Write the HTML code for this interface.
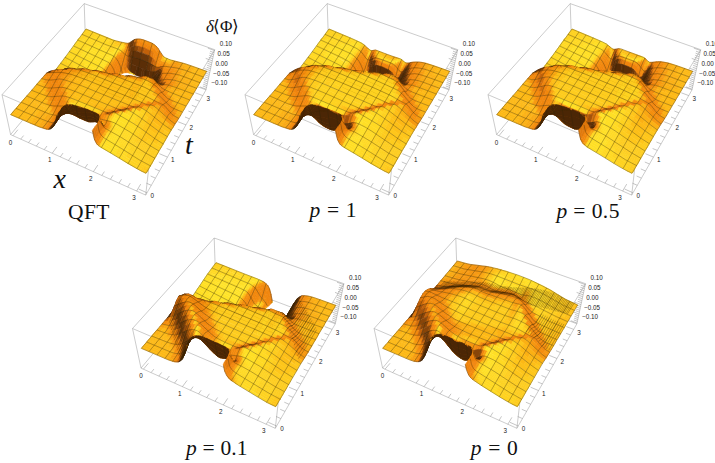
<!DOCTYPE html>
<html><head><meta charset="utf-8"><style>
html,body{margin:0;padding:0;background:#fff}
svg{display:block}
g path{stroke-width:1.8;stroke-linejoin:round}
.m{fill:none;stroke:#2e2505;stroke-opacity:.62;stroke-width:1.65;stroke-linejoin:round}
.r{fill:none;stroke:#2a1e00;stroke-opacity:.6;stroke-width:1.5}
.bx{fill:none;stroke:#999;stroke-width:.5}
.tk{fill:none;stroke:#8c8c8c;stroke-width:.5}
.tl,.tz{font-family:"Liberation Sans",sans-serif;font-size:6.3px;fill:#222}
.ti{font-family:"Liberation Serif",serif;font-size:21.5px;fill:#111}
.it{font-style:italic}
.ax{font-family:"Liberation Serif",serif;font-style:italic;font-size:28px;fill:#111}
.lab{font-family:"Liberation Serif",serif;font-size:17px;fill:#111}

.c0{fill:#4b2605;stroke:#4b2605}
.c1{fill:#4f2805;stroke:#4f2805}
.c2{fill:#542a06;stroke:#542a06}
.c3{fill:#5b2e07;stroke:#5b2e07}
.c4{fill:#633208;stroke:#633208}
.c5{fill:#6b3709;stroke:#6b3709}
.c6{fill:#884509;stroke:#884509}
.c7{fill:#a6530a;stroke:#a6530a}
.c8{fill:#c1610a;stroke:#c1610a}
.c9{fill:#d16d0b;stroke:#d16d0b}
.c10{fill:#e1790c;stroke:#e1790c}
.c11{fill:#f0840d;stroke:#f0840d}
.c12{fill:#f1850d;stroke:#f1850d}
.c13{fill:#f1860d;stroke:#f1860d}
.c14{fill:#f1870d;stroke:#f1870d}
.c15{fill:#f2880d;stroke:#f2880d}
.c16{fill:#f2890e;stroke:#f2890e}
.c17{fill:#f38a0e;stroke:#f38a0e}
.c18{fill:#f38b0e;stroke:#f38b0e}
.c19{fill:#f48c0e;stroke:#f48c0e}
.c20{fill:#f48d0e;stroke:#f48d0e}
.c21{fill:#f48f0e;stroke:#f48f0e}
.c22{fill:#f5910f;stroke:#f5910f}
.c23{fill:#f5930f;stroke:#f5930f}
.c24{fill:#f5960f;stroke:#f5960f}
.c25{fill:#f69810;stroke:#f69810}
.c26{fill:#f69a10;stroke:#f69a10}
.c27{fill:#f79f11;stroke:#f79f11}
.c28{fill:#f9a813;stroke:#f9a813}
.c29{fill:#fbb014;stroke:#fbb014}
.c30{fill:#fdb916;stroke:#fdb916}
.c31{fill:#fdbf18;stroke:#fdbf18}
.c32{fill:#fec61b;stroke:#fec61b}
.c33{fill:#fecc1e;stroke:#fecc1e}
.c34{fill:#fed220;stroke:#fed220}
.c35{fill:#ffd923;stroke:#ffd923}
.c36{fill:#ffdf25;stroke:#ffdf25}
.c37{fill:#ffe328;stroke:#ffe328}
.c38{fill:#ffe52a;stroke:#ffe52a}
.c39{fill:#ffe82d;stroke:#ffe82d}
.cb{fill:#4b2605;stroke:#4b2605}</style></head><body>
<svg width="715" height="463" viewBox="0 0 715 463">
<path class="bx" d="M10.6 134.6L145.7 195.1M145.7 195.1L206.0 89.9M206.0 89.9L85.6 44.6M85.6 44.6L10.6 134.6M2.0 94.7L149.9 157.8M149.9 157.8L214.7 49.7M214.7 49.7L84.2 3.6M84.2 3.6L2.0 94.7M10.6 134.6L2.0 94.7M145.7 195.1L149.9 157.8M206.0 89.9L214.7 49.7M85.6 44.6L84.2 3.6"/>
<path class="tk" d="M13.0 135.7L17.9 129.7M20.7 139.1L23.6 135.6M28.5 142.6L31.3 139.0M36.3 146.1L39.1 142.5M44.2 149.7L47.0 146.0M52.2 153.2L56.9 146.9M60.3 156.9L63.0 153.1M68.4 160.5L71.1 156.8M76.7 164.2L79.3 160.4M85.0 167.9L87.6 164.1M93.4 171.7L97.8 165.1M101.8 175.5L104.4 171.6M110.4 179.3L112.9 175.4M119.0 183.2L121.5 179.2M127.7 187.1L130.2 183.1M136.6 191.1L140.7 184.1M147.0 192.8L138.6 189.0M151.3 185.3L146.4 183.2M155.4 178.1L150.6 176.0M159.5 171.0L154.8 168.9M163.5 164.0L158.8 162.0M167.5 157.1L159.4 153.7M171.3 150.4L166.6 148.5M175.1 143.9L170.4 142.0M178.8 137.4L174.2 135.5M182.4 131.1L177.8 129.3M186.0 124.9L178.2 121.8M189.4 118.8L185.0 117.0M192.9 112.8L188.4 111.1M196.2 107.0L191.8 105.3M199.5 101.2L195.1 99.6M202.8 95.6L195.3 92.8M206.2 89.2L200.0 86.9M206.6 87.4L202.8 86.0M207.0 85.6L203.2 84.2M207.3 83.8L203.6 82.4M207.7 81.9L204.0 80.5M208.1 80.1L201.8 77.8M208.5 78.2L204.7 76.8M208.9 76.3L205.1 74.9M209.3 74.4L205.5 73.0M209.8 72.5L205.9 71.1M210.2 70.6L203.7 68.3M210.6 68.7L206.7 67.3M211.0 66.7L207.1 65.3M211.4 64.7L207.5 63.3M211.8 62.8L207.9 61.3M212.3 60.8L205.7 58.4M212.7 58.7L208.7 57.3M213.1 56.7L209.2 55.3M213.6 54.7L209.6 53.2M214.0 52.6L210.0 51.2M214.5 50.5L207.8 48.1"/>
<g transform="scale(0.333333)">
<path class="c33" d="M255 91l10 4 3-4-10-4z"/>
<path class="c34" d="M265 95l76 31 2-5-75-30z"/>
<path class="c33" d="M341 126l5 2 3-5-6-2z"/>
<path class="c32" d="M346 128l5 1 3-5-5-1z"/>
<path class="c31" d="M351 129l6 1 3-4-6-2z"/>
<path class="c30" d="M357 130l5 2 3-5-5-1z"/>
<path class="c31" d="M362 132l6 1 3-5-6-1z"/>
<path class="c32" d="M368 133l5 2 3-6-5-1z"/>
<path class="c28" d="M373 135l6 2 3-7-6-1z"/>
<path class="c15" d="M379 137l6 0 3-8-6 1z"/>
<path class="c6" d="M385 137l5-3 4-9-6 4z"/>
<path class="c4" d="M390 134l6-3 4-10-6 4z"/>
<path class="c5" d="M396 131l6-3 3-10-5 3z"/>
<path class="c9" d="M402 128l6-2 3-9-6 1z"/>
<path class="c14" d="M408 126l6 0 3-9-6 0z"/>
<path class="c17" d="M414 126l6 1 3-9-6-1z"/>
<path class="c19" d="M420 127l5 1 4-9-6-1z"/>
<path class="c21" d="M425 128l12 4 3-9-11-4z"/>
<path class="c22" d="M437 132l17 8 3-10-17-7z"/>
<path class="c23" d="M454 140l6 3 3-9-6-4z"/>
<path class="c22" d="M460 143l5 5 4-9-6-5z"/>
<path class="c20" d="M465 148l6 6 3-9-5-6z"/>
<path class="c17" d="M471 154l10 16 3-9-10-16z"/>
<path class="c21" d="M481 170l5 6 3-8-5-7z"/>
<path class="c31" d="M486 176l6 3 3-6-6-5z"/>
<path class="c35" d="M492 179l6 2 3-6-6-2z"/>
<path class="c34" d="M498 181l6 2 2-5-5-3z"/>
<path class="c33" d="M504 183l5 1 3-4-6-2z"/>
<path class="c32" d="M509 184l6 2 3-5-6-1z"/>
<path class="c29" d="M515 186l6 1 3-4-6-2z"/>
<path class="c27" d="M521 187l12 3 3-4-12-3z"/>
<path class="c28" d="M533 190l12 3 3-4-12-3z"/>
<path class="c29" d="M545 193l36 12 3-4-36-12z"/>
<path class="c30" d="M581 205l36 13 3-4-36-13z"/>
<path class="c34" d="M252 95l42 18 3-4-42-18z"/>
<path class="c35" d="M294 113l33 13 3-4-33-13z"/>
<path class="c34" d="M327 126l11 4 3-4-11-4z"/>
<path class="c33" d="M338 130l5 2 3-4-5-2z"/>
<path class="c32" d="M343 132l17 5 2-5-16-4z"/>
<path class="c34" d="M360 137l5 2 3-6-6-1z"/>
<path class="c35" d="M365 139l6 2 2-6-5-2z"/>
<path class="c32" d="M371 141l5 3 3-7-6-2z"/>
<path class="c21" d="M376 144l6 1 3-8-6 0z"/>
<path class="c8" d="M382 145l5-1 3-10-5 3z"/>
<path class="c5" d="M387 144l12-5 3-11-12 6z"/>
<path class="c6" d="M399 139l6-1 3-12-6 2z"/>
<path class="c9" d="M405 138l6 0 3-12-6 0z"/>
<path class="c11" d="M411 138l5 1 4-12-6-1z"/>
<path class="c12" d="M416 139l12 3 3-12-11-3z"/>
<path class="c13" d="M428 142l11 4 4-12-12-4z"/>
<path class="c14" d="M439 146l12 6 3-12-11-6z"/>
<path class="c15" d="M451 152l11 8 10 13 4-11-11-14-11-8z"/>
<path class="c17" d="M472 173l6 7 3-10-5-8z"/>
<path class="c23" d="M478 180l5 4 3-8-5-6z"/>
<path class="c30" d="M483 184l12 3 3-6-6-2-6-3z"/>
<path class="c31" d="M495 187l12 2 2-5-11-3z"/>
<path class="c30" d="M507 189l6 2 2-5-6-2z"/>
<path class="c28" d="M513 191l6 1 2-5-6-1z"/>
<path class="c26" d="M519 192l12 2 2-4-12-3z"/>
<path class="c27" d="M531 194l12 3 2-4-12-3z"/>
<path class="c29" d="M543 197l36 12 2-4-36-12z"/>
<path class="c30" d="M579 209l36 13 2-4-36-13z"/>
<path class="c34" d="M249 99l32 14 3-5-32-13z"/>
<path class="c35" d="M281 113l43 18 3-5-43-18z"/>
<path class="c34" d="M324 131l16 6 3-5-16-6z"/>
<path class="c33" d="M340 137l17 5 3-5-17-5z"/>
<path class="c36" d="M357 142l11 5 3-6-11-4z"/>
<path class="c33" d="M368 147l5 4 3-7-5-3z"/>
<path class="c25" d="M373 151l6 3 3-9-6-1z"/>
<path class="c12" d="M379 154l5 1 3-11-5 1z"/>
<path class="c6" d="M384 155l6 0 3-13-6 2z"/>
<path class="c5" d="M390 155l11-2 4-15-12 4z"/>
<path class="c6" d="M401 153l12 1 3-15-11-1z"/>
<path class="c7" d="M413 154l17 6 4-16-18-5z"/>
<path class="c8" d="M430 160l17 7 4-15-17-8z"/>
<path class="c9" d="M447 167l5 4 4-16-5-3z"/>
<path class="c10" d="M452 171l6 4 4-15-6-5z"/>
<path class="c11" d="M458 175l5 5 4-14-5-6z"/>
<path class="c13" d="M463 180l6 5 3-12-5-7z"/>
<path class="c16" d="M469 185l5 5 4-10-6-7z"/>
<path class="c21" d="M474 190l6 3 3-9-5-4z"/>
<path class="c24" d="M480 193l6 0 3-7-6-2z"/>
<path class="c23" d="M486 193l6 0 3-6-6-1z"/>
<path class="c26" d="M492 193l6 1 3-6-6-1z"/>
<path class="c28" d="M498 194l12 1 3-4-12-3z"/>
<path class="c27" d="M510 195l6 1 3-4-6-1z"/>
<path class="c25" d="M516 196l12 3 3-5-12-2z"/>
<path class="c27" d="M528 199l12 2 3-4-12-3z"/>
<path class="c28" d="M540 201l12 4 3-4-12-4z"/>
<path class="c29" d="M552 205l24 8 3-4-24-8z"/>
<path class="c30" d="M576 213l36 14 3-5-36-13z"/>
<path class="c34" d="M246 103l21 9 3-4-21-9z"/>
<path class="c35" d="M267 112l65 28 3-5-65-27z"/>
<path class="c34" d="M332 140l16 5 3-5-16-5z"/>
<path class="c35" d="M348 145l6 2 3-5-6-2z"/>
<path class="c37" d="M354 147l5 3 3-6-5-2z"/>
<path class="c35" d="M359 150l6 4 3-7-6-3z"/>
<path class="c30" d="M365 154l5 5 3-8-5-4z"/>
<path class="c24" d="M370 159l5 5 4-10-6-3z"/>
<path class="c15" d="M375 164l6 3 3-12-5-1z"/>
<path class="c8" d="M381 167l5 2 4-14-6 0z"/>
<path class="c5" d="M386 169l6 1 4-17-6 2z"/>
<path class="c4" d="M392 170l11 2 17 5 4-19-17-5-11 0z"/>
<path class="c5" d="M420 177l23 10 4-20-23-9z"/>
<path class="c6" d="M443 187l11 6 4-18-11-8z"/>
<path class="c8" d="M454 193l6 3 3-16-5-5z"/>
<path class="c9" d="M460 196l5 4 4-15-6-5z"/>
<path class="c12" d="M465 200l6 2 3-12-5-5z"/>
<path class="c15" d="M471 202l6 0 3-9-6-3z"/>
<path class="c14" d="M477 202l6-2 3-7-6 0z"/>
<path class="c15" d="M483 200l6-1 3-6-6 0z"/>
<path class="c20" d="M489 199l6 0 3-5-6-1z"/>
<path class="c25" d="M495 199l6 1 3-6-6 0z"/>
<path class="c26" d="M501 200l6 0 3-5-6-1z"/>
<path class="c25" d="M507 200l6 1 3-5-6-1z"/>
<path class="c24" d="M513 201l12 2 3-4-12-3z"/>
<path class="c26" d="M525 203l12 2 3-4-12-2z"/>
<path class="c28" d="M537 205l12 4 3-4-12-4z"/>
<path class="c29" d="M549 209l25 8 2-4-24-8z"/>
<path class="c30" d="M574 217l36 14 2-4-36-14z"/>
<path class="c34" d="M243 108l21 9 3-5-21-9z"/>
<path class="c35" d="M264 117l65 27 3-4-65-28z"/>
<path class="c34" d="M329 144l11 4 3-5-11-3z"/>
<path class="c35" d="M340 148l5 2 3-5-5-2z"/>
<path class="c36" d="M345 150l6 3 3-6-6-2z"/>
<path class="c37" d="M351 153l5 3 3-6-5-3z"/>
<path class="c33" d="M356 156l6 4 3-6-6-4z"/>
<path class="c25" d="M362 160l5 7 3-8-5-5z"/>
<path class="c20" d="M367 167l5 7 3-10-5-5z"/>
<path class="c15" d="M372 174l6 6 3-13-6-3z"/>
<path class="c9" d="M378 180l5 5 3-16-5-2z"/>
<path class="c6" d="M383 185l5 4 4-19-6-1z"/>
<path class="c4" d="M388 189l6 3 4-21-6-1z"/>
<path class="c3" d="M394 192l44 18 5-23-28-12-17-4z"/>
<path class="c4" d="M438 210l12 4 4-21-11-6z"/>
<path class="c5" d="M450 214l5 1 5-19-6-3z"/>
<path class="c6" d="M455 215l6 0 4-15-5-4z"/>
<path class="c7" d="M461 215l6-1 13-6 3-8-6 2-6 0-6-2z"/>
<path class="c8" d="M480 208l6-2 3-7-6 1z"/>
<path class="c14" d="M486 206l6-1 3-6-6 0z"/>
<path class="c21" d="M492 205l6 0 3-5-6-1z"/>
<path class="c23" d="M498 205l25 2 2-4-24-3z"/>
<path class="c26" d="M523 207l12 3 2-5-12-2z"/>
<path class="c28" d="M535 210l12 3 2-4-12-4z"/>
<path class="c29" d="M547 213l24 8 3-4-25-8z"/>
<path class="c30" d="M571 221l36 14 3-4-36-14z"/>
<path class="c34" d="M240 112l10 4 3-4-10-4z"/>
<path class="c35" d="M250 116l65 29 27 10 3-5-27-10-65-28z"/>
<path class="c37" d="M342 155l6 3 3-5-6-3z"/>
<path class="c36" d="M348 158l5 4 3-6-5-3z"/>
<path class="c29" d="M353 162l6 5 3-7-6-4z"/>
<path class="c21" d="M359 167l5 8 3-8-5-7z"/>
<path class="c16" d="M364 175l5 9 3-10-5-7z"/>
<path class="c13" d="M369 184l5 10 4-14-6-6z"/>
<path class="c10" d="M374 194l6 9 3-18-5-5z"/>
<path class="c7" d="M380 203l5 7 3-21-5-4z"/>
<path class="c5" d="M385 210l5 5 4-23-6-3z"/>
<path class="c3" d="M390 215l11 8 4-26-11-5zM401 223l4 2 1 0 4-26-5-2z"/>
<path class="c2" d="M412 227l4-26-6-2-4 26zM417 229l5-26-6-2-4 26zM423 231l4-25-5-3-5 26z"/>
<path class="c3" d="M428 234l5-26-6-2-4 25z"/>
<path class="c2" d="M432 235l2 0 4-25-5-2-5 26zM434 235l11 1 5-22-12-4z"/>
<path class="c3" d="M445 236l6-1 6-4 20-16 3-7-13 6-6 1-11-1z"/>
<path class="c5" d="M477 215l6-3 3-6-6 2z"/>
<path class="c10" d="M483 212l6-2 3-5-6 1z"/>
<path class="c17" d="M489 210l7 0 2-5-6 0z"/>
<path class="c21" d="M496 210l12 0 3-4-13-1z"/>
<path class="c22" d="M508 210l12 2 3-5-12-1z"/>
<path class="c25" d="M520 212l12 2 3-4-12-3z"/>
<path class="c28" d="M532 214l12 3 3-4-12-3z"/>
<path class="c29" d="M544 217l24 9 3-5-24-8z"/>
<path class="c30" d="M568 226l37 13 2-4-36-14z"/>
<path class="c34" d="M236 116l11 5 3-5-10-4z"/>
<path class="c35" d="M247 121l43 19 3-5-43-19z"/>
<path class="c36" d="M290 140l22 9 3-4-22-10z"/>
<path class="c35" d="M312 149l22 9 3-5-22-8z"/>
<path class="c36" d="M334 158l5 3 3-6-5-2z"/>
<path class="c37" d="M339 161l6 2 3-5-6-3z"/>
<path class="c35" d="M345 163l5 5 3-6-5-4z"/>
<path class="c25" d="M350 168l6 6 3-7-6-5z"/>
<path class="c17" d="M356 174l5 9 3-8-5-8z"/>
<path class="c14" d="M361 183l5 12 3-11-5-9z"/>
<path class="c12" d="M366 195l5 13 3-14-5-10z"/>
<path class="c10" d="M371 208l4 10 2 0 3-15-6-9z"/>
<path class="c11" d="M383 218l2-8-5-7-3 15z"/>
<path class="c22" d="M389 220l1-5-5-5-2 8z"/>
<path class="c35" d="M395 221l0-1-5-5-1 5z"/>
<path class="c36" d="M401 223l-6-3 0 1z"/>
<path class="c32" d="M405 225l-4-2z"/>
<path class="c30" d="M434 236l0-1-2 0z"/>
<path class="c31" d="M439 238l0-2-5-1 0 1z"/>
<path class="c26" d="M444 241l1-5-6 0 0 2z"/>
<path class="c13" d="M449 244l2-9-6 1-1 5z"/>
<path class="c5" d="M453 248l4-17-6 4-2 9z"/>
<path class="c1" d="M453 248l7-8 4-14-7 5-4 17zM460 240l14-17 3-8-13 11z"/>
<path class="c3" d="M474 223l6-5 3-6-6 3z"/>
<path class="c6" d="M480 218l7-2 2-6-6 2z"/>
<path class="c14" d="M487 216l6-1 3-5-7 0z"/>
<path class="c18" d="M493 215l6 0 3-5-6 0z"/>
<path class="c19" d="M499 215l6 0 3-5-6 0z"/>
<path class="c20" d="M505 215l12 1 3-4-12-2z"/>
<path class="c24" d="M517 216l13 2 2-4-12-2z"/>
<path class="c27" d="M530 218l12 3 2-4-12-3z"/>
<path class="c29" d="M542 221l24 9 2-4-24-9z"/>
<path class="c30" d="M566 230l36 13 3-4-37-13z"/>
<path class="c35" d="M233 120l43 20 3-5-43-19z"/>
<path class="c36" d="M276 140l60 26 3-5-60-26z"/>
<path class="c37" d="M336 166l6 3 3-6-6-2z"/>
<path class="c33" d="M342 169l5 5 3-6-5-5z"/>
<path class="c22" d="M347 174l6 7 3-7-6-6z"/>
<path class="c15" d="M353 181l5 10 3-8-5-9z"/>
<path class="c12" d="M358 191l5 15 3-11-5-12z"/>
<path class="c11" d="M363 206l4 14 1 0 3-12-5-13z"/>
<path class="c21" d="M375 218l-4-10-3 12z"/>
<path class="c3" d="M456 254l0-1 4-13-7 8z"/>
<path class="c0" d="M456 253l8-12 3-10-7 9z"/>
<path class="c1" d="M464 241l7-10 6-6 3-7-6 5-7 8z"/>
<path class="c4" d="M477 225l7-3 3-6-7 2z"/>
<path class="c10" d="M484 222l6-2 3-5-6 1z"/>
<path class="c16" d="M490 220l6 0 3-5-6 0z"/>
<path class="c17" d="M496 220l6 0 3-5-6 0z"/>
<path class="c19" d="M502 220l13 0 2-4-12-1z"/>
<path class="c24" d="M515 220l12 2 3-4-13-2z"/>
<path class="c27" d="M527 222l12 4 3-5-12-3z"/>
<path class="c29" d="M539 226l24 8 3-4-24-9z"/>
<path class="c30" d="M563 234l37 14 2-5-36-13z"/>
<path class="c35" d="M230 125l43 19 3-4-43-20z"/>
<path class="c36" d="M273 144l55 24 3-5-55-23z"/>
<path class="c37" d="M328 168l11 6 3-5-11-6z"/>
<path class="c30" d="M339 174l5 6 3-6-5-5z"/>
<path class="c19" d="M344 180l6 8 3-7-6-7z"/>
<path class="c13" d="M350 188l5 12 3-9-5-10z"/>
<path class="c11" d="M355 200l5 16 3-10-5-15z"/>
<path class="c13" d="M360 216l2 7 5-3-4-14z"/>
<path class="c29" d="M456 255l0-2 0 1z"/>
<path class="c0" d="M456 259l4-8 4-10-8 12 0 2zM460 251l7-12 4-8-7 10z"/>
<path class="c1" d="M467 239l7-7 3-7-6 6z"/>
<path class="c3" d="M474 232l7-4 3-6-7 3z"/>
<path class="c8" d="M481 228l6-2 3-6-6 2z"/>
<path class="c13" d="M487 226l6-1 3-5-6 0z"/>
<path class="c15" d="M493 225l7 0 2-5-6 0z"/>
<path class="c18" d="M500 225l12 0 3-5-13 0z"/>
<path class="c23" d="M512 225l12 2 3-5-12-2z"/>
<path class="c27" d="M524 227l12 3 3-4-12-4z"/>
<path class="c29" d="M536 230l37 13 3-5-37-12z"/>
<path class="c30" d="M573 243l24 9 3-4-24-10z"/>
<path class="c35" d="M227 129l32 15 4-5-33-14z"/>
<path class="c36" d="M259 144l66 29 3-5-65-29z"/>
<path class="c37" d="M325 173l5 3 3-5-5-3z"/>
<path class="c36" d="M330 176l6 4 3-6-6-3z"/>
<path class="c28" d="M336 180l5 6 3-6-5-6z"/>
<path class="c17" d="M341 186l6 9 3-7-6-8z"/>
<path class="c12" d="M347 195l5 13 3-8-5-12z"/>
<path class="c11" d="M352 208l5 18 0-1 3-9-5-16z"/>
<path class="c28" d="M362 223l-2-7-3 9z"/>
<path class="c2" d="M456 264l1-3 3-10-4 8z"/>
<path class="c0" d="M457 261l7-14 7-9 3-6-7 7-7 12z"/>
<path class="c2" d="M471 238l7-5 3-5-7 4z"/>
<path class="c6" d="M478 233l6-2 3-5-6 2z"/>
<path class="c11" d="M484 231l6-1 3-5-6 1z"/>
<path class="c13" d="M490 230l7-1 3-4-7 0z"/>
<path class="c16" d="M497 229l12 0 3-4-12 0z"/>
<path class="c22" d="M509 229l13 2 2-4-12-2z"/>
<path class="c27" d="M522 231l12 3 2-4-12-3z"/>
<path class="c29" d="M534 234l36 13 3-4-37-13z"/>
<path class="c30" d="M570 247l25 9 2-4-24-9z"/>
<path class="c35" d="M224 133l32 15 3-4-32-15z"/>
<path class="c36" d="M256 148l60 28 3-5-60-27z"/>
<path class="c37" d="M316 176l11 6 3-6-11-5z"/>
<path class="c35" d="M327 182l6 4 3-6-6-4z"/>
<path class="c26" d="M333 186l5 6 3-6-5-6z"/>
<path class="c16" d="M338 192l6 10 3-7-6-9z"/>
<path class="c12" d="M344 202l5 15 3-9-5-13z"/>
<path class="c11" d="M349 217l3 12 5-3-5-18z"/>
<path class="c21" d="M455 267l2-6-1 3z"/>
<path class="c0" d="M455 269l6-14 3-8-7 14-2 6zM461 255l7-10 3-7-7 9z"/>
<path class="c1" d="M468 245l7-6 3-6-7 5z"/>
<path class="c5" d="M475 239l6-2 3-6-6 2z"/>
<path class="c9" d="M481 237l7-2 2-5-6 1z"/>
<path class="c12" d="M488 235l6-1 3-5-7 1z"/>
<path class="c15" d="M494 234l12 0 3-5-12 0z"/>
<path class="c21" d="M506 234l13 1 3-4-13-2z"/>
<path class="c26" d="M519 235l12 3 3-4-12-3z"/>
<path class="c28" d="M531 238l12 4 3-4-12-4z"/>
<path class="c29" d="M543 242l25 9 2-4-24-9z"/>
<path class="c30" d="M568 251l24 9 3-4-25-9z"/>
<path class="c35" d="M221 138l32 15 3-5-32-15z"/>
<path class="c36" d="M253 153l60 28 3-5-60-28z"/>
<path class="c37" d="M313 181l11 6 3-5-11-6z"/>
<path class="c34" d="M324 187l6 4 3-5-6-4z"/>
<path class="c23" d="M330 191l5 7 3-6-5-6z"/>
<path class="c15" d="M335 198l6 10 3-6-6-10z"/>
<path class="c11" d="M341 208l5 17 3-8-5-15z"/>
<path class="c13" d="M346 225l2 7 4-3-3-12z"/>
<path class="c0" d="M453 273l5-10 3-8-6 14zM458 263l7-12 3-6-7 10z"/>
<path class="c1" d="M465 251l7-6 3-6-7 6z"/>
<path class="c4" d="M472 245l6-3 3-5-6 2z"/>
<path class="c7" d="M478 242l7-2 3-5-7 2z"/>
<path class="c10" d="M485 240l6-1 3-5-6 1z"/>
<path class="c13" d="M491 239l13-1 2-4-12 0z"/>
<path class="c20" d="M504 238l12 2 3-5-13-1z"/>
<path class="c26" d="M516 240l12 3 3-5-12-3z"/>
<path class="c28" d="M528 243l13 3 2-4-12-4z"/>
<path class="c29" d="M541 246l24 9 3-4-25-9z"/>
<path class="c30" d="M565 255l25 10 2-5-24-9z"/>
<path class="c35" d="M218 142l32 15 3-4-32-15z"/>
<path class="c36" d="M250 157l60 29 3-5-60-28z"/>
<path class="c37" d="M310 186l11 6 3-5-11-6z"/>
<path class="c32" d="M321 192l6 5 3-6-6-4z"/>
<path class="c22" d="M327 197l5 7 3-6-5-7z"/>
<path class="c14" d="M332 204l6 11 3-7-6-10z"/>
<path class="c11" d="M338 215l5 18 3-8-5-17z"/>
<path class="c21" d="M343 233l1 3 4-4-2-7z"/>
<path class="c0" d="M452 278l3-8 3-7-5 10zM455 270l7-12 3-7-7 12z"/>
<path class="c1" d="M462 258l7-7 3-6-7 6z"/>
<path class="c3" d="M469 251l7-4 2-5-6 3z"/>
<path class="c6" d="M476 247l6-2 3-5-7 2z"/>
<path class="c8" d="M482 245l6-1 3-5-6 1z"/>
<path class="c12" d="M488 244l13-1 3-5-13 1z"/>
<path class="c19" d="M501 243l12 1 3-4-12-2z"/>
<path class="c25" d="M513 244l13 3 2-4-12-3z"/>
<path class="c28" d="M526 247l12 4 3-5-13-3z"/>
<path class="c29" d="M538 251l37 13 3-4-37-14z"/>
<path class="c30" d="M575 264l12 5 3-4-12-5z"/>
<path class="c35" d="M215 146l32 16 3-5-32-15z"/>
<path class="c36" d="M247 162l55 26 3-5-55-26z"/>
<path class="c37" d="M302 188l11 6 3-5-11-6z"/>
<path class="c36" d="M313 194l5 4 3-6-5-3z"/>
<path class="c31" d="M318 198l6 4 3-5-6-5z"/>
<path class="c20" d="M324 202l5 8 3-6-5-7z"/>
<path class="c13" d="M329 210l6 12 3-7-6-11z"/>
<path class="c11" d="M335 222l5 17 1-1 2-5-5-18z"/>
<path class="c36" d="M344 236l-1-3-2 5z"/>
<path class="c1" d="M450 282l2-4 3-8-3 8z"/>
<path class="c0" d="M452 278l7-14 7-7 3-6-7 7-7 12z"/>
<path class="c2" d="M466 257l7-5 3-5-7 4z"/>
<path class="c5" d="M473 252l6-2 3-5-6 2z"/>
<path class="c7" d="M479 250l7-1 2-5-6 1z"/>
<path class="c10" d="M486 249l12-2 3-4-13 1z"/>
<path class="c18" d="M498 247l13 1 2-4-12-1z"/>
<path class="c24" d="M511 248l12 3 3-4-13-3z"/>
<path class="c27" d="M523 251l12 4 3-4-12-4z"/>
<path class="c29" d="M535 255l25 9 3-4-25-9z"/>
<path class="c30" d="M560 264l25 9 2-4-24-9z"/>
<path class="c35" d="M208 155l33 16 6-9-32-16z"/>
<path class="c36" d="M241 171l55 27 6-10-55-26z"/>
<path class="c37" d="M296 198l11 6 6-10-11-6z"/>
<path class="c36" d="M307 204l5 4 6-10-5-4z"/>
<path class="c29" d="M312 208l6 5 6-11-6-4z"/>
<path class="c18" d="M318 213l5 9 6-12-5-8z"/>
<path class="c12" d="M323 222l6 13 6-13-6-12zM329 235l3 11 8-7-5-17z"/>
<path class="c8" d="M446 291l0-1 6-12-2 4z"/>
<path class="cb" d="M446 290l8-15 5-11-7 14z"/>
<path class="c0" d="M454 275l7-10 5-8-7 7z"/>
<path class="c1" d="M461 265l6-5 6-8-7 5z"/>
<path class="c2" d="M467 260l7-3 5-7-6 2z"/>
<path class="c3" d="M474 257l6-2 6-6-7 1z"/>
<path class="c6" d="M480 255l13-1 5-7-12 2z"/>
<path class="c14" d="M493 254l13 1 5-7-13-1z"/>
<path class="c22" d="M506 255l12 4 5-8-12-3z"/>
<path class="c27" d="M518 259l12 4 5-8-12-4z"/>
<path class="c29" d="M530 263l25 10 5-9-25-9z"/>
<path class="c30" d="M555 273l25 9 5-9-25-9z"/>
<path class="c35" d="M202 164l44 22 6-9-44-22z"/>
<path class="c36" d="M246 186l44 22 6-10-44-21z"/>
<path class="c37" d="M290 208l5 3 6-10-5-3z"/>
<path class="c36" d="M295 211l6 3 6-10-6-3z"/>
<path class="c34" d="M301 214l5 5 6-11-5-4z"/>
<path class="c26" d="M306 219l6 5 6-11-6-5z"/>
<path class="c17" d="M312 224l5 9 6-11-5-9z"/>
<path class="c12" d="M317 233l6 15 6-13-6-13z"/>
<path class="c15" d="M323 248l1 6 8-8-3-11z"/>
<path class="cb" d="M436 298l6-17 4 9 0 1zM442 281l8-16 7-9 6-4 7 0 6 1 4 2-13 5-6 5-7 10-8 15z"/>
<path class="c5" d="M476 253l12 5 5-4-13 1z"/>
<path class="c16" d="M488 258l12 4 6-7-13-1z"/>
<path class="c26" d="M500 262l12 5 6-8-12-4z"/>
<path class="c29" d="M512 267l25 10 5-9-24-9z"/>
<path class="c30" d="M537 277l37 14 6-9-38-14z"/>
<path class="c35" d="M195 172l55 29 7-10-55-27z"/>
<path class="c36" d="M250 201l45 23 6-10-44-23z"/>
<path class="c33" d="M295 224l5 5 6-10-5-5z"/>
<path class="c24" d="M300 229l6 6 6-11-6-5z"/>
<path class="c15" d="M306 235l5 10 6-12-5-9z"/>
<path class="c12" d="M311 245l6 15 6-12-6-15z"/>
<path class="c27" d="M317 260l0 1 7-7-1-6z"/>
<path class="cb" d="M414 300l5-13 0 13zM419 287l7-20 0 32-7 1zM426 267l8-16 0 47-8 1zM434 251l7-11 1 41-6 17-2 0zM441 240l7-5 6 0 6 3 12 11 4 4-6-1-7 0-6 4-7 9-8 16z"/>
<path class="c10" d="M472 249l11 12 5-3-12-5z"/>
<path class="c20" d="M483 261l12 9 5-8-12-4z"/>
<path class="c28" d="M495 270l12 6 5-9-12-5z"/>
<path class="c29" d="M507 276l12 5 6-9-13-5z"/>
<path class="c30" d="M519 281l50 19 5-9-49-19z"/>
<path class="c34" d="M189 181l11 6 6-9-11-6z"/>
<path class="c35" d="M200 187l55 29 6-9-55-29z"/>
<path class="c36" d="M255 216l28 15 6-10-28-14z"/>
<path class="c35" d="M283 231l5 3 7-10-6-3z"/>
<path class="c32" d="M288 234l6 5 6-10-5-5z"/>
<path class="c23" d="M294 239l6 6 6-10-6-6z"/>
<path class="c15" d="M300 245l5 10 6-10-5-10z"/>
<path class="c12" d="M305 255l5 14 4-4 3-5-6-15z"/>
<path class="c33" d="M317 261l0-1-3 5z"/>
<path class="c4" d="M376 295l2-5 0 5z"/>
<path class="cb" d="M378 290l7-15 0 21-7-1zM385 275l6-14 0 36-6-1zM391 261l7-11 0 48-7-1zM398 250l7-8 0 57-7-1zM405 242l6-5 0 63-6-1zM411 237l7-4 1 54-5 13-3 0zM418 233l12-3 7 0 12 5 5 0-6 0-7 5-7 11-15 36z"/>
<path class="c9" d="M449 235l6 3 5 0-6-3z"/>
<path class="c11" d="M455 238l12 11 11 14 5-2-23-23z"/>
<path class="c14" d="M478 263l12 12 5-5-12-9z"/>
<path class="c23" d="M490 275l11 9 6-8-12-6z"/>
<path class="c29" d="M501 284l13 5 5-8-12-5z"/>
<path class="c30" d="M514 289l50 20 5-9-50-19z"/>
<path class="c34" d="M182 190l33 17 7-9-33-17z"/>
<path class="c35" d="M215 207l56 30 6-9-55-30z"/>
<path class="c34" d="M271 237l6 3 6-9-6-3z"/>
<path class="c33" d="M277 240l5 3 6-9-5-3z"/>
<path class="c29" d="M282 243l6 4 6-8-6-5z"/>
<path class="c21" d="M288 247l5 5 7-7-6-6z"/>
<path class="c14" d="M293 252l6 9 6-6-5-10z"/>
<path class="c12" d="M299 261l6 12 4-2 1-2-5-14z"/>
<path class="c21" d="M305 273l2 5 2-7z"/>
<path class="c1" d="M335 290l3-8 1 8z"/>
<path class="cb" d="M338 282l6-14 1 23-6-1zM344 268l7-13 1 37-7-1zM351 255l6-10 1 48-6-1zM357 245l6-8 2 57-7-1zM363 237l6-5 2 63-6-1zM369 232l6-3 3 61-2 5-5 0zM375 229l13-2 12 2 12 3 6 1-7 4-6 5-7 8-7 11-13 29z"/>
<path class="c4" d="M412 232l6 2 6-3-6 2z"/>
<path class="c8" d="M418 234l7 2 5-6-6 1z"/>
<path class="c15" d="M425 236l6 2 6-8-7 0z"/>
<path class="c24" d="M431 238l6 2 6-8-6-2z"/>
<path class="c28" d="M437 240l6 3 6-8-6-3z"/>
<path class="c27" d="M443 243l6 3 6-8-6-3z"/>
<path class="c23" d="M449 246l6 3 6-6-6-5z"/>
<path class="c17" d="M455 249l6 4 6-4-6-6z"/>
<path class="c13" d="M461 253l12 11 5-1-11-14z"/>
<path class="c12" d="M473 264l12 13 5-2-12-12z"/>
<path class="c15" d="M485 277l11 12 5-5-11-9z"/>
<path class="c24" d="M496 289l12 9 6-9-13-5z"/>
<path class="c29" d="M508 298l13 5 5-9-12-5z"/>
<path class="c30" d="M521 303l37 15 6-9-38-15z"/>
<path class="c34" d="M176 198l55 30 7-9-56-29z"/>
<path class="c32" d="M231 228l11 5 7-8-11-6z"/>
<path class="c28" d="M242 233l11 5 7-7-11-6z"/>
<path class="c19" d="M253 238l12 3 6-4-11-6z"/>
<path class="c10" d="M265 241l5 0 7-1-6-3z"/>
<path class="c6" d="M270 241l6 0 6 2-5-3z"/>
<path class="cb" d="M276 241l22-2 7 34-6-12-6-9-11-9zM298 239l6 0 5 42-2-3-2-5zM304 239l6-2 4 47-5-3zM310 237l6-3 4 53-6-3zM316 234l5-5 5 59-6-1zM321 229l6-3 5 63-6-1zM327 226l6-3 5 59-3 8-3-1zM333 223l6-1 12 0 25 7 6-1-7 1-6 3-6 5-6 8-6 10-13 27z"/>
<path class="c7" d="M376 229l6 2 6-4-6 1z"/>
<path class="c12" d="M382 231l6 2 6-5-6-1z"/>
<path class="c18" d="M388 233l6 3 6-7-6-1z"/>
<path class="c22" d="M394 236l6 2 6-7-6-2z"/>
<path class="c25" d="M400 238l6 2 6-8-6-1z"/>
<path class="c27" d="M406 240l13 5 6-9-13-4z"/>
<path class="c28" d="M419 245l6 2 6-9-6-2z"/>
<path class="c31" d="M425 247l6 2 6-9-6-2z"/>
<path class="c32" d="M431 249l12 6 6-9-12-6z"/>
<path class="c31" d="M443 255l7 3 5-9-6-3z"/>
<path class="c29" d="M450 258l6 3 5-8-6-4z"/>
<path class="c20" d="M456 261l12 7 5-4-12-11z"/>
<path class="c14" d="M468 268l12 11 5-2-12-13z"/>
<path class="c13" d="M480 279l11 13 5-3-11-12z"/>
<path class="c16" d="M491 292l12 12 5-6-12-9z"/>
<path class="c25" d="M503 304l12 8 6-9-13-5z"/>
<path class="c29" d="M515 312l13 5 5-9-12-5z"/>
<path class="c30" d="M528 317l25 10 5-9-25-10z"/>
<path class="c33" d="M169 207l22 11 7-8-22-12z"/>
<path class="c32" d="M191 218l11 6 7-8-11-6z"/>
<path class="c28" d="M202 224l11 5 7-7-11-6z"/>
<path class="c20" d="M213 229l11 3 7-4-11-6z"/>
<path class="c8" d="M224 232l11 0 7 1-11-5z"/>
<path class="cb" d="M235 232l11-3 22-14 12-3 11 0 36 10 6 1-6 3-17 11-6 2-34 2-17-3-11-5z"/>
<path class="c4" d="M327 222l6 2 6-2-6 1z"/>
<path class="c8" d="M333 224l6 2 6-4-6 0z"/>
<path class="c13" d="M339 226l6 2 6-6-6 0z"/>
<path class="c18" d="M345 228l6 2 6-6-6-2z"/>
<path class="c22" d="M351 230l6 3 7-8-7-1z"/>
<path class="c25" d="M357 233l6 2 7-8-6-2z"/>
<path class="c27" d="M363 235l6 2 7-8-6-2z"/>
<path class="c28" d="M369 237l7 3 6-9-6-2z"/>
<path class="c29" d="M376 240l6 2 6-9-6-2z"/>
<path class="c30" d="M382 242l37 14 6-9-37-14z"/>
<path class="c31" d="M419 256l6 2 6-9-6-2z"/>
<path class="c32" d="M425 258l25 12 6-9-25-12z"/>
<path class="c29" d="M450 270l12 6 6-8-12-7z"/>
<path class="c20" d="M462 276l12 8 6-5-12-11z"/>
<path class="c14" d="M474 284l12 11 12 13 5-4-23-25z"/>
<path class="c18" d="M498 308l12 11 5-7-12-8z"/>
<path class="c26" d="M510 319l12 7 6-9-13-5z"/>
<path class="c29" d="M522 326l13 5 5-9-12-5z"/>
<path class="c30" d="M535 331l12 5 6-9-13-5z"/>
<path class="c29" d="M162 215l11 5 7-7-11-6z"/>
<path class="c22" d="M173 220l11 3 7-5-11-5z"/>
<path class="c10" d="M184 223l11 2 7-1-11-6z"/>
<path class="cb" d="M195 225l11-3 21-11 11-4 12-1 5 1 18 4 7 1-12 3-22 14-11 3-11 0-11-3-11-5z"/>
<path class="c5" d="M273 211l6 2 7-2-6 1z"/>
<path class="c8" d="M279 213l6 2 6-3-5-1z"/>
<path class="c12" d="M285 215l6 2 6-4-6-1z"/>
<path class="c15" d="M291 217l6 3 6-5-6-2z"/>
<path class="c18" d="M297 220l6 2 6-6-6-1z"/>
<path class="c20" d="M303 222l6 3 6-7-6-2z"/>
<path class="c23" d="M309 225l6 2 6-7-6-2z"/>
<path class="c25" d="M315 227l6 2 6-7-6-2z"/>
<path class="c27" d="M321 229l6 3 6-8-6-2z"/>
<path class="c28" d="M327 232l6 2 6-8-6-2z"/>
<path class="c29" d="M333 234l6 3 6-9-6-2z"/>
<path class="c30" d="M339 237l36 14 7-9-37-14z"/>
<path class="c31" d="M375 251l19 8 6-10-18-7z"/>
<path class="c30" d="M394 259l18 6 7-9-19-7z"/>
<path class="c31" d="M412 265l7 3 6-10-6-2z"/>
<path class="c32" d="M419 268l37 17 6-9-37-18z"/>
<path class="c29" d="M456 285l13 7 5-8-12-8z"/>
<path class="c21" d="M469 292l12 8 5-5-12-11z"/>
<path class="c15" d="M481 300l12 11 5-3-12-13z"/>
<path class="c14" d="M493 311l12 11 5-3-12-11z"/>
<path class="c17" d="M505 322l12 11 5-7-12-7z"/>
<path class="c26" d="M517 333l12 7 6-9-13-5z"/>
<path class="c29" d="M529 340l13 6 5-10-12-5z"/>
<path class="c6" d="M155 219l10-1 8 2-11-5z"/>
<path class="cb" d="M165 218l32-12 11-1 11 0 12 3 7-1-11 4-21 11-11 3-11-2-11-3z"/>
<path class="c7" d="M231 208l12 3 7-5-12 1z"/>
<path class="c14" d="M243 211l5 2 7-6-5-1z"/>
<path class="c18" d="M248 213l6 2 7-7-6-1z"/>
<path class="c22" d="M254 215l6 2 7-8-6-1z"/>
<path class="c25" d="M260 217l6 2 7-8-6-2z"/>
<path class="c27" d="M266 219l6 2 7-8-6-2z"/>
<path class="c29" d="M272 221l6 2 7-8-6-2z"/>
<path class="c30" d="M278 223l6 3 7-9-6-2z"/>
<path class="c31" d="M284 226l6 3 7-9-6-3z"/>
<path class="c30" d="M290 229l42 17 7-9-42-17z"/>
<path class="c31" d="M332 246l62 24 6-9-61-24z"/>
<path class="c30" d="M394 270l12 5 6-10-12-4z"/>
<path class="c31" d="M406 275l6 2 7-9-7-3z"/>
<path class="c32" d="M412 277l26 12 25 12 6-9-25-13-25-11z"/>
<path class="c28" d="M463 301l12 7 6-8-12-8z"/>
<path class="c16" d="M475 308l13 6 5-3-12-11z"/>
<path class="c12" d="M488 314l12 11 5-3-12-11z"/>
<path class="c14" d="M500 325l12 13 5-5-12-11z"/>
<path class="c21" d="M512 338l12 10 5-8-12-7z"/>
<path class="c28" d="M524 348l12 7 6-9-13-6z"/>
<path class="cb" d="M147 215l10-3 11-2 11-1 11 0 7-3-32 12-10 1z"/>
<path class="c6" d="M190 209l11 1 7-5-11 1z"/>
<path class="c14" d="M201 210l11 2 7-7-11 0z"/>
<path class="c21" d="M212 212l12 4 7-8-12-3z"/>
<path class="c26" d="M224 216l12 3 7-8-12-3z"/>
<path class="c28" d="M236 219l6 2 6-8-5-2z"/>
<path class="c29" d="M242 221l17 7 7-9-18-6z"/>
<path class="c30" d="M259 228l6 2 7-9-6-2z"/>
<path class="c31" d="M265 230l6 2 7-9-6-2z"/>
<path class="c32" d="M271 232l6 3 7-9-6-3z"/>
<path class="c31" d="M277 235l110 45 7-10-110-44z"/>
<path class="c30" d="M387 280l13 4 6-9-12-5z"/>
<path class="c31" d="M400 284l12 5 7-9-13-5z"/>
<path class="c32" d="M412 289l32 15 6-9-31-15z"/>
<path class="c31" d="M444 304l13 6 6-9-13-6z"/>
<path class="c20" d="M457 310l13 3 5-5-12-7z"/>
<path class="c17" d="M470 313l12 7 6-6-13-6z"/>
<path class="c18" d="M482 320l13 12 5-7-12-11z"/>
<path class="c17" d="M495 332l11 12 6-6-12-13z"/>
<path class="c19" d="M506 344l12 11 6-7-12-10z"/>
<path class="c25" d="M518 355l13 9 5-9-12-7z"/>
<path class="c4" d="M139 220l11-1 7-7-10 3z"/>
<path class="c9" d="M150 219l11-1 7-8-11 2z"/>
<path class="c11" d="M161 218l10-1 8-8-11 1z"/>
<path class="c14" d="M171 217l12 0 7-8-11 0z"/>
<path class="c19" d="M183 217l11 1 7-8-11-1z"/>
<path class="c23" d="M194 218l11 3 7-9-11-2z"/>
<path class="c27" d="M205 221l12 3 7-8-12-4z"/>
<path class="c28" d="M217 224l12 4 7-9-12-3z"/>
<path class="c29" d="M229 228l12 5 7-9-12-5z"/>
<path class="c30" d="M241 233l18 6 6-9-17-6z"/>
<path class="c31" d="M259 239l128 52 7-9-129-52z"/>
<path class="c30" d="M387 291l7 3 6-10-6-2z"/>
<path class="c31" d="M394 294l12 5 6-10-12-5z"/>
<path class="c32" d="M406 299l19 9 6-10-19-9z"/>
<path class="c30" d="M425 308l13 5 6-9-13-6z"/>
<path class="c17" d="M438 313l13 2 6-5-13-6z"/>
<path class="c15" d="M451 315l13 5 6-7-13-3z"/>
<path class="c28" d="M464 320l12 10 6-10-12-7z"/>
<path class="c26" d="M476 330l13 11 6-9-13-12z"/>
<path class="c22" d="M489 341l12 11 5-8-11-12z"/>
<path class="c21" d="M501 352l12 11 5-8-12-11z"/>
<path class="c24" d="M513 363l12 9 6-8-13-9z"/>
<path class="c15" d="M132 228l11 1 7-10-11 1z"/>
<path class="c17" d="M143 229l11 0 7-11-11 1z"/>
<path class="c13" d="M154 229l11-1 6-11-10 1z"/>
<path class="c15" d="M165 228l11-1 7-10-12 0z"/>
<path class="c20" d="M176 227l11 0 7-9-11-1z"/>
<path class="c24" d="M187 227l11 3 7-9-11-3z"/>
<path class="c27" d="M198 230l12 3 7-9-12-3z"/>
<path class="c29" d="M210 233l18 6 7-9-18-6z"/>
<path class="c30" d="M228 239l24 9 7-9-24-9z"/>
<path class="c31" d="M252 248l129 53 6-10-128-52z"/>
<path class="c30" d="M381 301l6 3 7-10-7-3z"/>
<path class="c31" d="M387 304l26 10 6-9-25-11z"/>
<path class="c29" d="M413 314l6 3 6-9-6-3z"/>
<path class="c15" d="M419 317l13 0 6-4-13-5z"/>
<path class="c13" d="M432 317l13 5 6-7-13-2z"/>
<path class="c29" d="M445 322l13 9 6-11-13-5z"/>
<path class="c30" d="M458 331l12 10 6-11-12-10z"/>
<path class="c29" d="M470 341l12 11 7-11-13-11z"/>
<path class="c28" d="M482 352l13 10 6-10-12-11z"/>
<path class="c26" d="M495 362l25 19 5-9-12-9-12-11z"/>
<path class="c23" d="M125 236l11 3 7-10-11-1z"/>
<path class="c21" d="M136 239l11 1 7-11-11 0z"/>
<path class="c15" d="M147 240l11 0 7-12-11 1z"/>
<path class="c13" d="M158 240l11-2 7-11-11 1z"/>
<path class="c17" d="M169 238l11-1 7-10-11 0z"/>
<path class="c24" d="M180 237l11 2 7-9-11-3z"/>
<path class="c27" d="M191 239l12 3 7-9-12-3z"/>
<path class="c29" d="M203 242l18 6 7-9-18-6z"/>
<path class="c30" d="M221 248l24 10 7-10-24-9z"/>
<path class="c31" d="M245 258l142 58 6-10-141-58z"/>
<path class="c30" d="M387 316l6 2 7-9-7-3z"/>
<path class="c29" d="M393 318l7 2 6-9-6-2z"/>
<path class="c21" d="M400 320l6 1 7-7-7-3z"/>
<path class="c10" d="M406 321l7 0 6-4-6-3z"/>
<path class="c11" d="M413 321l13 4 6-8-13 0z"/>
<path class="c29" d="M426 325l13 8 6-11-13-5z"/>
<path class="c32" d="M439 333l12 9 7-11-13-9z"/>
<path class="c31" d="M451 342l13 10 6-11-12-10z"/>
<path class="c30" d="M464 352l37 30 6-10-37-31z"/>
<path class="c29" d="M501 382l13 8 6-9-13-9z"/>
<path class="c29" d="M117 245l12 4 7-10-11-3z"/>
<path class="c25" d="M129 249l11 3 7-12-11-1z"/>
<path class="c18" d="M140 252l11 0 7-12-11 0z"/>
<path class="c13" d="M151 252l22-2 7-13-22 3z"/>
<path class="c20" d="M173 250l11-1 7-10-11-2z"/>
<path class="c27" d="M184 249l12 3 7-10-12-3z"/>
<path class="c29" d="M196 252l18 6 7-10-18-6z"/>
<path class="c30" d="M214 258l24 9 7-9-24-10z"/>
<path class="c31" d="M238 267l123 51 7-10-123-50z"/>
<path class="c30" d="M361 318l13 5 7-10-13-5z"/>
<path class="c28" d="M374 323l7 2 6-9-6-3z"/>
<path class="c20" d="M381 325l6 1 6-8-6-2z"/>
<path class="c9" d="M387 326l7-1 6-5-7-2z"/>
<path class="c7" d="M394 325l6 0 6-4-6-1z"/>
<path class="c10" d="M400 325l7 3 6-7-7 0z"/>
<path class="c28" d="M407 328l13 8 6-11-13-4z"/>
<path class="c34" d="M420 336l12 8 7-11-13-8z"/>
<path class="c32" d="M432 344l13 10 6-12-12-9z"/>
<path class="c31" d="M445 354l13 9 6-11-13-10z"/>
<path class="c30" d="M458 363l25 20 6-11-25-20z"/>
<path class="c31" d="M483 383l25 17 6-10-25-18z"/>
<path class="c30" d="M110 253l11 5 8-9-12-4z"/>
<path class="c29" d="M121 258l12 4 7-10-11-3z"/>
<path class="c23" d="M133 262l11 2 7-12-11 0z"/>
<path class="c16" d="M144 264l11 0 7-13-11 1z"/>
<path class="c13" d="M155 264l11-1 7-13-11 1z"/>
<path class="c15" d="M166 263l11-1 7-13-11 1z"/>
<path class="c23" d="M177 262l12 0 7-10-12-3z"/>
<path class="c29" d="M189 262l17 5 8-9-18-6z"/>
<path class="c30" d="M206 267l25 9 7-9-24-9z"/>
<path class="c31" d="M231 276l111 46 7-9-111-46z"/>
<path class="c30" d="M342 322l13 5 6-9-12-5z"/>
<path class="c28" d="M355 327l6 2 7-9-7-2z"/>
<path class="c19" d="M361 329l7 1 6-7-6-3z"/>
<path class="c8" d="M368 330l6-1 7-4-7-2z"/>
<path class="c6" d="M374 329l7 0 6-3-6-1z"/>
<path class="c8" d="M381 329l6 3 7-7-7 1z"/>
<path class="c22" d="M387 332l7 3 6-10-6 0z"/>
<path class="c34" d="M394 335l6 4 7-11-7-3z"/>
<path class="c35" d="M400 339l13 8 7-11-13-8z"/>
<path class="c34" d="M413 347l13 9 6-12-12-8z"/>
<path class="c33" d="M426 356l12 9 7-11-13-10z"/>
<path class="c31" d="M438 365l51 37 6-10-50-38z"/>
<path class="c32" d="M489 402l13 8 6-10-13-8z"/>
<path class="c30" d="M103 262l22 9 8-9-23-9z"/>
<path class="c29" d="M125 271l12 4 7-11-11-2z"/>
<path class="c22" d="M137 275l11 2 7-13-11 0z"/>
<path class="c15" d="M148 277l11 0 7-14-11 1z"/>
<path class="c13" d="M159 277l11-1 7-14-11 1z"/>
<path class="c16" d="M170 276l12-1 7-13-12 0z"/>
<path class="c24" d="M182 275l11 0 7-10-11-3z"/>
<path class="c29" d="M193 275l6 2 7-10-6-2z"/>
<path class="c30" d="M199 277l24 9 8-10-25-9z"/>
<path class="c31" d="M223 286l93 38 7-10-92-38z"/>
<path class="c30" d="M316 324l13 5 7-9-13-6z"/>
<path class="c29" d="M329 329l6 3 7-10-6-2z"/>
<path class="c27" d="M335 332l7 2 6-9-6-3z"/>
<path class="c19" d="M342 334l6 0 7-7-7-2z"/>
<path class="c8" d="M348 334l7-1 6-4-6-2z"/>
<path class="c5" d="M355 333l6 1 7-4-7-1z"/>
<path class="c7" d="M361 334l7 2 6-7-6 1z"/>
<path class="c20" d="M368 336l6 3 7-10-7 0z"/>
<path class="c33" d="M374 339l7 4 6-11-6-3z"/>
<path class="c35" d="M381 343l25 16 7-12-26-15z"/>
<path class="c34" d="M406 359l13 8 7-11-13-9z"/>
<path class="c33" d="M419 367l13 9 6-11-12-9z"/>
<path class="c32" d="M432 376l13 10 6-12-13-9z"/>
<path class="c31" d="M445 386l25 18 6-10-25-20z"/>
<path class="c32" d="M470 404l26 17 6-11-26-16z"/>
<path class="c30" d="M95 271l35 14 7-10-34-13z"/>
<path class="c28" d="M130 285l11 4 7-12-11-2z"/>
<path class="c20" d="M141 289l11 1 7-13-11 0z"/>
<path class="c15" d="M152 290l12 0 6-14-11 1z"/>
<path class="c14" d="M164 290l11-1 7-14-12 1z"/>
<path class="c17" d="M175 289l11-1 7-13-11 0z"/>
<path class="c23" d="M186 288l6 1 7-12-6-2z"/>
<path class="c27" d="M192 289l6 0 7-10-6-2z"/>
<path class="c30" d="M198 289l18 6 7-9-18-7z"/>
<path class="c31" d="M216 295l62 26 7-10-62-25z"/>
<path class="c30" d="M278 321l31 13 7-10-31-13z"/>
<path class="c29" d="M309 334l7 2 7-9-7-3z"/>
<path class="c27" d="M316 336l6 2 7-9-6-2z"/>
<path class="c18" d="M322 338l7 1 6-7-6-3z"/>
<path class="c8" d="M329 339l6-1 7-4-7-2z"/>
<path class="c5" d="M335 338l6 0 7-4-6 0z"/>
<path class="c7" d="M341 338l7 2 7-7-7 1z"/>
<path class="c20" d="M348 340l6 3 7-9-6-1z"/>
<path class="c33" d="M354 343l7 4 7-11-7-2z"/>
<path class="c36" d="M361 347l26 15 6-12-25-14z"/>
<path class="c35" d="M387 362l13 8 6-11-13-9z"/>
<path class="c34" d="M400 370l13 9 6-12-13-8z"/>
<path class="c33" d="M413 379l12 9 7-12-13-9z"/>
<path class="c32" d="M425 388l52 36 6-11-51-37z"/>
<path class="c33" d="M477 424l13 8 6-11-13-8z"/>
<path class="c30" d="M88 280l46 19 7-10-46-18z"/>
<path class="c28" d="M134 299l11 4 7-13-11-1z"/>
<path class="c20" d="M145 303l12 1 7-14-12 0z"/>
<path class="c15" d="M157 304l11 0 7-15-11 1z"/>
<path class="c14" d="M168 304l11-1 7-15-11 1z"/>
<path class="c16" d="M179 303l6 0 7-14-6-1z"/>
<path class="c20" d="M185 303l6 0 7-14-6 0z"/>
<path class="c24" d="M191 303l6 0 7-12-6-2z"/>
<path class="c28" d="M197 303l6 1 7-11-6-2z"/>
<path class="c31" d="M203 304l6 2 7-11-6-2z"/>
<path class="c32" d="M209 306l12 5 7-11-12-5z"/>
<path class="c33" d="M221 311l13 5 7-11-13-5z"/>
<path class="c34" d="M234 316l56 24 7-11-56-24z"/>
<path class="c33" d="M290 340l6 2 7-11-6-2z"/>
<path class="c31" d="M296 342l6 2 7-10-6-3z"/>
<path class="c23" d="M302 344l7 1 7-9-7-2z"/>
<path class="c10" d="M309 345l6-1 7-6-6-2z"/>
<path class="c6" d="M315 344l7 0 7-5-7-1z"/>
<path class="c8" d="M322 344l6 2 7-8-6 1z"/>
<path class="c21" d="M328 346l7 3 6-11-6 0z"/>
<path class="c33" d="M335 349l6 3 7-12-7-2z"/>
<path class="c36" d="M341 352l39 22 7-12-39-22z"/>
<path class="c35" d="M380 374l26 16 7-11-26-17z"/>
<path class="c34" d="M406 390l13 9 6-11-12-9z"/>
<path class="c33" d="M419 399l13 9 6-11-13-9z"/>
<path class="c32" d="M432 408l39 27 6-11-39-27z"/>
<path class="c33" d="M471 435l13 7 6-10-13-8z"/>
<path class="c30" d="M80 288l58 25 7-10-11-4-46-19z"/>
<path class="c27" d="M138 313l12 4 7-13-12-1z"/>
<path class="c19" d="M150 317l11 1 7-14-11 0z"/>
<path class="c15" d="M161 318l12 0 6-15-11 1z"/>
<path class="c14" d="M173 318l5 0 7-15-6 0z"/>
<path class="c15" d="M178 318l6 0 7-15-6 0z"/>
<path class="c17" d="M184 318l6 0 7-15-6 0z"/>
<path class="c21" d="M190 318l6 0 7-14-6-1z"/>
<path class="c27" d="M196 318l6 1 7-13-6-2z"/>
<path class="c33" d="M202 319l6 2 7-13-6-2z"/>
<path class="c36" d="M208 321l6 3 7-13-6-3z"/>
<path class="c37" d="M214 324l6 3 7-14-6-2z"/>
<path class="c35" d="M220 327l7 4 7-15-7-3z"/>
<path class="c33" d="M227 331l6 4 7-16-6-3z"/>
<path class="c30" d="M233 335l6 4 7-17-6-3z"/>
<path class="c28" d="M239 339l6 3 7-18-6-2z"/>
<path class="c27" d="M245 342l7 3 6-18-6-3z"/>
<path class="c26" d="M252 345l6 3 7-19-7-2z"/>
<path class="c25" d="M258 348l25 10 7-18-25-11z"/>
<path class="c24" d="M283 358l6 0 7-16-6-2z"/>
<path class="c19" d="M289 358l6-1 7-13-6-2z"/>
<path class="c17" d="M295 357l7 0 6 1 7-14-6 1-7-1z"/>
<path class="c22" d="M308 358l7 2 7-16-7 0z"/>
<path class="c27" d="M315 360l6 2 7-16-6-2z"/>
<path class="c30" d="M321 362l7 1 7-14-7-3z"/>
<path class="c34" d="M328 363l6 2 7-13-6-3z"/>
<path class="c37" d="M334 365l13 6 7-12-13-7z"/>
<path class="c36" d="M347 371l26 15 7-12-26-15z"/>
<path class="c35" d="M373 386l26 16 7-12-26-16z"/>
<path class="c34" d="M399 402l13 9 7-12-13-9z"/>
<path class="c33" d="M412 411l13 9 7-12-13-9z"/>
<path class="c32" d="M425 420l13 9 7-12-13-9z"/>
<path class="c33" d="M438 429l39 24 7-11-13-7-26-18z"/>
<path class="c30" d="M78 291l70 28 2-2-12-4-58-25z"/>
<path class="c24" d="M148 319l11 3 2-4-11-1z"/>
<path class="c17" d="M159 322l12 0 2-4-12 0z"/>
<path class="c15" d="M171 322l11-1 2-3-11 0z"/>
<path class="c16" d="M182 321l6 0 2-3-6 0z"/>
<path class="c18" d="M188 321l6 1 2-4-6 0z"/>
<path class="c23" d="M194 322l6 0 2-3-6-1z"/>
<path class="c30" d="M200 322l6 2 2-3-6-2z"/>
<path class="c35" d="M206 324l6 3 2-3-6-3z"/>
<path class="c34" d="M212 327l7 4 1-4-6-3z"/>
<path class="c31" d="M219 331l6 5 2-5-7-4z"/>
<path class="c28" d="M225 336l6 4 2-5-6-4z"/>
<path class="c26" d="M231 340l6 4 2-5-6-4z"/>
<path class="c24" d="M237 344l7 3 1-5-6-3z"/>
<path class="c22" d="M244 347l6 3 2-5-7-3z"/>
<path class="c21" d="M250 350l19 8 12 4 2-4-31-13z"/>
<path class="c16" d="M281 362l6 0 2-4-6 0z"/>
<path class="c8" d="M287 362l7-1 1-4-6 1z"/>
<path class="c17" d="M294 361l6 1 2-5-7 0z"/>
<path class="c20" d="M300 362l19 5 2-5-19-5z"/>
<path class="c21" d="M319 367l7 0 2-4-7-1z"/>
<path class="c27" d="M326 367l6 2 2-4-6-2z"/>
<path class="c34" d="M332 369l7 2 2-3-7-3z"/>
<path class="c36" d="M339 371l6 3 2-3-6-3z"/>
<path class="c37" d="M345 374l7 3 2-3-7-3z"/>
<path class="c36" d="M352 377l19 12 2-3-19-12z"/>
<path class="c35" d="M371 389l26 16 2-3-26-16z"/>
<path class="c34" d="M397 405l14 9 1-3-13-9z"/>
<path class="c33" d="M411 414l39 26 26 16 1-3-26-16-39-26z"/>
<path class="c30" d="M76 293l70 29 2-3-70-28z"/>
<path class="c27" d="M146 322l12 3 1-3-11-3z"/>
<path class="c18" d="M158 325l11 0 2-3-12 0z"/>
<path class="c15" d="M169 325l12 0 1-4-11 1z"/>
<path class="c16" d="M181 325l5 0 2-4-6 0z"/>
<path class="c18" d="M186 325l6 0 2-3-6-1z"/>
<path class="c22" d="M192 325l6 1 2-4-6 0z"/>
<path class="c29" d="M198 326l6 2 2-4-6-2z"/>
<path class="c35" d="M204 328l13 7 2-4-13-7z"/>
<path class="c33" d="M217 335l12 9 2-4-12-9z"/>
<path class="c32" d="M229 344l13 7 2-4-13-7z"/>
<path class="c31" d="M242 351l6 3 2-4-6-3z"/>
<path class="c30" d="M248 354l25 10 2-3-25-11z"/>
<path class="c24" d="M273 364l6 1 2-3-6-1z"/>
<path class="c8" d="M279 365l7-1 1-2-6 0z"/>
<path class="c9" d="M286 364l6 0 2-3-7 1z"/>
<path class="c25" d="M292 364l6 2 2-4-6-1z"/>
<path class="c27" d="M298 366l7 2 1-5-6-1z"/>
<path class="c25" d="M305 368l6 2 2-5-7-2z"/>
<path class="c21" d="M311 370l7 1 1-4-6-2z"/>
<path class="c19" d="M318 371l6 0 2-4-7 0z"/>
<path class="c25" d="M324 371l7 1 1-3-6-2z"/>
<path class="c32" d="M331 372l6 2 2-3-7-2z"/>
<path class="c36" d="M337 374l13 6 20 12 1-3-19-12-13-6z"/>
<path class="c35" d="M370 392l26 16 1-3-26-16z"/>
<path class="c34" d="M396 408l13 9 2-3-14-9z"/>
<path class="c33" d="M409 417l39 26 26 16 2-3-26-16-39-26z"/>
<path class="c30" d="M74 295l70 29 2-2-70-29z"/>
<path class="c29" d="M144 324l12 4 2-3-12-3z"/>
<path class="c20" d="M156 328l11 1 2-4-11 0z"/>
<path class="c16" d="M167 329l6 0 2-4-6 0z"/>
<path class="c15" d="M173 329l6 0 2-4-6 0z"/>
<path class="c16" d="M179 329l6 0 1-4-5 0z"/>
<path class="c18" d="M185 329l6 0 1-4-6 0z"/>
<path class="c22" d="M191 329l6 1 1-4-6-1z"/>
<path class="c29" d="M197 330l6 1 1-3-6-2z"/>
<path class="c36" d="M203 331l12 7 2-3-13-7z"/>
<path class="c34" d="M215 338l6 4 2-3-6-4z"/>
<path class="c33" d="M221 342l19 12 2-3-19-12z"/>
<path class="c31" d="M240 354l6 3 2-3-6-3z"/>
<path class="c30" d="M246 357l7 3 1-3-6-3z"/>
<path class="c28" d="M253 360l6 2 2-2-7-3z"/>
<path class="c26" d="M259 362l6 3 2-3-6-2z"/>
<path class="c17" d="M265 365l6 1 2-2-6-2z"/>
<path class="c5" d="M271 366l7 0 1-1-6-1z"/>
<path class="c2" d="M278 366l6-1 2-1-7 1z"/>
<path class="c7" d="M284 365l6 1 2-2-6 0z"/>
<path class="c22" d="M290 366l7 2 1-2-6-2z"/>
<path class="c30" d="M297 368l6 3 2-3-7-2z"/>
<path class="c31" d="M303 371l6 2 2-3-6-2z"/>
<path class="c25" d="M309 373l7 1 2-3-7-1z"/>
<path class="c19" d="M316 374l6 1 2-4-6 0z"/>
<path class="c22" d="M322 375l7 1 2-4-7-1z"/>
<path class="c31" d="M329 376l6 1 2-3-6-2z"/>
<path class="c35" d="M335 377l7 3 2-3-7-3z"/>
<path class="c36" d="M342 380l26 15 2-3-26-15z"/>
<path class="c35" d="M368 395l26 16 2-3-26-16z"/>
<path class="c34" d="M394 411l13 9 2-3-13-9z"/>
<path class="c33" d="M407 420l39 26 27 15 1-2-26-16-39-26z"/>
<path class="c30" d="M72 297l70 30 12 4 2-3-24-8-58-25z"/>
<path class="c22" d="M154 331l12 1 1-3-11-1z"/>
<path class="c17" d="M166 332l5 1 2-4-6 0z"/>
<path class="c16" d="M171 333l12 0 2-4-12 0z"/>
<path class="c18" d="M183 333l6 0 2-4-6 0z"/>
<path class="c21" d="M189 333l6 0 2-3-6-1z"/>
<path class="c28" d="M195 333l6 2 2-4-6-1z"/>
<path class="c34" d="M201 335l6 2 2-3-6-3z"/>
<path class="c30" d="M207 337l6 3 2-2-6-4z"/>
<path class="c20" d="M213 340l6 4 2-2-6-4z"/>
<path class="c14" d="M219 344l7 3 2 0-7-5z"/>
<path class="c10" d="M226 347l6 4 2-1-6-3z"/>
<path class="c8" d="M232 351l6 3 2 0-6-4z"/>
<path class="c7" d="M238 354l13 5 2 1-13-6z"/>
<path class="c6" d="M251 359l6 3 2 0-6-2z"/>
<path class="c5" d="M257 362l6 2 2 1-6-3z"/>
<path class="cb" d="M263 364l6 1 13-1 6 1 2 1-6-1-13 1-6-1z"/>
<path class="c6" d="M288 365l7 3 2 0-7-2z"/>
<path class="c7" d="M295 368l6 3 2 0-6-3z"/>
<path class="c10" d="M301 371l7 3 1-1-6-2z"/>
<path class="c17" d="M308 374l6 3 7 1 1-3-13-2z"/>
<path class="c20" d="M321 378l6 1 2-3-7-1z"/>
<path class="c29" d="M327 379l7 1 1-3-6-1z"/>
<path class="c34" d="M334 380l6 3 2-3-7-3z"/>
<path class="c36" d="M340 383l26 15 2-3-26-15z"/>
<path class="c35" d="M366 398l26 16 2-3-26-16z"/>
<path class="c34" d="M392 414l13 8 2-2-13-9z"/>
<path class="c33" d="M405 422l40 27 26 15 2-3-27-15-39-26z"/>
<path class="c30" d="M70 300l82 34 2-3-12-4-70-30z"/>
<path class="c24" d="M152 334l12 2 2-4-12-1z"/>
<path class="c18" d="M164 336l6 0 1-3-5-1z"/>
<path class="c16" d="M170 336l11 0 2-3-12 0z"/>
<path class="c17" d="M181 336l6 0 2-3-6 0z"/>
<path class="c20" d="M187 336l6 0 2-3-6 0z"/>
<path class="c23" d="M193 336l12 3 2-2-12-4z"/>
<path class="c14" d="M205 339l6 2 2-1-6-3z"/>
<path class="c8" d="M211 341l6 2 2 1-6-4z"/>
<path class="c6" d="M217 343l7 3 2 1-7-3z"/>
<path class="cb" d="M224 346l31 12 6 2 13-2 6 1 13 6 13 9 2 0-20-9-6-1-13 1-6-1-6-2-19-8-12-7z"/>
<path class="c8" d="M306 374l6 4 2-1-6-3z"/>
<path class="c12" d="M312 378l7 2 2-2-7-1z"/>
<path class="c19" d="M319 380l6 1 2-2-6-1z"/>
<path class="c28" d="M325 381l7 2 2-3-7-1z"/>
<path class="c34" d="M332 383l6 3 2-3-6-3z"/>
<path class="c35" d="M338 386l7 3 2-3-7-3z"/>
<path class="c36" d="M345 389l20 12 1-3-19-12z"/>
<path class="c35" d="M365 401l26 16 1-3-26-16z"/>
<path class="c34" d="M391 417l13 8 1-3-13-8z"/>
<path class="c33" d="M404 425l39 27 26 15 2-3-26-15-40-27z"/>
<path class="c30" d="M68 302l82 34 2-2-82-34z"/>
<path class="c26" d="M150 336l12 3 2-3-12-2z"/>
<path class="c19" d="M162 339l6 1 2-4-6 0z"/>
<path class="c16" d="M168 340l6 0 1-4-5 0z"/>
<path class="c15" d="M174 340l11-1 2-3-12 0z"/>
<path class="c16" d="M185 339l6 0 2-3-6 0z"/>
<path class="c15" d="M191 339l6 0 2-2-6-1z"/>
<path class="c10" d="M197 339l6 1 2-1-6-2z"/>
<path class="c5" d="M203 340l6 0 2 1-6-2z"/>
<path class="cb" d="M209 340l19 4 25 6 6 1 6-1 7 0 6 2 13 7 6 4 7 8 2 3-13-9-13-6-6-1-13 2-6-2-44-17z"/>
<path class="c7" d="M304 371l7 7 1 0-6-4z"/>
<path class="c9" d="M311 378l6 3 2-1-7-2z"/>
<path class="c17" d="M317 381l7 3 1-3-6-1z"/>
<path class="c27" d="M324 384l6 2 2-3-7-2z"/>
<path class="c33" d="M330 386l7 3 1-3-6-3z"/>
<path class="c35" d="M337 389l6 3 2-3-7-3z"/>
<path class="c36" d="M343 392l20 12 2-3-20-12z"/>
<path class="c35" d="M363 404l26 16 2-3-26-16z"/>
<path class="c34" d="M389 420l26 17 2-3-26-17z"/>
<path class="c33" d="M415 437l26 17 27 16 1-3-26-15-26-18z"/>
<path class="c30" d="M66 304l82 35 2-3-82-34z"/>
<path class="c28" d="M148 339l12 3 2-3-12-3z"/>
<path class="c21" d="M160 342l6 1 2-3-6-1z"/>
<path class="c17" d="M166 343l6 0 2-3-6 0z"/>
<path class="c15" d="M172 343l6 0 1-3-5 0z"/>
<path class="c13" d="M178 343l5-1 2-3-6 1z"/>
<path class="c11" d="M183 342l6 0 2-3-6 0z"/>
<path class="c7" d="M189 342l6-1 2-2-6 0z"/>
<path class="c3" d="M195 341l6-1 2 0-6-1z"/>
<path class="cb" d="M201 340l24-5 25 3 13-2 6 1 13 7 7 4 7 6 13 22 2 2-14-15-6-4-13-7-6-2-7 0-6 1-6-1-25-6-25-4z"/>
<path class="c9" d="M309 376l6 6 2-1-6-3z"/>
<path class="c16" d="M315 382l7 4 2-2-7-3z"/>
<path class="c27" d="M322 386l6 3 2-3-6-2z"/>
<path class="c33" d="M328 389l7 3 2-3-7-3z"/>
<path class="c35" d="M335 392l6 3 2-3-6-3z"/>
<path class="c36" d="M341 395l20 12 2-3-20-12z"/>
<path class="c35" d="M361 407l26 16 2-3-26-16z"/>
<path class="c34" d="M387 423l26 17 2-3-26-17z"/>
<path class="c33" d="M413 440l27 17 26 15 2-2-27-16-26-17z"/>
<path class="c30" d="M64 307l83 34 1-2-82-35z"/>
<path class="c29" d="M147 341l11 4 2-3-12-3z"/>
<path class="c22" d="M158 345l6 1 2-3-6-1z"/>
<path class="c17" d="M164 346l6 0 2-3-6 0z"/>
<path class="c13" d="M170 346l6 0 2-3-6 0z"/>
<path class="c10" d="M176 346l6-1 1-3-5 1z"/>
<path class="c7" d="M182 345l5-1 2-2-6 0z"/>
<path class="c2" d="M187 344l6-2 2-1-6 1z"/>
<path class="cb" d="M193 342l6-3 17-12 6-3 6-1 13-1 3 16-19-3-30 6zM241 322l1 0 6 2 2 14-6 0zM255 326l1 12-6 0-2-14zM262 328l1 8-7 2-1-12zM268 331l1 6-6-1-1-8zM275 334l1 6-7-3-1-6zM281 336l1 8-6-4-1-6zM288 339l1 9-7-4-1-8zM294 343l2 11-7-6-1-9zM294 343l6 15 2 7-6-11-2-11zM300 358l7 16 2 2-7-11z"/>
<path class="c9" d="M307 374l6 9 2-1-6-6z"/>
<path class="c16" d="M313 383l7 5 2-2-7-4z"/>
<path class="c28" d="M320 388l7 3 1-2-6-3z"/>
<path class="c33" d="M327 391l6 4 2-3-7-3z"/>
<path class="c35" d="M333 395l7 3 1-3-6-3z"/>
<path class="c36" d="M340 398l19 12 2-3-20-12z"/>
<path class="c35" d="M359 410l27 16 1-3-26-16z"/>
<path class="c34" d="M386 426l26 17 1-3-26-17z"/>
<path class="c33" d="M412 443l26 17 27 15 1-3-26-15-27-17z"/>
<path class="c30" d="M62 309l59 25 2-3-59-24z"/>
<path class="c29" d="M121 334l36 14 1-3-11-4-24-10z"/>
<path class="c24" d="M157 348l5 1 2-3-6-1z"/>
<path class="c18" d="M162 349l6 0 2-3-6 0z"/>
<path class="c12" d="M168 349l6 0 2-3-6 0z"/>
<path class="c8" d="M174 349l6-1 2-3-6 1z"/>
<path class="c3" d="M180 348l5-2 2-2-5 1z"/>
<path class="c1" d="M185 346l6-4 2 0-6 2z"/>
<path class="cb" d="M191 342l11-11 12-14 2 10-17 12-6 3zM214 317l2-3 4 1 2 9-6 3zM227 317l1 6-6 1-2-9zM234 319l1 3-7 1-1-6z"/>
<path class="c6" d="M241 322l-6 0-1-3z"/>
<path class="c25" d="M242 322l-1 0z"/>
<path class="cb" d="M298 348l2 10-6-15zM298 349l7 23 2 2-7-16-2-10z"/>
<path class="c10" d="M305 372l7 12 1-1-6-9z"/>
<path class="c16" d="M312 384l6 6 2-2-7-5z"/>
<path class="c29" d="M318 390l7 4 2-3-7-3z"/>
<path class="c34" d="M325 394l6 4 2-3-6-4z"/>
<path class="c35" d="M331 398l7 3 2-3-7-3z"/>
<path class="c36" d="M338 401l20 12 1-3-19-12z"/>
<path class="c35" d="M358 413l26 16 2-3-27-16z"/>
<path class="c34" d="M384 429l26 17 2-3-26-17z"/>
<path class="c33" d="M410 446l26 17 27 15 2-3-27-15-26-17z"/>
<path class="c30" d="M60 311l59 25 2-2-59-25z"/>
<path class="c29" d="M119 336l24 10 2-2-24-10z"/>
<path class="c28" d="M143 346l12 4 2-2-12-4z"/>
<path class="c24" d="M155 350l6 2 1-3-5-1z"/>
<path class="c18" d="M161 352l5 0 2-3-6 0z"/>
<path class="c11" d="M166 352l6 0 2-3-6 0z"/>
<path class="c5" d="M172 352l6-2 2-2-6 1z"/>
<path class="c2" d="M178 350l6-3 1-1-5 2z"/>
<path class="cb" d="M184 347l5-4 5-7 11-20 3 8-11 14-6 4-6 4zM205 316l1-2 7 0 1 3-6 7z"/>
<path class="c6" d="M216 314l-2 3-1-3z"/>
<path class="c10" d="M300 352l3 16 2 4-7-23zM303 368l7 17 2-1-7-12z"/>
<path class="c16" d="M310 385l6 7 2-2-6-6z"/>
<path class="c29" d="M316 392l7 5 2-3-7-4z"/>
<path class="c34" d="M323 397l7 3 1-2-6-4z"/>
<path class="c35" d="M330 400l6 4 2-3-7-3z"/>
<path class="c36" d="M336 404l20 12 2-3-20-12z"/>
<path class="c35" d="M356 416l26 16 2-3-26-16z"/>
<path class="c34" d="M382 432l40 26 1-3-39-26z"/>
<path class="c33" d="M422 458l39 23 2-3-40-23z"/>
<path class="c30" d="M58 313l59 25 2-2-59-25z"/>
<path class="c29" d="M117 338l24 10 2-2-24-10z"/>
<path class="c28" d="M141 348l12 5 2-3-12-4z"/>
<path class="c25" d="M153 353l6 1 2-2-6-2z"/>
<path class="c18" d="M159 354l6 1 1-3-5 0z"/>
<path class="c10" d="M165 355l5 0 2-3-6 0z"/>
<path class="c4" d="M170 355l6-2 2-3-6 2z"/>
<path class="c1" d="M176 353l6-4 2-2-6 3z"/>
<path class="cb" d="M182 349l5-6 5-9 5-11 3 4-6 9-5 7-5 4zM197 323l3-9 4 0 1 2-5 11z"/>
<path class="c8" d="M206 314l-1 2-1-2z"/>
<path class="c11" d="M300 356l1 10 2 2-3-16z"/>
<path class="c10" d="M301 366l7 20 2-1-7-17z"/>
<path class="c15" d="M308 386l7 9 1-3-6-7z"/>
<path class="c29" d="M315 395l6 4 2-2-7-5z"/>
<path class="c34" d="M321 399l7 4 2-3-7-3z"/>
<path class="c35" d="M328 403l6 4 2-3-6-4z"/>
<path class="c36" d="M334 407l20 12 2-3-20-12z"/>
<path class="c35" d="M354 419l26 16 2-3-26-16z"/>
<path class="c34" d="M380 435l53 34 2-3-53-34z"/>
<path class="c33" d="M433 469l27 14 1-2-26-15z"/>
<path class="c30" d="M56 316l59 25 2-3-59-25z"/>
<path class="c29" d="M115 341l24 10 2-3-24-10z"/>
<path class="c28" d="M139 351l12 4 2-2-12-5z"/>
<path class="c25" d="M151 355l6 2 2-3-6-1z"/>
<path class="c19" d="M157 357l6 1 2-3-6-1z"/>
<path class="c10" d="M163 358l5-1 2-2-5 0z"/>
<path class="c4" d="M168 357l6-2 2-2-6 2z"/>
<path class="c1" d="M174 355l6-4 2-2-6 4z"/>
<path class="cb" d="M180 351l5-7 5-10 5-15 2 4-5 11-5 9-5 6zM195 319l1-3 4-2-3 9z"/>
<path class="c11" d="M299 359l1 5 1 2-1-10z"/>
<path class="c10" d="M300 364l6 23 2-1-7-20z"/>
<path class="c15" d="M306 387l7 10 2-2-7-9z"/>
<path class="c29" d="M313 397l6 5 2-3-6-4z"/>
<path class="c35" d="M319 402l7 4 2-3-7-4z"/>
<path class="c36" d="M326 406l26 16 2-3-26-16z"/>
<path class="c35" d="M352 422l40 24 2-3-40-24z"/>
<path class="c34" d="M392 446l39 25 2-2-39-26z"/>
<path class="c33" d="M431 471l27 15 2-3-27-14z"/>
<path class="c30" d="M54 318l59 25 2-2-59-25z"/>
<path class="c29" d="M113 343l24 10 2-2-24-10z"/>
<path class="c28" d="M137 353l12 5 2-3-12-4z"/>
<path class="c25" d="M149 358l6 1 2-2-6-2z"/>
<path class="c19" d="M155 359l6 1 2-2-6-1z"/>
<path class="c11" d="M161 360l6 0 1-3-5 1z"/>
<path class="c4" d="M167 360l5-2 2-3-6 2z"/>
<path class="c1" d="M172 358l6-5 2-2-6 4z"/>
<path class="cb" d="M178 353l5-8 5-11 2 0-5 10-5 7zM188 334l4-16 1 0 2 1-5 15z"/>
<path class="c5" d="M196 316l-1 3-2-1z"/>
<path class="c12" d="M297 362l1 1 2 1-1-5z"/>
<path class="c10" d="M298 363l6 26 2-2-6-23z"/>
<path class="c14" d="M304 389l7 11 2-3-7-10z"/>
<path class="c29" d="M311 400l7 5 1-3-6-5z"/>
<path class="c35" d="M318 405l6 4 2-3-7-4z"/>
<path class="c36" d="M324 409l27 16 1-3-26-16z"/>
<path class="c35" d="M351 425l39 24 2-3-40-24z"/>
<path class="c34" d="M390 449l40 25 1-3-39-25z"/>
<path class="c33" d="M430 474l27 15 1-3-27-15z"/>
<path class="c30" d="M52 320l59 26 2-3-59-25z"/>
<path class="c29" d="M111 346l24 10 2-3-24-10z"/>
<path class="c28" d="M135 356l12 4 2-2-12-5z"/>
<path class="c25" d="M147 360l6 2 2-3-6-1z"/>
<path class="c20" d="M153 362l6 1 2-3-6-1z"/>
<path class="c11" d="M159 363l6 0 2-3-6 0z"/>
<path class="c4" d="M165 363l5-2 2-3-5 2z"/>
<path class="c1" d="M170 361l6-5 2-3-6 5z"/>
<path class="cb" d="M176 356l5-9 5-12 2-1-5 11-5 8zM186 335l4-15 2-2-4 16z"/>
<path class="c22" d="M297 363l1 0-1-1z"/>
<path class="c10" d="M296 364l7 27 1-2-6-26-1 0z"/>
<path class="c14" d="M303 391l6 11 2-2-7-11z"/>
<path class="c28" d="M309 402l7 6 2-3-7-5z"/>
<path class="c35" d="M316 408l6 4 2-3-6-4z"/>
<path class="c36" d="M322 412l40 24 2-3-40-24z"/>
<path class="c35" d="M362 436l26 16 2-3-26-16z"/>
<path class="c34" d="M388 452l40 25 2-3-40-25z"/>
<path class="c33" d="M428 477l27 15 2-3-27-15z"/>
<path class="c30" d="M50 323l59 25 2-2-59-26z"/>
<path class="c29" d="M109 348l24 10 2-2-24-10z"/>
<path class="c28" d="M133 358l12 4 2-2-12-4z"/>
<path class="c25" d="M145 362l6 2 2-2-6-2z"/>
<path class="c20" d="M151 364l6 1 2-2-6-1z"/>
<path class="c12" d="M157 365l6 0 2-2-6 0z"/>
<path class="c4" d="M163 365l6-2 1-2-5 2z"/>
<path class="c1" d="M169 363l5-4 2-3-6 5z"/>
<path class="cb" d="M174 359l5-9 5-13 2-2-5 12-5 9zM184 337l3-15 3-2-4 15z"/>
<path class="c10" d="M295 367l6 27 2-3-7-27z"/>
<path class="c14" d="M301 394l6 11 2-3-6-11z"/>
<path class="c28" d="M307 405l7 6 2-3-7-6z"/>
<path class="c35" d="M314 411l7 4 1-3-6-4z"/>
<path class="c36" d="M321 415l39 24 2-3-40-24z"/>
<path class="c35" d="M360 439l27 16 1-3-26-16z"/>
<path class="c34" d="M387 455l40 25 1-3-40-25z"/>
<path class="c33" d="M427 480l26 15 2-3-27-15z"/>
<path class="c30" d="M48 325l59 25 2-2-59-25z"/>
<path class="c29" d="M107 350l24 10 2-2-24-10z"/>
<path class="c28" d="M131 360l12 5 2-3-12-4z"/>
<path class="c25" d="M143 365l6 2 2-3-6-2z"/>
<path class="c20" d="M149 367l6 1 2-3-6-1z"/>
<path class="c13" d="M155 368l6 0 2-3-6 0z"/>
<path class="c4" d="M161 368l6-2 2-3-6 2z"/>
<path class="c1" d="M167 366l5-4 2-3-5 4z"/>
<path class="cb" d="M172 362l5-9 5-14 2-2-5 13-5 9zM182 339l3-14 2-3-3 15z"/>
<path class="c10" d="M293 370l6 26 2-2-6-27z"/>
<path class="c14" d="M299 396l7 12 1-3-6-11z"/>
<path class="c28" d="M306 408l6 6 2-3-7-6z"/>
<path class="c35" d="M312 414l7 4 2-3-7-4z"/>
<path class="c36" d="M319 418l39 24 2-3-39-24z"/>
<path class="c35" d="M358 442l27 16 2-3-27-16z"/>
<path class="c34" d="M385 458l40 25 2-3-40-25z"/>
<path class="c33" d="M425 483l27 15 1-3-26-15z"/>
<path class="c30" d="M44 330l59 25 4-5-59-25z"/>
<path class="c29" d="M103 355l24 10 4-5-24-10z"/>
<path class="c28" d="M127 365l12 5 4-5-12-5z"/>
<path class="c25" d="M139 370l6 1 4-4-6-2z"/>
<path class="c21" d="M145 371l6 2 4-5-6-1z"/>
<path class="c13" d="M151 373l6 0 4-5-6 0z"/>
<path class="c5" d="M157 373l6-1 4-6-6 2z"/>
<path class="c1" d="M163 372l5-5 4-5-5 4z"/>
<path class="cb" d="M168 367l5-8 5-14 4-6-5 14-5 9zM178 345l4-15 3-5-3 14z"/>
<path class="c10" d="M289 375l6 27 4-6-6-26z"/>
<path class="c13" d="M295 402l7 12 4-6-7-12z"/>
<path class="c28" d="M302 414l7 6 3-6-6-6z"/>
<path class="c35" d="M309 420l6 5 4-7-7-4z"/>
<path class="c36" d="M315 425l40 23 3-6-39-24z"/>
<path class="c35" d="M355 448l27 16 3-6-27-16z"/>
<path class="c34" d="M382 464l39 25 4-6-40-25z"/>
<path class="c33" d="M421 489l27 14 4-5-27-15z"/>
<path class="c30" d="M40 334l60 26 3-5-59-25z"/>
<path class="c29" d="M100 360l24 10 3-5-24-10z"/>
<path class="c28" d="M124 370l12 5 3-5-12-5z"/>
<path class="c25" d="M136 375l6 1 3-5-6-1z"/>
<path class="c21" d="M142 376l5 2 4-5-6-2z"/>
<path class="c14" d="M147 378l6 0 4-5-6 0z"/>
<path class="c5" d="M153 378l6-1 4-5-6 1z"/>
<path class="c1" d="M159 377l5-4 4-6-5 5z"/>
<path class="cb" d="M164 373l6-8 4-13 4-7-5 14-5 8zM174 352l4-17 4-5-4 15z"/>
<path class="c10" d="M285 380l7 28 3-6-6-27z"/>
<path class="c13" d="M292 408l6 12 4-6-7-12z"/>
<path class="c28" d="M298 420l7 6 4-6-7-6z"/>
<path class="c35" d="M305 426l7 5 3-6-6-5z"/>
<path class="c36" d="M312 431l39 23 4-6-40-23z"/>
<path class="c35" d="M351 454l27 16 4-6-27-16z"/>
<path class="c34" d="M378 470l40 25 3-6-39-25z"/>
<path class="c33" d="M418 495l27 14 3-6-27-14z"/>
<path class="c30" d="M36 339l60 26 4-5-60-26z"/>
<path class="c29" d="M96 365l24 10 4-5-24-10z"/>
<path class="c28" d="M120 375l12 4 4-4-12-5z"/>
<path class="c25" d="M132 379l6 2 4-5-6-1z"/>
<path class="c21" d="M138 381l6 2 3-5-5-2z"/>
<path class="c14" d="M144 383l5 0 4-5-6 0z"/>
<path class="c5" d="M149 383l6-1 4-5-6 1z"/>
<path class="c1" d="M155 382l6-4 3-5-5 4z"/>
<path class="cb" d="M161 378l5-7 4-13 4-6-4 13-6 8zM170 358l5-18 3-5-4 17z"/>
<path class="c10" d="M281 386l7 28 4-6-7-28z"/>
<path class="c13" d="M288 414l7 13 3-7-6-12z"/>
<path class="c27" d="M295 427l6 6 4-7-7-6z"/>
<path class="c35" d="M301 433l7 4 4-6-7-5z"/>
<path class="c36" d="M308 437l40 23 3-6-39-23z"/>
<path class="c35" d="M348 460l40 25 3-6-40-25z"/>
<path class="c34" d="M388 485l27 16 3-6-27-16z"/>
<path class="c33" d="M415 501l13 7 4-6-14-7z"/>
<path class="c32" d="M428 508l14 7 3-6-13-7z"/>
<path class="c30" d="M32 344l60 26 4-5-60-26z"/>
<path class="c29" d="M92 370l24 10 4-5-24-10z"/>
<path class="c28" d="M116 380l12 4 4-5-12-4z"/>
<path class="c25" d="M128 384l6 2 4-5-6-2z"/>
<path class="c21" d="M134 386l6 2 4-5-6-2z"/>
<path class="c14" d="M140 388l6 0 3-5-5 0z"/>
<path class="c5" d="M146 388l5-1 4-5-6 1z"/>
<path class="c1" d="M151 387l6-4 4-5-6 4z"/>
<path class="cb" d="M157 383l5-7 5-12 3-6-4 13-5 7zM167 364l4-18 1-2 3-4-5 18z"/>
<path class="c30" d="M171 346l1-2z"/>
<path class="c10" d="M277 391l7 29 4-6-7-28z"/>
<path class="c13" d="M284 420l7 13 4-6-7-13z"/>
<path class="c27" d="M291 433l7 6 3-6-6-6z"/>
<path class="c35" d="M298 439l6 4 4-6-7-4z"/>
<path class="c36" d="M304 443l40 23 4-6-40-23z"/>
<path class="c35" d="M344 466l40 25 4-6-40-25z"/>
<path class="c34" d="M384 491l27 15 4-5-27-16z"/>
<path class="c33" d="M411 506l14 8 3-6-13-7z"/>
<path class="c32" d="M425 514l13 6 4-5-14-7z"/>
<path class="m" d="M32 344l99-115 11-12M144 216l3-1 5 2M166 211l30-40 62-84M56 354l75-89 8-12 25-40 3-3 2-1 3 1 3 3M201 206l78-110M80 364l59-73 10-15 25-47 9-12 8-10M194 206l3 1 3 3M230 208l70-103M104 375l36-45 10-14 8-15 21-43 8-14 26-32 4-5 4-2M222 205l3 1 1 3M260 208l62-95M128 384l25-32 7-10 8-15 20-42 10-17 45-58 5-4 3 1 2 2M287 212l56-91M151 387l15-20M197 316l6-13 8-12 55-72 8-9M280 211l0 1M315 218l34-63 16-28M171 346l1-2M193 318l4 4 10 16 3 2 3 0M225 317l10-14 62-84 3-3 3-1 2 1 2 4M358 225l17-60 13-36M228 318l3 18 3 11 3 6 2 1 1 0M252 325l12-18 56-76 8-10M333 222l0 1M390 218l11-64 5-21 5-16M255 326l3 21 3 12 3 5 1 1 1-1M277 335l6-10 65-91 7-8 3-3M359 224l3 5M412 226l12-68 5-21 5-16M282 339l4 21 2 4 1 2 1 0M299 351l8-14 74-105 3-4 3-1 1 1 2 4M435 229l12-61 5-21 5-17M297 363l2 0 2 2 8 12 3 1 2-2 4-6 8-21 4-7 4-3 6-4 5-5 61-90 8-9M456 236l13-50 10-33M304 443l64-107 4-5 6-4 5-5 54-83 6-8M447 233l1 1M468 245l33-70M331 459l77-133 3-4 5-3 4-4 35-53 8-10 3-3 4 0 3 1 6 5 1 0 2-2 6-8 36-62M358 474l89-154 2-4 5-3 2-2 15-22 5-7 4-3 10-4 5-5 17-23 36-58M384 491l98-171 5-5 5-3 9-6 7-8 64-101M411 506l88-151 6-10 13-13 6-9 72-118M438 520l74-127 27-42 81-137M32 344l86 37 16 5 10 2 5 0 4-2 4-3 3-4 6-12 4-19M278 393l3 18 4 11 4 8 7 7 9 6 92 55 21 12 20 10M48 325l71 30 23 9 14 4 5 0 5-1M172 361l4-6 3-8 6-21M293 370l3 17 3 11 5 8 6 6 9 6 46 28 52 33 35 19M64 307l84 35 13 3 10 1M192 342l8-4 15-10 7-4 8-2 12 0M295 344l4 10M303 366l7 13 3 4 4 3 25 14 23 13 70 45 30 17M80 288l54 23 15 5 13 2 32 0M300 357l5 1 28 7 9 3 11 6 37 22 60 41 27 16M95 271l36 14 14 5 12 0 31-2 8 1 7 2 15 5 100 41 9 2 13-1 6 1 23 13 32 19 21 14 43 31 25 16M110 253l21 8 12 3 12 0 27-2 7 0 8 2 33 12 126 52 8 2 13-1 7 1 15 8 22 15 57 42 24 15M125 236l11 3 9 1 11 0 23-3 8 1 11 3 18 6 28 10 152 62 8 2 11 0 6 1 7 4 13 8 50 40 23 16M139 220l6-2 10 0 16-1 9 0 15 2 19 4 46 17 141 57 35 15 6 2 10 1 4 1 5 2 8 6 43 38 13 10M189 209l12-3M202 205l11 0 13 2 15 4 22 7 160 64 27 13 27 14 13 6 6 5 13 15 7 8 9 6 11 6M169 207l5 3M275 213l8-2 8 1 33 8 27 10 83 32 25 13 14 8 10 9 20 20 10 9 12 6 22 9M182 190l30 15M375 229l10-2 13 2 32 8 14 6 12 7 10 7 8 7 18 21 11 10 14 7 41 16M195 172l75 39M450 234l5 1 5 3 7 6 16 18 6 4 7 4 15 7 58 23M208 155l97 48 11 8 7 9M480 255l13-1 7 0 8 2 18 6 54 20M221 138l94 44 10 5 6 5 5 7 5 9 4 13M469 247l8-4 9-3 14-2 13 1 11 2 14 4 52 20M233 120l69 31 32 14 9 5 6 6 6 9 6 14 6 21M464 240l9-11 4-4 4-2 10-3 19 0 14 2 14 3 62 23M246 103l72 31 38 14 7 4 13 12 6 4 5 1 18 4 21 7 19 8 18 10 5 3 7 1 14-3 7 0 34 5 26 7 54 20M258 87l80 33 16 4 22 5 7 1 4-1 15-10 9-2 10 0 16 5 18 7 12 8 8 9 13 20 4 5 5 3 18 7 28 7 15 4 62 22"/>
</g>
<text x="8.7" y="144.9" class="tl">0</text>
<text x="47.9" y="162.4" class="tl">1</text>
<text x="89.1" y="180.9" class="tl">2</text>
<text x="132.3" y="200.3" class="tl">3</text>
<text x="150.6" y="198.0" class="tl">0</text>
<text x="171.1" y="162.3" class="tl">1</text>
<text x="189.6" y="130.1" class="tl">2</text>
<text x="206.4" y="100.8" class="tl">3</text>
<text x="219.7" y="46.0" class="tz">0.10</text>
<text x="217.5" y="56.3" class="tz">0.05</text>
<text x="215.4" y="66.1" class="tz">0.00</text>
<text x="213.3" y="75.6" class="tz">−0.05</text>
<text x="211.4" y="84.7" class="tz">−0.10</text>
<path class="bx" d="M253.6 134.6L388.7 195.1M388.7 195.1L449.0 89.9M449.0 89.9L328.6 44.6M328.6 44.6L253.6 134.6M245.0 94.7L392.9 157.8M392.9 157.8L457.7 49.7M457.7 49.7L327.2 3.6M327.2 3.6L245.0 94.7M253.6 134.6L245.0 94.7M388.7 195.1L392.9 157.8M449.0 89.9L457.7 49.7M328.6 44.6L327.2 3.6"/>
<path class="tk" d="M256.0 135.7L260.9 129.7M263.7 139.1L266.6 135.6M271.5 142.6L274.3 139.0M279.3 146.1L282.1 142.5M287.2 149.7L290.0 146.0M295.2 153.2L299.9 146.9M303.3 156.9L306.0 153.1M311.4 160.5L314.1 156.8M319.7 164.2L322.3 160.4M328.0 167.9L330.6 164.1M336.4 171.7L340.8 165.1M344.8 175.5L347.4 171.6M353.4 179.3L355.9 175.4M362.0 183.2L364.5 179.2M370.7 187.1L373.2 183.1M379.6 191.1L383.7 184.1M390.0 192.8L381.6 189.0M394.3 185.3L389.4 183.2M398.4 178.1L393.6 176.0M402.5 171.0L397.8 168.9M406.5 164.0L401.8 162.0M410.5 157.1L402.4 153.7M414.3 150.4L409.6 148.5M418.1 143.9L413.4 142.0M421.8 137.4L417.2 135.5M425.4 131.1L420.8 129.3M429.0 124.9L421.2 121.8M432.4 118.8L428.0 117.0M435.9 112.8L431.4 111.1M439.2 107.0L434.8 105.3M442.5 101.2L438.1 99.6M445.8 95.6L438.3 92.8M449.2 89.2L443.0 86.9M449.6 87.4L445.8 86.0M450.0 85.6L446.2 84.2M450.3 83.8L446.6 82.4M450.7 81.9L447.0 80.5M451.1 80.1L444.8 77.8M451.5 78.2L447.7 76.8M451.9 76.3L448.1 74.9M452.3 74.4L448.5 73.0M452.8 72.5L448.9 71.1M453.2 70.6L446.7 68.3M453.6 68.7L449.7 67.3M454.0 66.7L450.1 65.3M454.4 64.7L450.5 63.3M454.8 62.8L450.9 61.3M455.3 60.8L448.7 58.4M455.7 58.7L451.7 57.3M456.1 56.7L452.2 55.3M456.6 54.7L452.6 53.2M457.0 52.6L453.0 51.2M457.5 50.5L450.8 48.1"/>
<g transform="scale(0.333333)">
<path class="c33" d="M984 91l10 4 3-4-10-4z"/>
<path class="c34" d="M994 95l43 18 3-4-43-18z"/>
<path class="c35" d="M1037 113l32 14 3-4-32-14z"/>
<path class="c36" d="M1069 127l11 6 3-5-11-5z"/>
<path class="c35" d="M1080 133l6 3 3-4-6-4z"/>
<path class="c33" d="M1086 136l5 5 3-5-5-4z"/>
<path class="c29" d="M1091 141l6 5 2-5-5-5z"/>
<path class="c27" d="M1097 146l5 5 3-5-6-5z"/>
<path class="c31" d="M1102 151l5 5 3-6-5-4z"/>
<path class="c33" d="M1107 156l6 2 3-6-6-2z"/>
<path class="c12" d="M1113 158l5-1 3-6-5 1z"/>
<path class="c13" d="M1118 157l6-2 3-5-6 1z"/>
<path class="c27" d="M1124 155l6 1 2-4-5-2z"/>
<path class="c32" d="M1130 156l11 4 2-4-11-4z"/>
<path class="c31" d="M1141 160l11 5 3-4-12-5z"/>
<path class="c30" d="M1152 165l22 8 3-4-22-8z"/>
<path class="c29" d="M1174 173l17 5 3-4-17-5z"/>
<path class="c32" d="M1191 178l6 3 3-5-6-2z"/>
<path class="c36" d="M1197 181l5 3 3-5-5-3z"/>
<path class="c30" d="M1202 184l6 6 3-6-6-5z"/>
<path class="c32" d="M1208 190l5 4 3-6-5-4z"/>
<path class="c29" d="M1213 194l6 1 3-6-6-1z"/>
<path class="c10" d="M1219 195l6-1 3-5-6 0z"/>
<path class="c7" d="M1225 194l6-2 3-5-6 2z"/>
<path class="c10" d="M1231 192l7-1 2-5-6 1z"/>
<path class="c13" d="M1238 191l6-1 2-4-6 0z"/>
<path class="c16" d="M1244 190l6 0 3-4-7 0z"/>
<path class="c20" d="M1250 190l12 1 3-4-12-1z"/>
<path class="c25" d="M1262 191l12 2 3-4-12-2z"/>
<path class="c28" d="M1274 193l12 4 3-4-12-4z"/>
<path class="c29" d="M1286 197l24 8 3-4-24-8z"/>
<path class="c30" d="M1310 205l36 13 3-4-36-13z"/>
<path class="c34" d="M981 95l42 18 3-4-42-18z"/>
<path class="c35" d="M1023 113l44 19 2-5-43-18z"/>
<path class="c36" d="M1067 132l10 6 3-5-11-6z"/>
<path class="c35" d="M1077 138l6 3 3-5-6-3z"/>
<path class="c32" d="M1083 141l5 4 3-4-5-5z"/>
<path class="c28" d="M1088 145l6 6 3-5-6-5z"/>
<path class="c25" d="M1094 151l5 6 3-6-5-5z"/>
<path class="c28" d="M1099 157l5 5 3-6-5-5z"/>
<path class="c34" d="M1104 162l6 3 3-7-6-2z"/>
<path class="c11" d="M1110 165l5-1 3-7-5 1z"/>
<path class="c8" d="M1115 164l6-3 3-6-6 2z"/>
<path class="c21" d="M1121 161l6 0 3-5-6-1z"/>
<path class="c32" d="M1127 161l16 5 3-4-16-6z"/>
<path class="c31" d="M1143 166l17 7 3-4-17-7z"/>
<path class="c30" d="M1160 173l23 8 3-4-23-8z"/>
<path class="c32" d="M1183 181l6 2 2-5-5-1z"/>
<path class="c36" d="M1189 183l5 3 3-5-6-3z"/>
<path class="c33" d="M1194 186l6 4 2-6-5-3z"/>
<path class="c26" d="M1200 190l5 7 3-7-6-6z"/>
<path class="c31" d="M1205 197l5 4 3-7-5-4z"/>
<path class="c24" d="M1210 201l6 0 3-6-6-1z"/>
<path class="c8" d="M1216 201l6-2 3-5-6 1z"/>
<path class="c6" d="M1222 199l7-2 2-5-6 2z"/>
<path class="c8" d="M1229 197l6-1 3-5-7 1z"/>
<path class="c12" d="M1235 196l6-1 3-5-6 1z"/>
<path class="c15" d="M1241 195l6 0 3-5-6 0z"/>
<path class="c20" d="M1247 195l12 0 3-4-12-1z"/>
<path class="c25" d="M1259 195l13 3 2-5-12-2z"/>
<path class="c28" d="M1272 198l12 3 2-4-12-4z"/>
<path class="c29" d="M1284 201l24 8 2-4-24-8z"/>
<path class="c30" d="M1308 209l36 13 2-4-36-13z"/>
<path class="c34" d="M978 99l32 14 3-5-32-13z"/>
<path class="c35" d="M1010 113l43 18 3-4-43-19z"/>
<path class="c36" d="M1053 131l22 11 2-4-21-11z"/>
<path class="c35" d="M1075 142l5 4 3-5-6-3z"/>
<path class="c32" d="M1080 146l5 4 3-5-5-4z"/>
<path class="c27" d="M1085 150l6 6 3-5-6-6z"/>
<path class="c24" d="M1091 156l5 6 3-5-5-6z"/>
<path class="c25" d="M1096 162l5 6 3-6-5-5z"/>
<path class="c33" d="M1101 168l6 4 3-7-6-3z"/>
<path class="c12" d="M1107 172l5-1 3-7-5 1z"/>
<path class="c6" d="M1112 171l6-3 3-7-6 3z"/>
<path class="c12" d="M1118 168l6-1 3-6-6 0z"/>
<path class="c28" d="M1124 167l5 0 3-5-5-1z"/>
<path class="c33" d="M1129 167l17 6 3-4-17-7z"/>
<path class="c32" d="M1146 173l28 10 3-4-28-10z"/>
<path class="c33" d="M1174 183l6 2 3-4-6-2z"/>
<path class="c36" d="M1180 185l11 7 3-6-11-5z"/>
<path class="c27" d="M1191 192l6 6 3-8-6-4z"/>
<path class="c22" d="M1197 198l5 6 3-7-5-7z"/>
<path class="c30" d="M1202 204l5 4 3-7-5-4z"/>
<path class="c17" d="M1207 208l6-1 3-6-6 0z"/>
<path class="c6" d="M1213 207l7-2 2-6-6 2z"/>
<path class="c5" d="M1220 205l6-3 3-5-7 2z"/>
<path class="c7" d="M1226 202l6-2 3-4-6 1z"/>
<path class="c11" d="M1232 200l6-1 3-4-6 1z"/>
<path class="c14" d="M1238 199l7 0 2-4-6 0z"/>
<path class="c19" d="M1245 199l12 1 2-5-12 0z"/>
<path class="c24" d="M1257 200l12 2 3-4-13-3z"/>
<path class="c28" d="M1269 202l12 3 3-4-12-3z"/>
<path class="c29" d="M1281 205l24 8 3-4-24-8z"/>
<path class="c30" d="M1305 213l36 14 3-5-36-13z"/>
<path class="c34" d="M975 103l21 9 3-4-21-9z"/>
<path class="c35" d="M996 112l54 24 3-5-54-23z"/>
<path class="c36" d="M1050 136l22 11 3-5-22-11z"/>
<path class="c35" d="M1072 147l5 4 3-5-5-4z"/>
<path class="c31" d="M1077 151l5 4 3-5-5-4z"/>
<path class="c26" d="M1082 155l6 6 3-5-6-6z"/>
<path class="c22" d="M1088 161l10 14 3-7-10-12z"/>
<path class="c29" d="M1098 175l6 5 3-8-6-4z"/>
<path class="c14" d="M1104 180l5 0 3-9-5 1z"/>
<path class="c5" d="M1109 180l6-3 3-9-6 3z"/>
<path class="c7" d="M1115 177l6-3 3-7-6 1z"/>
<path class="c18" d="M1121 174l6-1 2-6-5 0z"/>
<path class="c30" d="M1127 173l5 1 3-5-6-2z"/>
<path class="c34" d="M1132 174l6 2 3-5-6-2z"/>
<path class="c35" d="M1138 176l28 10 3-5-28-10z"/>
<path class="c36" d="M1166 186l11 5 6 4 3-7-17-7z"/>
<path class="c29" d="M1183 195l5 5 3-8-5-4z"/>
<path class="c21" d="M1188 200l5 7 4-9-6-6z"/>
<path class="c20" d="M1193 207l6 6 3-9-5-6z"/>
<path class="c27" d="M1199 213l5 3 3-8-5-4z"/>
<path class="c10" d="M1204 216l6-2 3-7-6 1z"/>
<path class="c4" d="M1210 214l13-7 3-5-13 5z"/>
<path class="c6" d="M1223 207l6-2 3-5-6 2z"/>
<path class="c10" d="M1229 205l7-1 2-5-6 1z"/>
<path class="c13" d="M1236 204l6 0 3-5-7 0z"/>
<path class="c18" d="M1242 204l12 0 3-4-12-1z"/>
<path class="c24" d="M1254 204l12 2 3-4-12-2z"/>
<path class="c27" d="M1266 206l12 3 3-4-12-3z"/>
<path class="c29" d="M1278 209l25 8 2-4-24-8z"/>
<path class="c30" d="M1303 217l36 14 2-4-36-14z"/>
<path class="c34" d="M972 108l21 9 3-5-21-9z"/>
<path class="c35" d="M993 117l43 19 3-5-43-19z"/>
<path class="c36" d="M1036 136l33 16 3-5-33-16z"/>
<path class="c35" d="M1069 152l5 3 3-4-5-4z"/>
<path class="c31" d="M1074 155l6 5 2-5-5-4z"/>
<path class="c25" d="M1080 160l5 6 3-5-6-6z"/>
<path class="c20" d="M1085 166l5 8 3-6-5-7z"/>
<path class="c19" d="M1090 174l5 8 3-7-5-7z"/>
<path class="c24" d="M1095 182l6 6 3-8-6-5z"/>
<path class="c17" d="M1101 188l5 2 3-10-5 0z"/>
<path class="c5" d="M1106 190l6-2 3-11-6 3z"/>
<path class="c4" d="M1112 188l6-4 3-10-6 3z"/>
<path class="c8" d="M1118 184l5-2 4-9-6 1z"/>
<path class="c17" d="M1123 182l6 0 3-8-5-1z"/>
<path class="c24" d="M1129 182l6 1 3-7-6-2z"/>
<path class="c28" d="M1135 183l5 2 3-7-5-2z"/>
<path class="c29" d="M1140 185l6 2 3-7-6-2z"/>
<path class="c30" d="M1146 187l17 7 3-8-17-6z"/>
<path class="c29" d="M1163 194l6 2 3-8-6-2z"/>
<path class="c28" d="M1169 196l5 3 3-8-5-3z"/>
<path class="c24" d="M1174 199l6 5 3-9-6-4z"/>
<path class="c19" d="M1180 204l5 6 3-10-5-5z"/>
<path class="c16" d="M1185 210l5 8 3-11-5-7z"/>
<path class="c18" d="M1190 218l5 5 4-10-6-6z"/>
<path class="c20" d="M1195 223l6 1 3-8-5-3z"/>
<path class="c6" d="M1201 224l6-4 3-6-6 2z"/>
<path class="c3" d="M1207 220l13-8 3-5-13 7z"/>
<path class="c5" d="M1220 212l7-2 2-5-6 2z"/>
<path class="c9" d="M1227 210l6-1 3-5-7 1z"/>
<path class="c12" d="M1233 209l6-1 3-4-6 0z"/>
<path class="c17" d="M1239 208l13 0 2-4-12 0z"/>
<path class="c23" d="M1252 208l12 2 2-4-12-2z"/>
<path class="c27" d="M1264 210l12 3 2-4-12-3z"/>
<path class="c29" d="M1276 213l24 8 3-4-25-8z"/>
<path class="c30" d="M1300 221l36 14 3-4-36-14z"/>
<path class="c34" d="M969 112l10 4 3-4-10-4z"/>
<path class="c35" d="M979 116l43 19 3-4-43-19z"/>
<path class="c36" d="M1022 135l33 15 11 6 3-4-11-6-33-15z"/>
<path class="c35" d="M1066 156l5 4 3-5-5-3z"/>
<path class="c30" d="M1071 160l6 5 3-5-6-5z"/>
<path class="c24" d="M1077 165l5 7 3-6-5-6z"/>
<path class="c19" d="M1082 172l5 8 3-6-5-8z"/>
<path class="c17" d="M1087 180l6 9 2-7-5-8z"/>
<path class="c19" d="M1093 189l5 8 3-9-6-6z"/>
<path class="c18" d="M1098 197l5 4 3-11-5-2z"/>
<path class="c6" d="M1103 201l6 0 3-13-6 2z"/>
<path class="c3" d="M1109 201l5-2 4-15-6 4z"/>
<path class="c4" d="M1114 199l6-2 3-15-5 2z"/>
<path class="c5" d="M1120 197l6-1 3-14-6 0z"/>
<path class="c8" d="M1126 196l5 0 4-13-6-1z"/>
<path class="c10" d="M1131 196l6 2 3-13-5-2z"/>
<path class="c11" d="M1137 198l17 6 11 5 11 9 10 13 4-13-10-14-6-5-11-5-23-9z"/>
<path class="c14" d="M1186 231l6 3 3-11-5-5z"/>
<path class="c10" d="M1192 234l6-2 3-8-6-1z"/>
<path class="c3" d="M1198 232l6-5 3-7-6 4z"/>
<path class="c2" d="M1204 227l14-9 2-6-13 8z"/>
<path class="c4" d="M1218 218l6-3 3-5-7 2z"/>
<path class="c7" d="M1224 215l6-1 3-5-6 1z"/>
<path class="c11" d="M1230 214l6-1 3-5-6 1z"/>
<path class="c16" d="M1236 213l13-1 3-4-13 0z"/>
<path class="c23" d="M1249 212l12 2 3-4-12-2z"/>
<path class="c27" d="M1261 214l12 3 3-4-12-3z"/>
<path class="c29" d="M1273 217l24 9 3-5-24-8z"/>
<path class="c30" d="M1297 226l37 13 2-4-36-14z"/>
<path class="c34" d="M965 116l11 5 3-5-10-4z"/>
<path class="c35" d="M976 121l43 19 3-5-43-19z"/>
<path class="c36" d="M1019 140l33 15 11 6 3-5-11-6-33-15z"/>
<path class="c34" d="M1063 161l5 4 3-5-5-4z"/>
<path class="c29" d="M1068 165l6 5 3-5-6-5z"/>
<path class="c22" d="M1074 170l5 7 3-5-5-7z"/>
<path class="c17" d="M1079 177l5 9 3-6-5-8z"/>
<path class="c15" d="M1084 186l6 10 3-7-6-9z"/>
<path class="c16" d="M1090 196l5 10 5 8 3-13-5-4-5-8z"/>
<path class="c8" d="M1100 214l5 4 4-17-6 0z"/>
<path class="c3" d="M1105 218l11 0 4-21-11 4z"/>
<path class="c2" d="M1116 218l12 2 3-24-5 0-6 1z"/>
<path class="c3" d="M1128 220l16 5 17 7 4-23-17-8-17-5z"/>
<path class="c4" d="M1161 232l5 4 5-23-6-4z"/>
<path class="c5" d="M1166 236l6 4 4-22-5-5z"/>
<path class="c6" d="M1172 240l5 4 4-19-5-7z"/>
<path class="c7" d="M1177 244l6 2 5-1 4-11-6-3-5-6z"/>
<path class="c4" d="M1188 245l7-4 3-9-6 2z"/>
<path class="c1" d="M1195 241l13-13 3-6-13 10z"/>
<path class="c2" d="M1208 228l7-5 3-5-7 4z"/>
<path class="c4" d="M1215 223l6-3 3-5-6 3z"/>
<path class="c6" d="M1221 220l6-2 3-4-6 1z"/>
<path class="c10" d="M1227 218l7-1 2-4-6 1z"/>
<path class="c15" d="M1234 217l12 0 3-5-13 1z"/>
<path class="c22" d="M1246 217l13 1 2-4-12-2z"/>
<path class="c27" d="M1259 218l12 4 2-5-12-3z"/>
<path class="c29" d="M1271 222l36 12 3-4-37-13z"/>
<path class="c30" d="M1307 234l24 9 3-4-24-9z"/>
<path class="c35" d="M962 120l43 20 3-5-43-19z"/>
<path class="c36" d="M1005 140l44 20 3-5-44-20z"/>
<path class="c37" d="M1049 160l5 3 3-5-5-3z"/>
<path class="c36" d="M1054 163l6 3 3-5-6-3z"/>
<path class="c34" d="M1060 166l5 4 3-5-5-4z"/>
<path class="c29" d="M1065 170l6 5 3-5-6-5z"/>
<path class="c21" d="M1071 175l5 7 3-5-5-7z"/>
<path class="c16" d="M1076 182l5 10 3-6-5-9z"/>
<path class="c14" d="M1081 192l6 11 3-7-6-10z"/>
<path class="c13" d="M1087 203l5 13 3-10-5-10z"/>
<path class="c21" d="M1092 216l1 3 6-1 1-4-5-8z"/>
<path class="c37" d="M1105 219l0-1-5-4-1 4z"/>
<path class="c32" d="M1110 221l1-3-6 0 0 1z"/>
<path class="c24" d="M1116 223l0-5-5 0-1 3z"/>
<path class="c17" d="M1121 226l1-7-6-1 0 5z"/>
<path class="c13" d="M1126 228l2-8-6-1-1 7z"/>
<path class="c12" d="M1132 230l1-9-5-1-2 8z"/>
<path class="c11" d="M1137 232l2-9-6-2-1 9zM1143 234l1-9-5-2-2 9zM1148 236l2-9-6-2-1 9z"/>
<path class="c12" d="M1154 238l1-8-5-3-2 9z"/>
<path class="c13" d="M1159 241l2-9-6-2-1 8z"/>
<path class="c16" d="M1165 243l1-7-5-4-2 9z"/>
<path class="c22" d="M1171 245l1-5-6-4-1 7z"/>
<path class="c31" d="M1176 247l1-3-5-4-1 5z"/>
<path class="c35" d="M1182 249l1-3-6-2-1 3z"/>
<path class="c20" d="M1186 253l2-8-5 1-1 3z"/>
<path class="c3" d="M1187 255l5-5 3-9-7 4-2 8z"/>
<path class="c1" d="M1192 250l13-16 7-6 3-5-7 5-13 13z"/>
<path class="c3" d="M1212 228l6-3 3-5-6 3z"/>
<path class="c6" d="M1218 225l7-2 2-5-6 2z"/>
<path class="c9" d="M1225 223l6-1 3-5-7 1z"/>
<path class="c14" d="M1231 222l13-1 2-4-12 0z"/>
<path class="c21" d="M1244 221l12 2 3-5-13-1z"/>
<path class="c26" d="M1256 223l12 3 3-4-12-4z"/>
<path class="c29" d="M1268 226l37 12 2-4-36-12z"/>
<path class="c30" d="M1305 238l24 10 2-5-24-9z"/>
<path class="c35" d="M959 125l43 19 3-4-43-20z"/>
<path class="c36" d="M1002 144l44 21 3-5-44-20z"/>
<path class="c37" d="M1046 165l5 3 3-5-5-3z"/>
<path class="c36" d="M1051 168l6 3 3-5-6-3z"/>
<path class="c34" d="M1057 171l5 4 3-5-5-4z"/>
<path class="c28" d="M1062 175l6 6 3-6-6-5z"/>
<path class="c20" d="M1068 181l5 7 3-6-5-7z"/>
<path class="c15" d="M1073 188l5 10 3-6-5-10z"/>
<path class="c13" d="M1078 198l6 13 3-8-6-11zM1084 211l3 11 3-2 2-4-5-13z"/>
<path class="c36" d="M1093 219l-1-3-2 4z"/>
<path class="c7" d="M1188 260l0-1 4-9-5 5z"/>
<path class="c0" d="M1188 259l14-19 3-6-13 16z"/>
<path class="c1" d="M1202 240l7-6 3-6-7 6z"/>
<path class="c3" d="M1209 234l7-4 2-5-6 3z"/>
<path class="c5" d="M1216 230l6-2 3-5-7 2z"/>
<path class="c8" d="M1222 228l6-1 3-5-6 1z"/>
<path class="c13" d="M1228 227l13-1 3-5-13 1z"/>
<path class="c21" d="M1241 226l12 1 3-4-12-2z"/>
<path class="c26" d="M1253 227l12 3 3-4-12-3z"/>
<path class="c28" d="M1265 230l13 4 2-4-12-4z"/>
<path class="c29" d="M1278 234l24 9 3-5-25-8z"/>
<path class="c30" d="M1302 243l24 9 3-4-24-10z"/>
<path class="c35" d="M956 129l32 15 4-5-33-14z"/>
<path class="c36" d="M988 144l55 26 3-5-54-26z"/>
<path class="c37" d="M1043 170l5 3 3-5-5-3z"/>
<path class="c36" d="M1048 173l6 3 3-5-6-3z"/>
<path class="c33" d="M1054 176l5 4 3-5-5-4z"/>
<path class="c27" d="M1059 180l6 6 3-5-6-6z"/>
<path class="c19" d="M1065 186l5 8 3-6-5-7z"/>
<path class="c14" d="M1070 194l6 10 2-6-5-10z"/>
<path class="c12" d="M1076 204l5 14 3-7-6-13z"/>
<path class="c15" d="M1081 218l2 7 4-3-3-11z"/>
<path class="c29" d="M1188 262l0-3 0 1z"/>
<path class="c0" d="M1187 265l5-9 3-8-7 11 0 3zM1192 256l7-10 3-6-7 8z"/>
<path class="c1" d="M1199 246l7-7 3-5-7 6z"/>
<path class="c2" d="M1206 239l7-4 3-5-7 4z"/>
<path class="c4" d="M1213 235l6-2 3-5-6 2z"/>
<path class="c7" d="M1219 233l7-2 2-4-6 1z"/>
<path class="c12" d="M1226 231l12-1 3-4-13 1z"/>
<path class="c20" d="M1238 230l13 1 2-4-12-1z"/>
<path class="c26" d="M1251 231l12 3 2-4-12-3z"/>
<path class="c28" d="M1263 234l12 4 3-4-13-4z"/>
<path class="c29" d="M1275 238l24 9 3-4-24-9z"/>
<path class="c30" d="M1299 247l25 9 2-4-24-9z"/>
<path class="c35" d="M953 133l32 15 3-4-32-15z"/>
<path class="c36" d="M985 148l55 27 3-5-55-26z"/>
<path class="c37" d="M1040 175l5 3 3-5-5-3z"/>
<path class="c36" d="M1045 178l6 3 3-5-6-3z"/>
<path class="c33" d="M1051 181l5 4 3-5-5-4z"/>
<path class="c26" d="M1056 185l6 6 3-5-6-6z"/>
<path class="c18" d="M1062 191l5 8 3-5-5-8z"/>
<path class="c14" d="M1067 199l6 12 3-7-6-10z"/>
<path class="c12" d="M1073 211l5 15 3-8-5-14z"/>
<path class="c25" d="M1078 226l0 2 5-3-2-7z"/>
<path class="c0" d="M1186 270l3-7 3-7-5 9zM1189 263l8-11 2-6-7 10z"/>
<path class="c1" d="M1197 252l6-7 3-6-7 7z"/>
<path class="c2" d="M1203 245l7-4 3-6-7 4z"/>
<path class="c4" d="M1210 241l6-3 3-5-6 2z"/>
<path class="c6" d="M1216 238l7-2 3-5-7 2z"/>
<path class="c11" d="M1223 236l12-1 3-5-12 1z"/>
<path class="c19" d="M1235 235l13 1 3-5-13-1z"/>
<path class="c26" d="M1248 236l12 2 3-4-12-3z"/>
<path class="c28" d="M1260 238l12 4 3-4-12-4z"/>
<path class="c29" d="M1272 242l25 9 2-4-24-9z"/>
<path class="c30" d="M1297 251l24 9 3-4-25-9z"/>
<path class="c35" d="M950 138l32 15 3-5-32-15z"/>
<path class="c36" d="M982 153l55 26 3-4-55-27z"/>
<path class="c37" d="M1037 179l5 4 3-5-5-3z"/>
<path class="c36" d="M1042 183l6 3 3-5-6-3z"/>
<path class="c32" d="M1048 186l5 4 3-5-5-4z"/>
<path class="c25" d="M1053 190l6 6 3-5-6-6z"/>
<path class="c17" d="M1059 196l5 9 3-6-5-8z"/>
<path class="c13" d="M1064 205l6 12 3-6-6-12z"/>
<path class="c11" d="M1070 217l4 14 2-1 2-4-5-15z"/>
<path class="c36" d="M1078 228l0-2-2 4z"/>
<path class="c2" d="M1184 274l2-4 3-7-3 7z"/>
<path class="c0" d="M1186 270l8-12 6-8 3-5-6 7-8 11z"/>
<path class="c1" d="M1200 250l7-4 3-5-7 4z"/>
<path class="c3" d="M1207 246l7-3 2-5-6 3z"/>
<path class="c5" d="M1214 243l6-2 3-5-7 2z"/>
<path class="c10" d="M1220 241l13-2 2-4-12 1z"/>
<path class="c18" d="M1233 239l12 1 3-4-13-1z"/>
<path class="c25" d="M1245 240l12 3 3-5-12-2z"/>
<path class="c28" d="M1257 243l13 4 2-5-12-4z"/>
<path class="c29" d="M1270 247l24 8 3-4-25-9z"/>
<path class="c30" d="M1294 255l25 10 2-5-24-9z"/>
<path class="c35" d="M947 142l32 15 3-4-32-15z"/>
<path class="c36" d="M979 157l55 27 11 7 3-5-22-12-44-21z"/>
<path class="c32" d="M1045 191l5 5 3-6-5-4z"/>
<path class="c24" d="M1050 196l6 6 3-6-6-6z"/>
<path class="c17" d="M1056 202l5 8 3-5-5-9z"/>
<path class="c13" d="M1061 210l6 13 3-6-6-12z"/>
<path class="c12" d="M1067 223l3 12 4-4-4-14z"/>
<path class="c9" d="M1183 279l0-2 3-7-2 4z"/>
<path class="c0" d="M1183 277l8-13 7-8 2-6-6 8-8 12z"/>
<path class="c1" d="M1198 256l6-5 3-5-7 4z"/>
<path class="c3" d="M1204 251l7-3 3-5-7 3z"/>
<path class="c5" d="M1211 248l6-2 3-5-6 2z"/>
<path class="c9" d="M1217 246l13-3 3-4-13 2z"/>
<path class="c17" d="M1230 243l12 1 3-4-12-1z"/>
<path class="c25" d="M1242 244l13 3 2-4-12-3z"/>
<path class="c28" d="M1255 247l12 4 3-4-13-4z"/>
<path class="c29" d="M1267 251l37 13 3-4-37-13z"/>
<path class="c30" d="M1304 264l12 5 3-4-12-5z"/>
<path class="c35" d="M944 146l32 16 3-5-32-15z"/>
<path class="c36" d="M976 162l60 30 3-4-60-31z"/>
<path class="c35" d="M1036 192l6 4 3-5-6-3z"/>
<path class="c32" d="M1042 196l5 5 3-5-5-5z"/>
<path class="c24" d="M1047 201l6 6 3-5-6-6z"/>
<path class="c16" d="M1053 207l5 9 3-6-5-8z"/>
<path class="c12" d="M1058 216l6 13 3-6-6-13z"/>
<path class="c13" d="M1064 229l2 9 4-3-3-12z"/>
<path class="c28" d="M1181 282l2-5 0 2z"/>
<path class="c0" d="M1181 283l7-13 3-6-8 13-2 5zM1188 270l7-9 3-5-7 8z"/>
<path class="c1" d="M1195 261l6-5 3-5-6 5z"/>
<path class="c2" d="M1201 256l7-4 3-4-7 3z"/>
<path class="c4" d="M1208 252l6-2 3-4-6 2z"/>
<path class="c7" d="M1214 250l13-2 3-5-13 3z"/>
<path class="c16" d="M1227 248l13 0 2-4-12-1z"/>
<path class="c24" d="M1240 248l12 3 3-4-13-3z"/>
<path class="c27" d="M1252 251l12 4 3-4-12-4z"/>
<path class="c29" d="M1264 255l37 14 3-5-37-13z"/>
<path class="c30" d="M1301 269l13 4 2-4-12-5z"/>
<path class="c35" d="M937 155l33 16 6-9-32-16z"/>
<path class="c36" d="M970 171l60 31 6-10-60-30z"/>
<path class="c35" d="M1030 202l6 4 6-10-6-4z"/>
<path class="c31" d="M1036 206l5 5 6-10-5-5z"/>
<path class="c23" d="M1041 211l6 6 6-10-6-6z"/>
<path class="c15" d="M1047 217l5 10 6-11-5-9z"/>
<path class="c12" d="M1052 227l6 14 6-12-6-13z"/>
<path class="c17" d="M1058 241l1 5 7-8-2-9z"/>
<path class="cb" d="M1176 292l6-13 6-9-7 13z"/>
<path class="c0" d="M1182 279l7-10 7-6 5-7-6 5-7 9z"/>
<path class="c1" d="M1196 263l7-4 5-7-7 4z"/>
<path class="c2" d="M1203 259l6-3 5-6-6 2z"/>
<path class="c5" d="M1209 256l13-2 5-6-13 2z"/>
<path class="c13" d="M1222 254l12 1 6-7-13 0z"/>
<path class="c22" d="M1234 255l13 4 5-8-12-3z"/>
<path class="c27" d="M1247 259l12 4 5-8-12-4z"/>
<path class="c29" d="M1259 263l25 10 5-9-25-9z"/>
<path class="c30" d="M1284 273l25 9 5-9-25-9z"/>
<path class="c35" d="M931 164l44 22 6-9-44-22z"/>
<path class="c36" d="M975 186l49 26 6-10-49-25z"/>
<path class="c35" d="M1024 212l6 4 6-10-6-4z"/>
<path class="c30" d="M1030 216l5 5 6-10-5-5z"/>
<path class="c22" d="M1035 221l6 7 6-11-6-6z"/>
<path class="c15" d="M1041 228l5 10 6-11-5-10z"/>
<path class="c12" d="M1046 238l6 15 6-12-6-14z"/>
<path class="c32" d="M1052 253l7-7-1-5z"/>
<path class="cb" d="M1166 298l5-14 3 9zM1171 284l8-17 3 12-6 13-2 1zM1179 267l7-10 6-4 7-2 6 2 4 3-13 7-7 6-7 10z"/>
<path class="c5" d="M1205 253l12 5 5-4-13 2z"/>
<path class="c15" d="M1217 258l12 5 5-8-12-1z"/>
<path class="c25" d="M1229 263l12 4 6-8-13-4z"/>
<path class="c29" d="M1241 267l25 10 5-9-24-9z"/>
<path class="c30" d="M1266 277l37 14 6-9-38-14z"/>
<path class="c35" d="M924 172l55 29 7-10-55-27z"/>
<path class="c36" d="M979 201l39 21 6-10-38-21z"/>
<path class="c34" d="M1018 222l6 4 6-10-6-4z"/>
<path class="c29" d="M1024 226l5 5 6-10-5-5z"/>
<path class="c21" d="M1029 231l6 7 6-10-6-7z"/>
<path class="c14" d="M1035 238l5 10 6-10-5-10z"/>
<path class="c12" d="M1040 248l5 13 6-7 1-1-6-15z"/>
<path class="c31" d="M1052 253l-1 1z"/>
<path class="cb" d="M1142 299l6-16 0 16zM1148 283l8-20-1 36-7 0zM1156 263l7-16 0 52-8 0zM1163 247l7-12 1 49-5 14-3 1zM1170 235l7-5 7 0 6 3 11 13 4 7-6-2-7 2-6 4-7 10-8 17z"/>
<path class="c9" d="M1201 246l11 14 5-2-12-5z"/>
<path class="c17" d="M1212 260l12 10 5-7-12-5z"/>
<path class="c27" d="M1224 270l12 6 5-9-12-4z"/>
<path class="c29" d="M1236 276l12 5 6-9-13-5z"/>
<path class="c30" d="M1248 281l50 19 5-9-49-19z"/>
<path class="c34" d="M918 181l11 6 6-9-11-6z"/>
<path class="c35" d="M929 187l55 29 6-9-55-29z"/>
<path class="c36" d="M984 216l22 12 7-9-23-12z"/>
<path class="c35" d="M1006 228l6 3 6-9-5-3z"/>
<path class="c33" d="M1012 231l5 4 7-9-6-4z"/>
<path class="c28" d="M1017 235l6 5 6-9-5-5z"/>
<path class="c20" d="M1023 240l6 8 6-10-6-7z"/>
<path class="c14" d="M1029 248l5 10 6-10-5-10z"/>
<path class="c13" d="M1034 258l4 11 7-8-5-13z"/>
<path class="cb" d="M1104 295l3-10 1 10zM1107 285l7-16 0 27-6-1zM1114 269l7-15 0 43-7-1zM1121 254l7-12-1 56-6-1zM1128 242l6-8 0 65-7-1zM1134 234l7-6 0 71-7 0zM1141 228l6-4 1 59-6 16-1 0zM1147 224l7-2 6 0 6 1 13 4 5 3-7 0-7 5-7 12-15 36z"/>
<path class="c8" d="M1179 227l6 4 5 2-6-3z"/>
<path class="c9" d="M1185 231l6 5 4 3-5-6z"/>
<path class="c10" d="M1191 236l17 23 4 1-17-21z"/>
<path class="c12" d="M1208 259l11 15 5-4-12-10z"/>
<path class="c20" d="M1219 274l11 9 6-7-12-6z"/>
<path class="c28" d="M1230 283l13 6 5-8-12-5z"/>
<path class="c29" d="M1243 289l12 5 6-9-13-4z"/>
<path class="c30" d="M1255 294l38 15 5-9-37-15z"/>
<path class="c34" d="M911 190l33 17 7-9-33-17z"/>
<path class="c35" d="M944 207l45 24 6-9-44-24z"/>
<path class="c34" d="M989 231l11 6 6-9-11-6z"/>
<path class="c33" d="M1000 237l6 3 6-9-6-3z"/>
<path class="c31" d="M1006 240l5 4 6-9-5-4z"/>
<path class="c26" d="M1011 244l6 4 6-8-6-5z"/>
<path class="c18" d="M1017 248l5 6 7-6-6-8z"/>
<path class="c13" d="M1022 254l6 9 6-5-5-10z"/>
<path class="c12" d="M1028 263l6 12 2 0 2-6-4-11z"/>
<path class="c26" d="M1034 275l1 3 1-3z"/>
<path class="cb" d="M1063 289l4-12 1 13zM1067 277l7-15 1 29-7-1zM1074 262l6-14 1 44-6-1zM1080 248l6-11 1 56-6-1zM1086 237l6-9 2 66-7-1zM1092 228l7-5 2 72-7-1zM1099 223l6-4 2 66-3 10-3 0zM1105 219l6-2 12 1 19 4 5 2-6 4-7 6-6 8-7 12-14 31z"/>
<path class="c4" d="M1142 222l6 3 6-3-7 2z"/>
<path class="c11" d="M1148 225l6 2 6-5-6 0z"/>
<path class="c19" d="M1154 227l6 3 6-7-6-1z"/>
<path class="c25" d="M1160 230l7 3 6-8-7-2z"/>
<path class="c28" d="M1167 233l6 2 6-8-6-2z"/>
<path class="c27" d="M1173 235l6 3 6-7-6-4z"/>
<path class="c22" d="M1179 238l6 4 6-6-6-5z"/>
<path class="c16" d="M1185 242l6 4 5-3-5-7z"/>
<path class="c12" d="M1191 246l12 12 5 1-12-16z"/>
<path class="c11" d="M1203 258l11 16 5 0-11-15z"/>
<path class="c13" d="M1214 274l11 14 5-5-11-9z"/>
<path class="c22" d="M1225 288l12 9 6-8-13-6z"/>
<path class="c29" d="M1237 297l13 6 5-9-12-5z"/>
<path class="c30" d="M1250 303l37 15 6-9-38-15z"/>
<path class="c34" d="M905 198l44 24 7-9-45-23z"/>
<path class="c33" d="M949 222l11 6 7-9-11-6z"/>
<path class="c32" d="M960 228l11 5 7-8-11-6z"/>
<path class="c27" d="M971 233l11 5 7-7-11-6z"/>
<path class="c17" d="M982 238l12 2 6-3-11-6z"/>
<path class="c9" d="M994 240l5 1 7-1-6-3z"/>
<path class="c6" d="M999 241l6-1 6 4-5-4z"/>
<path class="cb" d="M1005 240l22-4 7 39-6-12-6-9-11-10zM1027 236l6-2 5 47-3-3-1-3zM1033 234l6-3 4 53-5-3zM1039 231l6-5 4 60-6-2zM1045 226l6-5 4 67-6-2zM1051 221l5-5 5 73-6-1zM1056 216l7-3 4 64-4 12-2 0zM1063 213l6-1 12 0 24 7 6-2-6 2-6 4-7 5-6 9-6 11-13 29z"/>
<path class="c8" d="M1105 219l6 2 6-4-6 0z"/>
<path class="c14" d="M1111 221l6 3 6-6-6-1z"/>
<path class="c21" d="M1117 224l7 2 6-7-7-1z"/>
<path class="c26" d="M1124 226l6 3 6-9-6-1z"/>
<path class="c29" d="M1130 229l6 2 6-9-6-2z"/>
<path class="c31" d="M1136 231l6 3 6-9-6-3z"/>
<path class="c33" d="M1142 234l37 17 6-9-37-17z"/>
<path class="c30" d="M1179 251l6 3 6-8-6-4z"/>
<path class="c19" d="M1185 254l13 8 5-4-12-12z"/>
<path class="c12" d="M1198 262l11 13 12 15 4-2-22-30z"/>
<path class="c14" d="M1221 290l11 13 5-6-12-9z"/>
<path class="c23" d="M1232 303l12 9 6-9-13-6z"/>
<path class="c29" d="M1244 312l13 5 5-9-12-5z"/>
<path class="c30" d="M1257 317l25 10 5-9-25-10z"/>
<path class="c33" d="M898 207l22 11 7-8-22-12z"/>
<path class="c32" d="M920 218l11 6 7-8-11-6z"/>
<path class="c28" d="M931 224l11 5 7-7-11-6z"/>
<path class="c18" d="M942 229l11 2 7-3-11-6z"/>
<path class="c6" d="M953 231l11 0 7 2-11-5z"/>
<path class="cb" d="M964 231l11-5 22-17 12-5 11 0 12 1 24 6 7 2-7 3-5 5-12 10-6 3-6 2-17 4-11 1-17-3-11-5z"/>
<path class="c4" d="M1056 211l6 3 7-2-6 1z"/>
<path class="c8" d="M1062 214l6 2 7-4-6 0z"/>
<path class="c15" d="M1068 216l6 2 7-6-6 0z"/>
<path class="c21" d="M1074 218l6 3 7-8-6-1z"/>
<path class="c26" d="M1080 221l7 2 6-8-6-2z"/>
<path class="c29" d="M1087 223l6 3 6-9-6-2z"/>
<path class="c31" d="M1093 226l6 2 6-9-6-2z"/>
<path class="c32" d="M1099 228l6 3 6-10-6-2z"/>
<path class="c33" d="M1105 231l18 8 7-10-19-8z"/>
<path class="c34" d="M1123 239l56 25 6-10-55-25z"/>
<path class="c31" d="M1179 264l13 6 6-8-13-8z"/>
<path class="c20" d="M1192 270l12 9 5-4-11-13z"/>
<path class="c13" d="M1204 279l12 13 11 14 5-3-11-13-12-15z"/>
<path class="c16" d="M1227 306l12 12 5-6-12-9z"/>
<path class="c25" d="M1239 318l12 8 6-9-13-5z"/>
<path class="c29" d="M1251 326l13 5 5-9-12-5z"/>
<path class="c30" d="M1264 331l12 5 6-9-13-5z"/>
<path class="c29" d="M891 215l11 5 7-7-11-6z"/>
<path class="c21" d="M902 220l11 3 7-5-11-5z"/>
<path class="c9" d="M913 223l11 1 7 0-11-6z"/>
<path class="cb" d="M924 224l11-4 21-16 11-6 11-1 6 0 18 5 7 2-12 5-22 17-11 5-11 0-11-2-11-5z"/>
<path class="c5" d="M1002 202l6 2 6-1-5 1z"/>
<path class="c7" d="M1008 204l6 2 6-2-6-1z"/>
<path class="c10" d="M1014 206l6 2 6-4-6 0z"/>
<path class="c14" d="M1020 208l6 3 6-6-6-1z"/>
<path class="c18" d="M1026 211l6 2 6-7-6-1z"/>
<path class="c23" d="M1032 213l6 2 6-7-6-2z"/>
<path class="c26" d="M1038 215l6 3 6-9-6-1z"/>
<path class="c29" d="M1044 218l6 2 6-9-6-2z"/>
<path class="c31" d="M1050 220l6 3 6-9-6-3z"/>
<path class="c32" d="M1056 223l6 2 6-9-6-2z"/>
<path class="c33" d="M1062 225l18 8 7-10-19-7z"/>
<path class="c34" d="M1080 233l56 24 50 23 6-10-19-9-37-17-49-21z"/>
<path class="c31" d="M1186 280l12 8 6-9-12-9z"/>
<path class="c20" d="M1198 288l12 9 6-5-12-13z"/>
<path class="c14" d="M1210 297l12 12 5-3-11-14z"/>
<path class="c13" d="M1222 309l12 12 5-3-12-12z"/>
<path class="c16" d="M1234 321l12 12 5-7-12-8z"/>
<path class="c26" d="M1246 333l12 7 6-9-13-5z"/>
<path class="c29" d="M1258 340l13 6 5-10-12-5z"/>
<path class="c5" d="M884 219l10-2 8 3-11-5z"/>
<path class="cb" d="M894 217l11-5 21-12 11-3 11-1 11 2 8 0-11 6-21 16-11 4-11-1-11-3z"/>
<path class="c6" d="M959 198l12 3 7-4-11 1z"/>
<path class="c14" d="M971 201l6 2 7-6-6 0z"/>
<path class="c20" d="M977 203l6 3 7-8-6-1z"/>
<path class="c25" d="M983 206l6 2 7-8-6-2z"/>
<path class="c28" d="M989 208l6 2 7-8-6-2z"/>
<path class="c30" d="M995 210l6 3 7-9-6-2z"/>
<path class="c31" d="M1001 213l12 5 7-10-12-4z"/>
<path class="c32" d="M1013 218l6 2 7-9-6-3z"/>
<path class="c33" d="M1019 220l18 8 7-10-18-7z"/>
<path class="c34" d="M1037 228l86 36 44 20 6-10-44-20-85-36z"/>
<path class="c35" d="M1167 284l13 7 6-11-13-6z"/>
<path class="c34" d="M1180 291l12 7 6-10-12-8z"/>
<path class="c30" d="M1192 298l13 7 5-8-12-9z"/>
<path class="c17" d="M1205 305l12 6 5-2-12-12z"/>
<path class="c12" d="M1217 311l12 13 5-3-12-12z"/>
<path class="c14" d="M1229 324l12 14 5-5-12-12z"/>
<path class="c20" d="M1241 338l12 10 5-8-12-7z"/>
<path class="c28" d="M1253 348l12 7 6-9-13-6z"/>
<path class="cb" d="M876 215l10-6 10-4 11-2 11-2 8-1-21 12-11 5-10 2z"/>
<path class="c4" d="M918 201l11 1 8-5-11 3z"/>
<path class="c13" d="M929 202l12 2 7-8-11 1z"/>
<path class="c22" d="M941 204l11 3 7-9-11-2z"/>
<path class="c29" d="M952 207l12 4 7-10-12-3z"/>
<path class="c31" d="M964 211l6 2 7-10-6-2z"/>
<path class="c32" d="M970 213l6 2 7-9-6-3z"/>
<path class="c33" d="M976 215l36 15 7-10-36-14z"/>
<path class="c34" d="M1012 230l105 45 44 20 6-11-44-20-104-44z"/>
<path class="c35" d="M1161 295l12 6 7-10-13-7z"/>
<path class="c34" d="M1173 301l13 6 6-9-12-7z"/>
<path class="c24" d="M1186 307l13 4 6-6-13-7z"/>
<path class="c20" d="M1199 311l13 7 5-7-12-6z"/>
<path class="c19" d="M1212 318l12 12 5-6-12-13z"/>
<path class="c16" d="M1224 330l11 14 6-6-12-14z"/>
<path class="c18" d="M1235 344l12 11 6-7-12-10z"/>
<path class="c25" d="M1247 355l13 9 5-9-12-7z"/>
<path class="c2" d="M868 220l11-3 7-8-10 6z"/>
<path class="c6" d="M879 217l10-3 7-9-10 4z"/>
<path class="c7" d="M889 214l11-3 7-8-11 2z"/>
<path class="c11" d="M900 211l11-1 7-9-11 2z"/>
<path class="c18" d="M911 210l11 1 7-9-11-1z"/>
<path class="c24" d="M922 211l12 2 7-9-12-2z"/>
<path class="c29" d="M934 213l12 3 6-9-11-3z"/>
<path class="c31" d="M946 216l11 4 7-9-12-4z"/>
<path class="c33" d="M957 220l18 7 7-9-18-7z"/>
<path class="c34" d="M975 227l12 6 7-10-12-5z"/>
<path class="c33" d="M987 233l18 7 7-10-18-7z"/>
<path class="c34" d="M1005 240l105 45 44 20 7-10-44-20-105-45z"/>
<path class="c33" d="M1154 305l13 6 6-10-12-6z"/>
<path class="c21" d="M1167 311l13 2 6-6-13-6z"/>
<path class="c19" d="M1180 313l13 6 6-8-13-4z"/>
<path class="c30" d="M1193 319l12 10 7-11-13-7z"/>
<path class="c26" d="M1205 329l13 11 6-10-12-12z"/>
<path class="c22" d="M1218 340l12 12 5-8-11-14z"/>
<path class="c21" d="M1230 352l12 11 5-8-12-11z"/>
<path class="c24" d="M1242 363l12 9 6-8-13-9z"/>
<path class="c10" d="M861 228l11 0 7-11-11 3z"/>
<path class="c12" d="M872 228l10-2 7-12-10 3z"/>
<path class="c9" d="M882 226l11-2 7-13-11 3z"/>
<path class="c11" d="M893 224l11-3 7-11-11 1z"/>
<path class="c18" d="M904 221l11 0 7-10-11-1z"/>
<path class="c25" d="M915 221l12 2 7-10-12-2z"/>
<path class="c29" d="M927 223l12 3 7-10-12-3z"/>
<path class="c32" d="M939 226l11 4 7-10-11-4z"/>
<path class="c33" d="M950 230l18 7 7-10-18-7z"/>
<path class="c34" d="M968 237l12 5 7-9-12-6z"/>
<path class="c33" d="M980 242l12 5 7-10-12-4z"/>
<path class="c34" d="M992 247l150 65 6-10-44-20-105-45z"/>
<path class="c32" d="M1142 312l6 3 6-10-6-3z"/>
<path class="c19" d="M1148 315l13 1 6-5-13-6z"/>
<path class="c16" d="M1161 316l13 5 6-8-13-2z"/>
<path class="c32" d="M1174 321l13 9 6-11-13-6z"/>
<path class="c30" d="M1187 330l12 11 6-12-12-10z"/>
<path class="c29" d="M1199 341l12 11 7-12-13-11z"/>
<path class="c28" d="M1211 352l13 10 6-10-12-12z"/>
<path class="c26" d="M1224 362l25 19 5-9-12-9-12-11z"/>
<path class="c20" d="M854 236l11 2 7-10-11 0z"/>
<path class="c17" d="M865 238l11 1 6-13-10 2z"/>
<path class="c10" d="M876 239l10-2 7-13-11 2z"/>
<path class="c9" d="M886 237l11-3 7-13-11 3z"/>
<path class="c14" d="M897 234l11-2 7-11-11 0z"/>
<path class="c24" d="M908 232l12 1 7-10-12-2z"/>
<path class="c29" d="M920 233l11 3 8-10-12-3z"/>
<path class="c32" d="M931 236l12 4 7-10-11-4z"/>
<path class="c33" d="M943 240l18 8 7-11-18-7z"/>
<path class="c34" d="M961 248l12 5 7-11-12-5z"/>
<path class="c33" d="M973 253l13 5 6-11-12-5z"/>
<path class="c34" d="M986 258l136 59 7-10-137-60z"/>
<path class="c32" d="M1122 317l7 2 6-9-6-3z"/>
<path class="c25" d="M1129 319l6 2 7-9-7-2z"/>
<path class="c12" d="M1135 321l7-1 6-5-6-3z"/>
<path class="c13" d="M1142 320l13 4 6-8-13-1z"/>
<path class="c32" d="M1155 324l13 9 6-12-13-5z"/>
<path class="c33" d="M1168 333l12 9 7-12-13-9z"/>
<path class="c31" d="M1180 342l13 10 6-11-12-11z"/>
<path class="c30" d="M1193 352l37 30 6-10-37-31z"/>
<path class="c29" d="M1230 382l13 8 6-9-13-9z"/>
<path class="c28" d="M846 245l12 4 7-11-11-2z"/>
<path class="c23" d="M858 249l11 2 7-12-11-1z"/>
<path class="c14" d="M869 251l11 0 6-14-10 2z"/>
<path class="c9" d="M880 251l11-3 6-14-11 3z"/>
<path class="c10" d="M891 248l10-3 7-13-11 2z"/>
<path class="c18" d="M901 245l12-1 7-11-12-1z"/>
<path class="c28" d="M913 244l11 2 7-10-11-3z"/>
<path class="c32" d="M924 246l12 4 7-10-12-4z"/>
<path class="c33" d="M936 250l18 8 7-10-18-8z"/>
<path class="c34" d="M954 258l149 64 7-10-149-64z"/>
<path class="c32" d="M1103 322l7 2 6-10-6-2z"/>
<path class="c24" d="M1110 324l6 1 6-8-6-3z"/>
<path class="c11" d="M1116 325l7 0 6-6-7-2z"/>
<path class="c8" d="M1123 325l6 0 6-4-6-2z"/>
<path class="c12" d="M1129 325l7 3 6-8-7 1z"/>
<path class="c31" d="M1136 328l13 8 6-12-13-4z"/>
<path class="c34" d="M1149 336l12 8 7-11-13-9z"/>
<path class="c32" d="M1161 344l13 10 6-12-12-9z"/>
<path class="c31" d="M1174 354l13 9 6-11-13-10z"/>
<path class="c30" d="M1187 363l25 20 6-11-25-20z"/>
<path class="c31" d="M1212 383l25 17 6-10-25-18z"/>
<path class="c30" d="M839 253l11 5 8-9-12-4z"/>
<path class="c29" d="M850 258l12 4 7-11-11-2z"/>
<path class="c21" d="M862 262l11 2 7-13-11 0z"/>
<path class="c13" d="M873 264l11-1 7-15-11 3z"/>
<path class="c10" d="M884 263l11-2 6-16-10 3z"/>
<path class="c12" d="M895 261l11-3 7-14-12 1z"/>
<path class="c22" d="M906 258l11 0 7-12-11-2z"/>
<path class="c31" d="M917 258l12 3 7-11-12-4z"/>
<path class="c33" d="M929 261l18 7 7-10-18-8z"/>
<path class="c34" d="M947 268l130 57 7-11-130-56z"/>
<path class="c33" d="M1077 325l7 2 6-10-6-3z"/>
<path class="c32" d="M1084 327l6 2 7-10-7-2z"/>
<path class="c23" d="M1090 329l7 1 6-8-6-3z"/>
<path class="c10" d="M1097 330l6-1 7-5-7-2z"/>
<path class="c7" d="M1103 329l7 0 6-4-6-1z"/>
<path class="c9" d="M1110 329l6 3 7-7-7 0z"/>
<path class="c23" d="M1116 332l7 3 6-10-6 0z"/>
<path class="c34" d="M1123 335l6 4 7-11-7-3z"/>
<path class="c35" d="M1129 339l13 8 7-11-13-8z"/>
<path class="c34" d="M1142 347l13 9 6-12-12-8z"/>
<path class="c33" d="M1155 356l12 9 7-11-13-10z"/>
<path class="c31" d="M1167 365l51 37 6-10-50-38z"/>
<path class="c32" d="M1218 402l13 8 6-10-13-8z"/>
<path class="c30" d="M832 262l22 9 8-9-23-9z"/>
<path class="c28" d="M854 271l12 4 7-11-11-2z"/>
<path class="c19" d="M866 275l11 2 7-14-11 1z"/>
<path class="c12" d="M877 277l11-1 7-15-11 2z"/>
<path class="c10" d="M888 276l11-2 7-16-11 3z"/>
<path class="c14" d="M899 274l11-2 7-14-11 0z"/>
<path class="c24" d="M910 272l12 1 7-12-12-3z"/>
<path class="c31" d="M922 273l6 1 7-11-6-2z"/>
<path class="c33" d="M928 274l12 4 7-10-12-5z"/>
<path class="c34" d="M940 278l105 46 7-11-105-45z"/>
<path class="c33" d="M1045 324l13 5 7-10-13-6z"/>
<path class="c32" d="M1058 329l6 3 7-10-6-3z"/>
<path class="c29" d="M1064 332l7 2 6-9-6-3z"/>
<path class="c20" d="M1071 334l6 0 7-7-7-2z"/>
<path class="c8" d="M1077 334l7-1 6-4-6-2z"/>
<path class="c6" d="M1084 333l6 1 7-4-7-1z"/>
<path class="c8" d="M1090 334l7 2 6-7-6 1z"/>
<path class="c20" d="M1097 336l6 3 7-10-7 0z"/>
<path class="c33" d="M1103 339l7 4 6-11-6-3z"/>
<path class="c35" d="M1110 343l25 16 7-12-26-15z"/>
<path class="c34" d="M1135 359l13 8 7-11-13-9z"/>
<path class="c33" d="M1148 367l13 9 6-11-12-9z"/>
<path class="c32" d="M1161 376l13 10 6-12-13-9z"/>
<path class="c31" d="M1174 386l25 18 6-10-25-20z"/>
<path class="c32" d="M1199 404l26 17 6-11-26-16z"/>
<path class="c30" d="M824 271l35 14 7-10-34-13z"/>
<path class="c27" d="M859 285l11 4 7-12-11-2z"/>
<path class="c18" d="M870 289l11 1 7-14-11 1z"/>
<path class="c12" d="M881 290l23-2 6-16-22 4z"/>
<path class="c16" d="M904 288l11-1 7-14-12-1z"/>
<path class="c23" d="M915 287l6 0 7-13-6-1z"/>
<path class="c29" d="M921 287l6 1 7-12-6-2z"/>
<path class="c32" d="M927 288l6 1 7-11-6-2z"/>
<path class="c33" d="M933 289l6 3 7-11-6-3z"/>
<path class="c34" d="M939 292l68 29 7-11-68-29z"/>
<path class="c33" d="M1007 321l13 5 6-10-12-6z"/>
<path class="c32" d="M1020 326l6 3 7-10-7-3z"/>
<path class="c31" d="M1026 329l12 5 7-10-12-5z"/>
<path class="c29" d="M1038 334l7 2 7-9-7-3z"/>
<path class="c27" d="M1045 336l6 2 7-9-6-2z"/>
<path class="c19" d="M1051 338l7 1 6-7-6-3z"/>
<path class="c8" d="M1058 339l6-1 7-4-7-2z"/>
<path class="c5" d="M1064 338l6 0 7-4-6 0z"/>
<path class="c7" d="M1070 338l7 2 7-7-7 1z"/>
<path class="c20" d="M1077 340l6 4 7-10-6-1z"/>
<path class="c33" d="M1083 344l7 3 7-11-7-2z"/>
<path class="c35" d="M1090 347l6 4 7-12-6-3z"/>
<path class="c36" d="M1096 351l20 11 6-11-19-12z"/>
<path class="c35" d="M1116 362l13 8 6-11-13-8z"/>
<path class="c34" d="M1129 370l13 9 6-12-13-8z"/>
<path class="c33" d="M1142 379l12 9 7-12-13-9z"/>
<path class="c32" d="M1154 388l52 36 6-11-51-37z"/>
<path class="c33" d="M1206 424l13 8 6-11-13-8z"/>
<path class="c30" d="M817 280l46 19 7-10-11-4-35-14z"/>
<path class="c27" d="M863 299l11 3 7-12-11-1z"/>
<path class="c18" d="M874 302l12 2 6-15-11 1z"/>
<path class="c13" d="M886 304l22-2 7-15-23 2z"/>
<path class="c16" d="M908 302l6 0 7-15-6 0z"/>
<path class="c20" d="M914 302l6 0 7-14-6-1z"/>
<path class="c25" d="M920 302l6 0 7-13-6-1z"/>
<path class="c31" d="M926 302l6 2 7-12-6-3z"/>
<path class="c34" d="M932 304l6 2 7-12-6-2z"/>
<path class="c35" d="M938 306l6 2 7-11-6-3z"/>
<path class="c36" d="M944 308l6 3 7-12-6-2z"/>
<path class="c37" d="M950 311l19 10 7-14-19-8z"/>
<path class="c36" d="M969 321l25 11 7-14-25-11z"/>
<path class="c35" d="M994 332l31 13 7-14-31-13z"/>
<path class="c34" d="M1025 345l6 1 7-12-6-3z"/>
<path class="c27" d="M1031 346l7 1 7-11-7-2z"/>
<path class="c13" d="M1038 347l6-1 7-8-6-2z"/>
<path class="c8" d="M1044 346l7-1 7-6-7-1z"/>
<path class="c10" d="M1051 345l6 2 7-9-6 1z"/>
<path class="c22" d="M1057 347l7 2 6-11-6 0z"/>
<path class="c34" d="M1064 349l6 3 7-12-7-2z"/>
<path class="c36" d="M1070 352l39 22 7-12-39-22z"/>
<path class="c35" d="M1109 374l26 16 7-11-26-17z"/>
<path class="c34" d="M1135 390l13 9 6-11-12-9z"/>
<path class="c33" d="M1148 399l13 9 6-11-13-9z"/>
<path class="c32" d="M1161 408l39 27 6-11-39-27z"/>
<path class="c33" d="M1200 435l13 7 6-10-13-8z"/>
<path class="c30" d="M809 288l58 25 7-11-11-3-46-19z"/>
<path class="c27" d="M867 313l12 4 7-13-12-2z"/>
<path class="c19" d="M879 317l11 1 7-15-11 1z"/>
<path class="c15" d="M890 318l17 0 7-16-17 1z"/>
<path class="c16" d="M907 318l6 0 7-16-6 0z"/>
<path class="c18" d="M913 318l6 0 7-16-6 0z"/>
<path class="c23" d="M919 318l6 1 7-15-6-2z"/>
<path class="c29" d="M925 319l6 2 7-15-6-2z"/>
<path class="c33" d="M931 321l6 3 7-16-6-2z"/>
<path class="c31" d="M937 324l6 4 7-17-6-3z"/>
<path class="c26" d="M943 328l7 6 6-20-6-3z"/>
<path class="c20" d="M950 334l6 7 7-23-7-4z"/>
<path class="c16" d="M956 341l7 6 6-26-6-3z"/>
<path class="c13" d="M963 347l6 5 6-28-6-3z"/>
<path class="c11" d="M969 352l6 4 6-30-6-2z"/>
<path class="c10" d="M975 356l6 3 7-30-7-3z"/>
<path class="c9" d="M981 359l13 6 6-31-12-5z"/>
<path class="c8" d="M994 365l18 7 6 1 7-28-25-11z"/>
<path class="c7" d="M1018 373l7-1 6-26-6-1z"/>
<path class="c8" d="M1025 372l6-1 7-24-7-1z"/>
<path class="c7" d="M1031 371l13 0 7-26-13 2z"/>
<path class="c9" d="M1044 371l6-1 7-23-6-2z"/>
<path class="c13" d="M1050 370l7-2 7-19-7-2z"/>
<path class="c22" d="M1057 368l6 0 7-16-6-3z"/>
<path class="c32" d="M1063 368l7 1 7-14-7-3z"/>
<path class="c36" d="M1070 369l6 3 7-13-6-4z"/>
<path class="c37" d="M1076 372l7 3 6-12-6-4z"/>
<path class="c36" d="M1083 375l19 11 7-12-20-11z"/>
<path class="c35" d="M1102 386l26 16 7-12-26-16z"/>
<path class="c34" d="M1128 402l13 9 7-12-13-9z"/>
<path class="c33" d="M1141 411l13 9 7-12-13-9z"/>
<path class="c32" d="M1154 420l13 9 7-12-13-9z"/>
<path class="c33" d="M1167 429l39 24 7-11-13-7-26-18z"/>
<path class="c30" d="M807 291l70 28 2-2-12-4-58-25z"/>
<path class="c24" d="M877 319l11 3 2-4-11-1z"/>
<path class="c17" d="M888 322l12 0 2-4-12 0z"/>
<path class="c15" d="M900 322l6 0 1-4-5 0z"/>
<path class="c16" d="M906 322l5 0 2-4-6 0z"/>
<path class="c18" d="M911 322l6 0 2-4-6 0z"/>
<path class="c21" d="M917 322l6 1 2-4-6-1z"/>
<path class="c26" d="M923 323l6 2 2-4-6-2z"/>
<path class="c28" d="M929 325l6 3 2-4-6-3z"/>
<path class="c24" d="M935 328l7 6 1-6-6-4z"/>
<path class="c18" d="M942 334l6 6 2-6-7-6z"/>
<path class="c14" d="M948 340l7 8 1-7-6-7z"/>
<path class="c12" d="M955 348l6 6 2-7-7-6z"/>
<path class="c9" d="M961 354l6 6 2-8-6-5z"/>
<path class="c8" d="M967 360l7 5 1-9-6-4z"/>
<path class="c7" d="M974 365l6 3 1-9-6-3z"/>
<path class="c6" d="M980 368l12 7 2-10-13-6z"/>
<path class="c5" d="M992 375l12 5 7 1 1-9-18-7z"/>
<path class="c4" d="M1011 381l12-2 13 1 6-1 6-2 2-7-6 1-13 0-13 2-6-1z"/>
<path class="c5" d="M1048 377l7-3 2-6-7 2z"/>
<path class="c8" d="M1055 374l6-2 2-4-6 0z"/>
<path class="c21" d="M1061 372l7 1 2-4-7-1z"/>
<path class="c33" d="M1068 373l6 2 2-3-6-3z"/>
<path class="c36" d="M1074 375l7 3 2-3-7-3z"/>
<path class="c37" d="M1081 378l6 3 2-3-6-3z"/>
<path class="c36" d="M1087 381l13 8 2-3-13-8z"/>
<path class="c35" d="M1100 389l26 16 2-3-26-16z"/>
<path class="c34" d="M1126 405l14 9 1-3-13-9z"/>
<path class="c33" d="M1140 414l39 26 26 16 1-3-26-16-39-26z"/>
<path class="c30" d="M805 293l58 24 2-2-58-24z"/>
<path class="c31" d="M863 317l12 5 2-3-12-4z"/>
<path class="c27" d="M875 322l12 3 1-3-11-3z"/>
<path class="c18" d="M887 325l11 1 2-4-12 0z"/>
<path class="c16" d="M898 326l6 0 2-4-6 0z"/>
<path class="c17" d="M904 326l6 0 1-4-5 0z"/>
<path class="c18" d="M910 326l6 0 1-4-6 0z"/>
<path class="c22" d="M916 326l6 1 1-4-6-1z"/>
<path class="c27" d="M922 327l6 2 1-4-6-2z"/>
<path class="c29" d="M928 329l6 4 1-5-6-3z"/>
<path class="c25" d="M934 333l6 5 2-4-7-6z"/>
<path class="c19" d="M940 338l7 8 1-6-6-6z"/>
<path class="c16" d="M947 346l6 8 2-6-7-8z"/>
<path class="c15" d="M953 354l6 7 2-7-6-6z"/>
<path class="c13" d="M959 361l7 6 1-7-6-6z"/>
<path class="c11" d="M966 367l6 5 2-7-7-5z"/>
<path class="c10" d="M972 372l6 4 2-8-6-3z"/>
<path class="c9" d="M978 376l6 3 2-7-6-4z"/>
<path class="c8" d="M984 379l13 6 6 2 6 1 2-7-13-4-12-5z"/>
<path class="c6" d="M1009 388l12-2 2-7-12 2z"/>
<path class="c7" d="M1021 386l7 1 1-7-6-1z"/>
<path class="c6" d="M1028 387l6 0 2-7-7 0z"/>
<path class="c5" d="M1034 387l6-1 2-7-6 1z"/>
<path class="c4" d="M1040 386l7-3 1-6-6 2z"/>
<path class="c3" d="M1047 383l6-4 2-5-7 3z"/>
<path class="c6" d="M1053 379l6-3 2-4-6 2z"/>
<path class="c16" d="M1059 376l7 0 2-3-7-1z"/>
<path class="c31" d="M1066 376l7 2 1-3-6-2z"/>
<path class="c36" d="M1073 378l26 14 1-3-26-14z"/>
<path class="c35" d="M1099 392l26 16 1-3-26-16z"/>
<path class="c34" d="M1125 408l13 9 2-3-14-9z"/>
<path class="c33" d="M1138 417l39 26 26 16 2-3-26-16-39-26z"/>
<path class="c30" d="M803 295l70 29 2-2-70-29z"/>
<path class="c29" d="M873 324l12 4 2-3-12-3z"/>
<path class="c20" d="M885 328l11 1 2-3-11-1z"/>
<path class="c17" d="M896 329l12 0 2-3-12 0z"/>
<path class="c19" d="M908 329l6 1 2-4-6 0z"/>
<path class="c23" d="M914 330l6 1 2-4-6-1z"/>
<path class="c29" d="M920 331l6 2 2-4-6-2z"/>
<path class="c33" d="M926 333l6 4 2-4-6-4z"/>
<path class="c28" d="M932 337l6 5 2-4-6-5z"/>
<path class="c21" d="M938 342l7 8 2-4-7-8z"/>
<path class="c19" d="M945 350l6 8 2-4-6-8z"/>
<path class="c21" d="M951 358l7 7 1-4-6-7z"/>
<path class="c24" d="M958 365l6 7 2-5-7-6z"/>
<path class="c26" d="M964 372l6 5 2-5-6-5z"/>
<path class="c27" d="M970 377l13 7 1-5-12-7z"/>
<path class="c26" d="M983 384l12 5 6 2 2-4-19-8z"/>
<path class="c16" d="M1001 391l6 0 2-3-6-1z"/>
<path class="c7" d="M1007 391l6-1 2-3-6 1z"/>
<path class="c15" d="M1013 390l7 0 1-4-6 1z"/>
<path class="c20" d="M1020 390l6 2 2-5-7-1z"/>
<path class="c15" d="M1026 392l6 0 2-5-6 0z"/>
<path class="c8" d="M1032 392l6-1 2-5-6 1z"/>
<path class="c4" d="M1038 391l7-3 2-5-7 3z"/>
<path class="c2" d="M1045 388l6-5 2-4-6 4z"/>
<path class="c4" d="M1051 383l7-3 1-4-6 3z"/>
<path class="c13" d="M1058 380l6 0 2-4-7 0z"/>
<path class="c28" d="M1064 380l7 1 2-3-7-2z"/>
<path class="c35" d="M1071 381l6 3 2-3-6-3z"/>
<path class="c36" d="M1077 384l20 11 2-3-20-11z"/>
<path class="c35" d="M1097 395l26 16 2-3-26-16z"/>
<path class="c34" d="M1123 411l13 9 2-3-13-9z"/>
<path class="c33" d="M1136 420l39 26 27 15 1-2-26-16-39-26z"/>
<path class="c30" d="M801 297l70 30 12 4 2-3-24-8-58-25z"/>
<path class="c22" d="M883 331l12 2 1-4-11-1z"/>
<path class="c18" d="M895 333l11 0 2-4-12 0z"/>
<path class="c20" d="M906 333l6 1 2-4-6-1z"/>
<path class="c24" d="M912 334l6 1 2-4-6-1z"/>
<path class="c31" d="M918 335l6 2 2-4-6-2z"/>
<path class="c37" d="M924 337l6 3 2-3-6-4z"/>
<path class="c30" d="M930 340l7 5 1-3-6-5z"/>
<path class="c20" d="M937 345l6 7 2-2-7-8z"/>
<path class="c16" d="M943 352l7 7 1-1-6-8z"/>
<path class="c14" d="M950 359l6 8 2-2-7-7z"/>
<path class="c13" d="M956 367l6 5 2 0-6-7z"/>
<path class="c11" d="M962 372l6 5 2 0-6-5z"/>
<path class="c9" d="M968 377l7 4 2 0-7-4z"/>
<path class="c8" d="M975 381l6 3 2 0-6-3z"/>
<path class="c7" d="M981 384l6 3 2 0-6-3z"/>
<path class="c6" d="M987 387l6 2 2 0-6-2z"/>
<path class="cb" d="M993 389l6 1 13-1 6 1 2 0-7 0-12 1-6-2z"/>
<path class="c5" d="M1018 390l6 2 2 0-6-2z"/>
<path class="c4" d="M1024 392l6 1 2-1-6 0z"/>
<path class="c3" d="M1030 393l7 0 1-2-6 1z"/>
<path class="c1" d="M1037 393l6-3 6-4 2-3-13 8z"/>
<path class="c2" d="M1049 386l7-3 2-3-7 3z"/>
<path class="c11" d="M1056 383l7 0 1-3-6 0z"/>
<path class="c27" d="M1063 383l6 1 2-3-7-1z"/>
<path class="c34" d="M1069 384l7 3 1-3-6-3z"/>
<path class="c36" d="M1076 387l19 11 2-3-20-11z"/>
<path class="c35" d="M1095 398l26 16 2-3-26-16z"/>
<path class="c34" d="M1121 414l13 9 2-3-13-9z"/>
<path class="c33" d="M1134 423l40 26 26 15 2-3-27-15-39-26z"/>
<path class="c30" d="M799 300l82 34 2-3-12-4-70-30z"/>
<path class="c25" d="M881 334l12 2 2-3-12-2z"/>
<path class="c19" d="M893 336l6 0 1-3-5 0z"/>
<path class="c18" d="M899 336l5 1 2-4-6 0z"/>
<path class="c19" d="M904 337l6 0 2-3-6-1z"/>
<path class="c23" d="M910 337l6 1 2-3-6-1z"/>
<path class="c30" d="M916 338l6 1 2-2-6-2z"/>
<path class="c33" d="M922 339l6 3 2-2-6-3z"/>
<path class="c21" d="M928 342l7 4 2-1-7-5z"/>
<path class="c12" d="M935 346l6 6 2 0-6-7z"/>
<path class="c9" d="M941 352l6 6 3 1-7-7z"/>
<path class="c7" d="M947 358l7 6 2 3-6-8z"/>
<path class="cb" d="M954 364l6 5 13 7 12 6 6 1 12-1 7 1 25 8 6-1 7-2 1-2-6 4-6 3-7 0-6-1-12-3-13 1-6-1-18-8-13-9-6-5z"/>
<path class="c1" d="M1048 388l6-3 2-2-7 3z"/>
<path class="c9" d="M1054 385l7 0 2-2-7 0z"/>
<path class="c25" d="M1061 385l6 2 2-3-6-1z"/>
<path class="c34" d="M1067 387l7 3 2-3-7-3z"/>
<path class="c35" d="M1074 390l6 3 2-3-6-3z"/>
<path class="c36" d="M1080 393l14 8 1-3-13-8z"/>
<path class="c35" d="M1094 401l26 16 1-3-26-16z"/>
<path class="c34" d="M1120 417l13 8 1-2-13-9z"/>
<path class="c33" d="M1133 425l39 27 26 15 2-3-26-15-40-26z"/>
<path class="c30" d="M797 302l82 34 2-2-82-34z"/>
<path class="c27" d="M879 336l12 3 2-3-12-2z"/>
<path class="c20" d="M891 339l6 1 2-4-6 0z"/>
<path class="c18" d="M897 340l12 0 1-3-11-1z"/>
<path class="c21" d="M909 340l5 1 2-3-6-1z"/>
<path class="c24" d="M914 341l6 1 2-3-6-1z"/>
<path class="c20" d="M920 342l6 2 2-2-6-3z"/>
<path class="c10" d="M926 344l7 2 2 0-7-4z"/>
<path class="c7" d="M933 346l6 4 2 2-6-6z"/>
<path class="cb" d="M939 350l19 11 18 8 7 2 6 1 12-2 19 8 20 11 6-1 2 0-7 2-6 1-25-8-7-1-12 1-6-1-12-6-13-7-19-17z"/>
<path class="c1" d="M1046 388l6-1 2-2-6 3z"/>
<path class="c10" d="M1052 387l7 1 2-3-7 0z"/>
<path class="c25" d="M1059 388l7 2 1-3-6-2z"/>
<path class="c33" d="M1066 390l6 3 2-3-7-3z"/>
<path class="c35" d="M1072 393l7 3 1-3-6-3z"/>
<path class="c36" d="M1079 396l13 8 2-3-14-8z"/>
<path class="c35" d="M1092 404l26 16 2-3-26-16z"/>
<path class="c34" d="M1118 420l26 17 2-3-26-17z"/>
<path class="c33" d="M1144 437l26 17 27 16 1-3-26-15-26-18z"/>
<path class="c30" d="M795 304l82 35 2-3-82-34z"/>
<path class="c28" d="M877 339l12 3 2-3-12-3z"/>
<path class="c22" d="M889 342l6 1 2-3-6-1z"/>
<path class="c18" d="M895 343l6 0 2-3-6 0z"/>
<path class="c17" d="M901 343l12 1 1-3-11-1z"/>
<path class="c15" d="M913 344l6 0 1-2-6-1z"/>
<path class="c9" d="M919 344l5 0 2 0-6-2z"/>
<path class="c5" d="M924 344l6 1 3 1-7-2z"/>
<path class="cb" d="M930 345l50 10 12-2 7 1 19 9 7 6 13 16 6 3 2 0-6 1-20-11-19-8-12 2-6-1-7-2-18-8-25-15z"/>
<path class="c3" d="M1044 388l7 1 1-2-6 1z"/>
<path class="c11" d="M1051 389l6 1 2-2-7-1z"/>
<path class="c26" d="M1057 390l7 3 2-3-7-2z"/>
<path class="c33" d="M1064 393l6 3 2-3-6-3z"/>
<path class="c35" d="M1070 396l7 3 2-3-7-3z"/>
<path class="c36" d="M1077 399l13 8 2-3-13-8z"/>
<path class="c35" d="M1090 407l26 16 2-3-26-16z"/>
<path class="c34" d="M1116 423l26 17 2-3-26-17z"/>
<path class="c33" d="M1142 440l27 17 26 15 2-2-27-16-26-17z"/>
<path class="c30" d="M793 307l83 34 1-2-82-35z"/>
<path class="c29" d="M876 341l11 4 2-3-12-3z"/>
<path class="c23" d="M887 345l6 1 2-3-6-1z"/>
<path class="c18" d="M893 346l6 1 2-4-6 0z"/>
<path class="c15" d="M899 347l6-1 2-3-6 0z"/>
<path class="c12" d="M905 346l6 0 2-2-6-1z"/>
<path class="c8" d="M911 346l6-1 2-1-6 0z"/>
<path class="c3" d="M917 345l5-1 2 0-5 0z"/>
<path class="cb" d="M922 344l30-9 6-1 19 0 6-2 7-1 6 2 13 7 7 5 7 7 13 29 6 6 2 1-6-3-13-16-7-6-19-9-7-1-12 2-56-11z"/>
<path class="c6" d="M1042 387l7 3 2-1-7-1z"/>
<path class="c15" d="M1049 390l7 2 1-2-6-1z"/>
<path class="c28" d="M1056 392l6 3 2-2-7-3z"/>
<path class="c33" d="M1062 395l7 3 1-2-6-3z"/>
<path class="c35" d="M1069 398l6 4 2-3-7-3z"/>
<path class="c36" d="M1075 402l13 8 2-3-13-8z"/>
<path class="c35" d="M1088 410l27 16 1-3-26-16z"/>
<path class="c34" d="M1115 426l26 17 1-3-26-17z"/>
<path class="c33" d="M1141 443l26 17 27 15 1-3-26-15-27-17z"/>
<path class="c30" d="M791 309l59 25 2-3-59-24z"/>
<path class="c29" d="M850 334l36 14 1-3-11-4-24-10z"/>
<path class="c24" d="M886 348l5 1 2-3-6-1z"/>
<path class="c18" d="M891 349l6 1 2-3-6-1z"/>
<path class="c13" d="M897 350l6-1 2-3-6 1z"/>
<path class="c8" d="M903 349l6-1 2-2-6 0z"/>
<path class="c3" d="M909 348l6-1 2-2-6 1z"/>
<path class="cb" d="M915 347l11-7 23-23 3 18-24 8-11 2zM949 317l1 0 6 1 2 16-6 1zM962 320l2 14-6 0-2-16zM969 323l2 11-7 0-2-14zM976 325l1 9-6 0-2-11zM983 327l0 5-6 2-1-9zM989 330l1 1-7 1 0-5z"/>
<path class="c10" d="M996 332l0 1-6-2-1-1z"/>
<path class="c13" d="M1003 335l0 2-7-4 0-1z"/>
<path class="c9" d="M1009 338l0 2-6-3 0-2z"/>
<path class="c7" d="M1016 341l0 4-7-5 0-2z"/>
<path class="cb" d="M1022 344l1 8-7-7 0-4zM1025 348l2 6 2 12-6-14-1-8zM1027 354l7 22 7 11 1 0-6-6-7-15z"/>
<path class="c9" d="M1041 387l6 4 2-1-7-3z"/>
<path class="c19" d="M1047 391l7 4 2-3-7-2z"/>
<path class="c30" d="M1054 395l6 3 2-3-6-3z"/>
<path class="c34" d="M1060 398l7 3 2-3-7-3z"/>
<path class="c35" d="M1067 401l6 4 2-3-6-4z"/>
<path class="c36" d="M1073 405l14 8 1-3-13-8z"/>
<path class="c35" d="M1087 413l26 16 2-3-27-16z"/>
<path class="c34" d="M1113 429l26 17 2-3-26-17z"/>
<path class="c33" d="M1139 446l26 17 27 15 2-3-27-15-26-17z"/>
<path class="c30" d="M789 311l59 25 2-2-59-25z"/>
<path class="c29" d="M848 336l24 10 2-2-24-10z"/>
<path class="c28" d="M872 346l12 4 2-2-12-4z"/>
<path class="c25" d="M884 350l6 2 1-3-5-1z"/>
<path class="c18" d="M890 352l5 0 2-2-6-1z"/>
<path class="c12" d="M895 352l6 0 2-3-6 1z"/>
<path class="c6" d="M901 352l6-1 2-3-6 1z"/>
<path class="c2" d="M907 351l6-3 2-1-6 1z"/>
<path class="cb" d="M913 348l5-4 6-6 10-19 3 10-11 11-11 7zM934 319l3-5 4 1 2 8-6 6zM949 316l0 1-6 6-2-8z"/>
<path class="c16" d="M950 317l-1 0 0-1z"/>
<path class="c9" d="M1027 349l0 5-2-6zM1028 352l4 19 2 5-7-22 0-5zM1032 371l7 16 2 0-7-11z"/>
<path class="c12" d="M1039 387l6 6 2-2-6-4z"/>
<path class="c24" d="M1045 393l7 4 2-2-7-4z"/>
<path class="c32" d="M1052 397l7 4 1-3-6-3z"/>
<path class="c34" d="M1059 401l6 3 2-3-7-3z"/>
<path class="c35" d="M1065 404l7 4 1-3-6-4z"/>
<path class="c36" d="M1072 408l13 8 2-3-14-8z"/>
<path class="c35" d="M1085 416l26 16 2-3-26-16z"/>
<path class="c34" d="M1111 432l40 26 1-3-39-26z"/>
<path class="c33" d="M1151 458l39 23 2-3-40-23z"/>
<path class="c30" d="M787 313l59 25 2-2-59-25z"/>
<path class="c29" d="M846 338l24 10 2-2-24-10z"/>
<path class="c28" d="M870 348l12 5 2-3-12-4z"/>
<path class="c25" d="M882 353l6 1 2-2-6-2z"/>
<path class="c19" d="M888 354l6 1 1-3-5 0z"/>
<path class="c11" d="M894 355l5 0 2-3-6 0z"/>
<path class="c4" d="M899 355l6-2 2-2-6 1z"/>
<path class="c1" d="M905 353l6-4 2-1-6 3z"/>
<path class="cb" d="M911 349l5-5 5-9 5-11 3 5-5 9-6 6-5 4zM926 324l4-9 3-1 1 5-5 10zM937 314l-3 5-1-5z"/>
<path class="c10" d="M1028 356l2 11 2 4-4-19zM1030 367l7 20 2 0-7-16z"/>
<path class="c13" d="M1037 387l7 8 1-2-6-6z"/>
<path class="c27" d="M1044 395l6 5 2-3-7-4z"/>
<path class="c33" d="M1050 400l7 3 2-2-7-4z"/>
<path class="c35" d="M1057 403l13 8 2-3-13-7z"/>
<path class="c36" d="M1070 411l13 8 2-3-13-8z"/>
<path class="c35" d="M1083 419l26 16 2-3-26-16z"/>
<path class="c34" d="M1109 435l53 34 2-3-53-34z"/>
<path class="c33" d="M1162 469l27 14 1-2-26-15z"/>
<path class="c30" d="M785 316l59 25 2-3-59-25z"/>
<path class="c29" d="M844 341l24 10 2-3-24-10z"/>
<path class="c28" d="M868 351l12 4 2-2-12-5z"/>
<path class="c25" d="M880 355l6 2 2-3-6-1z"/>
<path class="c19" d="M886 357l6 1 2-3-6-1z"/>
<path class="c10" d="M892 358l6-1 1-2-5 0z"/>
<path class="c4" d="M898 357l5-2 2-2-6 2z"/>
<path class="c1" d="M903 355l6-4 2-2-6 4z"/>
<path class="cb" d="M909 351l5-7 5-10 5-14 2 4-5 11-5 9-5 5zM924 320l1-4 5-1-4 9z"/>
<path class="c11" d="M1028 359l1 5 1 3-2-11z"/>
<path class="c10" d="M1029 364l6 24 2-1-7-20z"/>
<path class="c14" d="M1035 388l7 9 2-2-7-8z"/>
<path class="c28" d="M1042 397l6 5 2-2-6-5z"/>
<path class="c34" d="M1048 402l7 4 2-3-7-3z"/>
<path class="c35" d="M1055 406l7 4 1-3-6-4z"/>
<path class="c36" d="M1062 410l19 12 2-3-20-12z"/>
<path class="c35" d="M1081 422l40 24 2-3-40-24z"/>
<path class="c34" d="M1121 446l39 25 2-2-39-26z"/>
<path class="c33" d="M1160 471l27 15 2-3-27-14z"/>
<path class="c30" d="M783 318l59 25 2-2-59-25z"/>
<path class="c29" d="M842 343l24 10 2-2-24-10z"/>
<path class="c28" d="M866 353l12 5 2-3-12-4z"/>
<path class="c25" d="M878 358l6 1 2-2-6-2z"/>
<path class="c19" d="M884 359l6 1 2-2-6-1z"/>
<path class="c11" d="M890 360l6 0 2-3-6 1z"/>
<path class="c4" d="M896 360l5-2 2-3-5 2z"/>
<path class="c1" d="M901 358l6-5 2-2-6 4z"/>
<path class="cb" d="M907 353l5-7 5-12 2 0-5 10-5 7zM917 334l5-16 2 2-5 14z"/>
<path class="c4" d="M925 316l-1 4-2-2z"/>
<path class="c12" d="M1026 362l1 1 2 1-1-5z"/>
<path class="c10" d="M1027 363l6 26 2-1-6-24z"/>
<path class="c14" d="M1033 389l7 11 2-3-7-9z"/>
<path class="c28" d="M1040 400l7 5 1-3-6-5z"/>
<path class="c34" d="M1047 405l6 4 2-3-7-4z"/>
<path class="c35" d="M1053 409l7 4 2-3-7-4z"/>
<path class="c36" d="M1060 413l20 12 1-3-19-12z"/>
<path class="c35" d="M1080 425l39 24 2-3-40-24z"/>
<path class="c34" d="M1119 449l40 25 1-3-39-25z"/>
<path class="c33" d="M1159 474l27 15 1-3-27-15z"/>
<path class="c30" d="M781 320l59 26 2-3-59-25z"/>
<path class="c29" d="M840 346l24 10 2-3-24-10z"/>
<path class="c28" d="M864 356l12 4 2-2-12-5z"/>
<path class="c25" d="M876 360l6 2 2-3-6-1z"/>
<path class="c20" d="M882 362l6 1 2-3-6-1z"/>
<path class="c11" d="M888 363l6 0 2-3-6 0z"/>
<path class="c4" d="M894 363l5-2 2-3-5 2z"/>
<path class="c1" d="M899 361l6-5 2-3-6 5z"/>
<path class="cb" d="M905 356l5-8 5-13 2-1-5 12-5 7zM915 335l4-15 3-2-5 16z"/>
<path class="c20" d="M1026 363l1 0-1-1z"/>
<path class="c10" d="M1025 364l7 27 1-2-6-26-1 0z"/>
<path class="c14" d="M1032 391l6 12 2-3-7-11z"/>
<path class="c28" d="M1038 403l7 5 2-3-7-5z"/>
<path class="c35" d="M1045 408l6 4 2-3-6-4z"/>
<path class="c36" d="M1051 412l40 24 2-3-40-24z"/>
<path class="c35" d="M1091 436l26 16 2-3-26-16z"/>
<path class="c34" d="M1117 452l40 25 2-3-40-25z"/>
<path class="c33" d="M1157 477l27 15 2-3-27-15z"/>
<path class="c30" d="M779 323l59 25 2-2-59-26z"/>
<path class="c29" d="M838 348l24 10 2-2-24-10z"/>
<path class="c28" d="M862 358l12 4 2-2-12-4z"/>
<path class="c25" d="M874 362l6 2 2-2-6-2z"/>
<path class="c20" d="M880 364l6 1 2-2-6-1z"/>
<path class="c12" d="M886 365l6 0 2-2-6 0z"/>
<path class="c4" d="M892 365l6-2 1-2-5 2z"/>
<path class="c1" d="M898 363l5-4 2-3-6 5z"/>
<path class="cb" d="M903 359l5-9 5-13 2-2-5 13-5 8zM913 337l3-15 3-2-4 15z"/>
<path class="c10" d="M1024 367l6 27 2-3-7-27z"/>
<path class="c14" d="M1030 394l6 11 2-2-6-12z"/>
<path class="c28" d="M1036 405l7 6 2-3-7-5z"/>
<path class="c35" d="M1043 411l7 4 1-3-6-4z"/>
<path class="c36" d="M1050 415l39 24 2-3-40-24z"/>
<path class="c35" d="M1089 439l27 16 1-3-26-16z"/>
<path class="c34" d="M1116 455l40 25 1-3-40-25z"/>
<path class="c33" d="M1156 480l26 15 2-3-27-15z"/>
<path class="c30" d="M777 325l59 25 2-2-59-25z"/>
<path class="c29" d="M836 350l24 10 2-2-24-10z"/>
<path class="c28" d="M860 360l12 5 2-3-12-4z"/>
<path class="c25" d="M872 365l6 2 2-3-6-2z"/>
<path class="c20" d="M878 367l6 1 2-3-6-1z"/>
<path class="c13" d="M884 368l6 0 2-3-6 0z"/>
<path class="c4" d="M890 368l6-2 2-3-6 2z"/>
<path class="c1" d="M896 366l5-4 2-3-5 4z"/>
<path class="cb" d="M901 362l5-9 5-14 2-2-5 13-5 9zM911 339l3-14 2-3-3 15z"/>
<path class="c10" d="M1022 370l6 26 2-2-6-27z"/>
<path class="c14" d="M1028 396l7 12 1-3-6-11z"/>
<path class="c28" d="M1035 408l6 6 2-3-7-6z"/>
<path class="c35" d="M1041 414l7 4 2-3-7-4z"/>
<path class="c36" d="M1048 418l39 24 2-3-39-24z"/>
<path class="c35" d="M1087 442l27 16 2-3-27-16z"/>
<path class="c34" d="M1114 458l40 25 2-3-40-25z"/>
<path class="c33" d="M1154 483l27 15 1-3-26-15z"/>
<path class="c30" d="M773 330l59 25 4-5-59-25z"/>
<path class="c29" d="M832 355l24 10 4-5-24-10z"/>
<path class="c28" d="M856 365l12 5 4-5-12-5z"/>
<path class="c25" d="M868 370l6 2 4-5-6-2z"/>
<path class="c21" d="M874 372l6 1 4-5-6-1z"/>
<path class="c13" d="M880 373l6 0 4-5-6 0z"/>
<path class="c5" d="M886 373l6-1 4-6-6 2z"/>
<path class="c1" d="M892 372l5-5 4-5-5 4z"/>
<path class="cb" d="M897 367l5-8 5-14 4-6-5 14-5 9zM907 345l4-15 3-5-3 14z"/>
<path class="c10" d="M1018 375l6 27 4-6-6-26z"/>
<path class="c13" d="M1024 402l7 12 4-6-7-12z"/>
<path class="c28" d="M1031 414l7 6 3-6-6-6z"/>
<path class="c35" d="M1038 420l6 5 4-7-7-4z"/>
<path class="c36" d="M1044 425l40 23 3-6-39-24z"/>
<path class="c35" d="M1084 448l27 16 3-6-27-16z"/>
<path class="c34" d="M1111 464l39 25 4-6-40-25z"/>
<path class="c33" d="M1150 489l27 14 4-5-27-15z"/>
<path class="c30" d="M769 334l60 26 3-5-59-25z"/>
<path class="c29" d="M829 360l24 10 3-5-24-10z"/>
<path class="c28" d="M853 370l12 5 3-5-12-5z"/>
<path class="c25" d="M865 375l6 1 3-4-6-2z"/>
<path class="c21" d="M871 376l5 2 4-5-6-1z"/>
<path class="c14" d="M876 378l6 0 4-5-6 0z"/>
<path class="c5" d="M882 378l6-1 4-5-6 1z"/>
<path class="c1" d="M888 377l5-4 4-6-5 5z"/>
<path class="cb" d="M893 373l6-8 4-13 4-7-5 14-5 8zM903 352l4-17 4-5-4 15z"/>
<path class="c10" d="M1014 380l7 28 3-6-6-27z"/>
<path class="c13" d="M1021 408l6 12 4-6-7-12z"/>
<path class="c28" d="M1027 420l7 6 4-6-7-6z"/>
<path class="c35" d="M1034 426l7 5 3-6-6-5z"/>
<path class="c36" d="M1041 431l39 23 4-6-40-23z"/>
<path class="c35" d="M1080 454l27 16 4-6-27-16z"/>
<path class="c34" d="M1107 470l40 25 3-6-39-25z"/>
<path class="c33" d="M1147 495l27 14 3-6-27-14z"/>
<path class="c30" d="M765 339l60 26 4-5-60-26z"/>
<path class="c29" d="M825 365l24 10 4-5-24-10z"/>
<path class="c28" d="M849 375l12 4 4-4-12-5z"/>
<path class="c25" d="M861 379l6 2 4-5-6-1z"/>
<path class="c21" d="M867 381l6 2 3-5-5-2z"/>
<path class="c14" d="M873 383l5 0 4-5-6 0z"/>
<path class="c5" d="M878 383l6-1 4-5-6 1z"/>
<path class="c1" d="M884 382l6-4 3-5-5 4z"/>
<path class="cb" d="M890 378l5-7 4-13 4-6-4 13-6 8zM899 358l5-18 3-5-4 17z"/>
<path class="c10" d="M1010 386l7 28 4-6-7-28z"/>
<path class="c13" d="M1017 414l7 13 3-7-6-12z"/>
<path class="c27" d="M1024 427l6 6 4-7-7-6z"/>
<path class="c35" d="M1030 433l7 4 4-6-7-5z"/>
<path class="c36" d="M1037 437l40 23 3-6-39-23z"/>
<path class="c35" d="M1077 460l40 25 3-6-40-25z"/>
<path class="c34" d="M1117 485l27 16 3-6-27-16z"/>
<path class="c33" d="M1144 501l13 7 4-6-14-7z"/>
<path class="c32" d="M1157 508l14 7 3-6-13-7z"/>
<path class="c30" d="M761 344l60 26 4-5-60-26z"/>
<path class="c29" d="M821 370l24 10 4-5-24-10z"/>
<path class="c28" d="M845 380l12 4 4-5-12-4z"/>
<path class="c25" d="M857 384l6 2 4-5-6-2z"/>
<path class="c21" d="M863 386l6 2 4-5-6-2z"/>
<path class="c14" d="M869 388l6 0 3-5-5 0z"/>
<path class="c5" d="M875 388l5-1 4-5-6 1z"/>
<path class="c1" d="M880 387l6-4 4-5-6 4z"/>
<path class="cb" d="M886 383l5-7 5-12 3-6-4 13-5 7zM896 364l4-18 1-2 3-4-5 18z"/>
<path class="c30" d="M900 346l1-2z"/>
<path class="c10" d="M1006 391l7 29 4-6-7-28z"/>
<path class="c13" d="M1013 420l7 13 4-6-7-13z"/>
<path class="c27" d="M1020 433l7 6 3-6-6-6z"/>
<path class="c35" d="M1027 439l6 4 4-6-7-4z"/>
<path class="c36" d="M1033 443l40 23 4-6-40-23z"/>
<path class="c35" d="M1073 466l40 25 4-6-40-25z"/>
<path class="c34" d="M1113 491l27 15 4-5-27-16z"/>
<path class="c33" d="M1140 506l14 8 3-6-13-7z"/>
<path class="c32" d="M1154 514l13 6 4-5-14-7z"/>
<path class="m" d="M761 344l99-115 11-12M873 216l3-1 4 2M899 205l28-37 60-81M785 354l75-90 9-14 19-34 5-8 3-2 2-1 2 1 3 3M936 198l72-102M809 364l49-60 12-15 9-17 24-49 8-13 8-10M925 199l2 2M966 198l63-93M833 375l36-45 9-13 9-16 20-45 7-15 8-12 18-24 5-7 4-2M951 196l2 2 2 4M995 200l56-87M857 384l26-33 7-11 9-17 20-45 12-20 41-58 3-2 2-1 2 1 2 3M1022 204l50-81M880 387l15-20M926 316l7-14 8-13 52-76 9-12M1051 210l43-74M900 346l1-2M922 318l5 7 10 22 3 4 3 1M955 319l4-9 5-8 61-91 4-4 2-2 3 1 1 3M1092 214l12-35 12-27M956 322l9 45 3 9 1 1 1 0M981 327l3-8 7-11 58-87 9-11M1117 216l4-23 4-16 5-10 8-13M983 333l7 46 3 10 1 1 1-1M1006 337l6-11 70-107 3-5 3-1 2 2 1 4M1139 220l4-22 4-13 4-9 9-13M1009 341l5 38M1029 355l3-9 4-8 10-15 63-99 4-5 3-2 2 0 1 5M1163 221l3-18 4-11 5-9 8-12M1026 363l2 1 2 2 4 9M1044 388l3-8 7-25 5-12 4-4 6-4 6-7 60-95 8-12M1187 230l8-29 5-11 5-11M1033 443l22-37 14-22 27-47 4-6 6-3 5-6 54-87 5-8 4-3M1176 226l1 4M1200 245l28-56M1060 459l77-133 3-5 6-3 4-5 38-63 5-6 4-1 2 1 2 2 4 6M1210 256l6-9 37-61M1087 474l90-157 8-9 16-24 5-7 4-3 9 0 3-2 3-4 16-21 36-58M1113 491l100-174 4-5 14-8 7-7 63-100M1140 506l89-153 6-9 12-13 6-8 72-118M1167 520l74-127 27-42 81-137M761 344l86 37 16 5 10 2 5 0 4-2 4-3 3-4 6-12 4-19M1007 393l3 18 4 11 4 8 7 7 9 6 92 55 21 12 20 10M777 325l71 30 23 9 14 4 5 0 5-1M901 362l4-7 3-8 6-21M1022 370l3 17 3 11 5 8 6 6 9 6 46 28 52 33 35 19M793 307l84 35 12 3 11 2M919 345l12-3 16-6 7-2 7 0 14 0 10-3 5 1 12 4 13 8 7 7 5 10M1040 385l4 3 20 8 21 12 28 17 52 34 29 16M809 288l54 23 15 5 11 2 32 0M1032 371l11 0 14-3 5 0 7 1 10 4 16 8 21 13 63 43 27 16M824 271l36 14 14 4 11 1 31-3 7 0 7 1 15 6 56 24 45 19 8 2 14-1 7 1 23 13 32 19 21 14 43 31 25 16M839 253l20 8 12 2 12 0 27-5 7 0 8 1 14 6 30 12 116 51 8 2 13-1 7 2 15 7 22 15 57 42 24 15M854 236l11 3 8 0 10-1 18-5 6-1 8 0 11 3 22 7 40 17 136 59 8 2 12 0 6 1 7 4 11 8 51 40 24 17M868 220l6-3 9-1 17-5 15-1 11 1 11 3 13 4 16 6 44 18 88 37 66 31 8 2 10 1 5 2 11 8 42 38 14 11M922 201l11-4 10-1 12 1 15 4 53 21 104 44 46 21 33 19 12 6 6 5 13 17 8 8 9 7 11 6M1006 205l1-1M1009 204l9-1 14 2 12 3 14 4 24 9 46 20 53 24 14 7 11 9 7 8 17 20 10 10 13 8 23 9M911 190l19 9M1105 219l5-1 7-1 7 1 9 1 17 6 32 15 9 6 7 6 22 30 6 7 5 5 7 4 8 4 41 16M924 172l50 26M1181 229l5 2 6 4 20 25 6 6 6 4 15 7 59 23M937 155l79 39 20 12M1212 256l6-2 6 0 14 2 18 6 53 20M950 138l75 35 20 11 7 5 6 7 6 7 4 9M1203 248l8-4 11-4 11-1 11 1 11 2 13 4 51 19M962 120l79 36 13 6 8 6 8 7 7 9 6 11 8 20M1198 241l10-10 10-5 13-4 14-1 12 2 14 4 58 21M975 103l74 32 22 11 7 5 6 5 15 20 5 4 3 0 2 0 11-5 5-2 8 2 13 4 24 9 11 5 7 6 9 13 5 3 2 1 3-1 16-8 9-2 12-2 11 1 12 2 15 4 57 21M987 87l67 28 24 11 14 8 15 14 4 3 5 1 10-2 6 2 35 13 34 12 5 2 8 8 4 2 6 0 14-2 9-1 11 0 11 2 25 7 55 19"/>
</g>
<text x="251.7" y="144.9" class="tl">0</text>
<text x="290.9" y="162.4" class="tl">1</text>
<text x="332.1" y="180.9" class="tl">2</text>
<text x="375.3" y="200.3" class="tl">3</text>
<text x="393.6" y="198.0" class="tl">0</text>
<text x="414.1" y="162.3" class="tl">1</text>
<text x="432.6" y="130.1" class="tl">2</text>
<text x="449.4" y="100.8" class="tl">3</text>
<text x="462.7" y="46.0" class="tz">0.10</text>
<text x="460.5" y="56.3" class="tz">0.05</text>
<text x="458.4" y="66.1" class="tz">0.00</text>
<text x="456.3" y="75.6" class="tz">−0.05</text>
<text x="454.4" y="84.7" class="tz">−0.10</text>
<path class="bx" d="M496.6 134.6L631.7 195.1M631.7 195.1L692.0 89.9M692.0 89.9L571.6 44.6M571.6 44.6L496.6 134.6M488.0 94.7L635.9 157.8M635.9 157.8L700.7 49.7M700.7 49.7L570.2 3.6M570.2 3.6L488.0 94.7M496.6 134.6L488.0 94.7M631.7 195.1L635.9 157.8M692.0 89.9L700.7 49.7M571.6 44.6L570.2 3.6"/>
<path class="tk" d="M499.0 135.7L503.9 129.7M506.7 139.1L509.6 135.6M514.5 142.6L517.3 139.0M522.3 146.1L525.1 142.5M530.2 149.7L533.0 146.0M538.2 153.2L542.9 146.9M546.3 156.9L549.0 153.1M554.4 160.5L557.1 156.8M562.7 164.2L565.3 160.4M571.0 167.9L573.6 164.1M579.4 171.7L583.8 165.1M587.8 175.5L590.4 171.6M596.4 179.3L598.9 175.4M605.0 183.2L607.5 179.2M613.7 187.1L616.2 183.1M622.6 191.1L626.7 184.1M633.0 192.8L624.6 189.0M637.3 185.3L632.4 183.2M641.4 178.1L636.6 176.0M645.5 171.0L640.8 168.9M649.5 164.0L644.8 162.0M653.5 157.1L645.4 153.7M657.3 150.4L652.6 148.5M661.1 143.9L656.4 142.0M664.8 137.4L660.2 135.5M668.4 131.1L663.8 129.3M672.0 124.9L664.2 121.8M675.4 118.8L671.0 117.0M678.9 112.8L674.4 111.1M682.2 107.0L677.8 105.3M685.5 101.2L681.1 99.6M688.8 95.6L681.3 92.8M692.2 89.2L686.0 86.9M692.6 87.4L688.8 86.0M693.0 85.6L689.2 84.2M693.3 83.8L689.6 82.4M693.7 81.9L690.0 80.5M694.1 80.1L687.8 77.8M694.5 78.2L690.7 76.8M694.9 76.3L691.1 74.9M695.3 74.4L691.5 73.0M695.8 72.5L691.9 71.1M696.2 70.6L689.7 68.3M696.6 68.7L692.7 67.3M697.0 66.7L693.1 65.3M697.4 64.7L693.5 63.3M697.8 62.8L693.9 61.3M698.3 60.8L691.7 58.4M698.7 58.7L694.7 57.3M699.1 56.7L695.2 55.3M699.6 54.7L695.6 53.2M700.0 52.6L696.0 51.2M700.5 50.5L693.8 48.1"/>
<g transform="scale(0.333333)">
<path class="c33" d="M1713 91l10 4 3-4-10-4z"/>
<path class="c34" d="M1723 95l43 18 3-4-43-18z"/>
<path class="c35" d="M1766 113l32 14 3-4-32-14z"/>
<path class="c36" d="M1798 127l17 9 3-5-17-8z"/>
<path class="c34" d="M1815 136l5 4 3-5-5-4z"/>
<path class="c32" d="M1820 140l6 4 2-5-5-4z"/>
<path class="c30" d="M1826 144l5 5 3-5-6-5z"/>
<path class="c34" d="M1831 149l5 4 3-6-5-3z"/>
<path class="c28" d="M1836 153l6 2 3-7-6-1z"/>
<path class="c8" d="M1842 155l6-2 2-6-5 1z"/>
<path class="c9" d="M1848 153l5-2 3-5-6 1z"/>
<path class="c24" d="M1853 151l6 0 3-4-6-1z"/>
<path class="c31" d="M1859 151l17 6 2-4-16-6z"/>
<path class="c30" d="M1876 157l45 16 3-4-46-16z"/>
<path class="c34" d="M1921 173l5 3 3-5-5-2z"/>
<path class="c35" d="M1926 176l6 4 3-6-6-3z"/>
<path class="c26" d="M1932 180l5 6 3-6-5-6z"/>
<path class="c29" d="M1937 186l6 5 2-6-5-5z"/>
<path class="c34" d="M1943 191l5 2 3-6-6-2z"/>
<path class="c15" d="M1948 193l6-1 3-5-6 0z"/>
<path class="c10" d="M1954 192l7-1 2-5-6 1z"/>
<path class="c12" d="M1961 191l6-1 2-5-6 1z"/>
<path class="c15" d="M1967 190l6 0 3-5-7 0z"/>
<path class="c18" d="M1973 190l6 0 3-5-6 0z"/>
<path class="c21" d="M1979 190l12 1 3-4-12-2z"/>
<path class="c25" d="M1991 191l12 2 3-4-12-2z"/>
<path class="c28" d="M2003 193l12 4 3-4-12-4z"/>
<path class="c29" d="M2015 197l24 8 3-4-24-8z"/>
<path class="c30" d="M2039 205l36 13 3-4-36-13z"/>
<path class="c34" d="M1710 95l42 18 3-4-42-18z"/>
<path class="c35" d="M1752 113l44 19 2-5-43-18z"/>
<path class="c36" d="M1796 132l16 8 3-4-17-9z"/>
<path class="c34" d="M1812 140l5 4 3-4-5-4z"/>
<path class="c31" d="M1817 144l6 5 3-5-6-4z"/>
<path class="c28" d="M1823 149l5 6 3-6-5-5z"/>
<path class="c32" d="M1828 155l5 5 3-7-5-4z"/>
<path class="c31" d="M1833 160l6 1 3-6-6-2z"/>
<path class="c8" d="M1839 161l6-1 3-7-6 2z"/>
<path class="c6" d="M1845 160l5-3 3-6-5 2z"/>
<path class="c17" d="M1850 157l6-1 3-5-6 0z"/>
<path class="c30" d="M1856 156l6 1 2-4-5-2z"/>
<path class="c32" d="M1862 157l5 2 3-4-6-2z"/>
<path class="c31" d="M1867 159l28 10 3-4-28-10z"/>
<path class="c30" d="M1895 169l6 2 3-4-6-2z"/>
<path class="c31" d="M1901 171l11 4 3-4-11-4z"/>
<path class="c33" d="M1912 175l6 3 3-5-6-2z"/>
<path class="c36" d="M1918 178l6 3 2-5-5-3z"/>
<path class="c31" d="M1924 181l5 5 3-6-6-4z"/>
<path class="c23" d="M1929 186l5 7 3-7-5-6z"/>
<path class="c28" d="M1934 193l6 5 3-7-6-5z"/>
<path class="c29" d="M1940 198l5 1 3-6-5-2z"/>
<path class="c11" d="M1945 199l7-1 2-6-6 1z"/>
<path class="c8" d="M1952 198l6-2 3-5-7 1z"/>
<path class="c11" d="M1958 196l6-1 3-5-6 1z"/>
<path class="c14" d="M1964 195l6-1 3-4-6 0z"/>
<path class="c17" d="M1970 194l6 0 3-4-6 0z"/>
<path class="c20" d="M1976 194l13 1 2-4-12-1z"/>
<path class="c25" d="M1989 195l12 3 2-5-12-2z"/>
<path class="c28" d="M2001 198l12 3 2-4-12-4z"/>
<path class="c29" d="M2013 201l24 8 2-4-24-8z"/>
<path class="c30" d="M2037 209l36 13 2-4-36-13z"/>
<path class="c34" d="M1707 99l32 14 3-5-32-13z"/>
<path class="c35" d="M1739 113l43 18 3-4-43-19z"/>
<path class="c36" d="M1782 131l16 8 11 6 3-5-11-6-16-7z"/>
<path class="c34" d="M1809 145l5 4 3-5-5-4z"/>
<path class="c29" d="M1814 149l6 5 3-5-6-5z"/>
<path class="c26" d="M1820 154l5 6 3-5-5-6z"/>
<path class="c28" d="M1825 160l5 6 3-6-5-5z"/>
<path class="c32" d="M1830 166l6 3 3-8-6-1z"/>
<path class="c9" d="M1836 169l6-2 3-7-6 1z"/>
<path class="c4" d="M1842 167l5-3 3-7-5 3z"/>
<path class="c10" d="M1847 164l6-2 3-6-6 1z"/>
<path class="c25" d="M1853 162l6 0 3-5-6-1z"/>
<path class="c32" d="M1859 162l5 1 3-4-5-2z"/>
<path class="c33" d="M1864 163l12 4 2-4-11-4z"/>
<path class="c32" d="M1876 167l22 9 3-5-23-8z"/>
<path class="c33" d="M1898 176l6 2 3-5-6-2z"/>
<path class="c34" d="M1904 178l6 2 2-5-5-2z"/>
<path class="c36" d="M1910 180l5 3 3-5-6-3z"/>
<path class="c35" d="M1915 183l6 4 3-6-6-3z"/>
<path class="c25" d="M1921 187l5 7 3-8-5-5z"/>
<path class="c20" d="M1926 194l5 7 3-8-5-7z"/>
<path class="c28" d="M1931 201l6 4 3-7-6-5z"/>
<path class="c22" d="M1937 205l6 0 2-6-5-1z"/>
<path class="c7" d="M1943 205l6-2 3-5-7 1z"/>
<path class="c6" d="M1949 203l6-2 3-5-6 2z"/>
<path class="c9" d="M1955 201l6-1 3-5-6 1z"/>
<path class="c13" d="M1961 200l6-1 3-5-6 1z"/>
<path class="c16" d="M1967 199l7 0 2-5-6 0z"/>
<path class="c19" d="M1974 199l12 0 3-4-13-1z"/>
<path class="c25" d="M1986 199l12 3 3-4-12-3z"/>
<path class="c28" d="M1998 202l12 3 3-4-12-3z"/>
<path class="c29" d="M2010 205l24 8 3-4-24-8z"/>
<path class="c30" d="M2034 213l36 14 3-5-36-13z"/>
<path class="c34" d="M1704 103l21 9 3-4-21-9z"/>
<path class="c35" d="M1725 112l54 24 3-5-54-23z"/>
<path class="c36" d="M1779 136l16 8 11 6 3-5-11-6-16-8z"/>
<path class="c33" d="M1806 150l5 4 3-5-5-4z"/>
<path class="c28" d="M1811 154l6 6 3-6-6-5z"/>
<path class="c24" d="M1817 160l11 13 2-7-10-12z"/>
<path class="c30" d="M1828 173l5 4 3-8-6-3z"/>
<path class="c11" d="M1833 177l6-1 3-9-6 2z"/>
<path class="c4" d="M1839 176l5-3 3-9-5 3z"/>
<path class="c6" d="M1844 173l6-4 3-7-6 2z"/>
<path class="c16" d="M1850 169l6-1 3-6-6 0z"/>
<path class="c28" d="M1856 168l6 1 2-6-5-1z"/>
<path class="c33" d="M1862 169l5 1 3-5-6-2z"/>
<path class="c35" d="M1867 170l28 11 3-5-28-11z"/>
<path class="c36" d="M1895 181l6 2 3-5-6-2z"/>
<path class="c37" d="M1901 183l6 3 3-6-6-2z"/>
<path class="c36" d="M1907 186l5 3 3-6-5-3z"/>
<path class="c28" d="M1912 189l6 6 3-8-6-4z"/>
<path class="c19" d="M1918 195l5 8 3-9-5-7z"/>
<path class="c18" d="M1923 203l5 7 3-9-5-7z"/>
<path class="c26" d="M1928 210l6 3 3-8-6-4z"/>
<path class="c14" d="M1934 213l6-1 3-7-6 0z"/>
<path class="c5" d="M1940 212l12-6 3-5-12 4z"/>
<path class="c7" d="M1952 206l7-1 2-5-6 1z"/>
<path class="c11" d="M1959 205l6-1 2-5-6 1z"/>
<path class="c14" d="M1965 204l6-1 3-4-7 0z"/>
<path class="c19" d="M1971 203l12 1 3-5-12 0z"/>
<path class="c24" d="M1983 204l12 2 3-4-12-3z"/>
<path class="c28" d="M1995 206l12 3 3-4-12-3z"/>
<path class="c29" d="M2007 209l25 8 2-4-24-8z"/>
<path class="c30" d="M2032 217l36 14 2-4-36-14z"/>
<path class="c34" d="M1701 108l21 9 3-5-21-9z"/>
<path class="c35" d="M1722 117l43 19 3-5-43-19z"/>
<path class="c36" d="M1765 136l27 12 11 7 3-5-11-6-27-13z"/>
<path class="c32" d="M1803 155l6 4 2-5-5-4z"/>
<path class="c27" d="M1809 159l5 6 3-5-6-6z"/>
<path class="c22" d="M1814 165l5 7 3-6-5-6z"/>
<path class="c21" d="M1819 172l6 8 3-7-6-7z"/>
<path class="c26" d="M1825 180l5 5 3-8-5-4z"/>
<path class="c14" d="M1830 185l5 2 4-11-6 1z"/>
<path class="c4" d="M1835 187l12-7 3-11-11 7z"/>
<path class="c7" d="M1847 180l6-2 3-10-6 1z"/>
<path class="c15" d="M1853 178l5-1 4-8-6-1z"/>
<path class="c23" d="M1858 177l6 1 3-8-5-1z"/>
<path class="c27" d="M1864 178l6 2 3-8-6-2z"/>
<path class="c29" d="M1870 180l5 2 3-8-5-2z"/>
<path class="c30" d="M1875 182l17 6 3-7-17-7z"/>
<path class="c29" d="M1892 188l6 3 3-8-6-2z"/>
<path class="c27" d="M1898 191l6 3 3-8-6-3z"/>
<path class="c23" d="M1904 194l5 5 3-10-5-3z"/>
<path class="c18" d="M1909 199l5 7 4-11-6-6z"/>
<path class="c15" d="M1914 206l5 8 4-11-5-8z"/>
<path class="c16" d="M1919 214l6 6 3-10-5-7z"/>
<path class="c21" d="M1925 220l5 1 4-8-6-3z"/>
<path class="c7" d="M1930 221l7-2 3-7-6 1z"/>
<path class="c3" d="M1937 219l6-4 3-6-6 3z"/>
<path class="c4" d="M1943 215l6-3 3-6-6 3z"/>
<path class="c6" d="M1949 212l7-3 3-4-7 1z"/>
<path class="c10" d="M1956 209l6-1 3-4-6 1z"/>
<path class="c13" d="M1962 208l6 0 3-5-6 1z"/>
<path class="c18" d="M1968 208l13 0 2-4-12-1z"/>
<path class="c23" d="M1981 208l12 2 2-4-12-2z"/>
<path class="c27" d="M1993 210l12 3 2-4-12-3z"/>
<path class="c29" d="M2005 213l24 8 3-4-25-8z"/>
<path class="c30" d="M2029 221l36 14 3-4-36-14z"/>
<path class="c34" d="M1698 112l10 4 3-4-10-4z"/>
<path class="c35" d="M1708 116l43 19 3-4-43-19z"/>
<path class="c36" d="M1751 135l44 21 3-5-44-20z"/>
<path class="c35" d="M1795 156l5 4 3-5-5-4z"/>
<path class="c32" d="M1800 160l6 4 3-5-6-4z"/>
<path class="c25" d="M1806 164l5 6 3-5-5-6z"/>
<path class="c20" d="M1811 170l5 8 3-6-5-7z"/>
<path class="c18" d="M1816 178l6 9 3-7-6-8z"/>
<path class="c20" d="M1822 187l5 7 3-9-5-5z"/>
<path class="c17" d="M1827 194l5 4 3-11-5-2z"/>
<path class="c5" d="M1832 198l6 0 3-14-6 3z"/>
<path class="c3" d="M1838 198l6-3 3-15-6 4z"/>
<path class="c4" d="M1844 195l5-3 4-14-6 2z"/>
<path class="c5" d="M1849 192l6-1 3-14-5 1z"/>
<path class="c7" d="M1855 191l6 0 3-13-6-1z"/>
<path class="c9" d="M1861 191l5 2 4-13-6-2z"/>
<path class="c10" d="M1866 193l6 1 3-12-5-2z"/>
<path class="c11" d="M1872 194l17 7 11 7 5 6 11 13 3-13-10-15-5-5-12-6-17-6z"/>
<path class="c14" d="M1916 227l5 4 4-11-6-6z"/>
<path class="c12" d="M1921 231l6-1 3-9-5-1z"/>
<path class="c4" d="M1927 230l7-5 3-6-7 2z"/>
<path class="c2" d="M1934 225l6-4 3-6-6 4z"/>
<path class="c3" d="M1940 221l7-4 2-5-6 3z"/>
<path class="c5" d="M1947 217l6-3 3-5-7 3z"/>
<path class="c9" d="M1953 214l6-1 3-5-6 1z"/>
<path class="c12" d="M1959 213l7-1 2-4-6 0z"/>
<path class="c16" d="M1966 212l12 0 3-4-13 0z"/>
<path class="c23" d="M1978 212l12 2 3-4-12-2z"/>
<path class="c27" d="M1990 214l12 3 3-4-12-3z"/>
<path class="c29" d="M2002 217l24 9 3-5-24-8z"/>
<path class="c30" d="M2026 226l37 13 2-4-36-14z"/>
<path class="c34" d="M1694 116l11 5 3-5-10-4z"/>
<path class="c35" d="M1705 121l43 19 3-5-43-19z"/>
<path class="c36" d="M1748 140l33 15 11 6 3-5-44-21z"/>
<path class="c35" d="M1792 161l5 4 3-5-5-4z"/>
<path class="c31" d="M1797 165l6 4 3-5-6-4z"/>
<path class="c24" d="M1803 169l5 7 3-6-5-6z"/>
<path class="c18" d="M1808 176l5 8 3-6-5-8z"/>
<path class="c16" d="M1813 184l11 20 5 7 3-13-5-4-11-16z"/>
<path class="c7" d="M1829 211l5 3 4-16-6 0z"/>
<path class="c3" d="M1834 214l6 1 4-20-6 3z"/>
<path class="c2" d="M1840 215l11 0 11 2 4-24-11-2-6 1-5 3z"/>
<path class="c3" d="M1862 217l17 6 11 5 4-24-11-5-17-6z"/>
<path class="c4" d="M1890 228l6 4 4-24-6-4z"/>
<path class="c5" d="M1896 232l5 4 4-22-5-6z"/>
<path class="c6" d="M1901 236l5 4 5-19-6-7z"/>
<path class="c7" d="M1906 240l6 3 4-16-5-6z"/>
<path class="c8" d="M1912 243l6 0 3-12-5-4z"/>
<path class="c5" d="M1918 243l6-4 3-9-6 1z"/>
<path class="c2" d="M1924 239l7-6 3-8-7 5z"/>
<path class="c1" d="M1931 233l6-6 3-6-6 4z"/>
<path class="c2" d="M1937 227l7-5 3-5-7 4z"/>
<path class="c4" d="M1944 222l6-2 3-6-6 3z"/>
<path class="c7" d="M1950 220l7-2 2-5-6 1z"/>
<path class="c11" d="M1957 218l6-1 3-5-7 1z"/>
<path class="c15" d="M1963 217l12 0 3-5-12 0z"/>
<path class="c22" d="M1975 217l13 1 2-4-12-2z"/>
<path class="c27" d="M1988 218l12 4 2-5-12-3z"/>
<path class="c29" d="M2000 222l36 12 3-4-37-13z"/>
<path class="c30" d="M2036 234l24 9 3-4-24-9z"/>
<path class="c35" d="M1691 120l43 20 3-5-43-19z"/>
<path class="c36" d="M1734 140l44 20 3-5-44-20z"/>
<path class="c37" d="M1778 160l5 3 3-5-5-3z"/>
<path class="c36" d="M1783 163l6 3 3-5-6-3z"/>
<path class="c35" d="M1789 166l5 4 3-5-5-4z"/>
<path class="c30" d="M1794 170l6 5 3-6-6-4z"/>
<path class="c22" d="M1800 175l5 6 3-5-5-7z"/>
<path class="c17" d="M1805 181l5 9 3-6-5-8z"/>
<path class="c14" d="M1810 190l6 12 3-8-6-10z"/>
<path class="c13" d="M1816 202l5 12 3-10-5-10z"/>
<path class="c17" d="M1821 214l2 5 4 0 2-8-5-7z"/>
<path class="c23" d="M1833 220l1-6-5-3-2 8z"/>
<path class="c19" d="M1839 222l1-7-6-1-1 6z"/>
<path class="c12" d="M1844 224l2-9-6 0-1 7z"/>
<path class="c8" d="M1850 226l1-11-5 0-2 9z"/>
<path class="c7" d="M1855 228l2-13-6 0-1 11z"/>
<path class="c6" d="M1861 230l1-13-5-2-2 13zM1866 233l2-14-6-2-1 13zM1872 235l1-14-5-2-2 14zM1877 237l2-14-6-2-1 14zM1883 239l2-13-6-3-2 14z"/>
<path class="c7" d="M1888 241l2-13-5-2-2 13z"/>
<path class="c8" d="M1894 243l2-11-6-4-2 13z"/>
<path class="c11" d="M1899 245l2-9-5-4-2 11z"/>
<path class="c16" d="M1905 247l1-7-5-4-2 9z"/>
<path class="c20" d="M1910 250l2-7-6-3-1 7z"/>
<path class="c13" d="M1915 254l3-11-6 0-2 7z"/>
<path class="c2" d="M1915 255l6-7 3-9-6 4-3 11z"/>
<path class="c1" d="M1921 248l13-15 3-6-13 12z"/>
<path class="c2" d="M1934 233l7-5 3-6-7 5z"/>
<path class="c4" d="M1941 228l6-3 3-5-6 2z"/>
<path class="c6" d="M1947 225l7-2 3-5-7 2z"/>
<path class="c10" d="M1954 223l6-1 3-5-6 1z"/>
<path class="c14" d="M1960 222l13-1 2-4-12 0z"/>
<path class="c22" d="M1973 221l12 2 3-5-13-1z"/>
<path class="c27" d="M1985 223l12 3 3-4-12-4z"/>
<path class="c29" d="M1997 226l37 12 2-4-36-12z"/>
<path class="c30" d="M2034 238l24 10 2-5-24-9z"/>
<path class="c35" d="M1688 125l43 19 3-4-43-20z"/>
<path class="c36" d="M1731 144l44 21 3-5-44-20z"/>
<path class="c37" d="M1775 165l5 3 3-5-5-3z"/>
<path class="c36" d="M1780 168l6 3 3-5-6-3z"/>
<path class="c34" d="M1786 171l5 4 3-5-5-4z"/>
<path class="c29" d="M1791 175l6 5 3-5-6-5z"/>
<path class="c21" d="M1797 180l5 7 3-6-5-6z"/>
<path class="c16" d="M1802 187l6 10 2-7-5-9z"/>
<path class="c13" d="M1808 197l5 12 3-7-6-12z"/>
<path class="c12" d="M1813 209l4 13 1-1 3-7-5-12z"/>
<path class="c31" d="M1823 219l-2-5-3 7z"/>
<path class="c3" d="M1916 260l2-3 3-9-6 7z"/>
<path class="c0" d="M1918 257l13-18 3-6-13 15z"/>
<path class="c1" d="M1931 239l7-6 3-5-7 5z"/>
<path class="c3" d="M1938 233l7-3 2-5-6 3z"/>
<path class="c6" d="M1945 230l6-2 3-5-7 2z"/>
<path class="c8" d="M1951 228l6-2 3-4-6 1z"/>
<path class="c13" d="M1957 226l13 0 3-5-13 1z"/>
<path class="c21" d="M1970 226l12 1 3-4-12-2z"/>
<path class="c26" d="M1982 227l12 3 3-4-12-3z"/>
<path class="c28" d="M1994 230l13 4 2-4-12-4z"/>
<path class="c29" d="M2007 234l24 9 3-5-25-8z"/>
<path class="c30" d="M2031 243l24 9 3-4-24-10z"/>
<path class="c35" d="M1685 129l32 15 4-5-33-14z"/>
<path class="c36" d="M1717 144l55 26 3-5-54-26z"/>
<path class="c37" d="M1772 170l5 2 3-4-5-3z"/>
<path class="c36" d="M1777 172l6 4 3-5-6-3z"/>
<path class="c34" d="M1783 176l5 4 3-5-5-4z"/>
<path class="c28" d="M1788 180l6 5 3-5-6-5z"/>
<path class="c20" d="M1794 185l5 8 3-6-5-7z"/>
<path class="c15" d="M1799 193l6 10 3-6-6-10z"/>
<path class="c12" d="M1805 203l5 14 3-8-5-12z"/>
<path class="c13" d="M1810 217l2 8 5-3-4-13z"/>
<path class="c24" d="M1916 263l2-6-2 3z"/>
<path class="c0" d="M1916 265l6-11 3-7-7 10-2 6zM1922 254l7-9 2-6-6 8z"/>
<path class="c1" d="M1929 245l6-6 3-6-7 6z"/>
<path class="c2" d="M1935 239l7-4 3-5-7 3z"/>
<path class="c5" d="M1942 235l6-2 3-5-6 2z"/>
<path class="c7" d="M1948 233l7-2 2-5-6 2z"/>
<path class="c12" d="M1955 231l12-1 3-4-13 0z"/>
<path class="c20" d="M1967 230l13 1 2-4-12-1z"/>
<path class="c26" d="M1980 231l12 3 2-4-12-3z"/>
<path class="c28" d="M1992 234l12 4 3-4-13-4z"/>
<path class="c29" d="M2004 238l24 9 3-4-24-9z"/>
<path class="c30" d="M2028 247l25 9 2-4-24-9z"/>
<path class="c35" d="M1682 133l32 15 3-4-32-15z"/>
<path class="c36" d="M1714 148l55 26 3-4-55-26z"/>
<path class="c37" d="M1769 174l5 3 3-5-5-2z"/>
<path class="c36" d="M1774 177l6 4 3-5-6-4z"/>
<path class="c34" d="M1780 181l5 4 3-5-5-4z"/>
<path class="c27" d="M1785 185l6 5 3-5-6-5z"/>
<path class="c19" d="M1791 190l5 8 3-5-5-8z"/>
<path class="c14" d="M1796 198l6 11 3-6-6-10z"/>
<path class="c12" d="M1802 209l5 16 3-8-5-14z"/>
<path class="c20" d="M1807 225l1 3 4-3-2-8z"/>
<path class="c0" d="M1915 270l4-8 3-8-6 11zM1919 262l7-11 3-6-7 9z"/>
<path class="c1" d="M1926 251l6-7 3-5-6 6z"/>
<path class="c2" d="M1932 244l7-4 3-5-7 4z"/>
<path class="c4" d="M1939 240l6-2 3-5-6 2z"/>
<path class="c6" d="M1945 238l7-2 3-5-7 2z"/>
<path class="c11" d="M1952 236l12-2 3-4-12 1z"/>
<path class="c19" d="M1964 234l13 2 3-5-13-1z"/>
<path class="c26" d="M1977 236l12 2 3-4-12-3z"/>
<path class="c28" d="M1989 238l12 4 3-4-12-4z"/>
<path class="c29" d="M2001 242l25 9 2-4-24-9z"/>
<path class="c30" d="M2026 251l24 9 3-4-25-9z"/>
<path class="c35" d="M1679 138l32 15 3-5-32-15z"/>
<path class="c36" d="M1711 153l55 26 3-5-55-26z"/>
<path class="c37" d="M1766 179l5 3 3-5-5-3z"/>
<path class="c36" d="M1771 182l6 4 3-5-6-4z"/>
<path class="c33" d="M1777 186l5 4 3-5-5-4z"/>
<path class="c26" d="M1782 190l6 6 3-6-6-5z"/>
<path class="c18" d="M1788 196l5 8 3-6-5-8z"/>
<path class="c13" d="M1793 204l6 12 3-7-6-11z"/>
<path class="c11" d="M1799 216l5 16 0-1 3-6-5-16z"/>
<path class="c35" d="M1808 228l-1-3-3 6z"/>
<path class="c1" d="M1913 274l2-5 4-7-4 8z"/>
<path class="c0" d="M1915 269l8-12 7-7 2-6-6 7-7 11z"/>
<path class="c2" d="M1930 250l6-5 3-5-7 4z"/>
<path class="c4" d="M1936 245l7-3 2-4-6 2z"/>
<path class="c6" d="M1943 242l6-1 3-5-7 2z"/>
<path class="c10" d="M1949 241l13-2 2-5-12 2z"/>
<path class="c19" d="M1962 239l12 1 3-4-13-2z"/>
<path class="c25" d="M1974 240l12 3 3-5-12-2z"/>
<path class="c28" d="M1986 243l13 4 2-5-12-4z"/>
<path class="c29" d="M1999 247l24 8 3-4-25-9z"/>
<path class="c30" d="M2023 255l25 10 2-5-24-9z"/>
<path class="c35" d="M1676 142l32 15 3-4-32-15z"/>
<path class="c36" d="M1708 157l55 27 3-5-55-26z"/>
<path class="c37" d="M1763 184l5 3 3-5-5-3z"/>
<path class="c36" d="M1768 187l6 4 3-5-6-4z"/>
<path class="c33" d="M1774 191l5 4 3-5-5-4z"/>
<path class="c25" d="M1779 195l6 6 3-5-6-6z"/>
<path class="c17" d="M1785 201l5 9 3-6-5-8z"/>
<path class="c13" d="M1790 210l6 12 3-6-6-12z"/>
<path class="c12" d="M1796 222l3 13 5-3-5-16z"/>
<path class="c5" d="M1911 279l1-3 3-7-2 5z"/>
<path class="c0" d="M1912 276l8-13 7-8 3-5-7 7-8 12z"/>
<path class="c1" d="M1927 255l6-5 3-5-6 5z"/>
<path class="c3" d="M1933 250l7-3 3-5-7 3z"/>
<path class="c5" d="M1940 247l6-2 3-4-6 1z"/>
<path class="c9" d="M1946 245l13-2 3-4-13 2z"/>
<path class="c18" d="M1959 243l12 1 3-4-12-1z"/>
<path class="c25" d="M1971 244l13 3 2-4-12-3z"/>
<path class="c28" d="M1984 247l12 4 3-4-13-4z"/>
<path class="c29" d="M1996 251l37 13 3-4-37-13z"/>
<path class="c30" d="M2033 264l12 5 3-4-12-5z"/>
<path class="c35" d="M1673 146l32 16 3-5-32-15z"/>
<path class="c36" d="M1705 162l55 27 11 7 3-5-11-7-55-27z"/>
<path class="c32" d="M1771 196l5 4 3-5-5-4z"/>
<path class="c25" d="M1776 200l6 6 3-5-6-6z"/>
<path class="c17" d="M1782 206l5 9 3-5-5-9z"/>
<path class="c12" d="M1787 215l6 13 3-6-6-12zM1793 228l3 10 3-3-3-13z"/>
<path class="c25" d="M1909 283l3-7-1 3z"/>
<path class="c0" d="M1909 283l8-14 3-6-8 13-3 7zM1917 269l7-8 3-6-7 8z"/>
<path class="c1" d="M1924 261l6-6 3-5-6 5z"/>
<path class="c3" d="M1930 255l7-3 3-5-7 3z"/>
<path class="c4" d="M1937 252l6-2 3-5-6 2z"/>
<path class="c8" d="M1943 250l13-2 3-5-13 2z"/>
<path class="c16" d="M1956 248l13 0 2-4-12-1z"/>
<path class="c24" d="M1969 248l12 3 3-4-13-3z"/>
<path class="c27" d="M1981 251l12 4 3-4-12-4z"/>
<path class="c29" d="M1993 255l37 14 3-5-37-13z"/>
<path class="c30" d="M2030 269l13 4 2-4-12-5z"/>
<path class="c35" d="M1666 155l33 16 6-9-32-16z"/>
<path class="c36" d="M1699 171l60 31 6-10-60-30z"/>
<path class="c35" d="M1759 202l6 4 6-10-6-4z"/>
<path class="c31" d="M1765 206l5 5 6-11-5-4z"/>
<path class="c23" d="M1770 211l6 6 6-11-6-6z"/>
<path class="c16" d="M1776 217l5 9 6-11-5-9z"/>
<path class="c12" d="M1781 226l6 15 6-13-6-13z"/>
<path class="c15" d="M1787 241l1 5 8-8-3-10z"/>
<path class="cb" d="M1905 292l6-13 6-10-8 14z"/>
<path class="c0" d="M1911 279l7-10 7-6 5-8-6 6-7 8z"/>
<path class="c1" d="M1925 263l7-4 5-7-7 3z"/>
<path class="c2" d="M1932 259l6-3 5-6-6 2z"/>
<path class="c5" d="M1938 256l13-2 5-6-13 2z"/>
<path class="c13" d="M1951 254l12 1 6-7-13 0z"/>
<path class="c22" d="M1963 255l13 4 5-8-12-3z"/>
<path class="c27" d="M1976 259l12 4 5-8-12-4z"/>
<path class="c29" d="M1988 263l25 10 5-9-25-9z"/>
<path class="c30" d="M2013 273l25 9 5-9-25-9z"/>
<path class="c35" d="M1660 164l44 22 6-9-44-22z"/>
<path class="c36" d="M1704 186l49 26 6-10-49-25z"/>
<path class="c35" d="M1753 212l6 4 6-10-6-4z"/>
<path class="c30" d="M1759 216l5 5 6-10-5-5z"/>
<path class="c22" d="M1764 221l6 6 6-10-6-6z"/>
<path class="c15" d="M1770 227l5 10 6-11-5-9z"/>
<path class="c12" d="M1775 237l6 15 6-11-6-15z"/>
<path class="c29" d="M1781 252l0 1 7-7-1-5z"/>
<path class="cb" d="M1895 298l5-14 3 9zM1900 284l8-17 3 12-6 13-2 1zM1908 267l7-10 6-5 7-1 6 2 4 3-13 7-7 6-7 10z"/>
<path class="c5" d="M1934 253l12 5 5-4-13 2z"/>
<path class="c15" d="M1946 258l12 5 5-8-12-1z"/>
<path class="c25" d="M1958 263l12 4 6-8-13-4z"/>
<path class="c29" d="M1970 267l25 10 5-9-24-9z"/>
<path class="c30" d="M1995 277l37 14 6-9-38-14z"/>
<path class="c35" d="M1653 172l55 29 7-10-55-27z"/>
<path class="c36" d="M1708 201l39 21 6-10-38-21z"/>
<path class="c34" d="M1747 222l6 4 6-10-6-4z"/>
<path class="c29" d="M1753 226l5 5 6-10-5-5z"/>
<path class="c21" d="M1758 231l6 7 6-11-6-6z"/>
<path class="c14" d="M1764 238l5 10 6-11-5-10z"/>
<path class="c12" d="M1769 248l5 13 5-6 2-3-6-15z"/>
<path class="c32" d="M1781 253l0-1-2 3z"/>
<path class="cb" d="M1871 299l6-16 0 16zM1877 283l8-20-1 36-7 0zM1885 263l7-17 0 53-8 0zM1892 246l7-11 1 49-5 14-3 1zM1899 235l7-5 7-1 6 4 11 13 4 7-6-2-7 1-6 5-7 10-8 17z"/>
<path class="c9" d="M1930 246l11 14 5-2-12-5z"/>
<path class="c17" d="M1941 260l12 10 5-7-12-5z"/>
<path class="c27" d="M1953 270l12 6 5-9-12-4z"/>
<path class="c29" d="M1965 276l12 5 6-9-13-5z"/>
<path class="c30" d="M1977 281l50 19 5-9-49-19z"/>
<path class="c34" d="M1647 181l11 6 6-9-11-6z"/>
<path class="c35" d="M1658 187l55 29 6-9-55-29z"/>
<path class="c36" d="M1713 216l22 12 7-10-23-11z"/>
<path class="c35" d="M1735 228l6 3 6-9-5-4z"/>
<path class="c34" d="M1741 231l5 4 7-9-6-4z"/>
<path class="c29" d="M1746 235l6 5 6-9-5-5z"/>
<path class="c20" d="M1752 240l6 7 6-9-6-7z"/>
<path class="c14" d="M1758 247l5 11 6-10-5-10z"/>
<path class="c12" d="M1763 258l4 11 7-8-5-13z"/>
<path class="cb" d="M1833 295l3-10 1 10zM1836 285l7-16 0 27-6-1zM1843 269l7-15 0 43-7-1zM1850 254l7-12-1 56-6-1zM1857 242l6-8 0 65-7-1zM1863 234l7-7 0 72-7 0zM1870 227l6-3 1 59-6 16-1 0zM1876 224l7-2 6-1 6 1 13 5 5 2-7 1-7 5-7 11-15 37z"/>
<path class="c8" d="M1908 227l6 3 5 3-6-4z"/>
<path class="c9" d="M1914 230l6 6 4 2-5-5z"/>
<path class="c10" d="M1920 236l17 23 4 1-17-22z"/>
<path class="c12" d="M1937 259l11 15 5-4-12-10z"/>
<path class="c20" d="M1948 274l11 9 6-7-12-6z"/>
<path class="c28" d="M1959 283l13 6 5-8-12-5z"/>
<path class="c29" d="M1972 289l12 5 6-9-13-4z"/>
<path class="c30" d="M1984 294l38 15 5-9-37-15z"/>
<path class="c34" d="M1640 190l33 17 7-9-33-17z"/>
<path class="c35" d="M1673 207l45 24 6-9-44-24z"/>
<path class="c34" d="M1718 231l11 6 6-9-11-6z"/>
<path class="c33" d="M1729 237l6 3 6-9-6-3z"/>
<path class="c31" d="M1735 240l5 4 6-9-5-4z"/>
<path class="c26" d="M1740 244l6 4 6-8-6-5z"/>
<path class="c19" d="M1746 248l5 6 7-7-6-7z"/>
<path class="c13" d="M1751 254l6 8 6-4-5-11z"/>
<path class="c12" d="M1757 262l6 13 2-1 2-5-4-11z"/>
<path class="c25" d="M1763 275l1 3 1-4z"/>
<path class="cb" d="M1792 289l4-12 1 13zM1796 277l7-15 1 29-7-1zM1803 262l6-14 1 44-6-1zM1809 248l6-11 1 56-6-1zM1815 237l6-9 2 66-7-1zM1821 228l7-6 2 73-7-1zM1828 222l6-3 2 66-3 10-3 0zM1834 219l6-2 12 0 19 5 5 2-6 3-7 7-6 8-7 12-14 31z"/>
<path class="c4" d="M1871 222l6 2 6-2-7 2z"/>
<path class="c10" d="M1877 224l6 3 6-6-6 1z"/>
<path class="c18" d="M1883 227l7 2 5-7-6-1z"/>
<path class="c24" d="M1890 229l6 3 6-8-7-2z"/>
<path class="c27" d="M1896 232l12 5 6-7-12-6z"/>
<path class="c21" d="M1908 237l6 4 6-5-6-6z"/>
<path class="c15" d="M1914 241l6 4 6-2-6-7z"/>
<path class="c12" d="M1920 245l12 13 5 1-11-16z"/>
<path class="c11" d="M1932 258l11 16 5 0-11-15z"/>
<path class="c13" d="M1943 274l11 14 5-5-11-9z"/>
<path class="c22" d="M1954 288l12 9 6-8-13-6z"/>
<path class="c29" d="M1966 297l13 6 5-9-12-5z"/>
<path class="c30" d="M1979 303l37 15 6-9-38-15z"/>
<path class="c34" d="M1634 198l44 24 7-9-45-23z"/>
<path class="c33" d="M1678 222l11 6 7-9-11-6z"/>
<path class="c32" d="M1689 228l11 5 7-8-11-6z"/>
<path class="c27" d="M1700 233l11 5 7-7-11-6z"/>
<path class="c17" d="M1711 238l12 2 6-3-11-6z"/>
<path class="c9" d="M1723 240l5 1 7-1-6-3z"/>
<path class="c6" d="M1728 241l6-1 6 4-5-4z"/>
<path class="cb" d="M1734 240l22-4 7 39-6-13-6-8-11-10zM1756 236l6-2 5 47-3-3-1-3zM1762 234l6-3 4 53-5-3zM1768 231l6-5 4 60-6-2zM1774 226l6-6 4 68-6-2zM1780 220l5-4 5 73-6-1zM1785 216l7-3 4 64-4 12-2 0zM1792 213l6-1 12 0 12 3 12 4 6-2-6 2-6 3-7 6-6 9-6 11-13 29z"/>
<path class="c7" d="M1834 219l6 2 6-4-6 0z"/>
<path class="c13" d="M1840 221l6 2 6-6-6 0z"/>
<path class="c20" d="M1846 223l7 3 6-8-7-1z"/>
<path class="c24" d="M1853 226l6 2 6-8-6-2z"/>
<path class="c28" d="M1859 228l6 3 6-9-6-2z"/>
<path class="c30" d="M1865 231l6 2 6-9-6-2z"/>
<path class="c32" d="M1871 233l6 3 6-9-6-3z"/>
<path class="c33" d="M1877 236l25 11 6-10-25-10z"/>
<path class="c32" d="M1902 247l6 3 6-9-6-4z"/>
<path class="c29" d="M1908 250l7 3 5-8-6-4z"/>
<path class="c18" d="M1915 253l12 8 5-3-12-13z"/>
<path class="c12" d="M1927 261l11 13 5 0-11-16z"/>
<path class="c11" d="M1938 274l12 15 4-1-11-14z"/>
<path class="c14" d="M1950 289l11 14 5-6-12-9z"/>
<path class="c23" d="M1961 303l12 9 6-9-13-6z"/>
<path class="c29" d="M1973 312l13 5 5-9-12-5z"/>
<path class="c30" d="M1986 317l25 10 5-9-25-10z"/>
<path class="c33" d="M1627 207l22 11 7-8-22-12z"/>
<path class="c32" d="M1649 218l11 6 7-8-11-6z"/>
<path class="c28" d="M1660 224l11 5 7-7-11-6z"/>
<path class="c18" d="M1671 229l11 2 7-3-11-6z"/>
<path class="c6" d="M1682 231l11 0 7 2-11-5z"/>
<path class="cb" d="M1693 231l11-5 22-17 12-5 11-1 12 2 12 2 18 6 7-1-6 1-7 3-17 15-6 3-6 2-17 4-11 1-5-1-12-2-11-5z"/>
<path class="c8" d="M1791 213l6 2 7-4-6 1z"/>
<path class="c14" d="M1797 215l6 3 7-6-6-1z"/>
<path class="c20" d="M1803 218l6 2 7-7-6-1z"/>
<path class="c24" d="M1809 220l7 2 6-7-6-2z"/>
<path class="c28" d="M1816 222l6 3 6-9-6-1z"/>
<path class="c30" d="M1822 225l6 2 6-8-6-3z"/>
<path class="c31" d="M1828 227l6 3 6-9-6-2z"/>
<path class="c32" d="M1834 230l12 5 7-9-13-5z"/>
<path class="c33" d="M1846 235l25 11 6-10-24-10z"/>
<path class="c34" d="M1871 246l6 2 6-9-6-3z"/>
<path class="c33" d="M1877 248l31 14 7-9-32-14z"/>
<path class="c31" d="M1908 262l13 7 6-8-12-8z"/>
<path class="c19" d="M1921 269l12 9 5-4-11-13z"/>
<path class="c13" d="M1933 278l12 13 5-2-12-15z"/>
<path class="c12" d="M1945 291l11 15 5-3-11-14z"/>
<path class="c15" d="M1956 306l12 12 5-6-12-9z"/>
<path class="c25" d="M1968 318l12 8 6-9-13-5z"/>
<path class="c29" d="M1980 326l13 5 5-9-12-5z"/>
<path class="c30" d="M1993 331l12 5 6-9-13-5z"/>
<path class="c29" d="M1620 215l11 5 7-7-11-6z"/>
<path class="c21" d="M1631 220l11 3 7-5-11-5z"/>
<path class="c9" d="M1642 223l11 1 7 0-11-6z"/>
<path class="cb" d="M1653 224l11-4 21-16 11-6 11-1 6 0 12 3 12 3 6 0-11 3-6 3-22 17-11 5-11 0-11-2-11-5z"/>
<path class="c7" d="M1737 203l6 3 6-3-6 0z"/>
<path class="c10" d="M1743 206l6 2 6-4-6-1z"/>
<path class="c13" d="M1749 208l6 2 6-5-6-1z"/>
<path class="c18" d="M1755 210l6 2 6-6-6-1z"/>
<path class="c22" d="M1761 212l6 3 6-8-6-1z"/>
<path class="c25" d="M1767 215l6 2 6-8-6-2z"/>
<path class="c28" d="M1773 217l6 3 6-9-6-2z"/>
<path class="c30" d="M1779 220l6 2 6-9-6-2z"/>
<path class="c31" d="M1785 222l6 2 6-9-6-2z"/>
<path class="c32" d="M1791 224l12 6 6-10-12-5z"/>
<path class="c33" d="M1803 230l62 25 6-9-62-26z"/>
<path class="c34" d="M1865 255l6 3 6-10-6-2z"/>
<path class="c33" d="M1871 258l19 9 6-10-19-9z"/>
<path class="c34" d="M1890 267l25 12 6-10-25-12z"/>
<path class="c30" d="M1915 279l12 7 6-8-12-9z"/>
<path class="c19" d="M1927 286l13 10 5-5-12-13z"/>
<path class="c14" d="M1940 296l11 12 5-2-11-15z"/>
<path class="c12" d="M1951 308l12 13 5-3-12-12z"/>
<path class="c16" d="M1963 321l12 11 5-6-12-8z"/>
<path class="c25" d="M1975 332l12 8 6-9-13-5z"/>
<path class="c29" d="M1987 340l13 6 5-10-12-5z"/>
<path class="c5" d="M1613 219l10-2 8 3-11-5z"/>
<path class="cb" d="M1623 217l11-5 21-12 11-4 11 0 11 2 8 0-11 6-21 16-11 4-11-1-11-3z"/>
<path class="c6" d="M1688 198l12 3 7-4-11 1z"/>
<path class="c14" d="M1700 201l6 2 7-6-6 0z"/>
<path class="c19" d="M1706 203l6 2 7-7-6-1z"/>
<path class="c24" d="M1712 205l6 2 7-7-6-2z"/>
<path class="c27" d="M1718 207l6 3 7-9-6-1z"/>
<path class="c29" d="M1724 210l6 2 7-9-6-2z"/>
<path class="c30" d="M1730 212l12 5 7-9-12-5z"/>
<path class="c31" d="M1742 217l6 2 7-9-6-2z"/>
<path class="c32" d="M1748 219l12 5 7-9-12-5z"/>
<path class="c33" d="M1760 224l98 41 7-10-98-40z"/>
<path class="c34" d="M1858 265l13 6 6-10-12-6z"/>
<path class="c33" d="M1871 271l13 6 6-10-13-6z"/>
<path class="c34" d="M1884 277l25 12 6-10-25-12z"/>
<path class="c33" d="M1909 289l12 7 6-10-12-7z"/>
<path class="c29" d="M1921 296l13 8 6-8-13-10z"/>
<path class="c16" d="M1934 304l12 6 5-2-11-12z"/>
<path class="c12" d="M1946 310l12 13 5-2-12-13z"/>
<path class="c13" d="M1958 323l12 14 5-5-12-11z"/>
<path class="c20" d="M1970 337l12 11 5-8-12-8z"/>
<path class="c28" d="M1982 348l12 7 6-9-13-6z"/>
<path class="cb" d="M1605 215l10-6 10-4 11-3 11-1 8-1-21 12-11 5-10 2z"/>
<path class="c4" d="M1647 201l11 0 8-5-11 4z"/>
<path class="c12" d="M1658 201l12 2 7-7-11 0z"/>
<path class="c21" d="M1670 203l11 3 7-8-11-2z"/>
<path class="c28" d="M1681 206l12 4 7-9-12-3z"/>
<path class="c30" d="M1693 210l6 2 7-9-6-2z"/>
<path class="c31" d="M1699 212l6 2 7-9-6-2z"/>
<path class="c32" d="M1705 214l12 5 7-9-12-5z"/>
<path class="c33" d="M1717 219l6 3 7-10-6-2z"/>
<path class="c32" d="M1723 222l12 4 7-9-12-5z"/>
<path class="c33" d="M1735 226l117 50 6-11-116-48z"/>
<path class="c34" d="M1852 276l13 5 6-10-13-6z"/>
<path class="c33" d="M1865 281l6 3 6-10-6-3z"/>
<path class="c34" d="M1871 284l31 15 7-10-32-15z"/>
<path class="c33" d="M1902 299l13 6 6-9-12-7z"/>
<path class="c23" d="M1915 305l13 4 6-5-13-8z"/>
<path class="c19" d="M1928 309l13 8 5-7-12-6z"/>
<path class="c18" d="M1941 317l12 12 5-6-12-13z"/>
<path class="c16" d="M1953 329l12 14 5-6-12-14z"/>
<path class="c18" d="M1965 343l11 12 6-7-12-11z"/>
<path class="c24" d="M1976 355l13 9 5-9-12-7z"/>
<path class="c2" d="M1597 220l11-3 7-8-10 6z"/>
<path class="c5" d="M1608 217l10-3 7-9-10 4z"/>
<path class="c6" d="M1618 214l11-3 7-9-11 3z"/>
<path class="c11" d="M1629 211l11-1 7-9-11 1z"/>
<path class="c17" d="M1640 210l11 0 7-9-11 0z"/>
<path class="c23" d="M1651 210l12 2 7-9-12-2z"/>
<path class="c28" d="M1663 212l11 4 7-10-11-3z"/>
<path class="c30" d="M1674 216l12 3 7-9-12-4z"/>
<path class="c32" d="M1686 219l12 5 7-10-12-4z"/>
<path class="c33" d="M1698 224l148 62 6-10-147-62z"/>
<path class="c34" d="M1846 286l12 5 7-10-13-5z"/>
<path class="c33" d="M1858 291l7 3 6-10-6-3z"/>
<path class="c34" d="M1865 294l19 9 6-10-19-9z"/>
<path class="c33" d="M1884 303l12 6 6-10-12-6z"/>
<path class="c21" d="M1896 309l13 2 6-6-13-6z"/>
<path class="c19" d="M1909 311l13 6 6-8-13-4z"/>
<path class="c29" d="M1922 317l13 11 6-11-13-8z"/>
<path class="c25" d="M1935 328l12 11 6-10-12-12z"/>
<path class="c21" d="M1947 339l12 12 6-8-12-14z"/>
<path class="c20" d="M1959 351l12 11 5-7-11-12z"/>
<path class="c23" d="M1971 362l12 10 6-8-13-9z"/>
<path class="c10" d="M1590 228l11-1 7-10-11 3z"/>
<path class="c12" d="M1601 227l10-1 7-12-10 3z"/>
<path class="c8" d="M1611 226l11-3 7-12-11 3z"/>
<path class="c11" d="M1622 223l11-3 7-10-11 1z"/>
<path class="c17" d="M1633 220l11 0 7-10-11 0z"/>
<path class="c24" d="M1644 220l12 2 7-10-12-2z"/>
<path class="c28" d="M1656 222l11 3 7-9-11-4z"/>
<path class="c31" d="M1667 225l12 4 7-10-12-3z"/>
<path class="c32" d="M1679 229l12 5 7-10-12-5z"/>
<path class="c33" d="M1691 234l154 65 7-11-154-64z"/>
<path class="c34" d="M1845 299l7 3 6-11-6-3z"/>
<path class="c33" d="M1852 302l19 8 6-10-19-9z"/>
<path class="c32" d="M1871 310l6 2 7-9-7-3z"/>
<path class="c18" d="M1877 312l13 2 6-5-12-6z"/>
<path class="c16" d="M1890 314l13 5 6-8-13-2z"/>
<path class="c31" d="M1903 319l13 9 6-11-13-6z"/>
<path class="c29" d="M1916 328l12 11 7-11-13-11z"/>
<path class="c28" d="M1928 339l13 11 6-11-12-11z"/>
<path class="c27" d="M1941 350l12 11 6-10-12-12z"/>
<path class="c25" d="M1953 361l25 19 5-8-12-10-12-11z"/>
<path class="c20" d="M1583 236l11 2 7-11-11 1z"/>
<path class="c16" d="M1594 238l11 1 6-13-10 1z"/>
<path class="c10" d="M1605 239l10-2 7-14-11 3z"/>
<path class="c8" d="M1615 237l11-4 7-13-11 3z"/>
<path class="c13" d="M1626 233l11-2 7-11-11 0z"/>
<path class="c23" d="M1637 231l12 1 7-10-12-2z"/>
<path class="c28" d="M1649 232l11 3 7-10-11-3z"/>
<path class="c31" d="M1660 235l12 4 7-10-12-4z"/>
<path class="c32" d="M1672 239l12 4 7-9-12-5z"/>
<path class="c33" d="M1684 243l168 72 6-11-167-70z"/>
<path class="c31" d="M1852 315l6 2 6-10-6-3z"/>
<path class="c24" d="M1858 317l7 1 6-8-7-3z"/>
<path class="c12" d="M1865 318l6-1 6-5-6-2z"/>
<path class="c13" d="M1871 317l13 4 6-7-13-2z"/>
<path class="c32" d="M1884 321l26 19 6-12-13-9-13-5z"/>
<path class="c30" d="M1910 340l12 11 6-12-12-11z"/>
<path class="c29" d="M1922 351l25 20 25 19 6-10-25-19-25-22z"/>
<path class="c28" d="M1575 245l12 4 7-11-11-2z"/>
<path class="c23" d="M1587 249l11 2 7-12-11-1z"/>
<path class="c13" d="M1598 251l11-1 6-13-10 2z"/>
<path class="c9" d="M1609 250l21-5 7-14-22 6z"/>
<path class="c17" d="M1630 245l12-2 7-11-12-1z"/>
<path class="c27" d="M1642 243l11 2 7-10-11-3z"/>
<path class="c31" d="M1653 245l12 4 7-10-12-4z"/>
<path class="c32" d="M1665 249l12 4 7-10-12-4z"/>
<path class="c33" d="M1677 253l155 66 7-10-155-66z"/>
<path class="c31" d="M1832 319l7 3 6-10-6-3z"/>
<path class="c23" d="M1839 322l6 1 7-8-7-3z"/>
<path class="c11" d="M1845 323l7-1 6-5-6-2z"/>
<path class="c8" d="M1852 322l6 0 7-4-7-1z"/>
<path class="c12" d="M1858 322l7 3 6-8-6 1z"/>
<path class="c31" d="M1865 325l13 8 6-12-13-4z"/>
<path class="c34" d="M1878 333l12 9 7-12-13-9z"/>
<path class="c32" d="M1890 342l13 10 7-12-13-10z"/>
<path class="c30" d="M1903 352l13 10 6-11-12-11z"/>
<path class="c29" d="M1916 362l12 10 6-11-12-10z"/>
<path class="c30" d="M1928 372l25 19 6-10-25-20z"/>
<path class="c31" d="M1953 391l13 9 6-10-13-9z"/>
<path class="c30" d="M1568 253l11 5 8-9-12-4z"/>
<path class="c29" d="M1579 258l12 4 7-11-11-2z"/>
<path class="c20" d="M1591 262l11 1 7-13-11 1z"/>
<path class="c12" d="M1602 263l11-1 6-14-10 2z"/>
<path class="c9" d="M1613 262l11-2 6-15-11 3z"/>
<path class="c11" d="M1624 260l11-3 7-14-12 2z"/>
<path class="c20" d="M1635 257l11-1 7-11-11-2z"/>
<path class="c30" d="M1646 256l12 3 7-10-12-4z"/>
<path class="c32" d="M1658 259l12 4 7-10-12-4z"/>
<path class="c33" d="M1670 263l143 61 7-10-143-61z"/>
<path class="c31" d="M1813 324l6 2 7-9-6-3z"/>
<path class="c22" d="M1819 326l7 1 6-8-6-2z"/>
<path class="c10" d="M1826 327l6-1 7-4-7-3z"/>
<path class="c7" d="M1832 326l7 1 6-4-6-1z"/>
<path class="c9" d="M1839 327l6 2 7-7-7 1z"/>
<path class="c23" d="M1845 329l7 4 6-11-6 0z"/>
<path class="c34" d="M1852 333l6 3 7-11-7-3z"/>
<path class="c35" d="M1858 336l13 9 7-12-13-8z"/>
<path class="c34" d="M1871 345l13 9 6-12-12-9z"/>
<path class="c32" d="M1884 354l13 9 6-11-13-10z"/>
<path class="c31" d="M1897 363l12 10 7-11-13-10z"/>
<path class="c30" d="M1909 373l26 20 6-11-25-20z"/>
<path class="c31" d="M1935 393l12 9 6-11-12-9z"/>
<path class="c32" d="M1947 402l13 8 6-10-13-9z"/>
<path class="c30" d="M1561 262l22 9 8-9-23-9z"/>
<path class="c28" d="M1583 271l12 4 7-12-11-1z"/>
<path class="c18" d="M1595 275l11 1 7-14-11 1z"/>
<path class="c11" d="M1606 276l11-1 7-15-11 2z"/>
<path class="c9" d="M1617 275l11-2 7-16-11 3z"/>
<path class="c13" d="M1628 273l11-2 7-15-11 1z"/>
<path class="c23" d="M1639 271l12 0 7-12-12-3z"/>
<path class="c30" d="M1651 271l6 1 7-11-6-2z"/>
<path class="c32" d="M1657 272l6 2 7-11-6-2z"/>
<path class="c33" d="M1663 274l118 50 7-11-118-50z"/>
<path class="c32" d="M1781 324l6 2 7-10-6-3z"/>
<path class="c31" d="M1787 326l6 3 7-10-6-3z"/>
<path class="c28" d="M1793 329l7 2 7-9-7-3z"/>
<path class="c20" d="M1800 331l6 0 7-7-6-2z"/>
<path class="c8" d="M1806 331l7-1 6-4-6-2z"/>
<path class="c6" d="M1813 330l6 1 7-4-7-1z"/>
<path class="c8" d="M1819 331l7 2 6-7-6 1z"/>
<path class="c21" d="M1826 333l6 4 7-10-7-1z"/>
<path class="c34" d="M1832 337l7 3 6-11-6-2z"/>
<path class="c36" d="M1839 340l13 8 6-12-13-7z"/>
<path class="c35" d="M1852 348l12 8 7-11-13-9z"/>
<path class="c34" d="M1864 356l13 9 7-11-13-9z"/>
<path class="c33" d="M1877 365l13 9 7-11-13-9z"/>
<path class="c31" d="M1890 374l38 30 7-11-38-30z"/>
<path class="c32" d="M1928 404l26 17 6-11-25-17z"/>
<path class="c30" d="M1553 271l35 14 7-10-34-13z"/>
<path class="c27" d="M1588 285l11 4 7-13-11-1z"/>
<path class="c17" d="M1599 289l11 1 7-15-11 1z"/>
<path class="c11" d="M1610 290l11-2 7-15-11 2z"/>
<path class="c10" d="M1621 288l12-2 6-15-11 2z"/>
<path class="c14" d="M1633 286l11-1 7-14-12 0z"/>
<path class="c22" d="M1644 285l6 0 7-13-6-1z"/>
<path class="c28" d="M1650 285l6 0 7-11-6-2z"/>
<path class="c31" d="M1656 285l6 2 7-11-6-2z"/>
<path class="c33" d="M1662 287l55 23 7-11-55-23z"/>
<path class="c34" d="M1717 310l13 5 7-10-13-6z"/>
<path class="c33" d="M1730 315l12 6 7-11-12-5z"/>
<path class="c32" d="M1742 321l13 5 7-10-13-6z"/>
<path class="c31" d="M1755 326l12 5 7-10-12-5z"/>
<path class="c29" d="M1767 331l7 2 7-9-7-3z"/>
<path class="c27" d="M1774 333l6 2 7-9-6-2z"/>
<path class="c19" d="M1780 335l7 1 6-7-6-3z"/>
<path class="c8" d="M1787 336l6-1 7-4-7-2z"/>
<path class="c5" d="M1793 335l7 0 6-4-6 0z"/>
<path class="c8" d="M1800 335l6 2 7-7-7 1z"/>
<path class="c21" d="M1806 337l7 4 6-10-6-1z"/>
<path class="c34" d="M1813 341l6 3 7-11-7-2z"/>
<path class="c36" d="M1819 344l26 16 7-12-26-15z"/>
<path class="c35" d="M1845 360l13 8 6-12-12-8z"/>
<path class="c34" d="M1858 368l13 9 6-12-13-9z"/>
<path class="c33" d="M1871 377l13 9 6-12-13-9z"/>
<path class="c32" d="M1884 386l12 10 7-12-13-10z"/>
<path class="c31" d="M1896 396l26 19 6-11-25-20z"/>
<path class="c32" d="M1922 415l26 16 6-10-26-17z"/>
<path class="c30" d="M1546 280l46 19 7-10-11-4-35-14z"/>
<path class="c27" d="M1592 299l11 3 7-12-11-1z"/>
<path class="c17" d="M1603 302l12 1 6-15-11 2z"/>
<path class="c12" d="M1615 303l11-1 7-16-12 2z"/>
<path class="c11" d="M1626 302l11-1 7-16-11 1z"/>
<path class="c14" d="M1637 301l6-1 7-15-6 0z"/>
<path class="c18" d="M1643 300l6 0 7-15-6 0z"/>
<path class="c24" d="M1649 300l6 0 7-13-6-2z"/>
<path class="c29" d="M1655 300l6 1 7-12-6-2z"/>
<path class="c33" d="M1661 301l6 2 7-12-6-2z"/>
<path class="c35" d="M1667 303l6 2 7-11-6-3z"/>
<path class="c36" d="M1673 305l12 6 7-12-12-5z"/>
<path class="c37" d="M1685 311l13 7 7-13-13-6z"/>
<path class="c36" d="M1698 318l25 11 7-14-25-10z"/>
<path class="c35" d="M1723 329l31 13 7-14-31-13z"/>
<path class="c34" d="M1754 342l6 2 7-13-6-3z"/>
<path class="c27" d="M1760 344l7 0 7-11-7-2z"/>
<path class="c13" d="M1767 344l6-1 7-8-6-2z"/>
<path class="c8" d="M1773 343l7-1 7-6-7-1z"/>
<path class="c10" d="M1780 342l6 2 7-9-6 1z"/>
<path class="c23" d="M1786 344l7 3 7-12-7 0z"/>
<path class="c34" d="M1793 347l6 3 7-13-6-2z"/>
<path class="c37" d="M1799 350l7 3 7-12-7-4z"/>
<path class="c36" d="M1806 353l32 19 7-12-32-19z"/>
<path class="c35" d="M1838 372l13 8 7-12-13-8z"/>
<path class="c34" d="M1851 380l13 9 7-12-13-9z"/>
<path class="c33" d="M1864 389l13 9 7-12-13-9z"/>
<path class="c32" d="M1877 398l52 36 6-11-51-37z"/>
<path class="c33" d="M1929 434l13 8 6-11-13-8z"/>
<path class="c30" d="M1538 288l58 25 7-11-11-3-46-19z"/>
<path class="c26" d="M1596 313l12 3 7-13-12-1z"/>
<path class="c17" d="M1608 316l11 2 7-16-11 1z"/>
<path class="c13" d="M1619 318l11-1 7-16-11 1z"/>
<path class="c12" d="M1630 317l6 0 7-17-6 1z"/>
<path class="c14" d="M1636 317l6-1 7-16-6 0z"/>
<path class="c16" d="M1642 316l6 0 7-16-6 0z"/>
<path class="c21" d="M1648 316l6 1 7-16-6-1z"/>
<path class="c28" d="M1654 317l6 1 7-15-6-2z"/>
<path class="c32" d="M1660 318l6 3 7-16-6-2z"/>
<path class="c31" d="M1666 321l6 5 7-18-6-3z"/>
<path class="c26" d="M1672 326l7 6 6-21-6-3z"/>
<path class="c20" d="M1679 332l6 6 6-23-6-4z"/>
<path class="c16" d="M1685 338l6 6 7-26-7-3z"/>
<path class="c13" d="M1691 344l7 5 6-28-6-3z"/>
<path class="c11" d="M1698 349l6 4 6-30-6-2z"/>
<path class="c10" d="M1704 353l6 3 6-30-6-3z"/>
<path class="c9" d="M1710 356l12 6 7-31-13-5z"/>
<path class="c8" d="M1722 362l19 8 6 0 7-28-25-11z"/>
<path class="c7" d="M1747 370l7-1 6-25-6-2z"/>
<path class="c8" d="M1754 369l6-1 7-24-7 0z"/>
<path class="c7" d="M1760 368l13 0 7-26-13 2z"/>
<path class="c9" d="M1773 368l6-1 7-23-6-2z"/>
<path class="c13" d="M1779 367l7-1 7-19-7-3z"/>
<path class="c22" d="M1786 366l6-1 7-15-6-3z"/>
<path class="c32" d="M1792 365l7 2 7-14-7-3z"/>
<path class="c37" d="M1799 367l13 5 7-12-13-7z"/>
<path class="c36" d="M1812 372l19 12 7-12-19-12z"/>
<path class="c35" d="M1831 384l26 16 7-11-26-17z"/>
<path class="c33" d="M1857 400l26 19 7-12-26-18z"/>
<path class="c32" d="M1883 419l26 18 7-11-26-19z"/>
<path class="c33" d="M1909 437l26 16 7-11-26-16z"/>
<path class="c30" d="M1536 291l70 28 2-3-12-3-58-25z"/>
<path class="c23" d="M1606 319l11 2 2-3-11-2z"/>
<path class="c15" d="M1617 321l12 0 1-4-11 1z"/>
<path class="c13" d="M1629 321l5 0 2-4-6 0z"/>
<path class="c14" d="M1634 321l6-1 2-4-6 1z"/>
<path class="c15" d="M1640 320l6 0 2-4-6 0z"/>
<path class="c18" d="M1646 320l6 1 2-4-6-1z"/>
<path class="c23" d="M1652 321l6 1 2-4-6-1z"/>
<path class="c27" d="M1658 322l6 4 2-5-6-3z"/>
<path class="c24" d="M1664 326l7 5 1-5-6-5z"/>
<path class="c18" d="M1671 331l6 7 2-6-7-6z"/>
<path class="c14" d="M1677 338l6 7 2-7-6-6z"/>
<path class="c12" d="M1683 345l7 7 1-8-6-6z"/>
<path class="c9" d="M1690 352l6 5 2-8-7-5z"/>
<path class="c8" d="M1696 357l6 5 2-9-6-4z"/>
<path class="c7" d="M1702 362l7 4 1-10-6-3z"/>
<path class="c6" d="M1709 366l12 6 1-10-12-6z"/>
<path class="c5" d="M1721 372l12 5 7 1 1-8-19-8z"/>
<path class="c4" d="M1740 378l12-1 13 0 6 0 6-3 2-7-6 1-13 0-13 2-6 0z"/>
<path class="c5" d="M1777 374l7-3 2-5-7 1z"/>
<path class="c9" d="M1784 371l6-1 2-5-6 1z"/>
<path class="c21" d="M1790 370l7 0 2-3-7-2z"/>
<path class="c33" d="M1797 370l6 3 2-4-6-2z"/>
<path class="c37" d="M1803 373l13 6 2-3-13-7z"/>
<path class="c36" d="M1816 379l13 8 2-3-13-8z"/>
<path class="c35" d="M1829 387l27 16 1-3-26-16z"/>
<path class="c34" d="M1856 403l13 9 1-3-13-9z"/>
<path class="c33" d="M1869 412l13 10 1-3-13-10z"/>
<path class="c32" d="M1882 422l13 9 1-3-13-9z"/>
<path class="c33" d="M1895 431l26 17 13 8 1-3-13-8-26-17z"/>
<path class="c30" d="M1534 293l58 24 2-2-58-24z"/>
<path class="c31" d="M1592 317l12 5 2-3-12-4z"/>
<path class="c26" d="M1604 322l12 3 1-4-11-2z"/>
<path class="c16" d="M1616 325l11 0 2-4-12 0z"/>
<path class="c14" d="M1627 325l12-1 1-4-11 1z"/>
<path class="c16" d="M1639 324l5 0 2-4-6 0z"/>
<path class="c19" d="M1644 324l6 1 2-4-6-1z"/>
<path class="c24" d="M1650 325l6 2 2-5-6-1z"/>
<path class="c28" d="M1656 327l7 3 1-4-6-4z"/>
<path class="c25" d="M1663 330l6 6 2-5-7-5z"/>
<path class="c19" d="M1669 336l6 7 2-5-6-7z"/>
<path class="c16" d="M1675 343l7 8 1-6-6-7z"/>
<path class="c14" d="M1682 351l6 7 2-6-7-7z"/>
<path class="c13" d="M1688 358l7 6 1-7-6-5z"/>
<path class="c11" d="M1695 364l6 5 1-7-6-5z"/>
<path class="c10" d="M1701 369l6 4 2-7-7-4z"/>
<path class="c9" d="M1707 373l6 4 2-8-6-3z"/>
<path class="c8" d="M1713 377l13 5 6 2 6 1 2-7-13-3-12-6z"/>
<path class="c6" d="M1738 385l12-2 2-6-12 1z"/>
<path class="c7" d="M1750 383l6 1 2-7-6 0z"/>
<path class="c6" d="M1756 384l7 1 2-8-7 0z"/>
<path class="c5" d="M1763 385l6-1 2-7-6 0z"/>
<path class="c4" d="M1769 384l7-3 1-7-6 3z"/>
<path class="c3" d="M1776 381l6-4 2-6-7 3z"/>
<path class="c6" d="M1782 377l7-3 1-4-6 1z"/>
<path class="c17" d="M1789 374l6 0 2-4-7 0z"/>
<path class="c31" d="M1795 374l7 2 1-3-6-3z"/>
<path class="c36" d="M1802 376l6 3 2-3-7-3z"/>
<path class="c37" d="M1808 379l7 3 1-3-6-3z"/>
<path class="c36" d="M1815 382l13 8 1-3-13-8z"/>
<path class="c35" d="M1828 390l26 16 2-3-27-16z"/>
<path class="c34" d="M1854 406l13 9 2-3-13-9z"/>
<path class="c33" d="M1867 415l39 28 26 15 2-2-26-16-39-28z"/>
<path class="c30" d="M1532 295l70 29 2-2-70-29z"/>
<path class="c28" d="M1602 324l12 4 2-3-12-3z"/>
<path class="c18" d="M1614 328l11 0 2-3-11 0z"/>
<path class="c15" d="M1625 328l12 0 2-4-12 1z"/>
<path class="c16" d="M1637 328l6 0 1-4-5 0z"/>
<path class="c20" d="M1643 328l6 1 1-4-6-1z"/>
<path class="c26" d="M1649 329l6 2 1-4-6-2z"/>
<path class="c32" d="M1655 331l6 3 2-4-7-3z"/>
<path class="c28" d="M1661 334l6 6 2-4-6-6z"/>
<path class="c22" d="M1667 340l7 7 1-4-6-7z"/>
<path class="c19" d="M1674 347l6 8 2-4-7-8z"/>
<path class="c21" d="M1680 355l7 8 1-5-6-7z"/>
<path class="c24" d="M1687 363l6 6 2-5-7-6z"/>
<path class="c26" d="M1693 369l6 5 2-5-6-5z"/>
<path class="c27" d="M1699 374l13 7 1-4-12-8z"/>
<path class="c26" d="M1712 381l12 6 6 1 2-4-19-7z"/>
<path class="c16" d="M1730 388l6 0 2-3-6-1z"/>
<path class="c7" d="M1736 388l6-1 2-3-6 1z"/>
<path class="c16" d="M1742 387l7 1 1-5-6 1z"/>
<path class="c20" d="M1749 388l6 1 1-5-6-1z"/>
<path class="c15" d="M1755 389l6 1 2-5-7-1z"/>
<path class="c8" d="M1761 390l6-1 2-5-6 1z"/>
<path class="c4" d="M1767 389l7-4 2-4-7 3z"/>
<path class="c2" d="M1774 385l6-4 2-4-6 4z"/>
<path class="c4" d="M1780 381l7-3 2-4-7 3z"/>
<path class="c14" d="M1787 378l6-1 2-3-6 0z"/>
<path class="c29" d="M1793 377l7 2 2-3-7-2z"/>
<path class="c35" d="M1800 379l6 3 2-3-6-3z"/>
<path class="c36" d="M1806 382l20 11 2-3-20-11z"/>
<path class="c35" d="M1826 393l26 16 2-3-26-16z"/>
<path class="c34" d="M1852 409l13 9 2-3-13-9z"/>
<path class="c33" d="M1865 418l39 27 27 16 1-3-26-15-39-28z"/>
<path class="c30" d="M1530 297l70 30 12 4 2-3-12-4-12-4-58-25z"/>
<path class="c21" d="M1612 331l12 1 1-4-11 0z"/>
<path class="c15" d="M1624 332l11 0 2-4-12 0z"/>
<path class="c17" d="M1635 332l6 0 2-4-6 0z"/>
<path class="c21" d="M1641 332l6 1 2-4-6-1z"/>
<path class="c29" d="M1647 333l6 1 2-3-6-2z"/>
<path class="c36" d="M1653 334l6 4 2-4-6-3z"/>
<path class="c31" d="M1659 338l6 4 2-2-6-6z"/>
<path class="c21" d="M1665 342l7 7 2-2-7-7z"/>
<path class="c16" d="M1672 349l6 8 2-2-6-8z"/>
<path class="c14" d="M1678 357l7 7 2-1-7-8z"/>
<path class="c13" d="M1685 364l6 6 2-1-6-6z"/>
<path class="c11" d="M1691 370l6 4 2 0-6-5z"/>
<path class="c9" d="M1697 374l7 4 1 0-6-4z"/>
<path class="c8" d="M1704 378l6 3 2 0-7-3z"/>
<path class="c7" d="M1710 381l6 3 2 0-6-3z"/>
<path class="c6" d="M1716 384l6 2 2 1-6-3z"/>
<path class="cb" d="M1722 386l6 1 12-1 7 2 2 0-7-1-12 1-6-1z"/>
<path class="c5" d="M1747 388l12 2 2 0-12-2z"/>
<path class="c3" d="M1759 390l7 0 1-1-6 1z"/>
<path class="c1" d="M1766 390l6-2 6-4 2-3-13 8z"/>
<path class="c3" d="M1778 384l7-3 2-3-7 3z"/>
<path class="c11" d="M1785 381l7-1 1-3-6 1z"/>
<path class="c27" d="M1792 380l6 2 2-3-7-2z"/>
<path class="c35" d="M1798 382l7 3 1-3-6-3z"/>
<path class="c36" d="M1805 385l19 11 2-3-20-11z"/>
<path class="c35" d="M1824 396l26 16 2-3-26-16z"/>
<path class="c34" d="M1850 412l14 9 1-3-13-9z"/>
<path class="c33" d="M1864 421l39 27 26 16 2-3-27-16-39-27z"/>
<path class="c30" d="M1528 300l82 34 2-3-12-4-70-30z"/>
<path class="c23" d="M1610 334l12 2 2-4-12-1z"/>
<path class="c17" d="M1622 336l6 0 1-4-5 0z"/>
<path class="c16" d="M1628 336l5 0 2-4-6 0z"/>
<path class="c17" d="M1633 336l6 0 2-4-6 0z"/>
<path class="c21" d="M1639 336l6 0 2-3-6-1z"/>
<path class="c28" d="M1645 336l6 2 2-4-6-1z"/>
<path class="c34" d="M1651 338l6 2 2-2-6-4z"/>
<path class="c23" d="M1657 340l6 4 2-2-6-4z"/>
<path class="c12" d="M1663 344l7 5 2 0-7-7z"/>
<path class="c9" d="M1670 349l6 6 2 2-6-8z"/>
<path class="c7" d="M1676 355l7 6 2 3-7-7z"/>
<path class="cb" d="M1683 361l6 5 12 7 13 6 6 1 12-1 7 1 25 8 6 0 7-3 1-1-6 4-6 2-7 0-6-1-13-3-12 1-6-1-18-8-13-8-6-6z"/>
<path class="c1" d="M1777 385l6-2 2-2-7 3z"/>
<path class="c10" d="M1783 383l7 0 2-3-7 1z"/>
<path class="c26" d="M1790 383l6 2 2-3-6-2z"/>
<path class="c34" d="M1796 385l7 3 2-3-7-3z"/>
<path class="c36" d="M1803 388l20 11 1-3-19-11z"/>
<path class="c35" d="M1823 399l26 16 1-3-26-16z"/>
<path class="c34" d="M1849 415l13 9 2-3-14-9z"/>
<path class="c33" d="M1862 424l39 27 26 16 2-3-26-16-39-27z"/>
<path class="c30" d="M1526 302l82 34 2-2-82-34z"/>
<path class="c26" d="M1608 336l12 3 2-3-12-2z"/>
<path class="c18" d="M1620 339l6 0 2-3-6 0z"/>
<path class="c16" d="M1626 339l11 0 2-3-11 0z"/>
<path class="c18" d="M1637 339l6 0 2-3-6 0z"/>
<path class="c22" d="M1643 339l6 1 2-2-6-2z"/>
<path class="c21" d="M1649 340l6 1 2-1-6-2z"/>
<path class="c11" d="M1655 341l6 3 2 0-6-4z"/>
<path class="c7" d="M1661 344l7 3 2 2-7-5z"/>
<path class="cb" d="M1668 347l18 11 19 8 6 2 7 1 12-1 19 7 20 11 6 0 2-1-7 3-6 0-25-8-7-1-12 1-6-1-13-6-12-7-19-17z"/>
<path class="c1" d="M1775 386l7-1 1-2-6 2z"/>
<path class="c10" d="M1782 385l6 1 2-3-7 0z"/>
<path class="c26" d="M1788 386l7 2 1-3-6-2z"/>
<path class="c34" d="M1795 388l6 3 2-3-7-3z"/>
<path class="c36" d="M1801 391l20 11 2-3-20-11z"/>
<path class="c35" d="M1821 402l26 16 2-3-26-16z"/>
<path class="c34" d="M1847 418l13 9 2-3-13-9z"/>
<path class="c33" d="M1860 427l39 27 27 15 1-2-26-16-39-27z"/>
<path class="c30" d="M1524 304l82 35 2-3-82-34z"/>
<path class="c28" d="M1606 339l12 3 2-3-12-3z"/>
<path class="c20" d="M1618 342l6 1 2-4-6 0z"/>
<path class="c16" d="M1624 343l6 0 2-4-6 0z"/>
<path class="c15" d="M1630 343l11-1 2-3-11 0z"/>
<path class="c14" d="M1641 342l6 0 2-2-6-1z"/>
<path class="c9" d="M1647 342l6 0 2-1-6-1z"/>
<path class="c5" d="M1653 342l6 1 2 1-6-3z"/>
<path class="cb" d="M1659 343l25 4 25 5 12-2 7 1 19 10 7 5 13 17 6 2 2 1-6 0-20-11-19-7-12 1-7-1-6-2-19-8-25-14z"/>
<path class="c3" d="M1773 385l7 1 2-1-7 1z"/>
<path class="c12" d="M1780 386l6 2 2-2-6-1z"/>
<path class="c27" d="M1786 388l7 2 2-2-7-2z"/>
<path class="c34" d="M1793 390l6 4 2-3-6-3z"/>
<path class="c35" d="M1799 394l7 3 2-3-7-3z"/>
<path class="c36" d="M1806 397l13 8 2-3-13-8z"/>
<path class="c35" d="M1819 405l26 16 2-3-26-16z"/>
<path class="c34" d="M1845 421l13 9 2-3-13-9z"/>
<path class="c33" d="M1858 430l40 27 26 15 2-3-27-15-39-27z"/>
<path class="c30" d="M1522 307l83 34 1-2-82-35z"/>
<path class="c29" d="M1605 341l11 4 2-3-12-3z"/>
<path class="c22" d="M1616 345l6 1 2-3-6-1z"/>
<path class="c16" d="M1622 346l6 0 2-3-6 0z"/>
<path class="c13" d="M1628 346l6 0 2-3-6 0z"/>
<path class="c11" d="M1634 346l6-1 1-3-5 1z"/>
<path class="c7" d="M1640 345l5-1 2-2-6 0z"/>
<path class="c3" d="M1645 344l6-1 2-1-6 0z"/>
<path class="cb" d="M1651 343l30-11 6-1 19 0 6-2 3 22-6 1-25-5-31-5zM1712 329l4 0 3 0 2 21-6 1zM1725 332l3 19-7-1-2-21zM1732 335l2 19-6-3-3-19zM1738 338l3 19-7-3-2-19zM1740 338l5 4 2 19-6-4-3-19zM1745 342l7 8 13 28 6 7 2 0-6-2-13-17-7-5z"/>
<path class="c6" d="M1771 385l7 3 2-2-7-1z"/>
<path class="c15" d="M1778 388l7 2 1-2-6-2z"/>
<path class="c28" d="M1785 390l6 3 2-3-7-2z"/>
<path class="c34" d="M1791 393l7 3 1-2-6-4z"/>
<path class="c35" d="M1798 396l6 4 2-3-7-3z"/>
<path class="c36" d="M1804 400l13 8 2-3-13-8z"/>
<path class="c35" d="M1817 408l27 16 1-3-26-16z"/>
<path class="c34" d="M1844 424l13 9 1-3-13-9z"/>
<path class="c33" d="M1857 433l39 27 27 15 1-3-26-15-40-27z"/>
<path class="c30" d="M1520 309l59 25 2-3-59-24z"/>
<path class="c29" d="M1579 334l36 14 1-3-11-4-24-10z"/>
<path class="c23" d="M1615 348l5 1 2-3-6-1z"/>
<path class="c17" d="M1620 349l6 0 2-3-6 0z"/>
<path class="c12" d="M1626 349l6 0 2-3-6 0z"/>
<path class="c7" d="M1632 349l6-2 2-2-6 1z"/>
<path class="c3" d="M1638 347l5-2 2-1-5 1z"/>
<path class="cb" d="M1643 345l12-7 17-18 3 14-18 7-12 3zM1672 320l5-5 1 1 3 16-6 2zM1685 318l2 13-6 1-3-16zM1692 320l1 11-6 0-2-13zM1698 322l2 9-7 0-1-11zM1705 325l1 6-6 0-2-9zM1712 327l0 2-6 2-1-6z"/>
<path class="c13" d="M1716 329l-4 0 0-2z"/>
<path class="c21" d="M1745 341l0 1-5-4z"/>
<path class="c7" d="M1751 344l1 6-7-8 0-1z"/>
<path class="cb" d="M1755 348l1 4 2 12-6-14-1-6zM1756 352l7 21 7 11 1 1-6-7-7-14z"/>
<path class="c9" d="M1770 384l6 5 2-1-7-3z"/>
<path class="c20" d="M1776 389l7 3 2-2-7-2z"/>
<path class="c30" d="M1783 392l6 4 2-3-6-3z"/>
<path class="c34" d="M1789 396l7 3 2-3-7-3z"/>
<path class="c35" d="M1796 399l6 4 2-3-6-4z"/>
<path class="c36" d="M1802 403l14 8 1-3-13-8z"/>
<path class="c35" d="M1816 411l26 16 2-3-27-16z"/>
<path class="c34" d="M1842 427l26 18 2-3-26-18z"/>
<path class="c33" d="M1868 445l26 17 27 16 2-3-27-15-26-18z"/>
<path class="c30" d="M1518 311l59 25 2-2-59-25z"/>
<path class="c29" d="M1577 336l24 10 2-2-24-10z"/>
<path class="c28" d="M1601 346l12 4 2-2-12-4z"/>
<path class="c24" d="M1613 350l6 2 1-3-5-1z"/>
<path class="c17" d="M1619 352l5 0 2-3-6 0z"/>
<path class="c10" d="M1624 352l6-1 2-2-6 0z"/>
<path class="c5" d="M1630 351l6-1 2-3-6 2z"/>
<path class="c2" d="M1636 350l5-3 2-2-5 2z"/>
<path class="cb" d="M1641 347l6-5 5-6 11-19 3 9-11 12-12 7zM1663 317l2-3 5 0 2 6-6 6zM1677 315l-5 5-2-6z"/>
<path class="c13" d="M1756 349l0 3-1-4z"/>
<path class="c10" d="M1758 352l3 17 2 4-7-21 0-3z"/>
<path class="c9" d="M1761 369l7 15 2 0-7-11z"/>
<path class="c12" d="M1768 384l6 7 2-2-6-5z"/>
<path class="c24" d="M1774 391l7 4 2-3-7-3z"/>
<path class="c32" d="M1781 395l7 4 1-3-6-4z"/>
<path class="c35" d="M1788 399l6 3 2-3-7-3z"/>
<path class="c36" d="M1794 402l20 12 2-3-20-12z"/>
<path class="c35" d="M1814 414l26 16 2-3-26-16z"/>
<path class="c34" d="M1840 430l27 18 1-3-26-18z"/>
<path class="c33" d="M1867 448l26 17 26 16 2-3-27-16-26-17z"/>
<path class="c30" d="M1516 313l59 25 2-2-59-25z"/>
<path class="c29" d="M1575 338l24 10 2-2-24-10z"/>
<path class="c28" d="M1599 348l12 5 2-3-12-4z"/>
<path class="c24" d="M1611 353l6 1 2-2-6-2z"/>
<path class="c18" d="M1617 354l6 1 1-3-5 0z"/>
<path class="c10" d="M1623 355l5-1 2-3-6 1z"/>
<path class="c4" d="M1628 354l6-2 2-2-6 1z"/>
<path class="c1" d="M1634 352l5-4 2-1-5 3z"/>
<path class="cb" d="M1639 348l6-6 5-8 5-12 3 5-6 9-5 6-6 5zM1655 322l3-8 4 0 1 3-5 10z"/>
<path class="c6" d="M1665 314l-2 3-1-3z"/>
<path class="c10" d="M1758 356l1 9 2 4-3-17zM1759 365l7 20 2-1-7-15z"/>
<path class="c14" d="M1766 385l7 8 1-2-6-7z"/>
<path class="c27" d="M1773 393l6 5 2-3-7-4z"/>
<path class="c33" d="M1779 398l7 4 2-3-7-4z"/>
<path class="c35" d="M1786 402l6 3 2-3-6-3z"/>
<path class="c36" d="M1792 405l20 12 2-3-20-12z"/>
<path class="c35" d="M1812 417l26 17 2-4-26-16z"/>
<path class="c34" d="M1838 434l27 17 2-3-27-18z"/>
<path class="c33" d="M1865 451l26 17 27 15 1-2-26-16-26-17z"/>
<path class="c30" d="M1514 316l59 25 2-3-59-25z"/>
<path class="c29" d="M1573 341l24 10 2-3-24-10z"/>
<path class="c28" d="M1597 351l12 4 2-2-12-5z"/>
<path class="c24" d="M1609 355l6 2 2-3-6-1z"/>
<path class="c18" d="M1615 357l6 1 2-3-6-1z"/>
<path class="c10" d="M1621 358l5-1 2-3-5 1z"/>
<path class="c4" d="M1626 357l6-2 2-3-6 2z"/>
<path class="c1" d="M1632 355l6-5 1-2-5 4z"/>
<path class="cb" d="M1638 350l5-7 5-11 5-14 2 4-5 12-5 8-6 6zM1653 318l0-2 5-2-3 8z"/>
<path class="c11" d="M1757 359l1 3 1 3-1-9z"/>
<path class="c10" d="M1758 362l6 24 2-1-7-20z"/>
<path class="c14" d="M1764 386l7 9 2-2-7-8z"/>
<path class="c28" d="M1771 395l6 5 2-2-6-5z"/>
<path class="c34" d="M1777 400l7 4 2-2-7-4z"/>
<path class="c35" d="M1784 404l7 4 1-3-6-3z"/>
<path class="c36" d="M1791 408l33 20 1-3-33-20z"/>
<path class="c35" d="M1824 428l13 9 1-3-13-9z"/>
<path class="c34" d="M1837 437l53 34 1-3-53-34z"/>
<path class="c33" d="M1890 471l26 15 2-3-27-15z"/>
<path class="c30" d="M1512 318l59 25 2-2-59-25z"/>
<path class="c29" d="M1571 343l24 10 2-2-24-10z"/>
<path class="c28" d="M1595 353l12 5 2-3-12-4z"/>
<path class="c25" d="M1607 358l6 1 2-2-6-2z"/>
<path class="c19" d="M1613 359l6 1 2-2-6-1z"/>
<path class="c10" d="M1619 360l6 0 1-3-5 1z"/>
<path class="c3" d="M1625 360l5-3 2-2-6 2z"/>
<path class="c1" d="M1630 357l6-4 2-3-6 5z"/>
<path class="cb" d="M1636 353l5-8 5-13 2 0-5 11-5 7zM1646 332l4-14 1-1 2 1-5 14z"/>
<path class="c9" d="M1653 316l0 2-2-1z"/>
<path class="c13" d="M1756 361l2 1-1-3z"/>
<path class="c10" d="M1756 362l6 25 2-1-6-24-2-1z"/>
<path class="c14" d="M1762 387l7 11 2-3-7-9z"/>
<path class="c28" d="M1769 398l7 5 1-3-6-5z"/>
<path class="c35" d="M1776 403l6 4 2-3-7-4z"/>
<path class="c36" d="M1782 407l40 24 2-3-40-24z"/>
<path class="c35" d="M1822 431l13 9 2-3-13-9z"/>
<path class="c34" d="M1835 440l53 34 2-3-53-34z"/>
<path class="c33" d="M1888 474l27 15 1-3-26-15z"/>
<path class="c30" d="M1510 320l59 26 2-3-59-25z"/>
<path class="c29" d="M1569 346l24 10 2-3-24-10z"/>
<path class="c28" d="M1593 356l12 4 2-2-12-5z"/>
<path class="c25" d="M1605 360l6 2 2-3-6-1z"/>
<path class="c20" d="M1611 362l6 1 2-3-6-1z"/>
<path class="c11" d="M1617 363l6 0 2-3-6 0z"/>
<path class="c4" d="M1623 363l5-3 2-3-5 3z"/>
<path class="c1" d="M1628 360l6-5 2-2-6 4z"/>
<path class="cb" d="M1634 355l5-8 5-13 2-2-5 13-5 8zM1644 334l3-14 3-2-4 14z"/>
<path class="c10" d="M1755 365l6 24 1-2-6-25z"/>
<path class="c14" d="M1761 389l6 12 2-3-7-11z"/>
<path class="c28" d="M1767 401l7 5 2-3-7-5z"/>
<path class="c35" d="M1774 406l6 4 2-3-6-4z"/>
<path class="c36" d="M1780 410l40 24 2-3-40-24z"/>
<path class="c35" d="M1820 434l26 17 2-3-26-17z"/>
<path class="c34" d="M1846 451l40 26 2-3-40-26z"/>
<path class="c33" d="M1886 477l27 15 2-3-27-15z"/>
<path class="c30" d="M1508 323l59 25 2-2-59-26z"/>
<path class="c29" d="M1567 348l24 10 2-2-24-10z"/>
<path class="c28" d="M1591 358l12 4 2-2-12-4z"/>
<path class="c25" d="M1603 362l6 2 2-2-6-2z"/>
<path class="c20" d="M1609 364l6 1 2-2-6-1z"/>
<path class="c12" d="M1615 365l6 0 2-2-6 0z"/>
<path class="c4" d="M1621 365l5-2 2-3-5 3z"/>
<path class="c1" d="M1626 363l6-5 2-3-6 5z"/>
<path class="cb" d="M1632 358l5-9 5-13 2-2-5 13-5 8zM1642 336l3-14 2-2-3 14z"/>
<path class="c10" d="M1753 367l6 25 2-3-6-24z"/>
<path class="c14" d="M1759 392l6 11 2-2-6-12z"/>
<path class="c28" d="M1765 403l7 6 2-3-7-5z"/>
<path class="c35" d="M1772 409l7 5 1-4-6-4z"/>
<path class="c36" d="M1779 414l39 23 2-3-40-24z"/>
<path class="c35" d="M1818 437l27 17 1-3-26-17z"/>
<path class="c34" d="M1845 454l40 26 1-3-40-26z"/>
<path class="c33" d="M1885 480l26 15 2-3-27-15z"/>
<path class="c30" d="M1506 325l59 25 2-2-59-25z"/>
<path class="c29" d="M1565 350l24 10 2-2-24-10z"/>
<path class="c28" d="M1589 360l12 5 2-3-12-4z"/>
<path class="c25" d="M1601 365l6 2 2-3-6-2z"/>
<path class="c20" d="M1607 367l6 1 2-3-6-1z"/>
<path class="c12" d="M1613 368l6 0 2-3-6 0z"/>
<path class="c4" d="M1619 368l6-2 1-3-5 2z"/>
<path class="c1" d="M1625 366l5-5 2-3-6 5z"/>
<path class="cb" d="M1630 361l5-9 5-14 2-2-5 13-5 9zM1640 338l3-13 2-3-3 14z"/>
<path class="c10" d="M1751 370l6 24 2-2-6-25z"/>
<path class="c13" d="M1757 394l7 12 1-3-6-11z"/>
<path class="c28" d="M1764 406l6 6 2-3-7-6z"/>
<path class="c35" d="M1770 412l7 5 2-3-7-5z"/>
<path class="c36" d="M1777 417l40 23 1-3-39-23z"/>
<path class="c35" d="M1817 440l26 17 2-3-27-17z"/>
<path class="c34" d="M1843 457l27 18 26 15 2-3-27-15-26-18z"/>
<path class="c33" d="M1896 490l14 7 1-2-13-8z"/>
<path class="c30" d="M1502 330l59 25 4-5-59-25z"/>
<path class="c29" d="M1561 355l24 10 4-5-24-10z"/>
<path class="c28" d="M1585 365l12 5 4-5-12-5z"/>
<path class="c25" d="M1597 370l6 1 4-4-6-2z"/>
<path class="c21" d="M1603 371l6 2 4-5-6-1z"/>
<path class="c13" d="M1609 373l6 0 4-5-6 0z"/>
<path class="c5" d="M1615 373l6-1 4-6-6 2z"/>
<path class="c1" d="M1621 372l5-5 4-6-5 5z"/>
<path class="cb" d="M1626 367l5-8 5-14 4-7-5 14-5 9zM1636 345l3-15 4-5-3 13z"/>
<path class="c10" d="M1748 375l5 25 4-6-6-24z"/>
<path class="c13" d="M1753 400l7 12 4-6-7-12z"/>
<path class="c27" d="M1760 412l7 6 3-6-6-6z"/>
<path class="c35" d="M1767 418l6 5 4-6-7-5z"/>
<path class="c36" d="M1773 423l40 24 4-7-40-23z"/>
<path class="c35" d="M1813 447l27 17 3-7-26-17z"/>
<path class="c34" d="M1840 464l26 17 27 15 3-6-26-15-27-18z"/>
<path class="c33" d="M1893 496l13 7 4-6-14-7z"/>
<path class="c30" d="M1498 334l60 26 3-5-59-25z"/>
<path class="c29" d="M1558 360l24 10 3-5-24-10z"/>
<path class="c28" d="M1582 370l12 5 3-5-12-5z"/>
<path class="c25" d="M1594 375l6 1 3-5-6-1z"/>
<path class="c21" d="M1600 376l5 2 4-5-6-2z"/>
<path class="c14" d="M1605 378l6 0 4-5-6 0z"/>
<path class="c5" d="M1611 378l6-1 4-5-6 1z"/>
<path class="c1" d="M1617 377l5-4 4-6-5 5z"/>
<path class="cb" d="M1622 373l6-8 4-13 4-7-5 14-5 8zM1632 352l4-17 3-5-3 15z"/>
<path class="c10" d="M1744 381l6 25 3-6-5-25z"/>
<path class="c13" d="M1750 406l6 13 4-7-7-12z"/>
<path class="c27" d="M1756 419l7 6 4-7-7-6z"/>
<path class="c35" d="M1763 425l7 4 3-6-6-5z"/>
<path class="c36" d="M1770 429l39 24 4-6-40-24z"/>
<path class="c35" d="M1809 453l27 17 4-6-27-17z"/>
<path class="c34" d="M1836 470l27 17 27 15 3-6-27-15-26-17z"/>
<path class="c33" d="M1890 502l13 7 3-6-13-7z"/>
<path class="c30" d="M1494 339l60 26 4-5-60-26z"/>
<path class="c29" d="M1554 365l24 10 4-5-24-10z"/>
<path class="c28" d="M1578 375l12 4 4-4-12-5z"/>
<path class="c25" d="M1590 379l6 2 4-5-6-1z"/>
<path class="c21" d="M1596 381l6 2 3-5-5-2z"/>
<path class="c14" d="M1602 383l5 0 4-5-6 0z"/>
<path class="c5" d="M1607 383l6-1 4-5-6 1z"/>
<path class="c1" d="M1613 382l6-4 3-5-5 4z"/>
<path class="cb" d="M1619 378l5-7 4-13 4-6-4 13-6 8zM1628 358l4-18 4-5-4 17z"/>
<path class="c10" d="M1740 386l6 26 4-6-6-25z"/>
<path class="c13" d="M1746 412l7 13 3-6-6-13z"/>
<path class="c27" d="M1753 425l6 6 4-6-7-6z"/>
<path class="c35" d="M1759 431l7 4 4-6-7-4z"/>
<path class="c36" d="M1766 435l40 24 3-6-39-24z"/>
<path class="c35" d="M1806 459l40 25 3-6-40-25z"/>
<path class="c34" d="M1846 484l40 24 4-6-41-24z"/>
<path class="c33" d="M1886 508l14 7 3-6-13-7z"/>
<path class="c30" d="M1490 344l60 26 4-5-60-26z"/>
<path class="c29" d="M1550 370l24 10 4-5-24-10z"/>
<path class="c28" d="M1574 380l12 4 4-5-12-4z"/>
<path class="c25" d="M1586 384l6 2 4-5-6-2z"/>
<path class="c21" d="M1592 386l6 2 4-5-6-2z"/>
<path class="c14" d="M1598 388l6 0 3-5-5 0z"/>
<path class="c5" d="M1604 388l5-1 4-5-6 1z"/>
<path class="c1" d="M1609 387l6-4 4-5-6 4z"/>
<path class="cb" d="M1615 383l5-7 5-12 3-6-4 13-5 7zM1625 364l4-18 0-1 3-5-4 18z"/>
<path class="c30" d="M1629 346l0-1z"/>
<path class="c10" d="M1736 391l6 28 4-7-6-26z"/>
<path class="c13" d="M1742 419l7 12 4-6-7-13z"/>
<path class="c27" d="M1749 431l7 6 3-6-6-6z"/>
<path class="c35" d="M1756 437l6 5 4-7-7-4z"/>
<path class="c36" d="M1762 442l40 23 4-6-40-24z"/>
<path class="c35" d="M1802 465l40 25 4-6-40-25z"/>
<path class="c34" d="M1842 490l41 24 3-6-40-24z"/>
<path class="c33" d="M1883 514l13 6 4-5-14-7z"/>
<path class="m" d="M1490 344l99-115 11-12M1602 216l3-1 4 2M1629 205l28-37 59-81M1514 354l75-90 9-13 19-34 5-9 3-2 2-1 2 1 2 2M1666 196l71-100M1538 364l49-59 11-15 10-17 23-50 8-12 9-10M1654 199l2 2M1695 198l63-93M1562 375l35-44 10-13 9-17 19-46 8-14 8-12 18-24 5-7 4-2M1680 196l2 2 2 4M1724 200l56-87M1586 384l26-32 7-12 9-18 19-43 8-16 41-57 6-7 3-2M1706 196l2 1 2 2M1751 204l50-81M1609 387l15-20M1654 315l7-15 8-13 54-75 5-8 4-4M1780 210l43-75M1629 346l0-1M1652 317l4 6 10 22 3 4 3 0M1683 317l4-9 5-8 61-89 5-5 2-1 3 1 1 3M1821 214l12-37 12-29M1685 319l8 45 3 9 2 2 1-1M1709 325l4-8 6-10 58-85 9-12M1845 216l5-25 4-17 5-13 8-12M1712 330l7 46 2 8 1 3 2 0M1735 336l2-7 4-6 69-103 4-6 2-1 2 1 2 3M1868 220l4-24 4-15 4-10 10-14M1738 338l6 41M1758 352l3-9 4-9 73-110 4-6 3-2 2 1 1 5M1891 221l4-20 4-13 5-10 8-13M1757 361l3 4 3 7M1774 385l9-33 5-12 4-4 7-4 5-7 60-94 8-10M1915 231l9-33 5-12 6-12M1762 442l22-38 14-23 14-25 14-23 4-5 6-4 4-4 55-86 4-7 4-4M1905 224l1 5M1929 245l28-58M1789 457l77-133 3-5 6-4 4-5 38-61 4-5 3-1 2 0 2 0 2 2 4 7M1937 256l1 0M1939 256l6-9 37-62M1816 474l90-159 9-9 14-23 6-7 4-2 9 0 6-5 16-22 36-58M1842 490l100-175 4-5 14-6 7-7 63-100M1869 506l89-153 6-9 12-13 6-8 72-118M1896 520l74-127 27-42 81-137M1490 344l86 37 16 5 10 2 5 0 4-2 4-3 3-4 6-12 4-19M1736 391l3 18 4 11 4 8 7 7 9 7 93 57 20 11 20 10M1506 325l71 30 24 10 7 2 7 1 5 0 5-2M1632 359l5-12 5-19M1752 375l3 14 3 9 5 7 6 6 53 33 54 35 34 18M1522 307l84 35 12 3 11 1M1647 343l12-3 16-6 6-2 8-1 15 0 11-3M1741 339l4 3 5 5 6 12M1769 383l4 3 20 8 22 12 27 18 52 34 29 17M1538 288l54 23 15 5 11 2 26-2 9 0M1761 368l11 0 14-2 5-1 8 2 9 4 16 8 22 14 62 43 27 17M1553 271l36 14 14 4 11 0 31-4 8 0 6 1 16 6 55 23 45 19 8 2 14-1 7 2 24 13 31 19 21 14 43 32 25 16M1568 253l20 8 12 2 12-1 27-6 8 0 7 2 13 4 22 9 125 54 9 2 12-1 8 2 14 8 23 14 17 13 40 31 23 16M1583 236l12 3 10 0 9-2 18-5 7-1 8 0 9 3 22 7 37 15 138 59 9 3 11-1 5 2 8 3 11 8 51 42 24 18M1597 220l6-3 9-1 17-5 7-1 9 0 11 1 12 3 14 4 17 6 133 56 63 28 6 2 9 1 6 2 5 3 7 5 42 40 13 11M1650 202l12-5 10-1 13 1 15 4 57 22 90 37 35 16 26 12 27 16 12 7 6 5 13 17 8 9 9 7 11 6M1738 204l9-1 13 1 13 3 15 5 25 9 46 19 51 23 15 9 10 7 7 9 18 22 10 10 13 7 22 9M1640 190l19 9M1834 219l5-2 7 0 7 0 9 2 18 6 31 14 9 6 7 6 22 31 6 6 5 5 7 5 8 4 41 16M1653 172l50 26M1910 229l5 1 6 4 20 26 6 6 6 4 15 7 59 23M1666 155l80 40 19 11M1940 256l6-2 7 0 14 2 18 6 53 20M1679 138l76 36 19 10 7 5 6 6 6 8 4 8M1932 248l8-5 11-3 11-1 11 1 11 2 13 4 51 19M1691 120l81 37 12 6 8 5 8 7 7 9 6 11 8 19M1926 241l10-10 10-6 12-3 15-1 12 2 14 3 59 22M1704 103l75 33 21 10 7 4 6 5 15 18 4 4 3 0 3 0 12-8 4-1 4 0 15 5 30 11 7 4 5 4 12 16 2 3 3 2 3 0 3 0 14-7 9-2 12-1 12 1 12 2 14 4 57 21M1716 87l69 29 23 10 13 7 14 12 5 3 4 0 12-2 8 1 66 25 5 3 9 9 4 3 6 0 14-1 10-1 11 1 11 2 24 7 54 19"/>
</g>
<text x="494.7" y="144.9" class="tl">0</text>
<text x="533.9" y="162.4" class="tl">1</text>
<text x="575.1" y="180.9" class="tl">2</text>
<text x="618.3" y="200.3" class="tl">3</text>
<text x="636.6" y="198.0" class="tl">0</text>
<text x="657.1" y="162.3" class="tl">1</text>
<text x="675.6" y="130.1" class="tl">2</text>
<text x="692.4" y="100.8" class="tl">3</text>
<text x="705.7" y="46.0" class="tz">0.10</text>
<text x="703.5" y="56.3" class="tz">0.05</text>
<text x="701.4" y="66.1" class="tz">0.00</text>
<text x="699.3" y="75.6" class="tz">−0.05</text>
<text x="697.4" y="84.7" class="tz">−0.10</text>
<path class="bx" d="M141.0 368.1L275.3 428.3M275.3 428.3L335.3 323.8M335.3 323.8L215.6 278.7M215.6 278.7L141.0 368.1M132.5 328.5L279.5 391.2M279.5 391.2L343.9 283.7M343.9 283.7L214.2 238.0M214.2 238.0L132.5 328.5M141.0 368.1L132.5 328.5M275.3 428.3L279.5 391.2M335.3 323.8L343.9 283.7M215.6 278.7L214.2 238.0"/>
<path class="tk" d="M143.4 369.2L148.4 363.3M151.1 372.6L153.9 369.1M158.8 376.1L161.6 372.5M166.6 379.6L169.4 376.0M174.5 383.1L177.2 379.5M182.4 386.7L187.1 380.4M190.4 390.3L193.1 386.6M198.5 393.9L201.2 390.2M206.7 397.6L209.4 393.8M215.0 401.3L217.6 397.5M223.3 405.0L227.7 398.4M231.7 408.8L234.3 404.9M240.2 412.6L242.7 408.7M248.8 416.5L251.3 412.5M257.5 420.4L259.9 416.3M266.2 424.3L270.3 417.4M276.6 426.0L268.3 422.3M280.9 418.6L276.1 416.5M285.0 411.4L280.2 409.3M289.1 404.3L284.3 402.2M293.1 397.4L288.4 395.4M297.0 390.6L289.0 387.2M300.8 383.9L296.2 382.0M304.5 377.4L299.9 375.5M308.2 371.0L303.6 369.1M311.8 364.7L307.3 362.9M315.4 358.5L307.7 355.4M318.8 352.5L314.4 350.7M322.2 346.5L317.8 344.8M325.6 340.7L321.2 339.0M328.9 335.0L324.5 333.3M332.1 329.4L324.7 326.6M335.5 323.1L329.3 320.7M335.8 321.3L332.1 319.9M336.2 319.5L332.5 318.1M336.6 317.6L332.9 316.3M337.0 315.8L333.3 314.4M337.4 314.0L331.1 311.7M337.8 312.1L334.0 310.7M338.2 310.3L334.4 308.9M338.6 308.4L334.8 307.0M339.0 306.5L335.2 305.1M339.4 304.6L333.0 302.2M339.8 302.6L336.0 301.2M340.2 300.7L336.4 299.3M340.7 298.7L336.8 297.3M341.1 296.7L337.2 295.3M341.5 294.8L335.0 292.4M341.9 292.8L338.0 291.3M342.4 290.7L338.4 289.3M342.8 288.7L338.8 287.3M343.3 286.6L339.3 285.2M343.7 284.6L337.0 282.2"/>
<g transform="scale(0.333333)">
<path class="c33" d="M645 792l21 8 3-4-21-8z"/>
<path class="c34" d="M666 800l64 26 3-4-64-26z"/>
<path class="c35" d="M730 826l27 11 3-5-27-10z"/>
<path class="c36" d="M757 837l11 5 3-6-11-4z"/>
<path class="c37" d="M768 842l6 2 3-5-6-3z"/>
<path class="c36" d="M774 844l5 3 3-6-5-2z"/>
<path class="c33" d="M779 847l6 4 3-7-6-3z"/>
<path class="c27" d="M785 851l5 4 3-8-5-3z"/>
<path class="c22" d="M790 855l5 5 3-9-5-4z"/>
<path class="c19" d="M795 860l5 7 4-10-6-6z"/>
<path class="c15" d="M800 867l6 9 3-9-5-10z"/>
<path class="c12" d="M806 876l4 14 3-7-4-16z"/>
<path class="c10" d="M810 890l4 20 1-1 2-4-4-22z"/>
<path class="c35" d="M817 906l0-1-2 4z"/>
<path class="c1" d="M873 932l2-7 3-4-3 7z"/>
<path class="cb" d="M875 925l8-16 3-4-8 16z"/>
<path class="c0" d="M883 909l7-10 3-4-7 10z"/>
<path class="c1" d="M890 899l7-5 3-4-7 5z"/>
<path class="c4" d="M897 894l6-2 3-5-6 3z"/>
<path class="c12" d="M903 892l6-1 3-4-6 0z"/>
<path class="c21" d="M909 891l13 1 2-4-12-1z"/>
<path class="c27" d="M922 892l12 3 2-4-12-3z"/>
<path class="c29" d="M934 895l23 8 3-4-24-8z"/>
<path class="c30" d="M957 903l48 17 2-4-47-17z"/>
<path class="c33" d="M642 796l10 4 3-4-10-4z"/>
<path class="c34" d="M652 800l43 17 3-4-43-17z"/>
<path class="c35" d="M695 817l54 22 3-4-54-22z"/>
<path class="c36" d="M749 839l11 5 3-5-11-4z"/>
<path class="c37" d="M760 844l11 6 3-6-11-5z"/>
<path class="c33" d="M771 850l5 4 3-7-5-3z"/>
<path class="c26" d="M776 854l5 6 4-9-6-4z"/>
<path class="c20" d="M781 860l6 6 3-11-5-4z"/>
<path class="c16" d="M787 866l5 6 3-12-5-5z"/>
<path class="c14" d="M792 872l5 7 3-12-5-7z"/>
<path class="c13" d="M797 879l5 8 4-11-6-9z"/>
<path class="c12" d="M802 887l5 12 3-9-4-14z"/>
<path class="c11" d="M807 899l3 14 4-3-4-20z"/>
<path class="c1" d="M870 936l3-7 2-4-2 7z"/>
<path class="cb" d="M873 929l7-16 3-4-8 16z"/>
<path class="c0" d="M880 913l8-9 2-5-7 10z"/>
<path class="c1" d="M888 904l6-6 3-4-7 5z"/>
<path class="c4" d="M894 898l7-2 2-4-6 2z"/>
<path class="c12" d="M901 896l6-1 2-4-6 1z"/>
<path class="c20" d="M907 895l12 1 3-4-13-1z"/>
<path class="c26" d="M919 896l12 3 3-4-12-3z"/>
<path class="c29" d="M931 899l36 12 2-4-35-12z"/>
<path class="c30" d="M967 911l36 13 2-4-36-13z"/>
<path class="c34" d="M639 800l31 13 3-4-31-13z"/>
<path class="c35" d="M670 813l71 29 2-5-70-28z"/>
<path class="c36" d="M741 842l10 5 3-5-11-5z"/>
<path class="c37" d="M751 847l11 5 3-5-11-5z"/>
<path class="c35" d="M762 852l6 5 3-7-6-3z"/>
<path class="c28" d="M768 857l5 5 3-8-5-4z"/>
<path class="c20" d="M773 862l5 7 3-9-5-6z"/>
<path class="c16" d="M778 869l6 8 3-11-6-6z"/>
<path class="c14" d="M784 877l5 8 3-13-5-6z"/>
<path class="c13" d="M789 885l5 6 3-12-5-7z"/>
<path class="c14" d="M794 891l5 7 3-11-5-8z"/>
<path class="c13" d="M799 898l5 10 3-9-5-12zM804 908l3 9 3-4-3-14z"/>
<path class="c1" d="M867 940l3-7 3-4-3 7z"/>
<path class="cb" d="M870 933l8-15 2-5-7 16z"/>
<path class="c0" d="M878 918l7-10 3-4-8 9z"/>
<path class="c1" d="M885 908l7-5 2-5-6 6z"/>
<path class="c4" d="M892 903l6-2 3-5-7 2z"/>
<path class="c11" d="M898 901l6-1 3-5-6 1z"/>
<path class="c20" d="M904 900l12 1 3-5-12-1z"/>
<path class="c26" d="M916 901l12 2 3-4-12-3z"/>
<path class="c28" d="M928 903l12 4 3-4-12-4z"/>
<path class="c29" d="M940 907l24 8 3-4-24-8z"/>
<path class="c30" d="M964 915l36 13 3-4-36-13z"/>
<path class="c34" d="M636 804l21 9 3-4-21-9z"/>
<path class="c35" d="M657 813l64 27 3-5-64-26z"/>
<path class="c36" d="M721 840l22 9 3-5-22-9z"/>
<path class="c37" d="M743 849l11 6 3-6-11-5z"/>
<path class="c36" d="M754 855l5 3 3-6-5-3z"/>
<path class="c31" d="M759 858l6 5 3-6-6-5z"/>
<path class="c22" d="M765 863l5 7 3-8-5-5z"/>
<path class="c16" d="M770 870l5 9 3-10-5-7z"/>
<path class="c15" d="M775 879l11 16 3-10-11-16z"/>
<path class="c17" d="M786 895l5 6 3-10-5-6z"/>
<path class="c18" d="M791 901l5 6 3-9-5-7z"/>
<path class="c15" d="M796 907l5 8 3-7-5-10z"/>
<path class="c18" d="M801 915l2 5 4-3-3-9z"/>
<path class="c1" d="M865 944l3-7 2-4-3 7z"/>
<path class="cb" d="M868 937l7-15 3-4-8 15z"/>
<path class="c0" d="M875 922l7-9 3-5-7 10z"/>
<path class="c1" d="M882 913l7-5 3-5-7 5z"/>
<path class="c4" d="M889 908l6-3 3-4-6 2z"/>
<path class="c10" d="M895 905l7-1 2-4-6 1z"/>
<path class="c19" d="M902 904l12 1 2-4-12-1z"/>
<path class="c25" d="M914 905l12 2 2-4-12-2z"/>
<path class="c28" d="M926 907l12 4 2-4-12-4z"/>
<path class="c29" d="M938 911l24 8 2-4-24-8z"/>
<path class="c30" d="M962 919l36 13 2-4-36-13z"/>
<path class="c34" d="M633 808l10 5 3-4-10-5z"/>
<path class="c35" d="M643 813l43 18 3-5-43-17z"/>
<path class="c36" d="M686 831l54 23 3-5-54-23z"/>
<path class="c37" d="M740 854l11 6 3-5-11-6z"/>
<path class="c34" d="M751 860l6 4 2-6-5-3z"/>
<path class="c26" d="M757 864l5 6 3-7-6-5z"/>
<path class="c18" d="M762 870l5 9 3-9-5-7z"/>
<path class="c15" d="M767 879l10 19 3-10-10-18z"/>
<path class="c19" d="M777 898l6 6 3-9-6-7z"/>
<path class="c25" d="M783 904l5 4 3-7-5-6z"/>
<path class="c26" d="M788 908l5 5 3-6-5-6z"/>
<path class="c18" d="M793 913l5 8 3-6-5-8z"/>
<path class="c26" d="M798 921l1 3 4-4-2-5z"/>
<path class="c1" d="M862 948l3-7 3-4-3 7z"/>
<path class="cb" d="M865 941l7-14 3-5-7 15z"/>
<path class="c0" d="M872 927l8-9 2-5-7 9z"/>
<path class="c1" d="M880 918l6-6 3-4-7 5z"/>
<path class="c4" d="M886 912l7-2 2-5-6 3z"/>
<path class="c10" d="M893 910l6-1 3-5-7 1z"/>
<path class="c18" d="M899 909l12 0 3-4-12-1z"/>
<path class="c25" d="M911 909l12 2 3-4-12-2z"/>
<path class="c28" d="M923 911l12 4 3-4-12-4z"/>
<path class="c29" d="M935 915l24 8 3-4-24-8z"/>
<path class="c30" d="M959 923l36 14 3-5-36-13z"/>
<path class="c35" d="M630 813l32 13 3-4-32-14z"/>
<path class="c36" d="M662 826l70 31 3-5-70-30z"/>
<path class="c37" d="M732 857l11 5 3-5-11-5z"/>
<path class="c36" d="M743 862l5 4 3-6-5-3z"/>
<path class="c32" d="M748 866l6 4 3-6-6-4z"/>
<path class="c22" d="M754 870l5 7 3-7-5-6z"/>
<path class="c16" d="M759 877l5 10 3-8-5-9z"/>
<path class="c14" d="M764 887l5 10 3-8-5-10z"/>
<path class="c17" d="M769 897l5 8 3-7-5-9z"/>
<path class="c26" d="M774 905l6 5 3-6-6-6z"/>
<path class="c33" d="M780 910l5 4 3-6-5-4z"/>
<path class="c30" d="M785 914l5 4 3-5-5-5z"/>
<path class="c19" d="M790 918l6 7 2-4-5-8z"/>
<path class="c30" d="M796 925l0 2 3-3-1-3z"/>
<path class="c1" d="M860 952l2-6 3-5-3 7z"/>
<path class="cb" d="M862 946l8-15 2-4-7 14z"/>
<path class="c0" d="M870 931l7-9 3-4-8 9z"/>
<path class="c1" d="M877 922l6-5 3-5-6 6z"/>
<path class="c4" d="M883 917l7-2 3-5-7 2z"/>
<path class="c9" d="M890 915l6-1 3-5-6 1z"/>
<path class="c17" d="M896 914l12 0 3-5-12 0z"/>
<path class="c24" d="M908 914l13 2 2-5-12-2z"/>
<path class="c28" d="M921 916l12 3 2-4-12-4z"/>
<path class="c29" d="M933 919l24 8 2-4-24-8z"/>
<path class="c30" d="M957 927l36 14 2-4-36-14z"/>
<path class="c35" d="M627 817l21 9 3-4-21-9z"/>
<path class="c36" d="M648 826l75 33 3-5-75-32z"/>
<path class="c37" d="M723 859l17 8 3-5-17-8z"/>
<path class="c36" d="M740 867l5 4 3-5-5-4z"/>
<path class="c29" d="M745 871l6 6 3-7-6-4z"/>
<path class="c19" d="M751 877l5 8 3-8-5-7z"/>
<path class="c15" d="M756 885l10 20 3-8-10-20z"/>
<path class="c21" d="M766 905l6 6 2-6-5-8z"/>
<path class="c32" d="M772 911l5 4 3-5-6-5z"/>
<path class="c35" d="M777 915l5 3 3-4-5-4z"/>
<path class="c30" d="M782 918l6 4 2-4-5-4z"/>
<path class="c19" d="M788 922l5 7 3-4-6-7z"/>
<path class="c31" d="M793 929l0 2 3-4 0-2z"/>
<path class="c1" d="M857 955l3-5 2-4-2 6z"/>
<path class="cb" d="M860 950l7-14 3-5-8 15z"/>
<path class="c0" d="M867 936l7-9 3-5-7 9z"/>
<path class="c1" d="M874 927l7-5 2-5-6 5z"/>
<path class="c4" d="M881 922l6-2 3-5-7 2z"/>
<path class="c8" d="M887 920l6-2 3-4-6 1z"/>
<path class="c16" d="M893 918l13 0 2-4-12 0z"/>
<path class="c24" d="M906 918l12 2 3-4-13-2z"/>
<path class="c28" d="M918 920l12 3 3-4-12-3z"/>
<path class="c29" d="M930 923l24 8 3-4-24-8z"/>
<path class="c30" d="M954 931l36 14 3-4-36-14z"/>
<path class="c35" d="M623 822l11 4 3-4-10-5z"/>
<path class="c36" d="M634 826l81 36 3-5-81-35z"/>
<path class="c37" d="M715 862l22 11 3-6-22-10z"/>
<path class="c34" d="M737 873l5 4 3-6-5-4z"/>
<path class="c26" d="M742 877l6 6 3-6-6-6z"/>
<path class="c18" d="M748 883l5 9 3-7-5-8z"/>
<path class="c14" d="M753 892l5 10 3-7-5-10z"/>
<path class="c16" d="M758 902l5 9 3-6-5-10z"/>
<path class="c26" d="M763 911l6 5 3-5-6-6z"/>
<path class="c35" d="M769 916l5 3 3-4-5-4z"/>
<path class="c34" d="M774 919l5 3 3-4-5-3z"/>
<path class="c29" d="M779 922l6 4 3-4-6-4z"/>
<path class="c19" d="M785 926l5 7 3-4-5-7z"/>
<path class="c31" d="M790 933l1 2 2-4 0-2z"/>
<path class="c1" d="M854 959l3-5 3-4-3 5z"/>
<path class="cb" d="M857 954l7-13 3-5-7 14z"/>
<path class="c0" d="M864 941l7-9 3-5-7 9z"/>
<path class="c1" d="M871 932l7-5 3-5-7 5z"/>
<path class="c4" d="M878 927l6-3 3-4-6 2z"/>
<path class="c8" d="M884 924l7-1 2-5-6 2z"/>
<path class="c15" d="M891 923l12-1 3-4-13 0z"/>
<path class="c23" d="M903 922l12 2 3-4-12-2z"/>
<path class="c27" d="M915 924l12 3 3-4-12-3z"/>
<path class="c29" d="M927 927l25 9 2-5-24-8z"/>
<path class="c30" d="M952 936l36 13 2-4-36-14z"/>
<path class="c35" d="M620 826l11 5 3-5-11-4z"/>
<path class="c36" d="M631 831l54 24 3-5-54-24z"/>
<path class="c37" d="M685 855l38 17 11 7 3-6-11-6-38-17z"/>
<path class="c33" d="M734 879l5 4 3-6-5-4z"/>
<path class="c24" d="M739 883l6 7 3-7-6-6z"/>
<path class="c16" d="M745 890l5 9 3-7-5-9z"/>
<path class="c14" d="M750 899l5 10 3-7-5-10z"/>
<path class="c18" d="M755 909l5 7 3-5-5-9z"/>
<path class="c31" d="M760 916l6 4 3-4-6-5z"/>
<path class="c34" d="M766 920l5 3 3-4-5-3z"/>
<path class="c33" d="M771 923l6 3 2-4-5-3z"/>
<path class="c29" d="M777 926l5 4 3-4-6-4z"/>
<path class="c19" d="M782 930l5 7 3-4-5-7z"/>
<path class="c31" d="M787 937l1 2 3-4-1-2z"/>
<path class="c1" d="M852 963l2-5 3-4-3 5z"/>
<path class="cb" d="M854 958l8-12 2-5-7 13z"/>
<path class="c0" d="M862 946l7-9 2-5-7 9z"/>
<path class="c1" d="M869 937l6-5 3-5-7 5z"/>
<path class="c4" d="M875 932l7-3 2-5-6 3z"/>
<path class="c7" d="M882 929l6-1 3-5-7 1z"/>
<path class="c14" d="M888 928l12-1 3-5-12 1z"/>
<path class="c22" d="M900 927l13 1 2-4-12-2z"/>
<path class="c27" d="M913 928l12 4 2-5-12-3z"/>
<path class="c29" d="M925 932l24 8 3-4-25-9z"/>
<path class="c30" d="M949 940l36 13 3-4-36-13z"/>
<path class="c36" d="M617 831l43 19 3-5-43-19z"/>
<path class="c37" d="M660 850l65 31 3-6-65-30z"/>
<path class="c36" d="M725 881l6 3 3-5-6-4z"/>
<path class="c31" d="M731 884l5 5 3-6-5-4z"/>
<path class="c22" d="M736 889l6 7 3-6-6-7z"/>
<path class="c16" d="M742 896l5 9 3-6-5-9z"/>
<path class="c15" d="M747 905l5 10 3-6-5-10z"/>
<path class="c21" d="M752 915l6 6 2-5-5-7z"/>
<path class="c33" d="M758 921l10 6 3-4-11-7z"/>
<path class="c32" d="M768 927l6 3 3-4-6-3z"/>
<path class="c29" d="M774 930l5 4 3-4-5-4z"/>
<path class="c19" d="M779 934l6 7 2-4-5-7z"/>
<path class="c31" d="M785 941l0 2 3-4-1-2z"/>
<path class="c1" d="M849 967l3-5 2-4-2 5z"/>
<path class="cb" d="M852 962l7-12 3-4-8 12z"/>
<path class="c0" d="M859 950l7-8 3-5-7 9z"/>
<path class="c1" d="M866 942l6-5 3-5-6 5z"/>
<path class="c3" d="M872 937l7-3 3-5-7 3z"/>
<path class="c6" d="M879 934l6-1 3-5-6 1z"/>
<path class="c12" d="M885 933l13-1 2-5-12 1z"/>
<path class="c21" d="M898 932l12 1 3-5-13-1z"/>
<path class="c27" d="M910 933l12 3 3-4-12-4z"/>
<path class="c29" d="M922 936l37 12 2-4-36-12z"/>
<path class="c30" d="M959 948l24 10 2-5-24-9z"/>
<path class="c36" d="M614 835l32 15 3-5-32-14z"/>
<path class="c37" d="M646 850l77 36 2-5-76-36z"/>
<path class="c36" d="M723 886l5 4 3-6-6-3z"/>
<path class="c30" d="M728 890l5 5 3-6-5-5z"/>
<path class="c21" d="M733 895l6 7 3-6-6-7z"/>
<path class="c16" d="M739 902l10 18 3-5-10-19z"/>
<path class="c25" d="M749 920l6 5 3-4-6-6z"/>
<path class="c33" d="M755 925l5 3 3-4-5-3z"/>
<path class="c32" d="M760 928l11 6 3-4-11-6z"/>
<path class="c28" d="M771 934l5 4 3-4-5-4z"/>
<path class="c19" d="M776 938l6 7 3-4-6-7z"/>
<path class="c31" d="M782 945l0 2 3-4 0-2z"/>
<path class="c1" d="M846 971l3-4 3-5-3 5z"/>
<path class="c0" d="M849 967l7-12 7-8 3-5-7 8-7 12z"/>
<path class="c1" d="M863 947l7-5 2-5-6 5z"/>
<path class="c3" d="M870 942l6-3 3-5-7 3z"/>
<path class="c6" d="M876 939l6-1 3-5-6 1z"/>
<path class="c11" d="M882 938l13-2 3-4-13 1z"/>
<path class="c20" d="M895 936l12 1 3-4-12-1z"/>
<path class="c26" d="M907 937l12 3 3-4-12-3z"/>
<path class="c28" d="M919 940l13 4 2-4-12-4z"/>
<path class="c29" d="M932 944l24 9 3-5-25-8z"/>
<path class="c30" d="M956 953l24 9 3-4-24-10z"/>
<path class="c36" d="M611 840l32 15 3-5-32-15z"/>
<path class="c37" d="M643 855l77 37 3-6-77-36z"/>
<path class="c35" d="M720 892l5 4 3-6-5-4z"/>
<path class="c29" d="M725 896l5 5 3-6-5-5z"/>
<path class="c20" d="M730 901l6 7 3-6-6-7z"/>
<path class="c16" d="M736 908l5 10 3-6-5-10z"/>
<path class="c17" d="M741 918l5 7 3-5-5-8z"/>
<path class="c29" d="M746 925l6 5 3-5-6-5z"/>
<path class="c33" d="M752 930l5 2 3-4-5-3z"/>
<path class="c32" d="M757 932l6 3 3-4-6-3z"/>
<path class="c31" d="M763 935l5 3 3-4-5-3z"/>
<path class="c28" d="M768 938l6 4 2-4-5-4z"/>
<path class="c19" d="M774 942l5 7 3-4-6-7z"/>
<path class="c31" d="M779 949l1 2 2-4 0-2z"/>
<path class="c2" d="M844 975l2-4 3-4-3 4z"/>
<path class="c0" d="M846 971l7-11 7-8 3-5-7 8-7 12z"/>
<path class="c1" d="M860 952l7-5 3-5-7 5z"/>
<path class="c3" d="M867 947l6-3 3-5-6 3z"/>
<path class="c5" d="M873 944l7-2 2-4-6 1z"/>
<path class="c10" d="M880 942l12-1 3-5-13 2z"/>
<path class="c19" d="M892 941l13 0 2-4-12-1z"/>
<path class="c26" d="M905 941l12 3 2-4-12-3z"/>
<path class="c28" d="M917 944l12 4 3-4-13-4z"/>
<path class="c29" d="M929 948l24 9 3-4-24-9z"/>
<path class="c30" d="M953 957l25 9 2-4-24-9z"/>
<path class="c36" d="M608 844l21 10 4-4-22-10z"/>
<path class="c37" d="M629 854l77 37 11 6 3-5-87-42z"/>
<path class="c35" d="M717 897l5 4 3-5-5-4z"/>
<path class="c28" d="M722 901l5 6 3-6-5-5z"/>
<path class="c20" d="M727 907l6 7 3-6-6-7z"/>
<path class="c16" d="M733 914l5 9 3-5-5-10z"/>
<path class="c19" d="M738 923l6 7 2-5-5-7z"/>
<path class="c31" d="M744 930l5 4 3-4-6-5z"/>
<path class="c32" d="M749 934l5 2 3-4-5-2z"/>
<path class="c31" d="M754 936l11 6 3-4-11-6z"/>
<path class="c28" d="M765 942l6 4 3-4-6-4z"/>
<path class="c19" d="M771 946l5 7 3-4-5-7z"/>
<path class="c31" d="M776 953l1 2 3-4-1-2z"/>
<path class="c2" d="M841 980l3-5 2-4-2 4z"/>
<path class="c0" d="M844 975l7-10 6-8 3-5-7 8-7 11z"/>
<path class="c1" d="M857 957l7-4 3-6-7 5z"/>
<path class="c3" d="M864 953l6-4 3-5-6 3z"/>
<path class="c5" d="M870 949l7-2 3-5-7 2z"/>
<path class="c9" d="M877 947l12-2 3-4-12 1z"/>
<path class="c18" d="M889 945l13 1 3-5-13 0z"/>
<path class="c25" d="M902 946l12 3 3-5-12-3z"/>
<path class="c28" d="M914 949l12 3 3-4-12-4z"/>
<path class="c29" d="M926 952l37 14 3-4-37-14z"/>
<path class="c30" d="M963 966l12 4 3-4-12-4z"/>
<path class="c36" d="M605 849l21 10 3-5-21-10z"/>
<path class="c37" d="M626 859l77 38 11 6 3-6-11-6-77-37z"/>
<path class="c34" d="M714 903l5 4 3-6-5-4z"/>
<path class="c27" d="M719 907l6 6 2-6-5-6z"/>
<path class="c19" d="M725 913l5 7 3-6-6-7z"/>
<path class="c17" d="M730 920l5 8 3-5-5-9z"/>
<path class="c22" d="M735 928l6 6 3-4-6-7z"/>
<path class="c32" d="M741 934l11 6 2-4-10-6z"/>
<path class="c31" d="M752 940l11 6 2-4-11-6z"/>
<path class="c28" d="M763 946l5 4 3-4-6-4z"/>
<path class="c19" d="M768 950l5 7 3-4-5-7z"/>
<path class="c31" d="M773 957l1 2 3-4-1-2z"/>
<path class="c2" d="M838 984l3-5 3-4-3 5z"/>
<path class="c0" d="M841 979l7-10 7-7 2-5-6 8-7 10z"/>
<path class="c1" d="M855 962l6-4 3-5-7 4z"/>
<path class="c3" d="M861 958l7-4 2-5-6 4z"/>
<path class="c4" d="M868 954l6-2 3-5-7 2z"/>
<path class="c7" d="M874 952l13-2 2-5-12 2z"/>
<path class="c16" d="M887 950l12 0 3-4-13-1z"/>
<path class="c24" d="M899 950l13 3 2-4-12-3z"/>
<path class="c27" d="M912 953l12 4 2-5-12-3z"/>
<path class="c29" d="M924 957l36 13 3-4-37-14z"/>
<path class="c30" d="M960 970l13 5 2-5-12-4z"/>
<path class="c36" d="M599 858l21 11 6-10-21-10z"/>
<path class="c37" d="M620 869l82 42 6-11-82-41z"/>
<path class="c36" d="M702 911l6 3 6-11-6-3z"/>
<path class="c34" d="M708 914l5 4 6-11-5-4z"/>
<path class="c27" d="M713 918l6 6 6-11-6-6z"/>
<path class="c20" d="M719 924l5 7 6-11-5-7z"/>
<path class="c19" d="M724 931l5 7 6-10-5-8z"/>
<path class="c26" d="M729 938l6 5 6-9-6-6z"/>
<path class="c32" d="M735 943l5 3 6-8-5-4z"/>
<path class="c31" d="M740 946l17 8 6-8-17-8z"/>
<path class="c28" d="M757 954l5 4 6-8-5-4z"/>
<path class="c19" d="M762 958l6 7 5-8-5-7z"/>
<path class="c31" d="M768 965l0 2 6-8-1-2z"/>
<path class="c1" d="M832 991l4-5 5-7-3 5z"/>
<path class="cb" d="M836 986l6-9 6-8-7 10z"/>
<path class="c0" d="M842 977l7-7 6-8-7 7z"/>
<path class="c1" d="M849 970l13-9 6-7-7 4-6 4z"/>
<path class="c2" d="M862 961l7-2 5-7-6 2z"/>
<path class="c4" d="M869 959l13-3 5-6-13 2z"/>
<path class="c13" d="M882 956l12 1 5-7-12 0z"/>
<path class="c22" d="M894 957l12 3 6-7-13-3z"/>
<path class="c27" d="M906 960l12 5 6-8-12-4z"/>
<path class="c29" d="M918 965l25 9 5-9-24-8z"/>
<path class="c30" d="M943 974l25 9 5-8-25-10z"/>
<path class="c36" d="M592 867l33 17 6-10-32-16z"/>
<path class="c37" d="M625 884l71 38 6-11-71-37z"/>
<path class="c36" d="M696 922l6 3 6-11-6-3z"/>
<path class="c33" d="M702 925l5 4 6-11-5-4z"/>
<path class="c27" d="M707 929l6 6 6-11-6-6z"/>
<path class="c21" d="M713 935l5 6 6-10-5-7z"/>
<path class="c22" d="M718 941l6 6 5-9-5-7z"/>
<path class="c30" d="M724 947l5 4 6-8-6-5z"/>
<path class="c32" d="M729 951l6 3 5-8-5-3z"/>
<path class="c31" d="M735 954l16 8 6-8-17-8z"/>
<path class="c28" d="M751 962l6 4 5-8-5-4z"/>
<path class="c18" d="M757 966l5 7 6-8-6-7z"/>
<path class="c30" d="M762 973l1 2 5-8 0-2z"/>
<path class="c1" d="M821 998l4-9 2 5z"/>
<path class="cb" d="M825 989l7-12 4 9-4 5-5 3zM832 977l7-9 6-7 7-5 6-1 7 0 4 4-13 6-7 5-7 7-6 9z"/>
<path class="c4" d="M865 955l12 5 5-4-13 3z"/>
<path class="c14" d="M877 960l12 4 5-7-12-1z"/>
<path class="c25" d="M889 964l12 5 5-9-12-3z"/>
<path class="c29" d="M901 969l24 9 6-9-25-9z"/>
<path class="c30" d="M925 978l37 14 6-9-37-14z"/>
<path class="c36" d="M586 877l43 23 7-10-44-23z"/>
<path class="c37" d="M629 900l61 32 6-10-60-32z"/>
<path class="c36" d="M690 932l5 4 7-11-6-3z"/>
<path class="c33" d="M695 936l6 4 6-11-5-4z"/>
<path class="c27" d="M701 940l6 5 6-10-6-6z"/>
<path class="c23" d="M707 945l5 6 6-10-5-6z"/>
<path class="c25" d="M712 951l6 5 6-9-6-6z"/>
<path class="c31" d="M718 956l5 3 6-8-5-4z"/>
<path class="c30" d="M723 959l6 3 6-8-6-3z"/>
<path class="c29" d="M729 962l5 2 6-8-5-2z"/>
<path class="c28" d="M734 964l11 5 6-7-11-6z"/>
<path class="c25" d="M745 969l6 4 6-7-6-4z"/>
<path class="c17" d="M751 973l5 5 6-5-5-7z"/>
<path class="c22" d="M756 978l3 6 4-9-1-2z"/>
<path class="c19" d="M801 1000l0-2 0 2z"/>
<path class="cb" d="M801 998l8-24 0 25-8 1zM809 974l7-19 1 43-8 1zM816 955l7-10 2 44-4 9-4 0zM823 945l7-5 6-2 7 0 6 2 11 10 5 5-7 0-6 1-7 5-6 7-7 9-7 12z"/>
<path class="c9" d="M860 950l12 13 5-3-12-5z"/>
<path class="c18" d="M872 963l11 8 6-7-12-4z"/>
<path class="c28" d="M883 971l12 6 6-8-12-5z"/>
<path class="c29" d="M895 977l13 5 5-9-12-4z"/>
<path class="c30" d="M908 982l49 19 5-9-49-19z"/>
<path class="c35" d="M580 886l10 5 7-9-11-5z"/>
<path class="c36" d="M590 891l55 30 6-10-54-29z"/>
<path class="c37" d="M645 921l39 21 6-10-39-21z"/>
<path class="c36" d="M684 942l5 4 6-10-5-4z"/>
<path class="c33" d="M689 946l6 4 6-10-6-4z"/>
<path class="c28" d="M695 950l6 4 6-9-6-5z"/>
<path class="c25" d="M701 954l5 5 6-8-5-6z"/>
<path class="c27" d="M706 959l6 4 6-7-6-5z"/>
<path class="c24" d="M712 963l5 2 6-6-5-3z"/>
<path class="c17" d="M717 965l6 1 6-4-6-3z"/>
<path class="c12" d="M723 966l5 1 6-3-5-2z"/>
<path class="c7" d="M728 967l6 0 6-1-6-2z"/>
<path class="c5" d="M734 967l6 0 5 2-5-3z"/>
<path class="cb" d="M740 967l11-1 5 12-5-5-6-4zM751 966l6 0 4 20-2-2-3-6zM757 966l6 1 2 23-4-4zM763 967l6 0 1 26-5-3zM769 967l6-3 0 32-5-3zM775 964l6-7 0 41-6-2zM781 957l6-8 0 51-6-2zM787 949l7-9 0 60-7 0zM794 940l7-7 0 65 0 2-7 0zM801 933l6-4 6-2 7 2 18 7 5 2-7 0-6 2-7 5-7 10-7 19-8 24z"/>
<path class="c7" d="M838 936l6 3 5 1-6-2z"/>
<path class="c9" d="M844 939l6 4 5 1-6-4z"/>
<path class="c10" d="M850 943l6 6 4 1-5-6z"/>
<path class="c11" d="M856 949l11 14 5 0-12-13z"/>
<path class="c13" d="M867 963l11 13 5-5-11-8z"/>
<path class="c22" d="M878 976l12 9 5-8-12-6z"/>
<path class="c29" d="M890 985l12 6 6-9-13-5z"/>
<path class="c30" d="M902 991l50 19 5-9-49-19z"/>
<path class="c35" d="M573 895l44 24 6-10-43-23z"/>
<path class="c36" d="M617 919l44 24 6-10-44-24z"/>
<path class="c35" d="M661 943l6 2 6-9-6-3z"/>
<path class="c34" d="M667 945l5 3 6-9-5-3z"/>
<path class="c32" d="M672 948l6 2 6-8-6-3z"/>
<path class="c29" d="M678 950l5 3 6-7-5-4z"/>
<path class="c23" d="M683 953l6 2 6-5-6-4z"/>
<path class="c16" d="M689 955l5 2 7-3-6-4z"/>
<path class="c9" d="M694 957l6 1 6 1-5-5z"/>
<path class="cb" d="M700 958l6-1 5-3 30-26 6-3 6-2 12 0 12 1 12 2 13 3 5 0-6 4-7 7-13 17-6 7-6 3-18-1-23 1-11-2-5-2-6-4z"/>
<path class="c6" d="M802 929l6 3 5-5-6 2z"/>
<path class="c16" d="M808 932l6 3 6-6-7-2z"/>
<path class="c23" d="M814 935l6 3 6-6-6-3z"/>
<path class="c25" d="M820 938l6 4 6-8-6-2z"/>
<path class="c24" d="M826 942l6 2 6-8-6-2z"/>
<path class="c25" d="M832 944l6 2 6-7-6-3z"/>
<path class="c23" d="M838 946l6 3 6-6-6-4z"/>
<path class="c17" d="M844 949l7 3 5-3-6-6z"/>
<path class="c13" d="M851 952l11 11 5 0-11-14z"/>
<path class="c12" d="M862 963l12 15 4-2-11-13z"/>
<path class="c14" d="M874 978l11 12 5-5-12-9z"/>
<path class="c23" d="M885 990l12 9 5-8-12-6z"/>
<path class="c29" d="M897 999l12 5 5-8-12-5z"/>
<path class="c30" d="M909 1004l38 15 5-9-38-14z"/>
<path class="c34" d="M567 903l10 6 7-9-11-5z"/>
<path class="c35" d="M577 909l33 19 7-9-33-19z"/>
<path class="c34" d="M610 928l12 6 6-9-11-6z"/>
<path class="c33" d="M622 934l11 5 6-8-11-6z"/>
<path class="c29" d="M633 939l11 5 6-7-11-6z"/>
<path class="c17" d="M644 944l11 2 6-3-11-6z"/>
<path class="c8" d="M655 946l5 0 7-1-6-2z"/>
<path class="cb" d="M660 946l6-1 11-6 22-17 12-6 6-1 12 0 12 3 12 4 6 1-12 2-6 3-6 5-18 17-11 7-6 1-6-1-27-12z"/>
<path class="c6" d="M753 922l6 2 6-1-6 0z"/>
<path class="c8" d="M759 924l6 2 6-3-6 0z"/>
<path class="c11" d="M765 926l6 3 6-5-6-1z"/>
<path class="c15" d="M771 929l6 2 6-6-6-1z"/>
<path class="c20" d="M777 931l6 2 6-7-6-1z"/>
<path class="c25" d="M783 933l6 3 7-8-7-2z"/>
<path class="c29" d="M789 936l7 2 6-9-6-1z"/>
<path class="c31" d="M796 938l6 3 6-9-6-3z"/>
<path class="c33" d="M802 941l6 3 6-9-6-3z"/>
<path class="c32" d="M808 944l12 6 6-8-12-7z"/>
<path class="c30" d="M820 950l12 5 6-9-12-4z"/>
<path class="c31" d="M832 955l7 2 5-8-6-3z"/>
<path class="c30" d="M839 957l6 3 6-8-7-3z"/>
<path class="c21" d="M845 960l12 8 5-5-11-11z"/>
<path class="c13" d="M857 968l12 11 5-1-12-15z"/>
<path class="c12" d="M869 979l11 14 5-3-11-12z"/>
<path class="c15" d="M880 993l12 12 5-6-12-9z"/>
<path class="c25" d="M892 1005l12 8 5-9-12-5z"/>
<path class="c29" d="M904 1013l12 5 5-9-12-5z"/>
<path class="c30" d="M916 1018l25 10 6-9-26-10z"/>
<path class="c34" d="M560 912l11 6 6-9-10-6z"/>
<path class="c33" d="M571 918l11 6 6-9-11-6z"/>
<path class="c32" d="M582 924l11 5 6-8-11-6z"/>
<path class="c28" d="M593 929l11 5 6-6-11-7z"/>
<path class="c18" d="M604 934l11 3 7-3-12-6z"/>
<path class="c6" d="M615 937l11 0 7 2-11-5z"/>
<path class="cb" d="M626 937l10-5 22-17 12-5 5-1 12 0 18 5 6 2-12 6-22 17-11 6-11 1-11-2-11-5z"/>
<path class="c4" d="M705 914l6 2 6-1-6 1z"/>
<path class="c8" d="M711 916l6 2 6-4-6 1z"/>
<path class="c13" d="M717 918l6 3 6-6-6-1z"/>
<path class="c19" d="M723 921l6 2 6-7-6-1z"/>
<path class="c24" d="M729 923l6 2 6-7-6-2z"/>
<path class="c27" d="M735 925l6 3 6-8-6-2z"/>
<path class="c29" d="M741 928l6 2 6-8-6-2z"/>
<path class="c30" d="M747 930l6 3 6-9-6-2z"/>
<path class="c31" d="M753 933l12 5 6-9-12-5z"/>
<path class="c32" d="M765 938l12 5 6-10-12-4z"/>
<path class="c33" d="M777 943l19 8 6-10-19-8z"/>
<path class="c34" d="M796 951l6 2 6-9-6-3z"/>
<path class="c33" d="M802 953l12 7 6-10-12-6z"/>
<path class="c32" d="M814 960l6 2 6-9-6-3z"/>
<path class="c31" d="M820 962l6 3 6-10-6-2z"/>
<path class="c32" d="M826 965l7 2 6-10-7-2z"/>
<path class="c33" d="M833 967l6 3 6-10-6-3z"/>
<path class="c31" d="M839 970l12 6 6-8-12-8z"/>
<path class="c21" d="M851 976l12 8 6-5-12-11z"/>
<path class="c14" d="M863 984l12 12 5-3-11-14z"/>
<path class="c13" d="M875 996l12 13 5-4-12-12z"/>
<path class="c17" d="M887 1009l11 11 6-7-12-8z"/>
<path class="c26" d="M898 1020l12 7 6-9-12-5z"/>
<path class="c29" d="M910 1027l13 6 6-10-13-5z"/>
<path class="c30" d="M923 1033l13 5 5-10-12-5z"/>
<path class="c27" d="M553 920l11 4 7-6-11-6z"/>
<path class="c17" d="M564 924l11 3 7-3-11-6z"/>
<path class="c7" d="M575 927l10 0 8 2-11-5z"/>
<path class="cb" d="M585 927l11-3 21-15 11-4 11-1 6 0 18 5 7 1-12 5-22 17-10 5-11 0-11-3-11-5z"/>
<path class="c5" d="M663 909l6 2 6-2-5 1z"/>
<path class="c9" d="M669 911l6 2 6-4-6 0z"/>
<path class="c14" d="M675 913l5 2 7-6-6 0z"/>
<path class="c20" d="M680 915l6 3 7-7-6-2z"/>
<path class="c24" d="M686 918l6 2 7-8-6-1z"/>
<path class="c27" d="M692 920l6 2 7-8-6-2z"/>
<path class="c29" d="M698 922l6 3 7-9-6-2z"/>
<path class="c31" d="M704 925l6 2 7-9-6-2z"/>
<path class="c32" d="M710 927l12 5 7-9-12-5z"/>
<path class="c33" d="M722 932l67 28 7-9-67-28z"/>
<path class="c34" d="M789 960l13 6 6-9-12-6z"/>
<path class="c33" d="M802 966l6 3 6-9-6-3z"/>
<path class="c32" d="M808 969l12 5 6-9-12-5z"/>
<path class="c33" d="M820 974l13 6 6-10-13-5z"/>
<path class="c34" d="M833 980l12 6 6-10-12-6z"/>
<path class="c31" d="M845 986l12 7 6-9-12-8z"/>
<path class="c22" d="M857 993l13 8 5-5-12-12z"/>
<path class="c15" d="M870 1001l12 11 5-3-12-13z"/>
<path class="c14" d="M882 1012l11 11 5-3-11-11z"/>
<path class="c17" d="M893 1023l12 11 5-7-12-7z"/>
<path class="c26" d="M905 1034l13 7 5-8-13-6z"/>
<path class="c29" d="M918 1041l12 6 6-9-13-5z"/>
<path class="cb" d="M546 923l9-10 21-16 10-2 12 1 23 7 7 2-11 4-21 15-11 3-10 0-22-7z"/>
<path class="c6" d="M621 903l11 5 7-4-11 1z"/>
<path class="c14" d="M632 908l6 2 7-6-6 0z"/>
<path class="c20" d="M638 910l6 2 7-7-6-1z"/>
<path class="c24" d="M644 912l6 3 7-8-6-2z"/>
<path class="c27" d="M650 915l6 2 7-8-6-2z"/>
<path class="c29" d="M656 917l6 3 7-9-6-2z"/>
<path class="c31" d="M662 920l6 2 7-9-6-2z"/>
<path class="c32" d="M668 922l18 7 6-9-17-7z"/>
<path class="c33" d="M686 929l97 41 6-10-97-40z"/>
<path class="c34" d="M783 970l12 6 7-10-13-6z"/>
<path class="c33" d="M795 976l13 6 6-10-12-6z"/>
<path class="c32" d="M808 982l6 2 6-10-6-2z"/>
<path class="c33" d="M814 984l13 6 6-10-13-6z"/>
<path class="c34" d="M827 990l24 12 6-9-24-13z"/>
<path class="c30" d="M851 1002l13 7 6-8-13-8z"/>
<path class="c18" d="M864 1009l13 6 5-3-12-11z"/>
<path class="c13" d="M877 1015l12 11 4-3-11-11z"/>
<path class="c14" d="M889 1026l11 14 5-6-12-11z"/>
<path class="c21" d="M900 1040l12 9 6-8-13-7z"/>
<path class="c28" d="M912 1049l13 7 5-9-12-6z"/>
<path class="cb" d="M537 918l8-32 10-4 11 0 12 5 12 8 8 1-12-1-10 2-21 16-9 10z"/>
<path class="c10" d="M590 895l12 8 7-3-11-4z"/>
<path class="c18" d="M602 903l12 7 7-7-12-3z"/>
<path class="c26" d="M614 910l12 6 6-8-11-5z"/>
<path class="c30" d="M626 916l5 3 7-9-6-2z"/>
<path class="c31" d="M631 919l6 2 7-9-6-2z"/>
<path class="c32" d="M637 921l18 8 7-9-18-8z"/>
<path class="c33" d="M655 929l128 54 6-10-127-53z"/>
<path class="c34" d="M783 983l12 6 7-10-13-6z"/>
<path class="c33" d="M795 989l19 8 6-10-18-8z"/>
<path class="c34" d="M814 997l19 9 6-10-19-9z"/>
<path class="c33" d="M833 1006l12 6 6-10-12-6z"/>
<path class="c22" d="M845 1012l13 3 6-6-13-7z"/>
<path class="c19" d="M858 1015l13 7 12 11 6-7-12-11-13-6z"/>
<path class="c17" d="M883 1033l12 13 5-6-11-14z"/>
<path class="c19" d="M895 1046l12 11 5-8-12-9z"/>
<path class="c25" d="M907 1057l12 8 6-9-13-7z"/>
<path class="cb" d="M530 922l7-34 8-2-8 32z"/>
<path class="c2" d="M537 888l11-2 7-4-10 4z"/>
<path class="c7" d="M548 886l11-1 7-3-11 0z"/>
<path class="c11" d="M559 885l11 4 8-2-12-5z"/>
<path class="c12" d="M570 889l12 7 8-1-12-8z"/>
<path class="c13" d="M582 896l13 10 7-3-12-8z"/>
<path class="c17" d="M595 906l12 10 7-6-12-7z"/>
<path class="c24" d="M607 916l12 7 7-7-12-6z"/>
<path class="c29" d="M619 923l6 4 6-8-5-3z"/>
<path class="c30" d="M625 927l6 3 6-9-6-2z"/>
<path class="c31" d="M631 930l5 3 7-9-6-3z"/>
<path class="c32" d="M636 933l12 5 7-9-12-5z"/>
<path class="c33" d="M648 938l128 55 7-10-128-54z"/>
<path class="c34" d="M776 993l13 6 6-10-12-6z"/>
<path class="c33" d="M789 999l25 11 6-10-25-11z"/>
<path class="c32" d="M814 1010l13 5 6-9-13-6z"/>
<path class="c20" d="M827 1015l13 2 5-5-12-6z"/>
<path class="c17" d="M840 1017l13 6 5-8-13-3z"/>
<path class="c30" d="M853 1023l12 10 6-11-13-7z"/>
<path class="c27" d="M865 1033l12 10 6-10-12-11z"/>
<path class="c23" d="M877 1043l12 11 6-8-12-13z"/>
<path class="c22" d="M889 1054l12 10 6-7-12-11z"/>
<path class="c24" d="M901 1064l13 9 5-8-12-8z"/>
<path class="cb" d="M523 930l7-29 7-13-7 34z"/>
<path class="c9" d="M530 901l11-3 7-12-11 2z"/>
<path class="c12" d="M541 898l11-3 7-10-11 1z"/>
<path class="c19" d="M552 895l11 0 7-6-11-4z"/>
<path class="c17" d="M563 895l12 4 7-3-12-7z"/>
<path class="c14" d="M575 899l12 9 12 11 8-3-25-20z"/>
<path class="c18" d="M599 919l12 10 8-6-12-7z"/>
<path class="c23" d="M611 929l6 5 8-7-6-4z"/>
<path class="c26" d="M617 934l7 4 7-8-6-3z"/>
<path class="c29" d="M624 938l6 3 6-8-5-3z"/>
<path class="c31" d="M630 941l6 3 6-8-6-3z"/>
<path class="c32" d="M636 944l12 6 6-9-12-5z"/>
<path class="c33" d="M648 950l122 53 6-10-122-52z"/>
<path class="c34" d="M770 1003l13 6 6-10-13-6z"/>
<path class="c33" d="M783 1009l18 8 7-10-19-8z"/>
<path class="c31" d="M801 1017l7 2 6-9-6-3z"/>
<path class="c17" d="M808 1019l13 1 6-5-13-5z"/>
<path class="c14" d="M821 1020l13 5 6-8-13-2z"/>
<path class="c31" d="M834 1025l25 19 6-11-12-10-13-6z"/>
<path class="c30" d="M859 1044l12 10 6-11-12-10z"/>
<path class="c29" d="M871 1054l12 10 6-10-12-11z"/>
<path class="c27" d="M883 1064l13 9 5-9-12-10z"/>
<path class="c26" d="M896 1073l12 9 6-9-13-9z"/>
<path class="cb" d="M516 938l8-21 6-16-7 29z"/>
<path class="c8" d="M524 917l10-4 7-15-11 3z"/>
<path class="c9" d="M534 913l11-4 7-14-11 3z"/>
<path class="c13" d="M545 909l11-3 7-11-11 0z"/>
<path class="c24" d="M556 906l11 0 8-7-12-4z"/>
<path class="c19" d="M567 906l12 6 8-4-12-9z"/>
<path class="c14" d="M579 912l13 9 12 12 7-4-24-21z"/>
<path class="c16" d="M604 933l6 5 7-4-6-5z"/>
<path class="c19" d="M610 938l6 6 8-6-7-4z"/>
<path class="c23" d="M616 944l6 4 8-7-6-3z"/>
<path class="c26" d="M622 948l7 4 7-8-6-3z"/>
<path class="c29" d="M629 952l6 4 7-9-6-3z"/>
<path class="c31" d="M635 956l6 3 7-9-6-3z"/>
<path class="c32" d="M641 959l12 6 7-9-12-6z"/>
<path class="c33" d="M653 965l129 57 7-10-129-56z"/>
<path class="c31" d="M782 1022l7 2 6-10-6-2z"/>
<path class="c23" d="M789 1024l6 1 6-8-6-3z"/>
<path class="c11" d="M795 1025l7-1 6-5-7-2z"/>
<path class="c12" d="M802 1024l13 4 6-8-13-1z"/>
<path class="c31" d="M815 1028l12 8 7-11-13-5z"/>
<path class="c33" d="M827 1036l13 9 6-11-12-9z"/>
<path class="c32" d="M840 1045l12 10 7-11-13-10z"/>
<path class="c31" d="M852 1055l13 10 6-11-12-10z"/>
<path class="c30" d="M865 1065l25 18 6-10-25-19z"/>
<path class="c29" d="M890 1083l12 8 6-9-12-9z"/>
<path class="c0" d="M508 946l9-12 7-17-8 21z"/>
<path class="c7" d="M517 934l21-9 7-16-21 8z"/>
<path class="c8" d="M538 925l11-5 7-14-11 3z"/>
<path class="c14" d="M549 920l11-3 7-11-11 0z"/>
<path class="c27" d="M560 917l12 1 7-6-12-6z"/>
<path class="c19" d="M572 918l12 7 8-4-13-9z"/>
<path class="c14" d="M584 925l25 22 7-3-24-23z"/>
<path class="c16" d="M609 947l6 6 7-5-6-4z"/>
<path class="c19" d="M615 953l6 5 8-6-7-4z"/>
<path class="c23" d="M621 958l6 5 8-7-6-4z"/>
<path class="c26" d="M627 963l7 4 7-8-6-3z"/>
<path class="c29" d="M634 967l6 4 7-9-6-3z"/>
<path class="c31" d="M640 971l6 3 7-9-6-3z"/>
<path class="c32" d="M646 974l12 6 7-9-12-6z"/>
<path class="c33" d="M658 980l105 46 7-10-105-45z"/>
<path class="c31" d="M763 1026l7 3 6-10-6-3z"/>
<path class="c23" d="M770 1029l6 1 6-8-6-3z"/>
<path class="c10" d="M776 1030l7-1 6-5-7-2z"/>
<path class="c7" d="M783 1029l6 0 6-4-6-1z"/>
<path class="c11" d="M789 1029l7 3 6-8-7 1z"/>
<path class="c30" d="M796 1032l12 7 7-11-13-4z"/>
<path class="c35" d="M808 1039l13 9 6-12-12-8z"/>
<path class="c33" d="M821 1048l13 8 6-11-13-9z"/>
<path class="c32" d="M834 1056l12 10 6-11-12-10z"/>
<path class="c31" d="M846 1066l38 27 6-10-38-28z"/>
<path class="c32" d="M884 1093l12 8 6-10-12-8z"/>
<path class="c2" d="M501 955l10-5 6-16-9 12z"/>
<path class="c8" d="M511 950l11-2 6-18-11 4z"/>
<path class="c6" d="M522 948l21-11 6-17-21 10z"/>
<path class="c8" d="M543 937l10-5 7-15-11 3z"/>
<path class="c16" d="M553 932l12-2 7-12-12-1z"/>
<path class="c30" d="M565 930l11 2 8-7-12-7z"/>
<path class="c19" d="M576 932l13 7 7-4-12-10z"/>
<path class="c14" d="M589 939l6 5 8-3-7-6z"/>
<path class="c13" d="M595 944l6 6 8-3-6-6z"/>
<path class="c14" d="M601 950l13 12 7-4-12-11z"/>
<path class="c16" d="M614 962l6 6 7-5-6-5z"/>
<path class="c19" d="M620 968l6 5 8-6-7-4z"/>
<path class="c23" d="M626 973l7 5 7-7-6-4z"/>
<path class="c26" d="M633 978l6 4 7-8-6-3z"/>
<path class="c29" d="M639 982l6 4 7-9-6-3z"/>
<path class="c31" d="M645 986l6 3 7-9-6-3z"/>
<path class="c32" d="M651 989l12 7 7-10-12-6z"/>
<path class="c33" d="M663 996l81 35 7-10-81-35z"/>
<path class="c31" d="M744 1031l6 2 7-9-6-3z"/>
<path class="c22" d="M750 1033l7 1 6-8-6-2z"/>
<path class="c10" d="M757 1034l6-1 7-4-7-3z"/>
<path class="c6" d="M763 1033l7 0 6-3-6-1z"/>
<path class="c8" d="M770 1033l6 3 7-7-7 1z"/>
<path class="c21" d="M776 1036l7 3 6-10-6 0z"/>
<path class="c33" d="M783 1039l6 4 7-11-7-3z"/>
<path class="c35" d="M789 1043l13 7 6-11-12-7z"/>
<path class="c34" d="M802 1050l13 9 6-11-13-9z"/>
<path class="c33" d="M815 1059l12 8 7-11-13-8z"/>
<path class="c32" d="M827 1067l13 10 6-11-12-10z"/>
<path class="c31" d="M840 1077l25 18 6-10-25-19z"/>
<path class="c32" d="M865 1095l26 16 5-10-25-16z"/>
<path class="c8" d="M494 963l10 0 7-13-10 5z"/>
<path class="c13" d="M504 963l11 0 7-15-11 2z"/>
<path class="c7" d="M515 963l11-2 6-18-10 5z"/>
<path class="c5" d="M526 961l10-5 7-19-11 6z"/>
<path class="c6" d="M536 956l11-6 6-18-10 5z"/>
<path class="c9" d="M547 950l11-4 7-16-12 2z"/>
<path class="c18" d="M558 946l11-2 7-12-11-2z"/>
<path class="c31" d="M569 944l12 2 8-7-13-7z"/>
<path class="c21" d="M581 946l6 4 8-6-6-5z"/>
<path class="c16" d="M587 950l7 4 7-4-6-6z"/>
<path class="c14" d="M594 954l6 5 8-3-7-6z"/>
<path class="c13" d="M600 959l6 6 8-3-6-6z"/>
<path class="c14" d="M606 965l13 13 7-5-12-11z"/>
<path class="c16" d="M619 978l6 5 8-5-7-5z"/>
<path class="c19" d="M625 983l7 6 7-7-6-4z"/>
<path class="c23" d="M632 989l6 5 7-8-6-4z"/>
<path class="c26" d="M638 994l6 4 7-9-6-3z"/>
<path class="c29" d="M644 998l6 4 7-9-6-4z"/>
<path class="c31" d="M650 1002l6 3 7-9-6-3z"/>
<path class="c32" d="M656 1005l13 6 7-10-13-5z"/>
<path class="c33" d="M669 1011l43 20 7-10-43-20z"/>
<path class="c32" d="M712 1031l7 2 6-10-6-2z"/>
<path class="c31" d="M719 1033l6 3 7-10-7-3z"/>
<path class="c28" d="M725 1036l6 2 7-9-6-3z"/>
<path class="c20" d="M731 1038l7 0 6-7-6-2z"/>
<path class="c8" d="M738 1038l6-1 6-4-6-2z"/>
<path class="c5" d="M744 1037l6 1 7-4-7-1z"/>
<path class="c7" d="M750 1038l7 2 6-7-6 1z"/>
<path class="c20" d="M757 1040l6 3 7-10-7 0z"/>
<path class="c32" d="M763 1043l7 4 6-11-6-3z"/>
<path class="c35" d="M770 1047l25 15 7-12-26-14z"/>
<path class="c34" d="M795 1062l13 8 7-11-13-9z"/>
<path class="c33" d="M808 1070l13 9 6-12-12-8z"/>
<path class="c32" d="M821 1079l38 27 25 16 7-11-26-16-38-28z"/>
<path class="c20" d="M486 972l11 3 7-12-10 0z"/>
<path class="c22" d="M497 975l11 2 7-14-11 0z"/>
<path class="c13" d="M508 977l11 0 7-16-11 2z"/>
<path class="c7" d="M519 977l11-3 6-18-10 5z"/>
<path class="c5" d="M530 974l10-5 7-19-11 6z"/>
<path class="c6" d="M540 969l11-6 7-17-11 4z"/>
<path class="c9" d="M551 963l11-3 7-16-11 2z"/>
<path class="c20" d="M562 960l12-2 7-12-12-2z"/>
<path class="c32" d="M574 958l6 1 7-9-6-4z"/>
<path class="c29" d="M580 959l6 2 8-7-7-4z"/>
<path class="c21" d="M586 961l6 4 8-6-6-5z"/>
<path class="c16" d="M592 965l7 4 7-4-6-6z"/>
<path class="c14" d="M599 969l6 6 8-4-7-6z"/>
<path class="c13" d="M605 975l6 6 8-3-6-7z"/>
<path class="c14" d="M611 981l13 12 8-4-13-11z"/>
<path class="c16" d="M624 993l6 6 8-5-6-5z"/>
<path class="c19" d="M630 999l7 5 7-6-6-4z"/>
<path class="c23" d="M637 1004l6 5 7-7-6-4z"/>
<path class="c26" d="M643 1009l6 4 7-8-6-3z"/>
<path class="c29" d="M649 1013l6 4 7-9-6-3z"/>
<path class="c31" d="M655 1017l7 4 7-10-7-3z"/>
<path class="c32" d="M662 1021l12 6 7-10-12-6z"/>
<path class="c31" d="M674 1027l19 8 7-10-19-8z"/>
<path class="c30" d="M693 1035l6 3 7-10-6-3z"/>
<path class="c29" d="M699 1038l6 2 7-9-6-3z"/>
<path class="c27" d="M705 1040l7 2 7-9-7-2z"/>
<path class="c18" d="M712 1042l6 1 7-7-6-3z"/>
<path class="c8" d="M718 1043l6-1 7-4-6-2z"/>
<path class="c5" d="M724 1042l7 0 7-4-7 0z"/>
<path class="c7" d="M731 1042l6 2 7-7-6 1z"/>
<path class="c19" d="M737 1044l7 3 6-9-6-1z"/>
<path class="c32" d="M744 1047l6 4 7-11-7-2z"/>
<path class="c35" d="M750 1051l7 3 6-11-6-3z"/>
<path class="c36" d="M757 1054l12 8 7-12-13-7z"/>
<path class="c35" d="M769 1062l32 19 7-11-32-20z"/>
<path class="c34" d="M801 1081l13 9 7-11-13-9z"/>
<path class="c33" d="M814 1090l13 9 6-11-12-9z"/>
<path class="c32" d="M827 1099l38 26 7-11-39-26z"/>
<path class="c33" d="M865 1125l13 7 6-10-12-8z"/>
<path class="c27" d="M479 981l11 4 7-10-11-3z"/>
<path class="c28" d="M490 985l11 3 7-11-11-2z"/>
<path class="c22" d="M501 988l11 2 7-13-11 0z"/>
<path class="c13" d="M512 990l11 1 7-17-11 3z"/>
<path class="c7" d="M523 991l11-3 6-19-10 5z"/>
<path class="c5" d="M534 988l11-5 6-20-11 6z"/>
<path class="c6" d="M545 983l11-6 6-17-11 3z"/>
<path class="c10" d="M556 977l11-3 7-16-12 2z"/>
<path class="c18" d="M567 974l6-1 7-14-6-1z"/>
<path class="c26" d="M573 973l6 0 7-12-6-2z"/>
<path class="c33" d="M579 973l6 1 7-9-6-4z"/>
<path class="c29" d="M585 974l6 3 8-8-7-4z"/>
<path class="c21" d="M591 977l6 3 8-5-6-6z"/>
<path class="c17" d="M597 980l7 5 7-4-6-6z"/>
<path class="c15" d="M604 985l6 6 8-4-7-6z"/>
<path class="c14" d="M610 991l7 6 7-4-6-6z"/>
<path class="c15" d="M617 997l6 7 7-5-6-6z"/>
<path class="c17" d="M623 1004l6 6 8-6-7-5z"/>
<path class="c19" d="M629 1010l7 6 7-7-6-5z"/>
<path class="c23" d="M636 1016l6 6 7-9-6-4z"/>
<path class="c28" d="M642 1022l6 4 7-9-6-4z"/>
<path class="c31" d="M648 1026l7 5 7-10-7-4z"/>
<path class="c33" d="M655 1031l6 3 7-10-6-3z"/>
<path class="c35" d="M661 1034l25 12 7-11-25-11z"/>
<path class="c33" d="M686 1046l6 3 7-11-6-3z"/>
<path class="c25" d="M692 1049l7 0 6-9-6-2z"/>
<path class="c11" d="M699 1049l6-1 7-6-7-2z"/>
<path class="c7" d="M705 1048l6 0 7-5-6-1z"/>
<path class="c8" d="M711 1048l7 2 6-8-6 1z"/>
<path class="c21" d="M718 1050l6 2 7-10-7 0z"/>
<path class="c33" d="M724 1052l6 4 7-12-6-2z"/>
<path class="c36" d="M730 1056l33 17 6-11-32-18z"/>
<path class="c35" d="M763 1073l32 20 6-12-32-19z"/>
<path class="c34" d="M795 1093l13 8 6-11-13-9z"/>
<path class="c33" d="M808 1101l13 9 6-11-13-9z"/>
<path class="c32" d="M821 1110l25 18 7-11-26-18z"/>
<path class="c33" d="M846 1128l26 15 6-11-25-15z"/>
<path class="c29" d="M471 990l11 4 8-9-11-4z"/>
<path class="c30" d="M482 994l12 4 7-10-11-3z"/>
<path class="c28" d="M494 998l11 4 7-12-11-2z"/>
<path class="c22" d="M505 1002l11 2 7-13-11-1z"/>
<path class="c13" d="M516 1004l12 1 6-17-11 3z"/>
<path class="c7" d="M528 1005l10-3 7-19-11 5z"/>
<path class="c5" d="M538 1002l11-5 7-20-11 6z"/>
<path class="c7" d="M549 997l11-5 7-18-11 3z"/>
<path class="c9" d="M560 992l6-2 7-17-6 1z"/>
<path class="c13" d="M566 990l6-1 7-16-6 0z"/>
<path class="c20" d="M572 989l6 0 7-15-6-1z"/>
<path class="c29" d="M578 989l6 1 7-13-6-3z"/>
<path class="c36" d="M584 990l6 1 7-11-6-3z"/>
<path class="c33" d="M590 991l6 4 8-10-7-5z"/>
<path class="c26" d="M596 995l7 5 7-9-6-6z"/>
<path class="c22" d="M603 1000l6 7 8-10-7-6z"/>
<path class="c21" d="M609 1007l7 8 7-11-6-7z"/>
<path class="c22" d="M616 1015l6 8 7-13-6-6z"/>
<path class="c24" d="M622 1023l7 8 7-15-7-6z"/>
<path class="c26" d="M629 1031l6 7 7-16-6-6z"/>
<path class="c27" d="M635 1038l7 6 6-18-6-4z"/>
<path class="c26" d="M642 1044l6 6 7-19-7-5z"/>
<path class="c25" d="M648 1050l6 4 7-20-6-3z"/>
<path class="c23" d="M654 1054l6 4 7-20-6-4z"/>
<path class="c21" d="M660 1058l7 4 6-21-6-3z"/>
<path class="c20" d="M667 1062l6 3 7-21-7-3z"/>
<path class="c19" d="M673 1065l6 1 7-20-6-2z"/>
<path class="c17" d="M679 1066l13-1 7-16-7 0-6-3z"/>
<path class="c15" d="M692 1065l6 1 7-18-6 1z"/>
<path class="c16" d="M698 1066l6 1 7-19-6 0z"/>
<path class="c19" d="M704 1067l7 1 7-18-7-2z"/>
<path class="c24" d="M711 1068l6 0 7-16-6-2z"/>
<path class="c31" d="M717 1068l7 2 6-14-6-4z"/>
<path class="c35" d="M724 1070l6 2 7-13-7-3z"/>
<path class="c37" d="M730 1072l6 2 7-12-6-3z"/>
<path class="c36" d="M736 1074l26 14 7-11-26-15z"/>
<path class="c35" d="M762 1088l26 16 7-11-26-16z"/>
<path class="c34" d="M788 1104l13 9 7-12-13-8z"/>
<path class="c33" d="M801 1113l39 26 26 15 6-11-26-15-38-27z"/>
<path class="c29" d="M469 992l11 4 2-2-11-4z"/>
<path class="c30" d="M480 996l23 9 2-3-23-8z"/>
<path class="c27" d="M503 1005l12 2 1-3-11-2z"/>
<path class="c19" d="M515 1007l11 1 2-3-12-1z"/>
<path class="c10" d="M526 1008l11-1 1-5-10 3z"/>
<path class="c6" d="M537 1007l11-5 1-5-11 5z"/>
<path class="c5" d="M548 1002l11-5 1-5-11 5z"/>
<path class="c7" d="M559 997l5-2 2-5-6 2z"/>
<path class="c9" d="M564 995l6-2 2-4-6 1z"/>
<path class="c13" d="M570 993l6 0 2-4-6 0z"/>
<path class="c20" d="M576 993l6 0 2-3-6-1z"/>
<path class="c30" d="M582 993l6 2 2-4-6-1z"/>
<path class="c37" d="M588 995l6 3 2-3-6-4z"/>
<path class="c31" d="M594 998l7 6 2-4-7-5z"/>
<path class="c24" d="M601 1004l6 7 2-4-6-7z"/>
<path class="c21" d="M607 1011l7 8 2-4-7-8z"/>
<path class="c20" d="M614 1019l13 16 2-4-13-16z"/>
<path class="c21" d="M627 1035l6 7 2-4-6-7z"/>
<path class="c22" d="M633 1042l7 7 2-5-7-6z"/>
<path class="c21" d="M640 1049l6 6 2-5-6-6z"/>
<path class="c20" d="M646 1055l6 5 2-6-6-4z"/>
<path class="c18" d="M652 1060l7 4 1-6-6-4z"/>
<path class="c17" d="M659 1064l6 4 2-6-7-4z"/>
<path class="c16" d="M665 1068l6 2 2-5-6-3z"/>
<path class="c14" d="M671 1070l6 1 2-5-6-1z"/>
<path class="c9" d="M677 1071l7-1 1-5-6 1z"/>
<path class="c12" d="M684 1070l19 3 1-6-12-2-7 0z"/>
<path class="c11" d="M703 1073l6 0 2-5-7-1z"/>
<path class="c12" d="M709 1073l6 0 2-5-6 0z"/>
<path class="c19" d="M715 1073l7 0 2-3-7-2z"/>
<path class="c30" d="M722 1073l6 2 2-3-6-2z"/>
<path class="c35" d="M728 1075l7 3 1-4-6-2z"/>
<path class="c36" d="M735 1078l26 13 1-3-26-14z"/>
<path class="c35" d="M761 1091l26 16 1-3-26-16z"/>
<path class="c34" d="M787 1107l12 9 2-3-13-9z"/>
<path class="c33" d="M799 1116l39 25 26 15 2-2-26-15-39-26z"/>
<path class="c29" d="M467 994l11 5 2-3-11-4z"/>
<path class="c30" d="M478 999l23 8 2-2-23-9z"/>
<path class="c28" d="M501 1007l12 3 2-3-12-2z"/>
<path class="c22" d="M513 1010l11 2 2-4-11-1z"/>
<path class="c12" d="M524 1012l11-1 2-4-11 1z"/>
<path class="c6" d="M535 1011l11-4 2-5-11 5z"/>
<path class="c5" d="M546 1007l11-5 2-5-11 5z"/>
<path class="c6" d="M557 1002l6-3 1-4-5 2z"/>
<path class="c8" d="M563 999l5-1 2-5-6 2z"/>
<path class="c12" d="M568 998l6-1 2-4-6 0z"/>
<path class="c18" d="M574 997l6 0 2-4-6 0z"/>
<path class="c28" d="M580 997l6 2 2-4-6-2z"/>
<path class="c36" d="M586 999l7 3 1-4-6-3z"/>
<path class="c32" d="M593 1002l6 5 2-3-7-6z"/>
<path class="c23" d="M599 1007l7 7 1-3-6-7z"/>
<path class="c20" d="M606 1014l6 8 2-3-7-8z"/>
<path class="c19" d="M612 1022l7 8 2-3-7-8z"/>
<path class="c20" d="M619 1030l6 8 2-3-6-8z"/>
<path class="c22" d="M625 1038l7 8 1-4-6-7z"/>
<path class="c24" d="M632 1046l6 7 2-4-7-7z"/>
<path class="c27" d="M638 1053l6 6 2-4-6-6z"/>
<path class="c28" d="M644 1059l13 10 6 3 6 2 2-4-12-6-13-9z"/>
<path class="c15" d="M669 1074l7 0 1-3-6-1z"/>
<path class="c14" d="M676 1074l6 0 2-4-7 1z"/>
<path class="c19" d="M682 1074l6 2 2-5-6-1z"/>
<path class="c18" d="M688 1076l6 1 2-5-6-1z"/>
<path class="c15" d="M694 1077l7 1 2-5-7-1z"/>
<path class="c11" d="M701 1078l6 0 2-5-6 0z"/>
<path class="c10" d="M707 1078l7-1 1-4-6 0z"/>
<path class="c16" d="M714 1077l6 0 2-4-7 0z"/>
<path class="c27" d="M720 1077l7 1 1-3-6-2z"/>
<path class="c34" d="M727 1078l6 3 2-3-7-3z"/>
<path class="c36" d="M733 1081l26 13 2-3-26-13z"/>
<path class="c35" d="M759 1094l26 16 2-3-26-16z"/>
<path class="c34" d="M785 1110l13 8 1-2-12-9z"/>
<path class="c33" d="M798 1118l39 26 26 15 1-3-26-15-39-25z"/>
<path class="c29" d="M465 996l12 5 1-2-11-5z"/>
<path class="c30" d="M477 1001l23 9 1-3-23-8z"/>
<path class="c29" d="M500 1010l11 3 2-3-12-3z"/>
<path class="c24" d="M511 1013l11 2 2-3-11-2z"/>
<path class="c14" d="M522 1015l12 0 1-4-11 1z"/>
<path class="c7" d="M534 1015l10-3 2-5-11 4z"/>
<path class="c5" d="M544 1012l11-5 2-5-11 5z"/>
<path class="c6" d="M555 1007l6-3 2-5-6 3z"/>
<path class="c8" d="M561 1004l6-2 1-4-5 1z"/>
<path class="c10" d="M567 1002l6-1 1-4-6 1z"/>
<path class="c16" d="M573 1001l5 0 2-4-6 0z"/>
<path class="c26" d="M578 1001l7 1 1-3-6-2z"/>
<path class="c36" d="M585 1002l6 3 2-3-7-3z"/>
<path class="c33" d="M591 1005l6 5 2-3-6-5z"/>
<path class="c22" d="M597 1010l7 6 2-2-7-7z"/>
<path class="c17" d="M604 1016l6 8 2-2-6-8z"/>
<path class="c16" d="M610 1024l7 8 2-2-7-8z"/>
<path class="c15" d="M617 1032l19 22 2-1-19-23z"/>
<path class="c17" d="M636 1054l7 6 1-1-6-6z"/>
<path class="c19" d="M643 1060l6 6 2-2-7-5z"/>
<path class="c22" d="M649 1066l6 5 2-2-6-5z"/>
<path class="c21" d="M655 1071l6 3 2-2-6-3z"/>
<path class="c9" d="M661 1074l7 1 1-1-6-2z"/>
<path class="c4" d="M668 1075l6 0 2-1-7 0z"/>
<path class="c11" d="M674 1075l6 1 2-2-6 0z"/>
<path class="c29" d="M680 1076l6 3 2-3-6-2z"/>
<path class="c31" d="M686 1079l7 2 1-4-6-1z"/>
<path class="c24" d="M693 1081l6 1 2-4-7-1z"/>
<path class="c13" d="M699 1082l6 0 2-4-6 0z"/>
<path class="c8" d="M705 1082l7-1 2-4-7 1z"/>
<path class="c13" d="M712 1081l6-1 2-3-6 0z"/>
<path class="c25" d="M718 1080l7 1 2-3-7-1z"/>
<path class="c33" d="M725 1081l6 3 2-3-6-3z"/>
<path class="c36" d="M731 1084l26 13 2-3-26-13z"/>
<path class="c35" d="M757 1097l26 16 2-3-26-16z"/>
<path class="c34" d="M783 1113l26 17 2-3-26-17z"/>
<path class="c33" d="M809 1130l26 17 26 15 2-3-26-15-26-17z"/>
<path class="c29" d="M463 999l12 4 2-2-12-5z"/>
<path class="c30" d="M475 1003l34 13 2-3-34-12z"/>
<path class="c26" d="M509 1016l12 2 1-3-11-2z"/>
<path class="c17" d="M521 1018l11 1 2-4-12 0z"/>
<path class="c8" d="M532 1019l11-3 1-4-10 3z"/>
<path class="c5" d="M543 1016l16-7 2-5-17 8z"/>
<path class="c7" d="M559 1009l6-2 2-5-6 2z"/>
<path class="c9" d="M565 1007l6-2 2-4-6 1z"/>
<path class="c14" d="M571 1005l6 0 1-4-5 0z"/>
<path class="c24" d="M577 1005l6 1 2-4-7-1z"/>
<path class="c35" d="M583 1006l6 2 2-3-6-3z"/>
<path class="c31" d="M589 1008l6 4 2-2-6-5z"/>
<path class="c18" d="M595 1012l7 5 2-1-7-6z"/>
<path class="c13" d="M602 1017l6 7 2 0-6-8z"/>
<path class="c11" d="M608 1024l7 8 2 0-7-8z"/>
<path class="c9" d="M615 1032l13 14 2 1-13-15z"/>
<path class="c8" d="M628 1046l13 13 2 1-13-13z"/>
<path class="c7" d="M641 1059l6 5 2 2-6-6z"/>
<path class="cb" d="M647 1064l6 5 7 3 12 1 6 3 2 0-6-1-13-1-12-8z"/>
<path class="c6" d="M678 1076l13 5 2 0-13-5z"/>
<path class="c8" d="M691 1081l6 2 2-1-6-1z"/>
<path class="c9" d="M697 1083l7 1 1-2-6 0z"/>
<path class="c6" d="M704 1084l6-1 2-2-7 1z"/>
<path class="c10" d="M710 1083l7 0 1-3-6 1z"/>
<path class="c22" d="M717 1083l6 1 2-3-7-1z"/>
<path class="c32" d="M723 1084l7 3 1-3-6-3z"/>
<path class="c35" d="M730 1087l6 3 2-3-7-3z"/>
<path class="c36" d="M736 1090l20 10 1-3-19-10z"/>
<path class="c35" d="M756 1100l25 16 2-3-26-16z"/>
<path class="c34" d="M781 1116l26 17 2-3-26-17z"/>
<path class="c33" d="M807 1133l26 17 27 15 1-3-26-15-26-17z"/>
<path class="c29" d="M461 1001l12 5 2-3-12-4z"/>
<path class="c30" d="M473 1006l34 13 2-3-34-13z"/>
<path class="c27" d="M507 1019l12 3 2-4-12-2z"/>
<path class="c19" d="M519 1022l11 1 2-4-11-1z"/>
<path class="c10" d="M530 1023l11-2 2-5-11 3z"/>
<path class="c6" d="M541 1021l11-5 2-5-11 5z"/>
<path class="c5" d="M552 1016l6-2 1-5-5 2z"/>
<path class="c6" d="M558 1014l5-3 2-4-6 2z"/>
<path class="c8" d="M563 1011l6-1 2-5-6 2z"/>
<path class="c12" d="M569 1010l6-1 2-4-6 0z"/>
<path class="c20" d="M575 1009l6 0 2-3-6-1z"/>
<path class="c29" d="M581 1009l6 1 2-2-6-2z"/>
<path class="c22" d="M587 1010l6 3 2-1-6-4z"/>
<path class="c11" d="M593 1013l7 4 2 0-7-5z"/>
<path class="c8" d="M600 1017l6 6 2 1-6-7z"/>
<path class="cb" d="M606 1023l33 30 12 10 19 5 26 14 1 1-25-10-12-1-7-3-6-5-13-12-26-28z"/>
<path class="c5" d="M696 1082l6 3 2-1-7-1z"/>
<path class="c4" d="M702 1085l6 0 2-2-6 1z"/>
<path class="c9" d="M708 1085l7 1 2-3-7 0z"/>
<path class="c21" d="M715 1086l6 1 2-3-6-1z"/>
<path class="c31" d="M721 1087l7 2 2-2-7-3z"/>
<path class="c35" d="M728 1089l13 7 2-3-13-6z"/>
<path class="c36" d="M741 1096l13 7 2-3-13-7z"/>
<path class="c35" d="M754 1103l26 16 1-3-25-16z"/>
<path class="c34" d="M780 1119l26 17 1-3-26-17z"/>
<path class="c33" d="M806 1136l26 16 26 15 2-2-27-15-26-17z"/>
<path class="c30" d="M459 1003l46 18 2-2-46-18z"/>
<path class="c28" d="M505 1021l12 4 2-3-12-3z"/>
<path class="c21" d="M517 1025l11 1 2-3-11-1z"/>
<path class="c12" d="M528 1026l12-1 1-4-11 2z"/>
<path class="c6" d="M540 1025l11-4 1-5-11 5z"/>
<path class="c5" d="M551 1021l11-5 1-5-11 5z"/>
<path class="c7" d="M562 1016l5-2 2-4-6 1z"/>
<path class="c9" d="M567 1014l6-2 2-3-6 1z"/>
<path class="c14" d="M573 1012l6 0 2-3-6 0z"/>
<path class="c18" d="M579 1012l6 0 2-2-6-1z"/>
<path class="c10" d="M585 1012l6 1 2 0-6-3z"/>
<path class="c6" d="M591 1013l7 3 2 1-7-4z"/>
<path class="cb" d="M598 1016l19 11 26 21 6 4 13 3 19 12 6 5 13 12 2 1-32-17-19-5-12-10-39-36z"/>
<path class="c5" d="M700 1084l7 2 1-1-6 0z"/>
<path class="c8" d="M707 1086l6 2 2-2-7-1z"/>
<path class="c20" d="M713 1088l7 1 1-2-6-1z"/>
<path class="c30" d="M720 1089l6 3 2-3-7-2z"/>
<path class="c34" d="M726 1092l7 3 1-3-6-3z"/>
<path class="c35" d="M733 1095l45 27 2-3-46-27z"/>
<path class="c34" d="M778 1122l26 17 2-3-26-17z"/>
<path class="c33" d="M804 1139l26 16 27 15 1-3-26-15-26-16z"/>
<path class="c30" d="M457 1006l47 18 1-3-46-18z"/>
<path class="c29" d="M504 1024l11 3 2-2-12-4z"/>
<path class="c24" d="M515 1027l12 2 1-3-11-1z"/>
<path class="c14" d="M527 1029l11 0 2-4-12 1z"/>
<path class="c7" d="M538 1029l11-3 2-5-11 4z"/>
<path class="c5" d="M549 1026l11-5 2-5-11 5z"/>
<path class="c6" d="M560 1021l6-3 1-4-5 2z"/>
<path class="c7" d="M566 1018l5-2 2-4-6 2z"/>
<path class="c8" d="M571 1016l12-3 2-1-12 0z"/>
<path class="c4" d="M583 1013l6 0 2 0-6-1z"/>
<path class="cb" d="M589 1013l12 0 13 3 6 3 20 14 13 4 6 4 20 14 6 6 13 21 2 2-13-12-6-5-19-12-13-3-6-4-26-21-13-8-13-6z"/>
<path class="c6" d="M698 1082l7 5 2-1-7-2z"/>
<path class="c9" d="M705 1087l6 2 2-1-6-2z"/>
<path class="c21" d="M711 1089l7 3 2-3-7-1z"/>
<path class="c30" d="M718 1092l6 3 2-3-6-3z"/>
<path class="c34" d="M724 1095l7 3 2-3-7-3z"/>
<path class="c35" d="M731 1098l45 27 2-3-45-27z"/>
<path class="c34" d="M776 1125l26 16 2-2-26-17z"/>
<path class="c33" d="M802 1141l27 17 26 15 2-3-27-15-26-16z"/>
<path class="c30" d="M455 1008l35 14 23 8 2-3-23-7-35-14z"/>
<path class="c26" d="M513 1030l12 3 2-4-12-2z"/>
<path class="c16" d="M525 1033l11 0 2-4-11 0z"/>
<path class="c8" d="M536 1033l11-2 2-5-11 3z"/>
<path class="c5" d="M547 1031l28-14 2-3-11 4-17 8z"/>
<path class="c2" d="M575 1017l6-3 2-1-6 1z"/>
<path class="cb" d="M581 1014l12-6 2 4-12 1zM593 1008l1-1 6 1 1 5-6-1zM607 1010l1 4-7-1-1-5zM613 1013l1 3-6-2-1-4zM620 1015l0 4-6-3-1-3zM626 1018l1 5-7-4 0-4zM632 1021l1 7-6-5-1-5zM639 1024l1 9-7-5-1-7zM645 1027l1 8-6-2-1-9zM652 1029l1 8-7-2-1-8zM658 1032l1 9-6-4-1-8zM664 1035l2 10-7-4-1-9zM671 1038l1 12-6-5-2-10zM677 1041l2 14-7-5-1-12zM680 1043l3 4 2 14-6-6-2-14zM683 1047l14 32 1 3-13-21z"/>
<path class="c8" d="M697 1079l6 8 2 0-7-5z"/>
<path class="c11" d="M703 1087l7 4 1-2-6-2z"/>
<path class="c23" d="M710 1091l6 3 2-2-7-3z"/>
<path class="c31" d="M716 1094l7 3 1-2-6-3z"/>
<path class="c34" d="M723 1097l6 4 2-3-7-3z"/>
<path class="c35" d="M729 1101l46 27 1-3-45-27z"/>
<path class="c34" d="M775 1128l39 25 2-3-40-25z"/>
<path class="c33" d="M814 1153l39 22 2-2-39-23z"/>
<path class="c30" d="M454 1010l34 14 23 9 2-3-23-8-35-14z"/>
<path class="c27" d="M511 1033l12 3 2-3-12-3z"/>
<path class="c19" d="M523 1036l11 1 2-4-11 0z"/>
<path class="c9" d="M534 1037l12-2 1-4-11 2z"/>
<path class="c6" d="M546 1035l5-2 2-5-6 3z"/>
<path class="c5" d="M551 1033l6-3 1-5-5 3z"/>
<path class="c4" d="M557 1030l11-7 2-4-12 6z"/>
<path class="c2" d="M568 1023l5-4 2-2-5 2z"/>
<path class="c1" d="M573 1019l6-4 2-1-6 3z"/>
<path class="cb" d="M579 1015l6-6 2 2-6 3zM585 1009l1-2 6 0 1 1-6 3z"/>
<path class="c16" d="M594 1007l-1 1-1-1z"/>
<path class="c13" d="M683 1045l0 2-3-4z"/>
<path class="cb" d="M687 1049l1 3 2 11-7-16 0-2zM688 1052l7 23 2 4-7-16z"/>
<path class="c9" d="M695 1075l6 12 2 0-6-8z"/>
<path class="c13" d="M701 1087l7 6 2-2-7-4z"/>
<path class="c24" d="M708 1093l6 4 2-3-6-3z"/>
<path class="c32" d="M714 1097l7 3 2-3-7-3z"/>
<path class="c34" d="M721 1100l6 4 2-3-6-4z"/>
<path class="c35" d="M727 1104l46 27 2-3-46-27z"/>
<path class="c34" d="M773 1131l39 25 2-3-39-25z"/>
<path class="c33" d="M812 1156l40 22 1-3-39-22z"/>
<path class="c30" d="M452 1012l58 24 1-3-23-9-34-14z"/>
<path class="c28" d="M510 1036l11 3 2-3-12-3z"/>
<path class="c21" d="M521 1039l12 1 1-3-11-1z"/>
<path class="c11" d="M533 1040l11-1 2-4-12 2z"/>
<path class="c6" d="M544 1039l5-2 2-4-5 2z"/>
<path class="c4" d="M549 1037l6-3 2-4-6 3z"/>
<path class="c3" d="M555 1034l11-8 2-3-11 7z"/>
<path class="c1" d="M566 1026l5-5 2-2-5 4z"/>
<path class="cb" d="M571 1021l6-6 2 0-6 4zM577 1015l4-6 2-1 2 1-6 6z"/>
<path class="c8" d="M586 1007l-1 2-2-1z"/>
<path class="c14" d="M688 1050l0 2-1-3z"/>
<path class="c10" d="M689 1053l4 18 2 4-7-23 0-2zM693 1071l7 17 1-1-6-12z"/>
<path class="c14" d="M700 1088l6 7 2-2-7-6z"/>
<path class="c26" d="M706 1095l7 4 1-2-6-4z"/>
<path class="c32" d="M713 1099l6 4 2-3-7-3z"/>
<path class="c34" d="M719 1103l7 4 1-3-6-4z"/>
<path class="c35" d="M726 1107l45 27 2-3-46-27z"/>
<path class="c34" d="M771 1134l40 24 1-2-39-25z"/>
<path class="c33" d="M811 1158l39 23 2-3-40-22z"/>
<path class="c30" d="M450 1015l58 23 2-2-58-24z"/>
<path class="c29" d="M508 1038l11 4 2-3-11-3z"/>
<path class="c23" d="M519 1042l12 2 2-4-12-1z"/>
<path class="c13" d="M531 1044l11-1 2-4-11 1z"/>
<path class="c7" d="M542 1043l6-1 1-5-5 2z"/>
<path class="c5" d="M548 1042l5-3 2-5-6 3z"/>
<path class="c3" d="M553 1039l6-4 1-4-5 3z"/>
<path class="c2" d="M559 1035l5-5 2-4-6 5z"/>
<path class="c1" d="M564 1030l6-6 1-3-5 5z"/>
<path class="cb" d="M570 1024l5-8 2-1-6 6zM575 1016l3-6 3-1-4 6z"/>
<path class="c11" d="M689 1057l2 11 2 3-4-18z"/>
<path class="c10" d="M691 1068l7 20 2 0-7-17z"/>
<path class="c14" d="M698 1088l6 9 2-2-6-7z"/>
<path class="c27" d="M704 1097l7 5 2-3-7-4z"/>
<path class="c33" d="M711 1102l6 4 2-3-6-4z"/>
<path class="c35" d="M717 1106l66 39 1-3-65-39z"/>
<path class="c34" d="M783 1145l39 24 2-3-40-24z"/>
<path class="c33" d="M822 1169l27 15 1-3-26-15z"/>
<path class="c30" d="M448 1017l58 24 2-3-58-23z"/>
<path class="c29" d="M506 1041l12 4 1-3-11-4z"/>
<path class="c25" d="M518 1045l11 2 2-3-12-2z"/>
<path class="c15" d="M529 1047l11 0 2-4-11 1z"/>
<path class="c8" d="M540 1047l6-1 2-4-6 1z"/>
<path class="c5" d="M546 1046l6-3 1-4-5 3z"/>
<path class="c3" d="M552 1043l5-4 2-4-6 4z"/>
<path class="c2" d="M557 1039l5-5 2-4-5 5z"/>
<path class="c1" d="M562 1034l6-7 2-3-6 6z"/>
<path class="cb" d="M568 1027l5-10 2-1-5 8z"/>
<path class="c1" d="M573 1017l2-5 3-2-3 6z"/>
<path class="c11" d="M688 1060l1 5 2 3-2-11z"/>
<path class="c10" d="M689 1065l7 24 2-1-7-20z"/>
<path class="c14" d="M696 1089l7 10 1-2-6-9z"/>
<path class="c27" d="M703 1099l6 5 2-2-7-5z"/>
<path class="c33" d="M709 1104l7 5 1-3-6-4z"/>
<path class="c35" d="M716 1109l65 39 2-3-66-39z"/>
<path class="c34" d="M781 1148l39 24 2-3-39-24z"/>
<path class="c33" d="M820 1172l27 15 2-3-27-15z"/>
<path class="c30" d="M446 1019l46 20 24 8 2-2-24-9-46-19z"/>
<path class="c26" d="M516 1047l11 3 2-3-11-2z"/>
<path class="c17" d="M527 1050l12 1 1-4-11 0z"/>
<path class="c9" d="M539 1051l5-1 2-4-6 1z"/>
<path class="c5" d="M544 1050l6-3 2-4-6 3z"/>
<path class="c3" d="M550 1047l5-3 2-5-5 4z"/>
<path class="c2" d="M555 1044l6-6 1-4-5 5z"/>
<path class="c1" d="M561 1038l5-8 2-3-6 7z"/>
<path class="cb" d="M566 1030l5-10 2-3-5 10z"/>
<path class="c2" d="M571 1020l2-5 2-3-2 5z"/>
<path class="c11" d="M687 1062l0 2 2 1-1-5z"/>
<path class="c10" d="M687 1064l7 27 2-2-7-24z"/>
<path class="c13" d="M694 1091l7 11 2-3-7-10z"/>
<path class="c26" d="M701 1102l6 5 2-3-6-5z"/>
<path class="c33" d="M707 1107l7 4 2-2-7-5z"/>
<path class="c35" d="M714 1111l65 40 2-3-65-39z"/>
<path class="c34" d="M779 1151l40 24 1-3-39-24z"/>
<path class="c33" d="M819 1175l26 14 2-2-27-15z"/>
<path class="c30" d="M444 1021l46 20 24 9 2-3-24-8-46-20z"/>
<path class="c27" d="M514 1050l11 3 2-3-11-3z"/>
<path class="c19" d="M525 1053l12 1 2-3-12-1z"/>
<path class="c10" d="M537 1054l6 0 1-4-5 1z"/>
<path class="c6" d="M543 1054l5-2 2-5-6 3z"/>
<path class="c3" d="M548 1052l6-4 1-4-5 3z"/>
<path class="c1" d="M554 1048l5-5 5-9 2-4-5 8-6 6z"/>
<path class="cb" d="M564 1034l5-11 2-3-5 10z"/>
<path class="c2" d="M569 1023l2-6 2-2-2 5z"/>
<path class="c21" d="M687 1064l0-2z"/>
<path class="c10" d="M686 1065l6 28 2-2-7-27z"/>
<path class="c13" d="M692 1093l7 11 2-2-7-11z"/>
<path class="c26" d="M699 1104l6 6 2-3-6-5z"/>
<path class="c33" d="M705 1110l7 4 2-3-7-4z"/>
<path class="c35" d="M712 1114l66 40 1-3-65-40z"/>
<path class="c34" d="M778 1154l39 24 2-3-40-24z"/>
<path class="c33" d="M817 1178l27 14 1-3-26-14z"/>
<path class="c30" d="M442 1024l70 29 2-3-24-9-46-20z"/>
<path class="c28" d="M512 1053l12 3 1-3-11-3z"/>
<path class="c21" d="M524 1056l11 2 2-4-12-1z"/>
<path class="c12" d="M535 1058l6-1 2-3-6 0z"/>
<path class="c7" d="M541 1057l5-1 2-4-5 2z"/>
<path class="c3" d="M546 1056l6-4 2-4-6 4z"/>
<path class="c2" d="M552 1052l5-5 2-4-5 5z"/>
<path class="c1" d="M557 1047l5-8 2-5-5 9z"/>
<path class="cb" d="M562 1039l5-12 2-4-5 11z"/>
<path class="c1" d="M567 1027l2-7 2-3-2 6z"/>
<path class="c10" d="M685 1068l6 27 1-2-6-28z"/>
<path class="c13" d="M691 1095l6 12 2-3-7-11z"/>
<path class="c25" d="M697 1107l7 6 1-3-6-6z"/>
<path class="c33" d="M704 1113l6 4 2-3-7-4z"/>
<path class="c34" d="M710 1117l7 4 2-3-7-4z"/>
<path class="c35" d="M717 1121l59 36 2-3-59-36z"/>
<path class="c34" d="M776 1157l39 24 2-3-39-24z"/>
<path class="c33" d="M815 1181l27 14 2-3-27-14z"/>
<path class="c30" d="M440 1026l70 29 2-2-70-29z"/>
<path class="c29" d="M510 1055l12 4 2-3-12-3z"/>
<path class="c23" d="M522 1059l11 2 2-3-11-2z"/>
<path class="c13" d="M533 1061l6 0 2-4-6 1z"/>
<path class="c8" d="M539 1061l6-1 1-4-5 1z"/>
<path class="c4" d="M545 1060l5-3 2-5-6 4z"/>
<path class="c2" d="M550 1057l6-5 1-5-5 5z"/>
<path class="c1" d="M556 1052l5-9 1-4-5 8z"/>
<path class="c0" d="M561 1043l4-12 2-4-5 12z"/>
<path class="c1" d="M565 1031l3-9 1-2-2 7z"/>
<path class="c10" d="M683 1071l6 26 2-2-6-27z"/>
<path class="c13" d="M689 1097l6 12 2-2-6-12z"/>
<path class="c24" d="M695 1109l7 7 2-3-7-6z"/>
<path class="c32" d="M702 1116l6 4 2-3-6-4z"/>
<path class="c34" d="M708 1120l7 4 2-3-7-4z"/>
<path class="c35" d="M715 1124l59 36 2-3-59-36z"/>
<path class="c34" d="M774 1160l40 24 1-3-39-24z"/>
<path class="c33" d="M814 1184l13 7 2-3-14-7z"/>
<path class="c32" d="M827 1191l14 7 1-3-13-7z"/>
<path class="c30" d="M436 1031l70 29 4-5-70-29z"/>
<path class="c29" d="M506 1060l12 5 4-6-12-4z"/>
<path class="c25" d="M518 1065l12 2 3-6-11-2z"/>
<path class="c16" d="M530 1067l5 1 4-7-6 0z"/>
<path class="c9" d="M535 1068l6-1 4-7-6 1z"/>
<path class="c5" d="M541 1067l6-2 3-8-5 3z"/>
<path class="c2" d="M547 1065l5-5 4-8-6 5z"/>
<path class="c1" d="M552 1060l5-7 4-10-5 9z"/>
<path class="c0" d="M557 1053l5-12 3-10-4 12zM562 1041l3-13 3-6-3 9z"/>
<path class="c10" d="M680 1076l5 25 4-4-6-26z"/>
<path class="c13" d="M685 1101l7 13 3-5-6-12z"/>
<path class="c23" d="M692 1114l6 7 4-5-7-7z"/>
<path class="c31" d="M698 1121l7 5 3-6-6-4z"/>
<path class="c34" d="M705 1126l6 4 4-6-7-4z"/>
<path class="c35" d="M711 1130l60 35 3-5-59-36z"/>
<path class="c34" d="M771 1165l39 24 4-5-40-24z"/>
<path class="c33" d="M810 1189l14 8 3-6-13-7z"/>
<path class="c32" d="M824 1197l13 6 4-5-14-7z"/>
<path class="c30" d="M432 1035l70 30 4-5-70-29z"/>
<path class="c29" d="M502 1065l12 5 4-5-12-5z"/>
<path class="c26" d="M514 1070l12 3 4-6-12-2z"/>
<path class="c19" d="M526 1073l6 1 3-6-5-1z"/>
<path class="c12" d="M532 1074l6 0 3-7-6 1z"/>
<path class="c6" d="M538 1074l5-2 4-7-6 2z"/>
<path class="c2" d="M543 1072l6-4 3-8-5 5z"/>
<path class="c1" d="M549 1068l5-6 3-9-5 7z"/>
<path class="c0" d="M554 1062l4-12 4-9-5 12z"/>
<path class="cb" d="M558 1050l5-16 2-6-3 13z"/>
<path class="c10" d="M676 1082l5 24 4-5-5-25z"/>
<path class="c12" d="M681 1106l7 13 4-5-7-13z"/>
<path class="c21" d="M688 1119l7 7 3-5-6-7z"/>
<path class="c29" d="M695 1126l6 5 4-5-7-5z"/>
<path class="c33" d="M701 1131l7 5 3-6-6-4z"/>
<path class="c34" d="M708 1136l6 4 4-6-7-4z"/>
<path class="c35" d="M714 1140l53 31 4-6-53-31z"/>
<path class="c34" d="M767 1171l40 24 3-6-39-24z"/>
<path class="c33" d="M807 1195l14 7 3-5-14-8z"/>
<path class="c32" d="M821 1202l13 7 3-6-13-6z"/>
<path class="c30" d="M428 1040l70 30 4-5-70-30z"/>
<path class="c29" d="M498 1070l12 5 4-5-12-5z"/>
<path class="c27" d="M510 1075l12 4 4-6-12-3z"/>
<path class="c22" d="M522 1079l6 1 4-6-6-1z"/>
<path class="c15" d="M528 1080l6 0 4-6-6 0z"/>
<path class="c7" d="M534 1080l6-1 3-7-5 2z"/>
<path class="c3" d="M540 1079l5-3 4-8-6 4z"/>
<path class="c1" d="M545 1076l5-6 4-8-5 6z"/>
<path class="c0" d="M550 1070l5-11 3-9-4 12z"/>
<path class="cb" d="M555 1059l4-16 3-9 1 0-5 16z"/>
<path class="c20" d="M559 1043l1-4 2-5z"/>
<path class="c10" d="M673 1087l5 23 3-4-5-24z"/>
<path class="c12" d="M678 1110l6 14 4-5-7-13z"/>
<path class="c19" d="M684 1124l7 7 4-5-7-7z"/>
<path class="c27" d="M691 1131l7 5 3-5-6-5z"/>
<path class="c31" d="M698 1136l6 5 4-5-7-5z"/>
<path class="c33" d="M704 1141l7 4 3-5-6-4z"/>
<path class="c34" d="M711 1145l13 9 4-6-14-8z"/>
<path class="c35" d="M724 1154l40 23 3-6-39-23z"/>
<path class="c34" d="M764 1177l40 24 3-6-40-24z"/>
<path class="c33" d="M804 1201l13 7 4-6-14-7z"/>
<path class="c32" d="M817 1208l14 7 3-6-13-7z"/>
<path class="c30" d="M424 1045l71 30 3-5-70-30z"/>
<path class="c29" d="M495 1075l11 5 4-5-12-5z"/>
<path class="c28" d="M506 1080l12 4 4-5-12-4z"/>
<path class="c23" d="M518 1084l6 2 4-6-6-1z"/>
<path class="c17" d="M524 1086l6 0 4-6-6 0z"/>
<path class="c9" d="M530 1086l6 0 4-7-6 1z"/>
<path class="c3" d="M536 1086l5-3 4-7-5 3z"/>
<path class="c1" d="M541 1083l6-5 3-8-5 6z"/>
<path class="c0" d="M547 1078l4-10 4-9-5 11z"/>
<path class="cb" d="M551 1068l5-16 3-9-4 16z"/>
<path class="c3" d="M556 1052l1-7 3-6-1 4z"/>
<path class="c11" d="M670 1093l4 20 4-3-5-23z"/>
<path class="c12" d="M674 1113l7 15 3-4-6-14z"/>
<path class="c17" d="M681 1128l6 8 4-5-7-7z"/>
<path class="c24" d="M687 1136l7 6 4-6-7-5z"/>
<path class="c28" d="M694 1142l7 4 3-5-6-5z"/>
<path class="c31" d="M701 1146l6 5 4-6-7-4z"/>
<path class="c33" d="M707 1151l7 4 3-6-6-4z"/>
<path class="c34" d="M714 1155l7 4 3-5-7-5z"/>
<path class="c35" d="M721 1159l53 32 3-5-53-32z"/>
<path class="c34" d="M774 1191l26 16 4-6-27-15z"/>
<path class="c33" d="M800 1207l14 7 3-6-13-7z"/>
<path class="c32" d="M814 1214l13 6 4-5-14-7z"/>
<path class="m" d="M424 1045l91-107M578 888l49-72 21-28M447 1055l41-50 11-13 7-12 6-11 6-11 20-54 7-14 6-8M554 881l3 2 2 3M601 897l47-71 21-30M471 1065l31-39 9-13 7-12 10-23 19-54 7-14 6-11 7-8 4-2 4-2 3 0 3 1 3 3 2 3M626 905l44-70 20-30M495 1075l22-29 7-11 5-11 9-21 19-56 7-16 7-11 4-5 6-4 16-6 11-5 3 0 1 1 4 6M654 907l37-62 20-32M518 1084l13-19 10-20 7-16 18-53 8-17 6-11 5-6 5-3 4-3 13-4 7-5 7-6 15-17 2 0 1 0 3 3M682 909l31-55 20-32M541 1083l8-16 8-20M559 1041l5-12 20-41 8-13 4-3 4-4 18-7 9-7 10-12 22-29 5-5M669 909l1 1M707 915l29-54 19-31M593 1008l4 7 3 2 2 0M607 1011l5-8 3-4 17-11 11-10 13-18 31-43 4-5 3-2M695 911l2 3M741 918l9-19 18-42 9-18M620 1019l5 21 3 5 2 2M640 1025l3-5 11-12 11-14 51-75 4-4 2-1 2 1 1 3M771 924l8-12 5-11 14-50M645 1029l6 33 3 8 1 1 1-1M668 1037l72-108 8-10M752 920l1 3M815 909l2-4M671 1039l5 30 2 5 1 2 1 0M689 1055l6-12 11-15 64-98 4-5 2-1 2 1 1 3M687 1064l1 1 3 3 5 10M701 1084l1 1 2-1 2-3 9-25 5-10 3-3 6-4 6-7 60-92 7-11M807 928l1 4M694 1142l10-15 24-38 29-49 4-5 6-3 4-5 50-78 8-12 4-4M835 934l1 4M859 949l24-39M885 906l1-1M721 1159l76-129 3-4 5-4 4-5 38-60 5-6 4-2 3 0 2 1 3 5M868 959l1 0M870 957l5-7 37-63M747 1175l89-153 3-4 4-3 2-3 15-23 5-7 4-3 10-3 5-5 16-23 36-57M774 1191l98-171 4-5 5-2 10-8 6-7 63-99M800 1207l88-151 6-10 12-14 6-7 72-118M827 1220l74-126 26-42 80-136M424 1045l79 34 16 5 11 2 4 0 5-2 4-3 4-4 5-11 5-19M670 1096l4 18 5 11 6 8 10 9 22 15 59 36 26 15 25 12M440 1026l60 25 14 6 11 3 10 1 8-1 7-3 6-6M562 1040l5-16M684 1076l3 15 3 10 6 8 6 6 10 7 92 56 37 20M455 1008l48 19 13 4 11 2 10 0 9-2 7-3 17-9M578 1015l16-7M681 1044l7 13M699 1083l3 4 5 3 20 10 25 14 72 45 29 16M471 990l33 12 11 2 9 1 7-1 7-2 19-9 8-3 9-1 9 0 8 3 7 4 7 7 10 11M691 1065l14 2 18 2 8 3 9 4 38 22 61 40 27 16M486 972l21 5 13 0 11-3 20-10 10-4 7-1 6-1 6 1 5 2 7 3 7 5 35 33 10 8 12 7 21 11 31 13 9 2 9-1 4 0 5 1 7 3 27 16 23 13 62 42 24 15M501 955l5-5 8 0 8-2 22-12 11-4 12-2 5 1 5 1 6 3 7 5 34 32 10 7 12 8 31 15 69 30 9 2 10-1 4 0 10 4 15 9 18 11 54 39 25 15M523 918l19-8 13-4 9-1 9 3 5 3 7 5 24 22 11 8 13 9 14 8 28 12 108 47 10 3 14 0 7 2 19 13 48 37 21 14M535 889l11-3 8-1 7 1 7 1 12 8 32 24 12 7 14 7 136 59 50 22 7 2 11 1 5 2 11 8 42 36 14 10M590 895l9 2 12 3 39 15 130 54 51 23 33 18 14 6 5 4 14 17 8 7 9 6 11 6M666 911l8-2 10 0 10 2 14 4 25 9 55 23 12 5 15 8 25 11 14 7 11 8 8 7 17 19 11 9 12 7 23 10M757 923l9 0 14 1 17 4 13 5 16 8 18 8 7 4 7 6 22 26 11 10 14 8 42 16M586 877l52 27M842 938l5 1 6 4 20 21 5 4 6 4 16 7 57 22M599 858l96 49 15 9M871 958l7-2 6 0 7 0 7 2 17 6 53 19M611 840l94 44 13 7 7 5 5 5 6 7 5 10M862 951l8-5 10-4 11-1 11 0 11 2 13 4 52 19M623 822l98 43 16 8 6 5 5 6 12 22 4 6 4 4 16 10M863 943l8-10 7-6 5-2 6-2 13-1 12 2 15 4 59 21M636 804l104 44 10 4 7 5 6 4 5 6 13 22 16 19 5 10M874 925l7-10 7-7 9-3 11-1 13 2 14 4 63 22M648 788l127 50 11 5 8 4 4 4 4 4 6 10 5 17 4 21M885 905l7-10 7-5 8-3 10 0 11 2 15 4 64 23"/>
<path class="r" d="M508 968l9-20 16-42 8-16M510 975l8-18 16-42 9-20M512 983l9-20 15-41 9-21M514 990l9-20 16-43 8-21M516 998l10-22 15-43 9-21M519 1005l10-22 14-43 9-21M521 1013l10-23 23-65M523 1020l11-23 23-65M525 1028l11-23 23-66M528 1036l10-24 23-66M530 1043l11-23 23-66M532 1051l11-23 23-67M535 1059l11-25 23-65M537 1066l12-27 23-62M539 1072l12-25 23-61M541 1078l8-17 28-67M543 1081l13-29M563 1034l1-3M575 1013l4-10M549 1074l17-43M568 1027l7-9M577 1016l2-2M841 936l1 3M860 951l29-51M842 939l2-1M848 938l1 5M863 953l31-55M846 945l3-3 3 0 2 2 2 5M866 956l31-56M849 953l4-4 4-1 3 2 4 5M869 958l32-54M852 960l7-5 13 2 4-1 29-48M855 968l6-5 11-1 10-7 26-42M859 977l5-6 11-2 4-4 13-14 20-32M862 985l6-6 10-3 4-4 17-22 16-26M865 994l6-6 10-5 5-4 33-49M868 1003l6-7 11-6 4-4 33-50M872 1011l6-6 10-7 4-5 34-51M876 1016l13-9 6-6 34-53M879 1025l4-5 8-4 7-7 35-54M882 1036l6-9 9-6 5-6 34-54M885 1046l7-9 14-15 34-54M888 1057l7-10 16-19 32-53M892 1067l22-32 33-53M895 1076l23-34 32-53"/>
</g>
<text x="139.2" y="378.4" class="tl">0</text>
<text x="178.1" y="395.8" class="tl">1</text>
<text x="219.0" y="414.2" class="tl">2</text>
<text x="262.0" y="433.4" class="tl">3</text>
<text x="280.2" y="431.2" class="tl">0</text>
<text x="300.5" y="395.7" class="tl">1</text>
<text x="318.9" y="363.7" class="tl">2</text>
<text x="335.7" y="334.6" class="tl">3</text>
<text x="348.9" y="280.1" class="tz">0.10</text>
<text x="346.7" y="290.3" class="tz">0.05</text>
<text x="344.6" y="300.1" class="tz">0.00</text>
<text x="342.6" y="309.5" class="tz">−0.05</text>
<text x="340.6" y="318.6" class="tz">−0.10</text>
<path class="bx" d="M382.6 368.1L516.9 428.3M516.9 428.3L576.9 323.8M576.9 323.8L457.2 278.7M457.2 278.7L382.6 368.1M374.1 328.5L521.1 391.2M521.1 391.2L585.5 283.7M585.5 283.7L455.8 238.0M455.8 238.0L374.1 328.5M382.6 368.1L374.1 328.5M516.9 428.3L521.1 391.2M576.9 323.8L585.5 283.7M457.2 278.7L455.8 238.0"/>
<path class="tk" d="M385.0 369.2L390.0 363.3M392.7 372.6L395.5 369.1M400.4 376.1L403.2 372.5M408.2 379.6L411.0 376.0M416.1 383.1L418.8 379.5M424.0 386.7L428.7 380.4M432.0 390.3L434.7 386.6M440.1 393.9L442.8 390.2M448.3 397.6L451.0 393.8M456.6 401.3L459.2 397.5M464.9 405.0L469.3 398.4M473.3 408.8L475.9 404.9M481.8 412.6L484.3 408.7M490.4 416.5L492.9 412.5M499.1 420.4L501.5 416.3M507.8 424.3L511.9 417.4M518.2 426.0L509.9 422.3M522.5 418.6L517.7 416.5M526.6 411.4L521.8 409.3M530.7 404.3L525.9 402.2M534.7 397.4L530.0 395.4M538.6 390.6L530.6 387.2M542.4 383.9L537.8 382.0M546.1 377.4L541.5 375.5M549.8 371.0L545.2 369.1M553.4 364.7L548.9 362.9M557.0 358.5L549.3 355.4M560.4 352.5L556.0 350.7M563.8 346.5L559.4 344.8M567.2 340.7L562.8 339.0M570.5 335.0L566.1 333.3M573.7 329.4L566.3 326.6M577.1 323.1L570.9 320.7M577.4 321.3L573.7 319.9M577.8 319.5L574.1 318.1M578.2 317.6L574.5 316.3M578.6 315.8L574.9 314.4M579.0 314.0L572.7 311.7M579.4 312.1L575.6 310.7M579.8 310.3L576.0 308.9M580.2 308.4L576.4 307.0M580.6 306.5L576.8 305.1M581.0 304.6L574.6 302.2M581.4 302.6L577.6 301.2M581.8 300.7L578.0 299.3M582.3 298.7L578.4 297.3M582.7 296.7L578.8 295.3M583.1 294.8L576.6 292.4M583.5 292.8L579.6 291.3M584.0 290.7L580.0 289.3M584.4 288.7L580.4 287.3M584.9 286.6L580.9 285.2M585.3 284.6L578.6 282.2"/>
<g transform="scale(0.333333)">
<path class="c28" d="M1369 787l21 6 3-4-21-6z"/>
<path class="c27" d="M1390 793l11 3 3-4-11-3z"/>
<path class="c25" d="M1401 796l11 2 3-4-11-2z"/>
<path class="c24" d="M1412 798l11 1 3-4-11-1z"/>
<path class="c23" d="M1423 799l21 3 3-4-21-3z"/>
<path class="c24" d="M1444 802l11 1 3-4-11-1z"/>
<path class="c26" d="M1455 803l6 1 3-4-6-1z"/>
<path class="c27" d="M1461 804l5 1 3-4-5-1z"/>
<path class="c28" d="M1466 805l6 2 3-5-6-1z"/>
<path class="c29" d="M1472 807l5 1 3-4-5-2z"/>
<path class="c30" d="M1477 808l12 3 3-5-12-2z"/>
<path class="c31" d="M1489 811l11 3 3-5-11-3z"/>
<path class="c32" d="M1500 814l6 2 2-5-5-2z"/>
<path class="c33" d="M1506 816l11 3 3-5-12-3z"/>
<path class="c34" d="M1517 819l5 2 3-5-5-2z"/>
<path class="c35" d="M1522 821l29 10 3-5-29-10z"/>
<path class="c36" d="M1551 831l52 21 3-5-23-10-29-11z"/>
<path class="c35" d="M1603 852l23 10 3-4-23-11z"/>
<path class="c34" d="M1626 862l23 13 3-5-23-12z"/>
<path class="c33" d="M1649 875l23 14 2-5-22-14z"/>
<path class="c32" d="M1672 889l23 13 23 12 3-5-24-11-23-14z"/>
<path class="c31" d="M1718 914l12 5 3-4-12-6z"/>
<path class="c28" d="M1366 790l21 7 3-4-21-6z"/>
<path class="c27" d="M1387 797l11 2 3-3-11-3z"/>
<path class="c25" d="M1398 799l11 2 3-3-11-2z"/>
<path class="c24" d="M1409 801l11 2 3-4-11-1z"/>
<path class="c23" d="M1420 803l21 3 3-4-21-3z"/>
<path class="c24" d="M1441 806l11 1 3-4-11-1z"/>
<path class="c26" d="M1452 807l6 1 3-4-6-1z"/>
<path class="c27" d="M1458 808l5 2 3-5-5-1z"/>
<path class="c28" d="M1463 810l6 1 3-4-6-2z"/>
<path class="c29" d="M1469 811l6 1 2-4-5-1z"/>
<path class="c30" d="M1475 812l5 2 3-5-6-1z"/>
<path class="c31" d="M1480 814l6 1 3-4-6-2z"/>
<path class="c32" d="M1486 815l11 4 3-5-11-3z"/>
<path class="c33" d="M1497 819l6 1 3-4-6-2z"/>
<path class="c34" d="M1503 820l11 4 3-5-11-3z"/>
<path class="c35" d="M1514 824l34 13 3-6-34-12z"/>
<path class="c36" d="M1548 837l52 19 3-4-52-21z"/>
<path class="c35" d="M1600 856l29 14 3-5-29-13z"/>
<path class="c34" d="M1629 870l17 9 3-4-17-10z"/>
<path class="c33" d="M1646 879l35 21 2-4-34-21z"/>
<path class="c32" d="M1681 900l35 18 2-4-35-18z"/>
<path class="c31" d="M1716 918l12 5 2-4-12-5z"/>
<path class="c29" d="M1363 794l11 3 3-3-11-4z"/>
<path class="c28" d="M1374 797l10 3 3-3-10-3z"/>
<path class="c27" d="M1384 800l11 3 3-4-11-2z"/>
<path class="c25" d="M1395 803l11 2 3-4-11-2z"/>
<path class="c24" d="M1406 805l11 2 3-4-11-2z"/>
<path class="c23" d="M1417 807l21 3 3-4-21-3z"/>
<path class="c25" d="M1438 810l11 2 3-5-11-1z"/>
<path class="c26" d="M1449 812l6 1 3-5-6-1z"/>
<path class="c27" d="M1455 813l5 1 3-4-5-2z"/>
<path class="c28" d="M1460 814l6 1 3-4-6-1z"/>
<path class="c29" d="M1466 815l6 1 3-4-6-1z"/>
<path class="c30" d="M1472 816l5 2 3-4-5-2z"/>
<path class="c31" d="M1477 818l6 2 3-5-6-1z"/>
<path class="c32" d="M1483 820l5 1 3-4-5-2z"/>
<path class="c33" d="M1488 821l6 2 3-4-6-2z"/>
<path class="c34" d="M1494 823l6 2 3-5-6-1z"/>
<path class="c35" d="M1500 825l74 28 3-6-74-27z"/>
<path class="c36" d="M1574 853l17 6 3-5-17-7z"/>
<path class="c35" d="M1591 859l18 7 23 11 3-4-18-9-23-10z"/>
<path class="c34" d="M1632 877l23 13 3-4-23-13z"/>
<path class="c33" d="M1655 890l23 14 3-4-23-14z"/>
<path class="c32" d="M1678 904l35 18 3-4-35-18z"/>
<path class="c31" d="M1713 922l12 5 3-4-12-5z"/>
<path class="c29" d="M1360 797l11 4 3-4-11-3z"/>
<path class="c28" d="M1371 801l10 3 3-4-10-3z"/>
<path class="c27" d="M1381 804l11 3 3-4-11-3z"/>
<path class="c26" d="M1392 807l11 2 3-4-11-2z"/>
<path class="c24" d="M1403 809l32 5 3-4-32-5z"/>
<path class="c25" d="M1435 814l11 2 3-4-11-2z"/>
<path class="c27" d="M1446 816l6 1 3-4-6-1z"/>
<path class="c28" d="M1452 817l6 1 2-4-5-1z"/>
<path class="c29" d="M1458 818l5 1 3-4-6-1z"/>
<path class="c30" d="M1463 819l6 2 3-5-6-1z"/>
<path class="c31" d="M1469 821l5 1 3-4-5-2z"/>
<path class="c32" d="M1474 822l6 2 3-4-6-2z"/>
<path class="c33" d="M1480 824l6 2 2-5-5-1z"/>
<path class="c34" d="M1486 826l5 2 3-5-6-2z"/>
<path class="c36" d="M1491 828l23 9 3-5-23-9z"/>
<path class="c35" d="M1514 837l51 20 35 11 29 14 3-5-29-13-86-32z"/>
<path class="c34" d="M1629 882l23 13 3-5-23-13z"/>
<path class="c33" d="M1652 895l35 20 3-5-35-20z"/>
<path class="c32" d="M1687 915l24 11 2-4-23-12z"/>
<path class="c31" d="M1711 926l12 5 2-4-12-5z"/>
<path class="c29" d="M1357 801l11 3 3-3-11-4z"/>
<path class="c28" d="M1368 804l10 4 3-4-10-3z"/>
<path class="c27" d="M1378 808l11 2 3-3-11-3z"/>
<path class="c26" d="M1389 810l11 3 3-4-11-2z"/>
<path class="c25" d="M1400 813l11 2 3-4-11-2z"/>
<path class="c24" d="M1411 815l21 3 3-4-21-3z"/>
<path class="c25" d="M1432 818l11 2 3-4-11-2z"/>
<path class="c27" d="M1443 820l6 1 3-4-6-1z"/>
<path class="c28" d="M1449 821l6 1 3-4-6-1z"/>
<path class="c29" d="M1455 822l5 2 3-5-5-1z"/>
<path class="c30" d="M1460 824l6 1 3-4-6-2z"/>
<path class="c31" d="M1466 825l5 2 3-5-5-1z"/>
<path class="c32" d="M1471 827l6 2 3-5-6-2z"/>
<path class="c34" d="M1477 829l6 2 3-5-6-2z"/>
<path class="c35" d="M1483 831l5 2 3-5-5-2z"/>
<path class="c36" d="M1488 833l6 3 3-6-6-2z"/>
<path class="c37" d="M1494 836l11 5 3-6-11-5z"/>
<path class="c36" d="M1505 841l11 4 3-5-11-5z"/>
<path class="c35" d="M1516 845l46 18 3-6-46-17z"/>
<path class="c34" d="M1562 863l12 4 3-6-12-4z"/>
<path class="c33" d="M1574 867l18 4 2-5-17-5z"/>
<path class="c34" d="M1592 871l5 2 3-5-6-2z"/>
<path class="c35" d="M1597 873l30 13 2-4-29-14z"/>
<path class="c34" d="M1627 886l23 13 2-4-23-13z"/>
<path class="c33" d="M1650 899l35 20 2-4-35-20z"/>
<path class="c32" d="M1685 919l23 11 3-4-24-11z"/>
<path class="c31" d="M1708 930l12 5 3-4-12-5z"/>
<path class="c29" d="M1354 805l11 3 3-4-11-3z"/>
<path class="c28" d="M1365 808l10 3 3-3-10-4z"/>
<path class="c27" d="M1375 811l11 3 3-4-11-2z"/>
<path class="c26" d="M1386 814l11 3 3-4-11-3z"/>
<path class="c25" d="M1397 817l11 2 3-4-11-2z"/>
<path class="c24" d="M1408 819l21 3 3-4-21-3z"/>
<path class="c26" d="M1429 822l11 2 3-4-11-2z"/>
<path class="c27" d="M1440 824l6 1 3-4-6-1z"/>
<path class="c28" d="M1446 825l6 1 3-4-6-1z"/>
<path class="c29" d="M1452 826l5 2 3-4-5-2z"/>
<path class="c30" d="M1457 828l6 1 3-4-6-1z"/>
<path class="c31" d="M1463 829l5 2 3-4-5-2z"/>
<path class="c32" d="M1468 831l6 2 3-4-6-2z"/>
<path class="c34" d="M1474 833l6 2 3-4-6-2z"/>
<path class="c36" d="M1480 835l5 3 3-5-5-2z"/>
<path class="c37" d="M1485 838l17 8 3-5-17-8z"/>
<path class="c36" d="M1502 846l17 7 3-5-17-7z"/>
<path class="c35" d="M1519 853l6 2 3-5-6-2z"/>
<path class="c36" d="M1525 855l28 12 3-6-28-11z"/>
<path class="c35" d="M1553 867l6 2 3-6-6-2z"/>
<path class="c34" d="M1559 869l6 2 3-6-6-2z"/>
<path class="c33" d="M1565 871l6 2 3-6-6-2z"/>
<path class="c32" d="M1571 873l6 1 3-6-6-1z"/>
<path class="c31" d="M1577 874l12 3 3-6-12-3z"/>
<path class="c33" d="M1589 877l6 1 2-5-5-2z"/>
<path class="c34" d="M1595 878l5 2 3-4-6-3z"/>
<path class="c35" d="M1600 880l18 8 18 9 2-4-17-10-18-7z"/>
<path class="c34" d="M1636 897l11 7 3-5-12-6z"/>
<path class="c33" d="M1647 904l35 19 3-4-35-20z"/>
<path class="c32" d="M1682 923l24 11 2-4-23-11z"/>
<path class="c31" d="M1706 934l12 6 2-5-12-5z"/>
<path class="c29" d="M1351 808l11 4 3-4-11-3z"/>
<path class="c28" d="M1362 812l10 3 3-4-10-3z"/>
<path class="c27" d="M1372 815l11 3 3-4-11-3z"/>
<path class="c26" d="M1383 818l11 2 3-3-11-3z"/>
<path class="c25" d="M1394 820l11 3 3-4-11-2z"/>
<path class="c24" d="M1405 823l10 1 3-4-10-1z"/>
<path class="c25" d="M1415 824l11 2 3-4-11-2z"/>
<path class="c26" d="M1426 826l12 2 2-4-11-2z"/>
<path class="c27" d="M1438 828l5 1 3-4-6-1z"/>
<path class="c28" d="M1443 829l6 2 3-5-6-1z"/>
<path class="c29" d="M1449 831l5 1 3-4-5-2z"/>
<path class="c30" d="M1454 832l6 2 3-5-6-1z"/>
<path class="c31" d="M1460 834l5 1 3-4-5-2z"/>
<path class="c33" d="M1465 835l6 2 3-4-6-2z"/>
<path class="c34" d="M1471 837l6 3 3-5-6-2z"/>
<path class="c36" d="M1477 840l11 6 3-5-11-6z"/>
<path class="c37" d="M1488 846l17 8 3-5-17-8z"/>
<path class="c36" d="M1505 854l11 5 3-6-11-4z"/>
<path class="c35" d="M1516 859l12 4 3-5-12-5z"/>
<path class="c36" d="M1528 863l28 11 3-5-28-11z"/>
<path class="c35" d="M1556 874l6 3 3-6-6-2z"/>
<path class="c33" d="M1562 877l6 1 3-5-6-2z"/>
<path class="c31" d="M1568 878l6 2 3-6-6-1z"/>
<path class="c29" d="M1574 880l12 2 3-5-12-3z"/>
<path class="c32" d="M1586 882l6 1 3-5-6-1z"/>
<path class="c34" d="M1592 883l12 4 2-4-11-5z"/>
<path class="c35" d="M1604 887l29 15 3-5-30-14z"/>
<path class="c34" d="M1633 902l23 13 3-5-23-13z"/>
<path class="c33" d="M1656 915l24 12 2-4-23-13z"/>
<path class="c32" d="M1680 927l23 12 3-5-24-11z"/>
<path class="c31" d="M1703 939l12 5 3-4-12-6z"/>
<path class="c29" d="M1348 812l10 3 4-3-11-4z"/>
<path class="c28" d="M1358 815l11 4 3-4-10-3z"/>
<path class="c27" d="M1369 819l11 3 3-4-11-3z"/>
<path class="c26" d="M1380 822l11 2 3-4-11-2z"/>
<path class="c25" d="M1391 824l32 6 3-4-32-6z"/>
<path class="c26" d="M1423 830l12 2 3-4-12-2z"/>
<path class="c27" d="M1435 832l5 2 3-5-5-1z"/>
<path class="c28" d="M1440 834l6 1 3-4-6-2z"/>
<path class="c29" d="M1446 835l5 1 3-4-5-1z"/>
<path class="c30" d="M1451 836l6 2 3-4-6-2z"/>
<path class="c31" d="M1457 838l5 2 3-5-5-1z"/>
<path class="c32" d="M1462 840l6 2 3-5-6-2z"/>
<path class="c34" d="M1468 842l6 2 3-4-6-3z"/>
<path class="c35" d="M1474 844l5 3 3-4-5-3z"/>
<path class="c36" d="M1479 847l12 7 3-5-12-6z"/>
<path class="c37" d="M1491 854l5 3 3-5-5-3z"/>
<path class="c36" d="M1496 857l6 2 3-5-6-2z"/>
<path class="c35" d="M1502 859l11 5 3-5-11-5z"/>
<path class="c34" d="M1513 864l6 1 3-4-6-2z"/>
<path class="c33" d="M1519 865l23 9 3-4-23-9z"/>
<path class="c34" d="M1542 874l6 3 3-5-6-2z"/>
<path class="c35" d="M1548 877l11 5 3-5-11-5z"/>
<path class="c34" d="M1559 882l6 2 3-6-6-1z"/>
<path class="c30" d="M1565 884l6 1 3-5-6-2z"/>
<path class="c28" d="M1571 885l12 2 3-5-12-2z"/>
<path class="c30" d="M1583 887l6 1 3-5-6-1z"/>
<path class="c33" d="M1589 888l6 2 3-5-6-2z"/>
<path class="c34" d="M1595 890l6 2 3-5-6-2z"/>
<path class="c35" d="M1601 892l29 14 3-4-29-15z"/>
<path class="c34" d="M1630 906l23 13 3-4-23-13z"/>
<path class="c33" d="M1653 919l24 13 3-5-24-12z"/>
<path class="c32" d="M1677 932l24 11 2-4-23-12z"/>
<path class="c31" d="M1701 943l12 5 2-4-12-5z"/>
<path class="c29" d="M1345 816l10 3 3-4-10-3z"/>
<path class="c28" d="M1355 819l11 3 3-3-11-4z"/>
<path class="c27" d="M1366 822l11 3 3-3-11-3z"/>
<path class="c26" d="M1377 825l11 3 3-4-11-2z"/>
<path class="c25" d="M1388 828l43 8 4-4-44-8z"/>
<path class="c26" d="M1431 836l6 2 3-4-5-2z"/>
<path class="c27" d="M1437 838l6 1 3-4-6-1z"/>
<path class="c28" d="M1443 839l5 1 3-4-5-1z"/>
<path class="c29" d="M1448 840l6 2 3-4-6-2z"/>
<path class="c30" d="M1454 842l5 2 3-4-5-2z"/>
<path class="c32" d="M1459 844l6 2 3-4-6-2z"/>
<path class="c33" d="M1465 846l6 2 3-4-6-2z"/>
<path class="c34" d="M1471 848l11 7 3-4-11-7z"/>
<path class="c35" d="M1482 855l17 9 3-5-17-8z"/>
<path class="c33" d="M1499 864l6 2 3-4-6-3z"/>
<path class="c32" d="M1505 866l5 2 3-4-5-2z"/>
<path class="c30" d="M1510 868l6 2 3-5-6-1z"/>
<path class="c29" d="M1516 870l6 1 3-4-6-2z"/>
<path class="c28" d="M1522 871l6 2 2-4-5-2z"/>
<path class="c27" d="M1528 873l5 2 3-3-6-3z"/>
<path class="c26" d="M1533 875l12 5 3-3-12-5z"/>
<path class="c27" d="M1545 880l6 3 2-4-5-2z"/>
<path class="c29" d="M1551 883l5 2 3-3-6-3z"/>
<path class="c31" d="M1556 885l6 3 3-4-6-2z"/>
<path class="c30" d="M1562 888l6 2 3-5-6-1z"/>
<path class="c27" d="M1568 890l6 1 3-5-6-1z"/>
<path class="c26" d="M1574 891l6 1 3-5-6-1z"/>
<path class="c29" d="M1580 892l6 1 3-5-6-1z"/>
<path class="c32" d="M1586 893l6 2 3-5-6-2z"/>
<path class="c34" d="M1592 895l6 2 3-5-6-2z"/>
<path class="c35" d="M1598 897l29 14 3-5-29-14z"/>
<path class="c34" d="M1627 911l24 13 2-5-23-13z"/>
<path class="c33" d="M1651 924l23 12 3-4-24-13z"/>
<path class="c32" d="M1674 936l24 11 3-4-24-11z"/>
<path class="c31" d="M1698 947l12 5 3-4-12-5z"/>
<path class="c29" d="M1342 819l10 4 3-4-10-3z"/>
<path class="c28" d="M1352 823l11 3 3-4-11-3z"/>
<path class="c27" d="M1363 826l11 3 3-4-11-3z"/>
<path class="c26" d="M1374 829l11 3 3-4-11-3z"/>
<path class="c25" d="M1385 832l10 2 3-4-10-2z"/>
<path class="c24" d="M1395 834l22 4 3-4-22-4z"/>
<path class="c25" d="M1417 838l11 2 3-4-11-2z"/>
<path class="c26" d="M1428 840l12 3 3-4-12-3z"/>
<path class="c27" d="M1440 843l5 1 3-4-5-1z"/>
<path class="c28" d="M1445 844l6 2 3-4-6-2z"/>
<path class="c29" d="M1451 846l5 2 3-4-5-2z"/>
<path class="c30" d="M1456 848l6 2 3-4-6-2z"/>
<path class="c32" d="M1462 850l17 9 3-4-17-9z"/>
<path class="c33" d="M1479 859l6 4 3-5-6-3z"/>
<path class="c32" d="M1485 863l5 2 3-4-5-3z"/>
<path class="c31" d="M1490 865l6 3 3-4-6-3z"/>
<path class="c28" d="M1496 868l6 2 3-4-6-2z"/>
<path class="c26" d="M1502 870l5 1 3-3-5-2z"/>
<path class="c24" d="M1507 871l6 2 3-3-6-2z"/>
<path class="c22" d="M1513 873l6 1 3-3-6-1z"/>
<path class="c20" d="M1519 874l6 2 3-3-6-2z"/>
<path class="c19" d="M1525 876l6 2 2-3-5-2z"/>
<path class="c17" d="M1531 878l17 7 3-2-18-8z"/>
<path class="c18" d="M1548 885l6 3 2-3-5-2z"/>
<path class="c21" d="M1554 888l6 3 2-3-6-3z"/>
<path class="c24" d="M1560 891l5 2 3-3-6-2z"/>
<path class="c26" d="M1565 893l12 4 3-5-12-2z"/>
<path class="c28" d="M1577 897l6 1 3-5-6-1z"/>
<path class="c31" d="M1583 898l6 2 3-5-6-2z"/>
<path class="c33" d="M1589 900l6 2 3-5-6-2z"/>
<path class="c34" d="M1595 902l6 2 3-5-6-2z"/>
<path class="c35" d="M1601 904l24 12 2-5-23-12z"/>
<path class="c34" d="M1625 916l23 12 3-4-24-13z"/>
<path class="c33" d="M1648 928l24 12 2-4-23-12z"/>
<path class="c32" d="M1672 940l24 12 2-5-24-11z"/>
<path class="c31" d="M1696 952l12 5 2-5-12-5z"/>
<path class="c29" d="M1338 823l11 4 3-4-10-4z"/>
<path class="c28" d="M1349 827l11 3 3-4-11-3z"/>
<path class="c27" d="M1360 830l11 3 3-4-11-3z"/>
<path class="c26" d="M1371 833l10 3 4-4-11-3z"/>
<path class="c25" d="M1381 836l11 2 3-4-10-2z"/>
<path class="c24" d="M1392 838l39 7 3-3-39-8z"/>
<path class="c25" d="M1431 845l11 3 3-4-11-2z"/>
<path class="c26" d="M1442 848l6 2 3-4-6-2z"/>
<path class="c27" d="M1448 850l5 1 3-3-5-2z"/>
<path class="c28" d="M1453 851l6 2 3-3-6-2z"/>
<path class="c29" d="M1459 853l23 13 3-3-23-13z"/>
<path class="c27" d="M1482 866l5 3 3-4-5-2z"/>
<path class="c24" d="M1487 869l6 2 3-3-6-3z"/>
<path class="c21" d="M1493 871l6 1 3-2-6-2z"/>
<path class="c18" d="M1499 872l6 2 2-3-5-1z"/>
<path class="c16" d="M1505 874l5 1 3-2-6-2z"/>
<path class="c15" d="M1510 875l6 2 3-3-6-1z"/>
<path class="c13" d="M1516 877l6 1 3-2-6-2z"/>
<path class="c12" d="M1522 878l6 1 3-1-6-2z"/>
<path class="c11" d="M1528 879l12 4 11 6 3-1-12-6-11-4z"/>
<path class="c12" d="M1551 889l6 3 3-1-6-3z"/>
<path class="c15" d="M1557 892l6 4 2-3-5-2z"/>
<path class="c18" d="M1563 896l6 2 2-3-6-2z"/>
<path class="c23" d="M1569 898l5 2 3-3-6-2z"/>
<path class="c27" d="M1574 900l6 2 3-4-6-1z"/>
<path class="c31" d="M1580 902l6 2 3-4-6-2z"/>
<path class="c33" d="M1586 904l6 3 3-5-6-2z"/>
<path class="c34" d="M1592 907l6 2 3-5-6-2z"/>
<path class="c35" d="M1598 909l24 11 3-4-24-12z"/>
<path class="c34" d="M1622 920l23 13 3-5-23-12z"/>
<path class="c33" d="M1645 933l24 12 3-5-24-12z"/>
<path class="c32" d="M1669 945l24 11 3-4-24-12z"/>
<path class="c31" d="M1693 956l12 5 3-4-12-5z"/>
<path class="c29" d="M1335 827l11 3 3-3-11-4z"/>
<path class="c28" d="M1346 830l11 4 3-4-11-3z"/>
<path class="c27" d="M1357 834l10 3 4-4-11-3z"/>
<path class="c26" d="M1367 837l11 2 3-3-10-3z"/>
<path class="c24" d="M1378 839l11 3 3-4-11-2z"/>
<path class="c23" d="M1389 842l11 2 3-4-11-2z"/>
<path class="c22" d="M1400 844l39 7 3-3-39-8z"/>
<path class="c23" d="M1439 851l11 3 3-3-11-3z"/>
<path class="c24" d="M1450 854l6 3 3-4-6-2z"/>
<path class="c25" d="M1456 857l11 5 3-3-11-6z"/>
<path class="c24" d="M1467 862l6 4 3-3-6-4z"/>
<path class="c23" d="M1473 866l6 3 3-3-6-3z"/>
<path class="c20" d="M1479 869l6 2 2-2-5-3z"/>
<path class="c17" d="M1485 871l5 2 3-2-6-2z"/>
<path class="c14" d="M1490 873l6 1 3-2-6-1z"/>
<path class="c12" d="M1496 874l6 2 3-2-6-2z"/>
<path class="c11" d="M1502 876l6 1 2-2-5-1z"/>
<path class="c10" d="M1508 877l6 1 2-1-6-2z"/>
<path class="c9" d="M1514 878l5 1 3-1-6-1z"/>
<path class="c8" d="M1519 879l12 2 12 4 2 1-11-5-12-3z"/>
<path class="c9" d="M1543 885l12 7 2 0-12-6z"/>
<path class="c10" d="M1555 892l5 4 3 0-6-4z"/>
<path class="c12" d="M1560 896l6 4 3-2-6-2z"/>
<path class="c15" d="M1566 900l6 3 2-3-5-2z"/>
<path class="c21" d="M1572 903l6 3 2-4-6-2z"/>
<path class="c28" d="M1578 906l6 2 2-4-6-2z"/>
<path class="c32" d="M1584 908l5 3 3-4-6-3z"/>
<path class="c34" d="M1589 911l12 5 3-4-12-5z"/>
<path class="c35" d="M1601 916l18 9 3-5-18-8z"/>
<path class="c34" d="M1619 925l24 12 2-4-23-13z"/>
<path class="c33" d="M1643 937l24 12 2-4-24-12z"/>
<path class="c32" d="M1667 949l12 6 2-5-12-5z"/>
<path class="c31" d="M1679 955l24 10 2-4-24-11z"/>
<path class="c28" d="M1332 831l22 6 3-3-22-7z"/>
<path class="c26" d="M1354 837l10 3 3-3-10-3z"/>
<path class="c25" d="M1364 840l11 3 3-4-11-2z"/>
<path class="c23" d="M1375 843l11 2 3-3-11-3z"/>
<path class="c22" d="M1386 845l11 2 3-3-11-2z"/>
<path class="c20" d="M1397 847l22 4 3-3-22-4z"/>
<path class="c19" d="M1419 851l23 5 11 3 3-2-11-4-23-5z"/>
<path class="c20" d="M1453 859l12 6 2-3-11-5z"/>
<path class="c19" d="M1465 865l5 3 3-2-6-4z"/>
<path class="c17" d="M1470 868l6 3 3-2-6-3z"/>
<path class="c14" d="M1476 871l6 2 3-2-6-2z"/>
<path class="c12" d="M1482 873l5 1 3-1-5-2z"/>
<path class="c10" d="M1487 874l6 2 3-2-6-1z"/>
<path class="c9" d="M1493 876l6 1 3-1-6-2z"/>
<path class="c8" d="M1499 877l6 1 3-1-6-1z"/>
<path class="c7" d="M1505 878l24 4 11 3 3 0-12-4-23-4z"/>
<path class="c8" d="M1540 885l12 6 3 1-12-7z"/>
<path class="c9" d="M1552 891l12 8 2 1-11-8z"/>
<path class="c11" d="M1564 899l5 5 3-1-6-3z"/>
<path class="c14" d="M1569 904l6 4 3-2-6-3z"/>
<path class="c20" d="M1575 908l6 4 3-4-6-2z"/>
<path class="c28" d="M1581 912l6 3 2-4-5-3z"/>
<path class="c32" d="M1587 915l6 3 2-4-6-3z"/>
<path class="c34" d="M1593 918l11 6 3-5-12-5z"/>
<path class="c35" d="M1604 924l12 6 3-5-12-6z"/>
<path class="c34" d="M1616 930l24 12 3-5-24-12z"/>
<path class="c33" d="M1640 942l24 12 3-5-24-12z"/>
<path class="c32" d="M1664 954l12 5 3-4-12-6z"/>
<path class="c31" d="M1676 959l24 11 3-5-24-10z"/>
<path class="c28" d="M1329 834l11 4 3-4-11-3z"/>
<path class="c27" d="M1340 838l10 3 4-4-11-3z"/>
<path class="c26" d="M1350 841l11 3 3-4-10-3z"/>
<path class="c24" d="M1361 844l11 2 3-3-11-3z"/>
<path class="c21" d="M1372 846l11 3 3-4-11-2z"/>
<path class="c19" d="M1383 849l11 1 3-3-11-2z"/>
<path class="c18" d="M1394 850l11 2 3-3-11-2z"/>
<path class="c16" d="M1405 852l17 3 3-3-17-3z"/>
<path class="c15" d="M1422 855l11 2 3-3-11-2z"/>
<path class="c14" d="M1433 857l11 2 3-2-11-3z"/>
<path class="c15" d="M1444 859l12 4 3-1-12-5z"/>
<path class="c16" d="M1456 863l6 3 3-1-6-3z"/>
<path class="c15" d="M1462 866l5 3 3-1-5-3z"/>
<path class="c13" d="M1467 869l6 3 3-1-6-3z"/>
<path class="c10" d="M1473 872l6 1 3 0-6-2z"/>
<path class="c9" d="M1479 873l6 2 2-1-5-1z"/>
<path class="c7" d="M1485 875l17 3 3 0-18-4z"/>
<path class="c6" d="M1502 878l6 1 3 0-6-1z"/>
<path class="c7" d="M1508 879l24 4 2 0-23-4z"/>
<path class="c8" d="M1532 883l12 4 6 3 2 1-6-4-12-4z"/>
<path class="c9" d="M1550 890l17 13 2 1-17-13z"/>
<path class="c11" d="M1567 903l6 5 2 0-6-4z"/>
<path class="c13" d="M1573 908l5 5 3-1-6-4z"/>
<path class="c18" d="M1578 913l6 5 3-3-6-3z"/>
<path class="c26" d="M1584 918l6 4 3-4-6-3z"/>
<path class="c32" d="M1590 922l6 3 3-4-6-3z"/>
<path class="c34" d="M1596 925l41 21 3-4-41-21z"/>
<path class="c33" d="M1637 946l24 12 3-4-24-12z"/>
<path class="c32" d="M1661 958l12 6 3-5-12-5z"/>
<path class="c31" d="M1673 964l25 10 2-4-24-11z"/>
<path class="c27" d="M1322 842l11 3 7-7-11-4z"/>
<path class="c26" d="M1333 845l11 3 6-7-10-3z"/>
<path class="c23" d="M1344 848l11 3 6-7-11-3z"/>
<path class="c20" d="M1355 851l11 2 6-7-11-2z"/>
<path class="c17" d="M1366 853l11 1 6-5-11-3z"/>
<path class="c15" d="M1377 854l11 1 6-5-11-1z"/>
<path class="c12" d="M1388 855l11 1 6-4-11-2z"/>
<path class="c11" d="M1399 856l11 1 6-3-11-2z"/>
<path class="c10" d="M1410 857l11 2 6-3-11-2z"/>
<path class="c9" d="M1421 859l17 2 6-2-17-3z"/>
<path class="c10" d="M1438 861l6 2 6-2-6-2z"/>
<path class="c11" d="M1444 863l17 7 6-1-17-8z"/>
<path class="c10" d="M1461 870l6 3 6-1-6-3z"/>
<path class="c8" d="M1467 873l6 1 6-1-6-1z"/>
<path class="c7" d="M1473 874l24 5 5-1-23-5z"/>
<path class="c8" d="M1497 879l11 3 6-2-12-2z"/>
<path class="c9" d="M1508 882l12 3 6-3-12-2z"/>
<path class="c10" d="M1520 885l6 1 6-3-6-1z"/>
<path class="c11" d="M1526 886l18 6 6-2-6-3-12-4z"/>
<path class="c10" d="M1544 892l6 2 5 0-5-4z"/>
<path class="c9" d="M1550 894l12 7 5 2-12-9z"/>
<path class="c10" d="M1562 901l6 6 5 1-6-5z"/>
<path class="c11" d="M1568 907l6 6 4 0-5-5z"/>
<path class="c12" d="M1574 913l5 7 5-2-6-5z"/>
<path class="c15" d="M1579 920l6 7 5-5-6-4z"/>
<path class="c21" d="M1585 927l5 5 6-7-6-3z"/>
<path class="c28" d="M1590 932l6 5 6-9-6-3z"/>
<path class="c33" d="M1596 937l12 7 5-10-11-6z"/>
<path class="c34" d="M1608 944l24 11 5-9-24-12z"/>
<path class="c33" d="M1632 955l24 12 5-9-24-12z"/>
<path class="c32" d="M1656 967l12 5 5-8-12-6z"/>
<path class="c31" d="M1668 972l25 11 5-9-25-10z"/>
<path class="c24" d="M1316 850l11 2 6-7-11-3z"/>
<path class="c22" d="M1327 852l10 2 7-6-11-3z"/>
<path class="c18" d="M1337 854l11 2 7-5-11-3z"/>
<path class="c14" d="M1348 856l11 1 7-4-11-2z"/>
<path class="c11" d="M1359 857l11 1 7-4-11-1z"/>
<path class="c8" d="M1370 858l11 0 7-3-11-1z"/>
<path class="c7" d="M1381 858l11 0 7-2-11-1z"/>
<path class="c6" d="M1392 858l29 2 6-1-28-3z"/>
<path class="c7" d="M1421 860l5 1 7-1-6-1z"/>
<path class="c8" d="M1426 861l6 1 6-1-5-1z"/>
<path class="c9" d="M1432 862l6 2 6-1-6-2z"/>
<path class="c10" d="M1438 864l6 3 6-2-6-2z"/>
<path class="c11" d="M1444 867l11 5 6-2-11-5z"/>
<path class="c10" d="M1455 872l12 4 6-2-12-4z"/>
<path class="c9" d="M1467 876l6 2 6-2-6-2z"/>
<path class="c10" d="M1473 878l12 3 6-3-12-2z"/>
<path class="c11" d="M1485 881l6 2 6-4-6-1z"/>
<path class="c12" d="M1491 883l6 2 5-4-5-2z"/>
<path class="c13" d="M1497 885l6 1 5-4-6-1z"/>
<path class="c15" d="M1503 886l6 2 5-5-6-1z"/>
<path class="c16" d="M1509 888l6 2 5-5-6-2z"/>
<path class="c17" d="M1515 890l6 2 5-6-6-1z"/>
<path class="c19" d="M1521 892l6 2 5-6-6-2z"/>
<path class="c20" d="M1527 894l6 2 5-6-6-2z"/>
<path class="c21" d="M1533 896l6 2 5-6-6-2z"/>
<path class="c20" d="M1539 898l6 2 5-6-6-2z"/>
<path class="c18" d="M1545 900l6 2 5-5-6-3z"/>
<path class="c14" d="M1551 902l6 2 5-3-6-4z"/>
<path class="c12" d="M1557 904l6 3 5 0-6-6z"/>
<path class="c11" d="M1563 907l6 5 11 14 5 1-17-20z"/>
<path class="c12" d="M1580 926l5 8 5-2-5-5z"/>
<path class="c14" d="M1585 934l6 7 5-4-6-5z"/>
<path class="c23" d="M1591 941l11 11 6-8-12-7z"/>
<path class="c32" d="M1602 952l12 7 6-9-12-6z"/>
<path class="c33" d="M1614 959l24 11 6-9-24-11z"/>
<path class="c32" d="M1638 970l25 11 5-9-24-11z"/>
<path class="c31" d="M1663 981l24 11 6-9-25-11z"/>
<path class="c18" d="M1309 857l11 0 7-5-11-2z"/>
<path class="c17" d="M1320 857l11 2 6-5-10-2z"/>
<path class="c12" d="M1331 859l11 1 6-4-11-2z"/>
<path class="c8" d="M1342 860l10 0 7-3-11-1z"/>
<path class="c6" d="M1352 860l11 0 7-2-11-1z"/>
<path class="c5" d="M1363 860l23-1 6-1-22 0z"/>
<path class="c6" d="M1386 859l17 2 6-2-17-1z"/>
<path class="c7" d="M1403 861l6 0 6-1-6-1z"/>
<path class="c8" d="M1409 861l5 1 7-2-6 0z"/>
<path class="c9" d="M1414 862l6 2 6-3-5-1z"/>
<path class="c10" d="M1420 864l6 1 6-3-6-1z"/>
<path class="c13" d="M1426 865l6 3 6-4-6-2z"/>
<path class="c15" d="M1432 868l6 2 6-3-6-3z"/>
<path class="c16" d="M1438 870l11 6 18 7 6-5-18-6-11-5z"/>
<path class="c17" d="M1467 883l6 2 6-5-6-2z"/>
<path class="c18" d="M1473 885l6 2 6-6-6-1z"/>
<path class="c19" d="M1479 887l6 2 6-6-6-2z"/>
<path class="c21" d="M1485 889l6 2 6-6-6-2z"/>
<path class="c22" d="M1491 891l6 2 6-7-6-1z"/>
<path class="c23" d="M1497 893l6 2 6-7-6-2z"/>
<path class="c24" d="M1503 895l6 2 6-7-6-2z"/>
<path class="c25" d="M1509 897l6 3 6-8-6-2z"/>
<path class="c26" d="M1515 900l6 2 6-8-6-2z"/>
<path class="c27" d="M1521 902l6 2 6-8-6-2z"/>
<path class="c28" d="M1527 904l12 4 6-8-12-4z"/>
<path class="c26" d="M1539 908l6 2 6-8-6-2z"/>
<path class="c25" d="M1545 910l6 1 6-7-6-2z"/>
<path class="c23" d="M1551 911l6 2 6-6-6-3z"/>
<path class="c18" d="M1557 913l6 2 6-3-6-5z"/>
<path class="c13" d="M1563 915l6 5 5-1-5-7z"/>
<path class="c12" d="M1569 920l6 6 5 0-6-7z"/>
<path class="c11" d="M1575 926l11 16 5-1-11-15z"/>
<path class="c13" d="M1586 942l11 15 5-5-11-11z"/>
<path class="c23" d="M1597 957l12 10 5-8-12-7z"/>
<path class="c31" d="M1609 967l12 7 5-9-12-6z"/>
<path class="c33" d="M1621 974l12 6 5-10-12-5z"/>
<path class="c32" d="M1633 980l24 10 6-9-25-11z"/>
<path class="c31" d="M1657 990l25 11 5-9-24-11z"/>
<path class="c8" d="M1303 865l10-3 7-5-11 0z"/>
<path class="c11" d="M1313 862l11 1 7-4-11-2z"/>
<path class="c8" d="M1324 863l11 0 7-3-11-1z"/>
<path class="c6" d="M1335 863l11-1 6-2-10 0z"/>
<path class="c5" d="M1346 862l22-1 6-2-22 1z"/>
<path class="c6" d="M1368 861l11 1 7-3-12 0z"/>
<path class="c8" d="M1379 862l11 1 7-3-11-1z"/>
<path class="c10" d="M1390 863l6 1 7-3-6-1z"/>
<path class="c11" d="M1396 864l6 2 7-5-6 0z"/>
<path class="c13" d="M1402 866l6 1 6-5-5-1z"/>
<path class="c16" d="M1408 867l6 2 6-5-6-2z"/>
<path class="c18" d="M1414 869l5 2 7-6-6-1z"/>
<path class="c21" d="M1419 871l6 3 7-6-6-3z"/>
<path class="c24" d="M1425 874l6 3 7-7-6-2z"/>
<path class="c25" d="M1431 877l12 6 6-7-11-6z"/>
<path class="c24" d="M1443 883l18 7 6-7-18-7z"/>
<path class="c25" d="M1461 890l6 2 6-7-6-2z"/>
<path class="c26" d="M1467 892l6 2 6-7-6-2z"/>
<path class="c27" d="M1473 894l11 5 7-8-12-4z"/>
<path class="c28" d="M1484 899l6 2 7-8-6-2z"/>
<path class="c29" d="M1490 901l12 5 7-9-12-4z"/>
<path class="c30" d="M1502 906l13 4 6-8-12-5z"/>
<path class="c31" d="M1515 910l18 7 6-9-18-6z"/>
<path class="c29" d="M1533 917l6 2 6-9-6-2z"/>
<path class="c27" d="M1539 919l12 3 6-9-12-3z"/>
<path class="c30" d="M1551 922l7 2 5-9-6-2z"/>
<path class="c27" d="M1558 924l6 2 5-6-6-5z"/>
<path class="c18" d="M1564 926l6 4 5-4-6-6z"/>
<path class="c13" d="M1570 930l6 5 5-1-6-8z"/>
<path class="c12" d="M1576 935l16 22 5 0-16-23z"/>
<path class="c14" d="M1592 957l12 15 5-5-12-10z"/>
<path class="c23" d="M1604 972l11 10 6-8-12-7z"/>
<path class="c31" d="M1615 982l12 7 6-9-12-6z"/>
<path class="c32" d="M1627 989l13 5 5-9-12-5z"/>
<path class="c31" d="M1640 994l24 11 6-9-25-11z"/>
<path class="c30" d="M1664 1005l13 5 5-9-12-5z"/>
<path class="c2" d="M1296 873l10-8 7-3-10 3z"/>
<path class="c9" d="M1306 865l11 1 7-3-11-1z"/>
<path class="c7" d="M1317 866l11 0 7-3-11 0z"/>
<path class="c6" d="M1328 866l11 0 7-4-11 1z"/>
<path class="c7" d="M1339 866l11-1 7-3-11 0z"/>
<path class="c8" d="M1350 865l11 1 7-5-11 1z"/>
<path class="c11" d="M1361 866l11 1 7-5-11-1z"/>
<path class="c15" d="M1372 867l12 2 6-6-11-1z"/>
<path class="c18" d="M1384 869l6 2 6-7-6-1z"/>
<path class="c20" d="M1390 871l5 1 7-6-6-2z"/>
<path class="c23" d="M1395 872l6 2 7-7-6-1z"/>
<path class="c25" d="M1401 874l6 2 7-7-6-2z"/>
<path class="c28" d="M1407 876l6 3 6-8-5-2z"/>
<path class="c30" d="M1413 879l12 6 6-8-12-6z"/>
<path class="c31" d="M1425 885l6 3 6-8-6-3z"/>
<path class="c30" d="M1431 888l11 5 7-8-12-5z"/>
<path class="c29" d="M1442 893l12 5 7-8-12-5z"/>
<path class="c30" d="M1454 898l18 7 6-8-17-7z"/>
<path class="c31" d="M1472 905l18 7 6-9-18-6z"/>
<path class="c32" d="M1490 912l37 15 6-10-37-14z"/>
<path class="c31" d="M1527 927l6 2 6-10-6-2z"/>
<path class="c29" d="M1533 929l6 2 6-10-6-2z"/>
<path class="c28" d="M1539 931l6 1 6-10-6-1z"/>
<path class="c30" d="M1545 932l6 2 7-10-7-2z"/>
<path class="c33" d="M1551 934l13 5 6-9-12-6z"/>
<path class="c26" d="M1564 939l6 3 6-7-6-5z"/>
<path class="c18" d="M1570 942l6 4 5-4-5-7z"/>
<path class="c13" d="M1576 946l12 12 4-1-11-15z"/>
<path class="c12" d="M1588 958l11 16 5-2-12-15z"/>
<path class="c14" d="M1599 974l11 14 5-6-11-10z"/>
<path class="c24" d="M1610 988l12 9 5-8-12-7z"/>
<path class="c31" d="M1622 997l12 6 25 11 5-9-37-16z"/>
<path class="c30" d="M1659 1014l12 5 6-9-13-5z"/>
<path class="cb" d="M1289 881l10-15 7-1-10 8z"/>
<path class="c8" d="M1299 866l11 3 22 2 7-5-22 0-11-1z"/>
<path class="c10" d="M1332 871l11 0 7-6-11 1z"/>
<path class="c14" d="M1343 871l11 1 7-6-11-1z"/>
<path class="c18" d="M1354 872l12 2 6-7-11-1z"/>
<path class="c22" d="M1366 874l11 3 7-8-12-2z"/>
<path class="c26" d="M1377 877l6 2 7-8-6-2z"/>
<path class="c27" d="M1383 879l6 2 6-9-5-1z"/>
<path class="c29" d="M1389 881l6 2 6-9-6-2z"/>
<path class="c31" d="M1395 883l6 2 6-9-6-2z"/>
<path class="c32" d="M1401 885l5 2 7-8-6-3z"/>
<path class="c33" d="M1406 887l24 13 7-9-24-12z"/>
<path class="c32" d="M1430 900l54 22 6-10-53-21z"/>
<path class="c33" d="M1484 922l36 14 7-9-37-15z"/>
<path class="c32" d="M1520 936l7 3 6-10-6-2z"/>
<path class="c30" d="M1527 939l6 2 6-10-6-2z"/>
<path class="c29" d="M1533 941l6 1 6-10-6-1z"/>
<path class="c30" d="M1539 942l6 2 6-10-6-2z"/>
<path class="c33" d="M1545 944l7 2 6-10-7-2z"/>
<path class="c34" d="M1552 946l6 3 6-10-6-3z"/>
<path class="c35" d="M1558 949l6 3 6-10-6-3z"/>
<path class="c32" d="M1564 952l6 3 6-9-6-4z"/>
<path class="c21" d="M1570 955l12 8 6-5-12-12z"/>
<path class="c13" d="M1582 963l12 12 5-1-11-16z"/>
<path class="c12" d="M1594 975l11 15 5-2-11-14z"/>
<path class="c15" d="M1605 990l12 13 5-6-12-9z"/>
<path class="c25" d="M1617 1003l12 9 5-9-12-6z"/>
<path class="c30" d="M1629 1012l37 16 5-9-37-16z"/>
<path class="cb" d="M1282 889l9-23 8 0-10 15z"/>
<path class="c9" d="M1291 866l11 5 8-2-11-3z"/>
<path class="c10" d="M1302 871l12 3 7-4-11-1z"/>
<path class="c12" d="M1314 874l11 2 7-5-11-1z"/>
<path class="c15" d="M1325 876l11 2 7-7-11 0z"/>
<path class="c19" d="M1336 878l11 2 7-8-11-1z"/>
<path class="c23" d="M1347 880l12 3 7-9-12-2z"/>
<path class="c27" d="M1359 883l12 3 6-9-11-3z"/>
<path class="c29" d="M1371 886l5 2 7-9-6-2z"/>
<path class="c31" d="M1376 888l6 2 7-9-6-2z"/>
<path class="c32" d="M1382 890l6 2 7-9-6-2z"/>
<path class="c33" d="M1388 892l6 2 7-9-6-2z"/>
<path class="c34" d="M1394 894l6 3 6-10-5-2z"/>
<path class="c35" d="M1400 897l6 3 6-10-6-3z"/>
<path class="c34" d="M1406 900l18 9 6-9-18-10z"/>
<path class="c33" d="M1424 909l96 40 7-10-97-39z"/>
<path class="c31" d="M1520 949l7 2 6-10-6-2z"/>
<path class="c30" d="M1527 951l6 2 6-11-6-1z"/>
<path class="c31" d="M1533 953l6 2 6-11-6-2z"/>
<path class="c33" d="M1539 955l6 2 7-11-7-2z"/>
<path class="c34" d="M1545 957l7 2 6-10-6-3z"/>
<path class="c35" d="M1552 959l12 6 6-10-12-6z"/>
<path class="c33" d="M1564 965l12 7 6-9-12-8z"/>
<path class="c21" d="M1576 972l13 8 5-5-12-12z"/>
<path class="c14" d="M1589 980l11 13 5-3-11-15z"/>
<path class="c13" d="M1600 993l12 14 5-4-12-13z"/>
<path class="c17" d="M1612 1007l11 12 6-7-12-9z"/>
<path class="c26" d="M1623 1019l12 7 6-8-12-6z"/>
<path class="c30" d="M1635 1026l26 11 5-9-25-10z"/>
<path class="cb" d="M1276 897l8-29 7-2-9 23z"/>
<path class="c10" d="M1284 868l11 4 7-1-11-5z"/>
<path class="c11" d="M1295 872l11 5 8-3-12-3z"/>
<path class="c13" d="M1306 877l12 4 7-5-11-2z"/>
<path class="c18" d="M1318 881l11 4 7-7-11-2z"/>
<path class="c22" d="M1329 885l12 3 6-8-11-2z"/>
<path class="c26" d="M1341 888l11 3 7-8-12-3z"/>
<path class="c29" d="M1352 891l12 4 7-9-12-3z"/>
<path class="c31" d="M1364 895l6 2 6-9-5-2z"/>
<path class="c32" d="M1370 897l6 2 6-9-6-2z"/>
<path class="c33" d="M1376 899l5 3 7-10-6-2z"/>
<path class="c34" d="M1381 902l12 5 7-10-12-5z"/>
<path class="c35" d="M1393 907l12 6 7-10-12-6z"/>
<path class="c34" d="M1405 913l12 5 7-9-12-6z"/>
<path class="c33" d="M1417 918l97 41 6-10-96-40z"/>
<path class="c32" d="M1514 959l6 2 7-10-7-2z"/>
<path class="c31" d="M1520 961l13 4 6-10-12-4z"/>
<path class="c33" d="M1533 965l6 2 6-10-6-2z"/>
<path class="c34" d="M1539 967l6 3 7-11-7-2z"/>
<path class="c35" d="M1545 970l25 12 6-10-24-13z"/>
<path class="c32" d="M1570 982l13 7 6-9-13-8z"/>
<path class="c21" d="M1583 989l12 10 5-6-11-13z"/>
<path class="c15" d="M1595 999l12 11 5-3-12-14z"/>
<path class="c14" d="M1607 1010l11 12 5-3-11-12z"/>
<path class="c17" d="M1618 1022l12 11 5-7-12-7z"/>
<path class="c26" d="M1630 1033l12 8 6-9-13-6z"/>
<path class="c30" d="M1642 1041l13 6 6-10-13-5z"/>
<path class="cb" d="M1269 905l7-32 8-5-8 29z"/>
<path class="c13" d="M1276 873l11 2 8-3-11-4z"/>
<path class="c12" d="M1287 875l12 4 7-2-11-5z"/>
<path class="c13" d="M1299 879l11 6 8-4-12-4z"/>
<path class="c17" d="M1310 885l12 6 7-6-11-4z"/>
<path class="c23" d="M1322 891l12 5 7-8-12-3z"/>
<path class="c27" d="M1334 896l11 4 7-9-11-3z"/>
<path class="c30" d="M1345 900l12 4 7-9-12-4z"/>
<path class="c32" d="M1357 904l12 5 7-10-12-4z"/>
<path class="c33" d="M1369 909l6 2 6-9-5-3z"/>
<path class="c34" d="M1375 911l12 6 6-10-12-5z"/>
<path class="c35" d="M1387 917l12 5 6-9-12-6z"/>
<path class="c34" d="M1399 922l12 6 6-10-12-5z"/>
<path class="c33" d="M1411 928l97 40 6-9-97-41z"/>
<path class="c32" d="M1508 968l19 7 6-10-19-6z"/>
<path class="c33" d="M1527 975l6 3 6-11-6-2z"/>
<path class="c34" d="M1533 978l6 2 6-10-6-3z"/>
<path class="c35" d="M1539 980l25 12 6-10-25-12z"/>
<path class="c34" d="M1564 992l13 7 6-10-13-7z"/>
<path class="c30" d="M1577 999l12 8 6-8-12-10z"/>
<path class="c17" d="M1589 1007l13 6 5-3-12-11z"/>
<path class="c12" d="M1602 1013l12 12 4-3-11-12z"/>
<path class="c14" d="M1614 1025l11 14 5-6-12-11z"/>
<path class="c20" d="M1625 1039l12 10 5-8-12-8z"/>
<path class="c28" d="M1637 1049l12 7 6-9-13-6z"/>
<path class="cb" d="M1262 913l7-32 7-8-7 32z"/>
<path class="c16" d="M1269 881l11 0 7-6-11-2z"/>
<path class="c15" d="M1280 881l11 2 8-4-12-4z"/>
<path class="c14" d="M1291 883l12 5 7-3-11-6z"/>
<path class="c15" d="M1303 888l12 7 7-4-12-6z"/>
<path class="c20" d="M1315 895l12 7 7-6-12-5z"/>
<path class="c26" d="M1327 902l11 6 7-8-11-4z"/>
<path class="c30" d="M1338 908l12 5 7-9-12-4z"/>
<path class="c32" d="M1350 913l6 3 7-9-6-3z"/>
<path class="c33" d="M1356 916l12 5 7-10-12-4z"/>
<path class="c34" d="M1368 921l12 5 7-9-12-6z"/>
<path class="c35" d="M1380 926l12 6 7-10-12-5z"/>
<path class="c34" d="M1392 932l12 6 7-10-12-6z"/>
<path class="c33" d="M1404 938l104 43 6-10-103-43z"/>
<path class="c32" d="M1508 981l12 5 7-11-13-4z"/>
<path class="c33" d="M1520 986l7 2 6-10-6-3z"/>
<path class="c34" d="M1527 988l31 14 6-10-31-14z"/>
<path class="c32" d="M1558 1002l13 6 6-9-13-7z"/>
<path class="c21" d="M1571 1008l13 4 5-5-12-8z"/>
<path class="c17" d="M1584 1012l12 7 6-6-13-6z"/>
<path class="c18" d="M1596 1019l12 12 6-6-12-12z"/>
<path class="c16" d="M1608 1031l12 13 5-5-11-14z"/>
<path class="c18" d="M1620 1044l12 12 5-7-12-10z"/>
<path class="c25" d="M1632 1056l12 9 5-9-12-7z"/>
<path class="cb" d="M1255 921l7-28 7-12-7 32z"/>
<path class="c13" d="M1262 893l11-3 7-9-11 0z"/>
<path class="c16" d="M1273 890l11-1 7-6-11-2z"/>
<path class="c17" d="M1284 889l11 3 8-4-12-5z"/>
<path class="c15" d="M1295 892l12 6 8-3-12-7z"/>
<path class="c16" d="M1307 898l12 8 8-4-12-7z"/>
<path class="c21" d="M1319 906l12 9 7-7-11-6z"/>
<path class="c27" d="M1331 915l12 6 7-8-12-5z"/>
<path class="c30" d="M1343 921l6 4 7-9-6-3z"/>
<path class="c32" d="M1349 925l6 3 7-10-6-2z"/>
<path class="c33" d="M1355 928l12 5 7-9-12-6z"/>
<path class="c34" d="M1367 933l24 12 7-10-24-11z"/>
<path class="c33" d="M1391 945l98 41 6-10-97-41z"/>
<path class="c32" d="M1489 986l12 5 7-10-13-5z"/>
<path class="c31" d="M1501 991l7 2 6-10-6-2z"/>
<path class="c30" d="M1508 993l6 2 6-9-6-3z"/>
<path class="c31" d="M1514 995l19 8 6-10-19-7z"/>
<path class="c32" d="M1533 1003l6 3 6-10-6-3z"/>
<path class="c30" d="M1539 1006l13 5 6-9-13-6z"/>
<path class="c18" d="M1552 1011l13 2 6-5-13-6z"/>
<path class="c16" d="M1565 1013l13 6 6-7-13-4z"/>
<path class="c28" d="M1578 1019l12 10 6-10-12-7z"/>
<path class="c25" d="M1590 1029l12 12 6-10-12-12z"/>
<path class="c21" d="M1602 1041l12 11 6-8-12-13z"/>
<path class="c20" d="M1614 1052l12 11 6-7-12-12z"/>
<path class="c23" d="M1626 1063l13 10 5-8-12-9z"/>
<path class="cb" d="M1248 929l8-23 6-13-7 28z"/>
<path class="c10" d="M1256 906l10-3 7-13-11 3z"/>
<path class="c12" d="M1266 903l11-3 7-11-11 1z"/>
<path class="c18" d="M1277 900l11-1 7-7-11-3z"/>
<path class="c20" d="M1288 899l12 3 7-4-12-6z"/>
<path class="c16" d="M1300 902l12 8 7-4-12-8z"/>
<path class="c17" d="M1312 910l12 9 7-4-12-9z"/>
<path class="c21" d="M1324 919l12 9 7-7-12-6z"/>
<path class="c26" d="M1336 928l6 4 7-7-6-4z"/>
<path class="c29" d="M1342 932l6 4 7-8-6-3z"/>
<path class="c31" d="M1348 936l6 3 7-9-6-2z"/>
<path class="c32" d="M1354 939l6 3 7-9-6-3z"/>
<path class="c33" d="M1360 942l12 6 7-9-12-6z"/>
<path class="c34" d="M1372 948l12 6 7-9-12-6z"/>
<path class="c33" d="M1384 954l55 24 7-10-55-23z"/>
<path class="c32" d="M1439 978l19 7 6-9-18-8z"/>
<path class="c31" d="M1458 985l12 5 7-9-13-5z"/>
<path class="c30" d="M1470 990l19 8 6-10-18-7z"/>
<path class="c29" d="M1489 998l19 7 6-10-19-7z"/>
<path class="c30" d="M1508 1005l19 7 6-9-19-8z"/>
<path class="c29" d="M1527 1012l6 2 6-8-6-3z"/>
<path class="c15" d="M1533 1014l13 1 6-4-13-5z"/>
<path class="c13" d="M1546 1015l13 5 6-7-13-2z"/>
<path class="c29" d="M1559 1020l25 20 6-11-12-10-13-6z"/>
<path class="c28" d="M1584 1040l12 11 6-10-12-12z"/>
<path class="c27" d="M1596 1051l12 11 6-10-12-11z"/>
<path class="c25" d="M1608 1062l25 19 6-8-13-10-12-11z"/>
<path class="cb" d="M1240 938l9-17 7-15-8 23z"/>
<path class="c8" d="M1249 921l11-4 6-14-10 3z"/>
<path class="c9" d="M1260 917l10-3 7-14-11 3z"/>
<path class="c12" d="M1270 914l11-4 7-11-11 1z"/>
<path class="c22" d="M1281 910l11 0 8-8-12-3z"/>
<path class="c21" d="M1292 910l12 4 8-4-12-8z"/>
<path class="c16" d="M1304 914l13 9 7-4-12-9z"/>
<path class="c17" d="M1317 923l12 10 7-5-12-9z"/>
<path class="c19" d="M1329 933l6 5 7-6-6-4z"/>
<path class="c22" d="M1335 938l6 5 7-7-6-4z"/>
<path class="c26" d="M1341 943l6 4 7-8-6-3z"/>
<path class="c29" d="M1347 947l6 4 7-9-6-3z"/>
<path class="c31" d="M1353 951l6 3 7-9-6-3z"/>
<path class="c32" d="M1359 954l6 4 7-10-6-3z"/>
<path class="c33" d="M1365 958l25 11 6-9-24-12z"/>
<path class="c32" d="M1390 969l18 8 7-10-19-7z"/>
<path class="c31" d="M1408 977l12 5 7-9-12-6z"/>
<path class="c30" d="M1420 982l69 27 6-9-68-27z"/>
<path class="c29" d="M1489 1009l19 7 6-9-19-7z"/>
<path class="c27" d="M1508 1016l6 2 6-8-6-3z"/>
<path class="c20" d="M1514 1018l6 1 7-7-7-2z"/>
<path class="c10" d="M1520 1019l7 0 6-5-6-2z"/>
<path class="c11" d="M1527 1019l13 3 6-7-13-1z"/>
<path class="c30" d="M1540 1022l13 9 6-11-13-5z"/>
<path class="c32" d="M1553 1031l12 10 7-11-13-10z"/>
<path class="c30" d="M1565 1041l13 10 6-11-12-10z"/>
<path class="c29" d="M1578 1051l24 21 25 18 6-9-25-19-24-22z"/>
<path class="c1" d="M1233 946l10-9 6-16-9 17z"/>
<path class="c8" d="M1243 937l10-3 7-17-11 4z"/>
<path class="c7" d="M1253 934l11-5 6-15-10 3z"/>
<path class="c8" d="M1264 929l10-4 7-15-11 4z"/>
<path class="c13" d="M1274 925l11-3 7-12-11 0z"/>
<path class="c26" d="M1285 922l12 0 7-8-12-4z"/>
<path class="c22" d="M1297 922l12 6 8-5-13-9z"/>
<path class="c16" d="M1309 928l19 14 7-4-18-15z"/>
<path class="c17" d="M1328 942l6 6 7-5-6-5z"/>
<path class="c19" d="M1334 948l6 5 7-6-6-4z"/>
<path class="c22" d="M1340 953l6 4 7-6-6-4z"/>
<path class="c25" d="M1346 957l6 5 7-8-6-3z"/>
<path class="c27" d="M1352 962l6 4 7-8-6-4z"/>
<path class="c28" d="M1358 966l6 3 7-8-6-3z"/>
<path class="c29" d="M1364 969l19 9 24 10 7-9-43-18z"/>
<path class="c30" d="M1407 988l69 28 6-9-68-28z"/>
<path class="c29" d="M1476 1016l12 5 7-9-13-5z"/>
<path class="c26" d="M1488 1021l7 2 6-9-6-2z"/>
<path class="c18" d="M1495 1023l6 1 7-8-7-2z"/>
<path class="c8" d="M1501 1024l7-1 6-5-6-2z"/>
<path class="c6" d="M1508 1023l6 0 6-4-6-1z"/>
<path class="c10" d="M1514 1023l7 3 6-7-7 0z"/>
<path class="c29" d="M1521 1026l13 8 6-12-13-3z"/>
<path class="c34" d="M1534 1034l12 9 7-12-13-9z"/>
<path class="c32" d="M1546 1043l13 9 6-11-12-10z"/>
<path class="c30" d="M1559 1052l12 10 7-11-13-10z"/>
<path class="c29" d="M1571 1062l13 11 6-11-12-11z"/>
<path class="c30" d="M1584 1073l25 19 6-10-25-20z"/>
<path class="c31" d="M1609 1092l12 8 6-10-12-8z"/>
<path class="c3" d="M1226 955l10-3 7-15-10 9z"/>
<path class="c10" d="M1236 952l11-2 6-16-10 3z"/>
<path class="c7" d="M1247 950l21-9 6-16-21 9z"/>
<path class="c8" d="M1268 941l11-4 6-15-11 3z"/>
<path class="c15" d="M1279 937l11-3 7-12-12 0z"/>
<path class="c29" d="M1290 934l12 1 7-7-12-6z"/>
<path class="c21" d="M1302 935l12 6 7-4-12-9z"/>
<path class="c15" d="M1314 941l6 5 8-4-7-5z"/>
<path class="c14" d="M1320 946l12 10 8-3-12-11z"/>
<path class="c15" d="M1332 956l7 6 7-5-6-4z"/>
<path class="c17" d="M1339 962l6 5 7-5-6-5z"/>
<path class="c19" d="M1345 967l6 5 7-6-6-4z"/>
<path class="c22" d="M1351 972l6 4 7-7-6-3z"/>
<path class="c24" d="M1357 976l6 4 8-8-7-3z"/>
<path class="c26" d="M1363 980l7 3 7-8-6-3z"/>
<path class="c27" d="M1370 983l6 3 7-8-6-3z"/>
<path class="c28" d="M1376 986l6 3 7-8-6-3z"/>
<path class="c29" d="M1382 989l31 14 7-10-31-12z"/>
<path class="c30" d="M1413 1003l50 20 6-9-49-21z"/>
<path class="c29" d="M1463 1023l6 3 7-10-7-2z"/>
<path class="c26" d="M1469 1026l6 2 7-9-6-3z"/>
<path class="c18" d="M1475 1028l7 0 6-7-6-2z"/>
<path class="c7" d="M1482 1028l6-1 7-4-7-2z"/>
<path class="c6" d="M1488 1027l7 0 6-3-6-1z"/>
<path class="c8" d="M1495 1027l6 3 7-7-7 1z"/>
<path class="c22" d="M1501 1030l7 3 6-10-6 0z"/>
<path class="c34" d="M1508 1033l6 4 7-11-7-3z"/>
<path class="c35" d="M1514 1037l13 8 7-11-13-8z"/>
<path class="c34" d="M1527 1045l13 9 6-11-12-9z"/>
<path class="c32" d="M1540 1054l12 10 7-12-13-9z"/>
<path class="c31" d="M1552 1064l13 10 6-12-12-10z"/>
<path class="c30" d="M1565 1074l25 19 6-10-25-21z"/>
<path class="c31" d="M1590 1093l13 10 6-11-13-9z"/>
<path class="c32" d="M1603 1103l12 8 6-11-12-8z"/>
<path class="c12" d="M1218 963l11 1 7-12-10 3z"/>
<path class="c17" d="M1229 964l11 1 7-15-11 2z"/>
<path class="c9" d="M1240 965l11-2 6-17-10 4z"/>
<path class="c6" d="M1251 963l21-9 7-17-22 9z"/>
<path class="c8" d="M1272 954l11-4 7-16-11 3z"/>
<path class="c16" d="M1283 950l11-3 8-12-12-1z"/>
<path class="c28" d="M1294 947l12 2 8-8-12-6z"/>
<path class="c21" d="M1306 949l6 2 8-5-6-5z"/>
<path class="c17" d="M1312 951l6 4 8-4-6-5z"/>
<path class="c15" d="M1318 955l7 5 7-4-6-5z"/>
<path class="c14" d="M1325 960l12 10 8-3-13-11z"/>
<path class="c15" d="M1337 970l7 6 7-4-6-5z"/>
<path class="c16" d="M1344 976l6 5 7-5-6-4z"/>
<path class="c19" d="M1350 981l6 5 7-6-6-4z"/>
<path class="c22" d="M1356 986l6 4 8-7-7-3z"/>
<path class="c24" d="M1362 990l7 4 7-8-6-3z"/>
<path class="c26" d="M1369 994l6 3 7-8-6-3z"/>
<path class="c27" d="M1375 997l6 4 7-9-6-3z"/>
<path class="c28" d="M1381 1001l6 3 7-9-6-3z"/>
<path class="c29" d="M1387 1004l25 11 7-10-25-10z"/>
<path class="c30" d="M1412 1015l25 10 7-10-25-10z"/>
<path class="c29" d="M1437 1025l13 5 6-9-12-6z"/>
<path class="c27" d="M1450 1030l6 2 7-9-7-2z"/>
<path class="c18" d="M1456 1032l6 1 7-7-6-3z"/>
<path class="c8" d="M1462 1033l7-1 6-4-6-2z"/>
<path class="c5" d="M1469 1032l6 0 7-4-7 0z"/>
<path class="c8" d="M1475 1032l7 2 6-7-6 1z"/>
<path class="c21" d="M1482 1034l6 3 7-10-7 0z"/>
<path class="c34" d="M1488 1037l7 4 6-11-6-3z"/>
<path class="c36" d="M1495 1041l13 8 6-12-13-7z"/>
<path class="c35" d="M1508 1049l12 8 7-12-13-8z"/>
<path class="c34" d="M1520 1057l13 9 7-12-13-9z"/>
<path class="c33" d="M1533 1066l13 9 6-11-12-10z"/>
<path class="c31" d="M1546 1075l13 10 6-11-13-10z"/>
<path class="c30" d="M1559 1085l12 10 7-11-13-10z"/>
<path class="c31" d="M1571 1095l13 9 6-11-12-9z"/>
<path class="c32" d="M1584 1104l25 17 6-10-25-18z"/>
<path class="c22" d="M1211 972l11 3 7-11-11-1z"/>
<path class="c25" d="M1222 975l11 3 7-13-11-1z"/>
<path class="c16" d="M1233 978l11 0 7-15-11 2z"/>
<path class="c9" d="M1244 978l11-1 6-18-10 4z"/>
<path class="c6" d="M1255 977l21-10 7-17-22 9z"/>
<path class="c8" d="M1276 967l11-4 7-16-11 3z"/>
<path class="c17" d="M1287 963l12-2 7-12-12-2z"/>
<path class="c28" d="M1299 961l6 0 6 1 7-7-12-6z"/>
<path class="c21" d="M1311 962l6 3 8-5-7-5z"/>
<path class="c17" d="M1317 965l6 4 8-4-6-5z"/>
<path class="c15" d="M1323 969l7 5 7-4-6-5z"/>
<path class="c14" d="M1330 974l12 11 8-4-13-11z"/>
<path class="c15" d="M1342 985l7 6 7-5-6-5z"/>
<path class="c17" d="M1349 991l6 5 7-6-6-4z"/>
<path class="c20" d="M1355 996l6 5 8-7-7-4z"/>
<path class="c24" d="M1361 1001l7 4 7-8-6-3z"/>
<path class="c27" d="M1368 1005l6 4 7-8-6-4z"/>
<path class="c29" d="M1374 1009l6 4 7-9-6-3z"/>
<path class="c30" d="M1380 1013l6 3 7-10-6-2z"/>
<path class="c31" d="M1386 1016l7 3 7-10-7-3z"/>
<path class="c32" d="M1393 1019l31 14 7-11-31-13z"/>
<path class="c31" d="M1424 1033l6 2 7-10-6-3z"/>
<path class="c29" d="M1430 1035l7 2 6-10-6-2z"/>
<path class="c20" d="M1437 1037l6 1 7-8-7-3z"/>
<path class="c8" d="M1443 1038l6-2 7-4-6-2z"/>
<path class="c6" d="M1449 1036l7 0 6-3-6-1z"/>
<path class="c8" d="M1456 1036l6 3 7-7-7 1z"/>
<path class="c21" d="M1462 1039l7 3 6-10-6 0z"/>
<path class="c33" d="M1469 1042l6 3 7-11-7-2z"/>
<path class="c36" d="M1475 1045l26 15 7-11-26-15z"/>
<path class="c35" d="M1501 1060l13 9 6-12-12-8z"/>
<path class="c34" d="M1514 1069l13 8 6-11-13-9z"/>
<path class="c33" d="M1527 1077l12 10 7-12-13-9z"/>
<path class="c32" d="M1539 1087l13 9 7-11-13-10z"/>
<path class="c31" d="M1552 1096l26 19 6-11-25-19z"/>
<path class="c32" d="M1578 1115l25 17 6-11-25-17z"/>
<path class="c27" d="M1203 981l12 4 7-10-11-3z"/>
<path class="c29" d="M1215 985l11 4 7-11-11-3z"/>
<path class="c25" d="M1226 989l11 2 7-13-11 0z"/>
<path class="c16" d="M1237 991l11 1 7-15-11 1z"/>
<path class="c8" d="M1248 992l11-2 7-18-11 5z"/>
<path class="c6" d="M1259 990l22-10 6-17-11 4-10 5z"/>
<path class="c9" d="M1281 980l11-4 7-15-12 2z"/>
<path class="c14" d="M1292 976l6-1 7-14-6 0z"/>
<path class="c22" d="M1298 975l6 0 7-13-6-1z"/>
<path class="c30" d="M1304 975l6 0 6 2 7-8-12-7z"/>
<path class="c24" d="M1316 977l6 4 8-7-7-5z"/>
<path class="c20" d="M1322 981l6 5 8-7-6-5z"/>
<path class="c19" d="M1328 986l7 6 7-7-6-6z"/>
<path class="c20" d="M1335 992l6 7 8-8-7-6z"/>
<path class="c22" d="M1341 999l7 7 7-10-6-5z"/>
<path class="c27" d="M1348 1006l6 7 7-12-6-5z"/>
<path class="c31" d="M1354 1013l7 6 7-14-7-4z"/>
<path class="c33" d="M1361 1019l6 6 7-16-6-4z"/>
<path class="c32" d="M1367 1025l6 4 7-16-6-4z"/>
<path class="c30" d="M1373 1029l7 5 6-18-6-3z"/>
<path class="c28" d="M1380 1034l6 3 7-18-7-3z"/>
<path class="c26" d="M1386 1037l6 3 7-18-6-3z"/>
<path class="c25" d="M1392 1040l6 3 7-18-6-3z"/>
<path class="c24" d="M1398 1043l19 8 7-18-19-8z"/>
<path class="c23" d="M1417 1051l6 0 7-16-6-2z"/>
<path class="c17" d="M1423 1051l7-2 7-12-7-2z"/>
<path class="c13" d="M1430 1049l6-1 7-10-6-1z"/>
<path class="c11" d="M1436 1048l6 1 7-13-6 2z"/>
<path class="c20" d="M1442 1049l7 1 7-14-7 0z"/>
<path class="c32" d="M1449 1050l6 2 7-13-6-3z"/>
<path class="c36" d="M1455 1052l7 2 7-12-7-3z"/>
<path class="c37" d="M1462 1054l13 7 7-12-13-7z"/>
<path class="c36" d="M1475 1061l19 11 7-12-19-11z"/>
<path class="c35" d="M1494 1072l13 8 7-11-13-9z"/>
<path class="c34" d="M1507 1080l13 9 7-12-13-8z"/>
<path class="c33" d="M1520 1089l13 9 6-11-12-10z"/>
<path class="c32" d="M1533 1098l51 37 6-11-51-37z"/>
<path class="c33" d="M1584 1135l13 7 6-10-13-8z"/>
<path class="c29" d="M1196 990l11 4 8-9-12-4z"/>
<path class="c30" d="M1207 994l12 5 7-10-11-4z"/>
<path class="c29" d="M1219 999l11 3 7-11-11-2z"/>
<path class="c24" d="M1230 1002l11 3 7-13-11-1z"/>
<path class="c16" d="M1241 1005l12 1 6-16-11 2z"/>
<path class="c8" d="M1253 1006l11-2 6-18-11 4z"/>
<path class="c6" d="M1264 1004l21-10 7-18-11 4-11 6z"/>
<path class="c8" d="M1285 994l6-2 7-17-6 1z"/>
<path class="c11" d="M1291 992l6-1 7-16-6 0z"/>
<path class="c17" d="M1297 991l6 0 7-16-6 0z"/>
<path class="c27" d="M1303 991l6 0 7-14-6-2z"/>
<path class="c36" d="M1309 991l6 3 7-13-6-4z"/>
<path class="c33" d="M1315 994l6 4 7-12-6-5z"/>
<path class="c25" d="M1321 998l7 8 7-14-7-6z"/>
<path class="c20" d="M1328 1006l6 9 7-16-6-7z"/>
<path class="c18" d="M1334 1015l7 10 7-19-7-7z"/>
<path class="c17" d="M1341 1025l7 10 6-22-6-7z"/>
<path class="c16" d="M1348 1035l6 9 7-25-7-6z"/>
<path class="c15" d="M1354 1044l7 7 6-26-6-6z"/>
<path class="c13" d="M1361 1051l6 6 6-28-6-4z"/>
<path class="c12" d="M1367 1057l6 6 7-29-7-5z"/>
<path class="c10" d="M1373 1063l6 4 7-30-6-3z"/>
<path class="c9" d="M1379 1067l13 8 6-32-12-6z"/>
<path class="c8" d="M1392 1075l6 2 6 1 7-29-13-6z"/>
<path class="c7" d="M1404 1078l12-2 7-25-6 0-6-2z"/>
<path class="c6" d="M1416 1076l13-1 6-2 7-24-6-1-13 3z"/>
<path class="c7" d="M1435 1073l7-3 7-20-7-1z"/>
<path class="c14" d="M1442 1070l6-2 7-16-6-2z"/>
<path class="c27" d="M1448 1068l7 0 7-14-7-2z"/>
<path class="c35" d="M1455 1068l6 2 7-12-6-4z"/>
<path class="c37" d="M1461 1070l13 7 7-12-13-7z"/>
<path class="c36" d="M1474 1077l13 7 7-12-13-7z"/>
<path class="c35" d="M1487 1084l26 17 7-12-26-17z"/>
<path class="c33" d="M1513 1101l26 18 7-11-26-19z"/>
<path class="c32" d="M1539 1119l26 18 6-11-25-18z"/>
<path class="c33" d="M1565 1137l26 16 6-11-26-16z"/>
<path class="c29" d="M1194 992l11 5 2-3-11-4z"/>
<path class="c30" d="M1205 997l23 8 2-3-23-8z"/>
<path class="c28" d="M1228 1005l12 3 1-3-11-3z"/>
<path class="c22" d="M1240 1008l11 2 2-4-12-1z"/>
<path class="c12" d="M1251 1010l11-1 2-5-11 2z"/>
<path class="c6" d="M1262 1009l11-4 1-5-10 4z"/>
<path class="c5" d="M1273 1005l11-6 1-5-11 6z"/>
<path class="c6" d="M1284 999l5-2 2-5-6 2z"/>
<path class="c8" d="M1289 997l6-1 2-5-6 1z"/>
<path class="c12" d="M1295 996l6-1 2-4-6 0z"/>
<path class="c20" d="M1301 995l6 0 2-4-6 0z"/>
<path class="c32" d="M1307 995l6 2 2-3-6-3z"/>
<path class="c35" d="M1313 997l6 5 2-4-6-4z"/>
<path class="c23" d="M1319 1002l7 6 2-2-7-8z"/>
<path class="c17" d="M1326 1008l7 10 1-3-6-9z"/>
<path class="c15" d="M1333 1018l13 20 2-3-14-20z"/>
<path class="c17" d="M1346 1038l6 8 2-2-6-9z"/>
<path class="c20" d="M1352 1046l7 8 2-3-7-7z"/>
<path class="c25" d="M1359 1054l6 7 2-4-6-6z"/>
<path class="c29" d="M1365 1061l6 5 2-3-6-6z"/>
<path class="c33" d="M1371 1066l7 5 1-4-6-4z"/>
<path class="c34" d="M1378 1071l12 8 2-4-13-8z"/>
<path class="c33" d="M1390 1079l6 2 2-4-6-2z"/>
<path class="c18" d="M1396 1081l6 0 2-3-6-1z"/>
<path class="c6" d="M1402 1081l7-1 1-3-6 1z"/>
<path class="c13" d="M1409 1080l6 0 1-4-6 1z"/>
<path class="c16" d="M1415 1080l6 1 2-5-7 0z"/>
<path class="c10" d="M1421 1081l6-1 2-5-6 1z"/>
<path class="c5" d="M1427 1080l7-3 1-4-6 2z"/>
<path class="c3" d="M1434 1077l6-3 2-4-7 3z"/>
<path class="c6" d="M1440 1074l7-2 1-4-6 2z"/>
<path class="c17" d="M1447 1072l6 0 2-4-7 0z"/>
<path class="c31" d="M1453 1072l7 2 1-4-6-2z"/>
<path class="c36" d="M1460 1074l26 13 1-3-26-14z"/>
<path class="c35" d="M1486 1087l26 17 1-3-26-17z"/>
<path class="c34" d="M1512 1104l12 9 2-3-13-9z"/>
<path class="c33" d="M1524 1113l13 9 2-3-13-9z"/>
<path class="c32" d="M1537 1122l13 9 2-3-13-9z"/>
<path class="c33" d="M1550 1131l26 17 13 8 2-3-13-7-26-18z"/>
<path class="c29" d="M1192 994l11 5 2-2-11-5z"/>
<path class="c30" d="M1203 999l23 8 2-2-23-8z"/>
<path class="c29" d="M1226 1007l12 4 2-3-12-3z"/>
<path class="c24" d="M1238 1011l11 2 2-3-11-2z"/>
<path class="c14" d="M1249 1013l11 0 2-4-11 1z"/>
<path class="c7" d="M1260 1013l11-4 2-4-11 4z"/>
<path class="c5" d="M1271 1009l11-5 2-5-11 6z"/>
<path class="c6" d="M1282 1004l6-2 1-5-5 2z"/>
<path class="c8" d="M1288 1002l5-2 2-4-6 1z"/>
<path class="c11" d="M1293 1000l6-1 2-4-6 1z"/>
<path class="c18" d="M1299 999l6 0 2-4-6 0z"/>
<path class="c30" d="M1305 999l6 2 2-4-6-2z"/>
<path class="c36" d="M1311 1001l7 3 1-2-6-5z"/>
<path class="c22" d="M1318 1004l6 6 2-2-7-6z"/>
<path class="c14" d="M1324 1010l7 9 2-1-7-10z"/>
<path class="c12" d="M1331 1019l6 9 2 0-6-10z"/>
<path class="c11" d="M1337 1028l7 9 2 1-7-10z"/>
<path class="c10" d="M1344 1037l13 16 2 1-13-16z"/>
<path class="c9" d="M1357 1053l13 13 1 0-12-12z"/>
<path class="c8" d="M1370 1066l12 9 2 0-13-9z"/>
<path class="c7" d="M1382 1075l6 3 2 1-6-4z"/>
<path class="cb" d="M1388 1078l6 2 13-1 2 1-13 1-6-2z"/>
<path class="c4" d="M1407 1079l6 2 2-1-6 0z"/>
<path class="c5" d="M1413 1081l6 1 2-1-6-1z"/>
<path class="c4" d="M1419 1082l7 0 1-2-6 1z"/>
<path class="c2" d="M1426 1082l12-5 2-3-13 6z"/>
<path class="c4" d="M1438 1077l7-2 2-3-7 2z"/>
<path class="c15" d="M1445 1075l6 0 2-3-6 0z"/>
<path class="c29" d="M1451 1075l7 2 2-3-7-2z"/>
<path class="c35" d="M1458 1077l6 2 2-3-6-2z"/>
<path class="c36" d="M1464 1079l20 11 2-3-20-11z"/>
<path class="c35" d="M1484 1090l26 17 2-3-26-17z"/>
<path class="c34" d="M1510 1107l13 9 1-3-12-9z"/>
<path class="c33" d="M1523 1116l13 9 1-3-13-9z"/>
<path class="c32" d="M1536 1125l13 9 1-3-13-9z"/>
<path class="c33" d="M1549 1134l26 17 13 8 1-3-13-8-26-17z"/>
<path class="c29" d="M1190 996l11 5 2-2-11-5z"/>
<path class="c30" d="M1201 1001l35 13 2-3-35-12z"/>
<path class="c26" d="M1236 1014l11 2 2-3-11-2z"/>
<path class="c17" d="M1247 1016l12 1 1-4-11 0z"/>
<path class="c8" d="M1259 1017l11-3 1-5-11 4z"/>
<path class="c5" d="M1270 1014l11-5 1-5-11 5z"/>
<path class="c6" d="M1281 1009l5-2 2-5-6 2z"/>
<path class="c7" d="M1286 1007l6-3 1-4-5 2z"/>
<path class="c9" d="M1292 1004l6-1 1-4-6 1z"/>
<path class="c15" d="M1298 1003l5 0 2-4-6 0z"/>
<path class="c27" d="M1303 1003l6 1 2-3-6-2z"/>
<path class="c33" d="M1309 1004l7 2 2-2-7-3z"/>
<path class="c17" d="M1316 1006l6 5 2-1-6-6z"/>
<path class="c11" d="M1322 1011l7 7 2 1-7-9z"/>
<path class="c9" d="M1329 1018l6 8 2 2-6-9z"/>
<path class="c8" d="M1335 1026l7 8 2 3-7-9z"/>
<path class="cb" d="M1342 1034l19 21 19 15 6 3 13 0 25 8 6-1 2 0-6 2-7 0-12-3-13 1-6-2-12-7-13-11-19-23z"/>
<path class="c0" d="M1430 1080l7-2 1-1-6 3z"/>
<path class="c2" d="M1437 1078l6-1 2-2-7 2z"/>
<path class="c13" d="M1443 1077l7 0 1-2-6 0z"/>
<path class="c28" d="M1450 1077l6 2 2-2-7-2z"/>
<path class="c34" d="M1456 1079l7 3 1-3-6-2z"/>
<path class="c36" d="M1463 1082l19 11 2-3-20-11z"/>
<path class="c35" d="M1482 1093l26 17 2-3-26-17z"/>
<path class="c34" d="M1508 1110l13 9 2-3-13-9z"/>
<path class="c33" d="M1521 1119l39 27 26 15 2-2-26-16-39-27z"/>
<path class="c29" d="M1188 999l11 4 2-2-11-5z"/>
<path class="c30" d="M1199 1003l35 13 2-2-35-13z"/>
<path class="c27" d="M1234 1016l11 3 2-3-11-2z"/>
<path class="c19" d="M1245 1019l12 1 2-3-12-1z"/>
<path class="c10" d="M1257 1020l11-1 2-5-11 3z"/>
<path class="c6" d="M1268 1019l11-5 2-5-11 5z"/>
<path class="c5" d="M1279 1014l5-3 2-4-5 2z"/>
<path class="c6" d="M1284 1011l6-2 2-5-6 3z"/>
<path class="c8" d="M1290 1009l6-2 2-4-6 1z"/>
<path class="c12" d="M1296 1007l6-1 1-3-5 0z"/>
<path class="c20" d="M1302 1006l6 0 1-2-6-1z"/>
<path class="c23" d="M1308 1006l6 2 2-2-7-2z"/>
<path class="c11" d="M1314 1008l6 3 2 0-6-5z"/>
<path class="c8" d="M1320 1011l6 5 3 2-7-7z"/>
<path class="cb" d="M1326 1016l33 29 19 15 6 2 13 1 32 16 6 0 2-1-7 2-6 1-25-8-13 0-6-3-13-9-12-12-26-31z"/>
<path class="c3" d="M1435 1079l6 0 2-2-6 1z"/>
<path class="c13" d="M1441 1079l7 1 2-3-7 0z"/>
<path class="c28" d="M1448 1080l6 2 2-3-6-2z"/>
<path class="c34" d="M1454 1082l7 3 2-3-7-3z"/>
<path class="c36" d="M1461 1085l19 11 2-3-19-11z"/>
<path class="c35" d="M1480 1096l26 17 2-3-26-17z"/>
<path class="c34" d="M1506 1113l13 9 2-3-13-9z"/>
<path class="c33" d="M1519 1122l39 27 27 15 1-3-26-15-39-27z"/>
<path class="c30" d="M1186 1001l46 18 2-3-46-17z"/>
<path class="c28" d="M1232 1019l12 3 1-3-11-3z"/>
<path class="c22" d="M1244 1022l11 2 2-4-12-1z"/>
<path class="c12" d="M1255 1024l11-1 2-4-11 1z"/>
<path class="c6" d="M1266 1023l11-4 2-5-11 5z"/>
<path class="c5" d="M1277 1019l6-3 1-5-5 3z"/>
<path class="c6" d="M1283 1016l5-2 2-5-6 2z"/>
<path class="c7" d="M1288 1014l6-3 2-4-6 2z"/>
<path class="c9" d="M1294 1011l6-1 2-4-6 1z"/>
<path class="c13" d="M1300 1010l6-1 2-3-6 0z"/>
<path class="c11" d="M1306 1009l6 0 2-1-6-2z"/>
<path class="c6" d="M1312 1009l6 1 2 1-6-3z"/>
<path class="cb" d="M1318 1010l6 2 13 6 38 27 13 2 13 6 13 9 13 14 6 3 2 0-6 0-32-16-13-1-6-2-13-9-39-35-6-5z"/>
<path class="c4" d="M1433 1079l7 1 1-1-6 0z"/>
<path class="c15" d="M1440 1080l6 2 2-2-7-1z"/>
<path class="c28" d="M1446 1082l7 3 1-3-6-2z"/>
<path class="c34" d="M1453 1085l6 3 2-3-7-3z"/>
<path class="c36" d="M1459 1088l20 11 1-3-19-11z"/>
<path class="c35" d="M1479 1099l26 17 1-3-26-17z"/>
<path class="c34" d="M1505 1116l13 9 1-3-13-9z"/>
<path class="c33" d="M1518 1125l39 26 26 16 2-3-27-15-39-27z"/>
<path class="c30" d="M1184 1003l46 19 2-3-46-18z"/>
<path class="c29" d="M1230 1022l12 3 2-3-12-3z"/>
<path class="c24" d="M1242 1025l11 2 2-3-11-2z"/>
<path class="c14" d="M1253 1027l12 0 1-4-11 1z"/>
<path class="c7" d="M1265 1027l11-3 1-5-11 4z"/>
<path class="c5" d="M1276 1024l11-6 1-4-11 5z"/>
<path class="c6" d="M1287 1018l17-7 2-2-6 1-12 4z"/>
<path class="c4" d="M1304 1011l6-2 2 0-6 0z"/>
<path class="cb" d="M1310 1009l18-3 2 9-12-5-6-1zM1328 1006l4 0 2 1 3 11-7-3zM1341 1009l2 13-6-4-3-11zM1347 1012l3 15-7-5-2-13zM1353 1015l3 17-6-5-3-15zM1360 1018l3 19-7-5-3-17zM1360 1018l6 4 3 19-6-4-3-19zM1366 1022l7 3 2 20-6-4zM1373 1025l5 0 1 1 3 20-7-1zM1386 1028l2 19-6-1-3-20zM1392 1031l2 18-6-2-2-19zM1395 1032l4 3 2 18-7-4-2-18zM1399 1035l6 5 7 7 13 26 6 6 2 0-6-3-13-14-13-9z"/>
<path class="c7" d="M1431 1079l7 3 2-2-7-1z"/>
<path class="c18" d="M1438 1082l6 3 2-3-6-2z"/>
<path class="c30" d="M1444 1085l7 3 2-3-7-3z"/>
<path class="c34" d="M1451 1088l6 3 2-3-6-3z"/>
<path class="c35" d="M1457 1091l7 4 2-3-7-4z"/>
<path class="c36" d="M1464 1095l13 7 2-3-13-7z"/>
<path class="c35" d="M1477 1102l26 17 2-3-26-17z"/>
<path class="c34" d="M1503 1119l13 9 2-3-13-9z"/>
<path class="c33" d="M1516 1128l39 26 26 16 2-3-26-16-39-26z"/>
<path class="c30" d="M1182 1005l35 15 23 8 2-3-23-8-35-14z"/>
<path class="c26" d="M1240 1028l12 2 1-3-11-2z"/>
<path class="c17" d="M1252 1030l11 1 2-4-12 0z"/>
<path class="c8" d="M1263 1031l11-3 2-4-11 3z"/>
<path class="c5" d="M1274 1028l17-9 1-4-16 9z"/>
<path class="c4" d="M1291 1019l5-3 2-3-6 2z"/>
<path class="c3" d="M1296 1016l6-3 2-2-6 2z"/>
<path class="c1" d="M1302 1013l6-4 2 0-6 2z"/>
<path class="cb" d="M1308 1009l5-4 3 3-6 1zM1313 1005l3-2 4 0 2 4-6 1zM1327 1005l1 1-6 1-2-4z"/>
<path class="c14" d="M1332 1006l-4 0-1-1z"/>
<path class="c21" d="M1366 1020l0 2-6-4z"/>
<path class="c12" d="M1373 1023l0 2-7-3 0-2z"/>
<path class="c16" d="M1378 1025l-5 0 0-2z"/>
<path class="c24" d="M1399 1034l0 1-4-3z"/>
<path class="c9" d="M1405 1037l0 3-6-5 0-1z"/>
<path class="cb" d="M1411 1040l1 7-7-7 0-3zM1415 1044l2 4 1 12-6-13-1-7zM1417 1048l6 20 7 11 1 0-6-6-7-13z"/>
<path class="c10" d="M1430 1079l6 4 2-1-7-3z"/>
<path class="c22" d="M1436 1083l7 4 1-2-6-3z"/>
<path class="c31" d="M1443 1087l6 3 2-2-7-3z"/>
<path class="c35" d="M1449 1090l7 4 1-3-6-3z"/>
<path class="c36" d="M1456 1094l19 11 2-3-20-11z"/>
<path class="c35" d="M1475 1105l26 17 2-3-26-17z"/>
<path class="c34" d="M1501 1122l13 9 2-3-13-9z"/>
<path class="c33" d="M1514 1131l39 26 27 15 1-2-26-16-39-26z"/>
<path class="c30" d="M1180 1008l35 14 23 9 2-3-23-8-35-15z"/>
<path class="c27" d="M1238 1031l12 2 2-3-12-2z"/>
<path class="c19" d="M1250 1033l11 1 2-3-11-1z"/>
<path class="c9" d="M1261 1034l11-1 2-5-11 3z"/>
<path class="c5" d="M1272 1033l6-3 1-4-5 2z"/>
<path class="c4" d="M1278 1030l11-7 2-4-12 7z"/>
<path class="c3" d="M1289 1023l5-4 2-3-5 3z"/>
<path class="c1" d="M1294 1019l6-4 2-2-6 3z"/>
<path class="cb" d="M1300 1015l5-6 3 0-6 4zM1305 1009l5-5 2-1 1 2-5 4z"/>
<path class="c5" d="M1316 1003l-3 2-1-2z"/>
<path class="c11" d="M1416 1045l1 3-2-4z"/>
<path class="c9" d="M1418 1048l3 15 2 5-6-20-1-3zM1421 1063l7 16 2 0-7-11z"/>
<path class="c12" d="M1428 1079l6 6 2-2-6-4z"/>
<path class="c25" d="M1434 1085l7 4 2-2-7-4z"/>
<path class="c32" d="M1441 1089l6 4 2-3-6-3z"/>
<path class="c35" d="M1447 1093l7 4 2-3-7-4z"/>
<path class="c36" d="M1454 1097l20 11 1-3-19-11z"/>
<path class="c35" d="M1474 1108l26 17 1-3-26-17z"/>
<path class="c34" d="M1500 1125l13 9 1-3-13-9z"/>
<path class="c33" d="M1513 1134l39 26 26 15 2-3-27-15-39-26z"/>
<path class="c30" d="M1178 1010l58 23 2-2-23-9-35-14z"/>
<path class="c28" d="M1236 1033l12 3 2-3-12-2z"/>
<path class="c21" d="M1248 1036l11 2 2-4-11-1z"/>
<path class="c11" d="M1259 1038l12-1 1-4-11 1z"/>
<path class="c6" d="M1271 1037l5-2 2-5-6 3z"/>
<path class="c4" d="M1276 1035l6-4 1-4-5 3z"/>
<path class="c3" d="M1282 1031l5-4 2-4-6 4z"/>
<path class="c2" d="M1287 1027l6-4 1-4-5 4z"/>
<path class="c1" d="M1293 1023l5-6 2-2-6 4z"/>
<path class="cb" d="M1298 1017l5-8 2 0-5 6zM1303 1009l2-4 5-1-5 5z"/>
<path class="c10" d="M1418 1052l2 6 1 5-3-15zM1420 1058l6 21 2 0-7-16z"/>
<path class="c13" d="M1426 1079l7 8 1-2-6-6z"/>
<path class="c26" d="M1433 1087l6 5 2-3-7-4z"/>
<path class="c33" d="M1439 1092l7 4 1-3-6-4z"/>
<path class="c35" d="M1446 1096l6 4 2-3-7-4z"/>
<path class="c36" d="M1452 1100l20 11 2-3-20-11z"/>
<path class="c35" d="M1472 1111l26 17 2-3-26-17z"/>
<path class="c34" d="M1498 1128l26 18 2-3-26-18z"/>
<path class="c33" d="M1524 1146l26 17 27 15 1-3-26-15-26-17z"/>
<path class="c30" d="M1176 1012l58 24 2-3-58-23z"/>
<path class="c29" d="M1234 1036l12 3 2-3-12-3z"/>
<path class="c23" d="M1246 1039l12 2 1-3-11-2z"/>
<path class="c13" d="M1258 1041l11 0 2-4-12 1z"/>
<path class="c7" d="M1269 1041l5-2 2-4-5 2z"/>
<path class="c4" d="M1274 1039l6-3 2-5-6 4z"/>
<path class="c3" d="M1280 1036l5-4 2-5-5 4z"/>
<path class="c1" d="M1285 1032l6-6 2-3-6 4z"/>
<path class="c0" d="M1291 1026l5-8 2-1-5 6z"/>
<path class="cb" d="M1296 1018l5-9 2 0-5 8z"/>
<path class="c3" d="M1301 1009l1-2 3-2-2 4z"/>
<path class="c9" d="M1418 1054l2 4-2-6z"/>
<path class="c10" d="M1418 1055l6 24 2 0-6-21-2-4z"/>
<path class="c13" d="M1424 1079l7 10 2-2-7-8z"/>
<path class="c26" d="M1431 1089l6 6 2-3-6-5z"/>
<path class="c34" d="M1437 1095l7 4 2-3-7-4z"/>
<path class="c35" d="M1444 1099l6 4 2-3-6-4z"/>
<path class="c36" d="M1450 1103l20 11 2-3-20-11z"/>
<path class="c35" d="M1470 1114l26 17 2-3-26-17z"/>
<path class="c34" d="M1496 1131l26 17 2-2-26-18z"/>
<path class="c33" d="M1522 1148l27 18 26 15 2-3-27-15-26-17z"/>
<path class="c30" d="M1174 1015l59 23 1-2-58-24z"/>
<path class="c29" d="M1233 1038l11 4 2-3-12-3z"/>
<path class="c25" d="M1244 1042l12 2 2-3-12-2z"/>
<path class="c15" d="M1256 1044l11 0 2-3-11 0z"/>
<path class="c7" d="M1267 1044l6-1 1-4-5 2z"/>
<path class="c4" d="M1273 1043l5-3 2-4-6 3z"/>
<path class="c2" d="M1278 1040l6-4 1-4-5 4z"/>
<path class="c1" d="M1284 1036l5-7 2-3-6 6z"/>
<path class="c0" d="M1289 1029l5-8 2-3-5 8z"/>
<path class="cb" d="M1294 1021l5-12 2 0-5 9z"/>
<path class="c11" d="M1299 1009l3-2-1 2zM1418 1058l5 22 1-1-6-24z"/>
<path class="c13" d="M1423 1080l6 12 2-3-7-10z"/>
<path class="c25" d="M1429 1092l7 5 1-2-6-6z"/>
<path class="c34" d="M1436 1097l6 5 2-3-7-4z"/>
<path class="c35" d="M1442 1102l7 4 1-3-6-4z"/>
<path class="c36" d="M1449 1106l19 11 2-3-20-11z"/>
<path class="c35" d="M1468 1117l27 17 1-3-26-17z"/>
<path class="c34" d="M1495 1134l26 17 1-3-26-17z"/>
<path class="c33" d="M1521 1151l26 18 26 15 2-3-26-15-27-18z"/>
<path class="c30" d="M1172 1017l47 19 23 9 2-3-23-8-47-19z"/>
<path class="c26" d="M1242 1045l12 3 2-4-12-2z"/>
<path class="c17" d="M1254 1048l11 0 2-4-11 0z"/>
<path class="c8" d="M1265 1048l6-1 2-4-6 1z"/>
<path class="c5" d="M1271 1047l6-3 1-4-5 3z"/>
<path class="c2" d="M1277 1044l5-4 2-4-6 4z"/>
<path class="c1" d="M1282 1040l5-7 2-4-5 7z"/>
<path class="c0" d="M1287 1033l5-9 2-3-5 8z"/>
<path class="cb" d="M1292 1024l5-13 1-1 1-1-5 12z"/>
<path class="c26" d="M1299 1009l-1 1z"/>
<path class="c11" d="M1417 1061l4 20 2-1-5-22z"/>
<path class="c12" d="M1421 1081l6 13 2-2-6-12z"/>
<path class="c24" d="M1427 1094l7 6 2-3-7-5z"/>
<path class="c33" d="M1434 1100l6 5 2-3-6-5z"/>
<path class="c35" d="M1440 1105l7 4 2-3-7-4z"/>
<path class="c36" d="M1447 1109l20 11 1-3-19-11z"/>
<path class="c35" d="M1467 1120l26 17 2-3-27-17z"/>
<path class="c34" d="M1493 1137l52 34 2-2-52-35z"/>
<path class="c33" d="M1545 1171l27 15 1-2-26-15z"/>
<path class="c30" d="M1170 1019l47 20 23 9 2-3-23-9-47-19z"/>
<path class="c27" d="M1240 1048l12 3 2-3-12-3z"/>
<path class="c18" d="M1252 1051l12 0 1-3-11 0z"/>
<path class="c9" d="M1264 1051l5 0 2-4-6 1z"/>
<path class="c5" d="M1269 1051l6-3 2-4-6 3z"/>
<path class="c2" d="M1275 1048l5-4 2-4-5 4z"/>
<path class="c1" d="M1280 1044l5-7 2-4-5 7z"/>
<path class="c0" d="M1285 1037l5-10 2-3-5 9z"/>
<path class="cb" d="M1290 1027l5-13 2-3-5 13z"/>
<path class="c11" d="M1416 1064l3 19 2-2-4-20z"/>
<path class="c12" d="M1419 1083l7 14 1-3-6-13z"/>
<path class="c24" d="M1426 1097l6 6 2-3-7-6z"/>
<path class="c33" d="M1432 1103l7 5 1-3-6-5z"/>
<path class="c35" d="M1439 1108l6 4 2-3-7-4z"/>
<path class="c36" d="M1445 1112l20 12 2-4-20-11z"/>
<path class="c35" d="M1465 1124l26 16 2-3-26-17z"/>
<path class="c34" d="M1491 1140l53 34 1-3-52-34z"/>
<path class="c33" d="M1544 1174l26 15 2-3-27-15z"/>
<path class="c30" d="M1168 1021l47 20 24 9 1-2-23-9-47-20z"/>
<path class="c28" d="M1239 1050l11 4 2-3-12-3z"/>
<path class="c20" d="M1250 1054l12 1 2-4-12 0z"/>
<path class="c11" d="M1262 1055l6-1 1-3-5 0z"/>
<path class="c6" d="M1268 1054l5-2 2-4-6 3z"/>
<path class="c3" d="M1273 1052l5-4 2-4-5 4z"/>
<path class="c1" d="M1278 1048l6-6 1-5-5 7z"/>
<path class="c0" d="M1284 1042l5-10 1-5-5 10z"/>
<path class="cb" d="M1289 1032l4-16 1-1 1-1-5 13z"/>
<path class="c31" d="M1293 1016l1-1z"/>
<path class="c11" d="M1414 1067l3 18 2-2-3-19z"/>
<path class="c12" d="M1417 1085l7 14 2-2-7-14z"/>
<path class="c23" d="M1424 1099l6 7 2-3-6-6z"/>
<path class="c33" d="M1430 1106l7 5 2-3-7-5z"/>
<path class="c35" d="M1437 1111l6 4 2-3-6-4z"/>
<path class="c36" d="M1443 1115l20 12 2-3-20-12z"/>
<path class="c35" d="M1463 1127l26 16 2-3-26-16z"/>
<path class="c34" d="M1489 1143l53 34 2-3-53-34z"/>
<path class="c33" d="M1542 1177l27 15 1-3-26-15z"/>
<path class="c30" d="M1166 1024l71 29 2-3-24-9-47-20z"/>
<path class="c28" d="M1237 1053l11 3 2-2-11-4z"/>
<path class="c22" d="M1248 1056l12 2 2-3-12-1z"/>
<path class="c12" d="M1260 1058l6 0 2-4-6 1z"/>
<path class="c6" d="M1266 1058l5-2 2-4-5 2z"/>
<path class="c3" d="M1271 1056l6-3 1-5-5 4z"/>
<path class="c1" d="M1277 1053l5-7 2-4-6 6z"/>
<path class="c0" d="M1282 1046l5-10 2-4-5 10z"/>
<path class="cb" d="M1287 1036l4-16 2-4-4 16z"/>
<path class="c29" d="M1291 1020l1-1 1-3z"/>
<path class="c11" d="M1412 1069l3 18 2-2-3-18z"/>
<path class="c12" d="M1415 1087l7 15 2-3-7-14z"/>
<path class="c22" d="M1422 1102l7 7 1-3-6-7z"/>
<path class="c33" d="M1429 1109l6 5 2-3-7-5z"/>
<path class="c35" d="M1435 1114l13 8 2-3-13-8z"/>
<path class="c36" d="M1448 1122l13 8 2-3-13-8z"/>
<path class="c35" d="M1461 1130l40 25 2-3-40-25z"/>
<path class="c34" d="M1501 1155l39 25 2-3-39-25z"/>
<path class="c33" d="M1540 1180l27 15 2-3-27-15z"/>
<path class="c30" d="M1164 1026l71 29 2-2-71-29z"/>
<path class="c29" d="M1235 1055l12 4 1-3-11-3z"/>
<path class="c23" d="M1247 1059l11 2 2-3-12-2z"/>
<path class="c14" d="M1258 1061l6 0 2-3-6 0z"/>
<path class="c7" d="M1264 1061l6-1 1-4-5 2z"/>
<path class="c3" d="M1270 1060l5-3 2-4-6 3z"/>
<path class="c1" d="M1275 1057l5-6 2-5-5 7z"/>
<path class="c0" d="M1280 1051l5-11 2-4-5 10z"/>
<path class="cb" d="M1285 1040l5-15 1-5-4 16z"/>
<path class="c15" d="M1290 1025l0-3 2-3-1 1z"/>
<path class="c11" d="M1411 1072l2 17 2-2-3-18z"/>
<path class="c12" d="M1413 1089l7 16 2-3-7-15z"/>
<path class="c22" d="M1420 1105l7 7 2-3-7-7z"/>
<path class="c32" d="M1427 1112l6 5 2-3-6-5z"/>
<path class="c35" d="M1433 1117l13 8 2-3-13-8z"/>
<path class="c36" d="M1446 1125l14 8 1-3-13-8z"/>
<path class="c35" d="M1460 1133l39 25 2-3-40-25z"/>
<path class="c34" d="M1499 1158l26 17 27 16 2-3-27-16-26-17z"/>
<path class="c33" d="M1552 1191l13 7 2-3-13-7z"/>
<path class="c30" d="M1161 1031l70 29 4-5-71-29z"/>
<path class="c29" d="M1231 1060l12 5 4-6-12-4z"/>
<path class="c25" d="M1243 1065l12 2 3-6-11-2z"/>
<path class="c16" d="M1255 1067l5 1 4-7-6 0z"/>
<path class="c8" d="M1260 1068l6-1 4-7-6 1z"/>
<path class="c4" d="M1266 1067l5-3 4-7-5 3z"/>
<path class="c1" d="M1271 1064l6-5 3-8-5 6z"/>
<path class="c0" d="M1277 1059l5-9 3-10-5 11z"/>
<path class="cb" d="M1282 1050l4-16 4-9-5 15z"/>
<path class="c3" d="M1286 1034l1-7 3-5 0 3z"/>
<path class="c11" d="M1407 1077l3 17 3-5-2-17z"/>
<path class="c12" d="M1410 1094l7 16 3-5-7-16z"/>
<path class="c21" d="M1417 1110l6 7 4-5-7-7z"/>
<path class="c31" d="M1423 1117l7 5 3-5-6-5z"/>
<path class="c34" d="M1430 1122l6 5 4-6-7-4z"/>
<path class="c35" d="M1436 1127l60 37 3-6-59-37z"/>
<path class="c34" d="M1496 1164l26 17 27 15 3-5-27-16-26-17z"/>
<path class="c33" d="M1549 1196l13 7 3-5-13-7z"/>
<path class="c30" d="M1156 1035l71 30 4-5-70-29z"/>
<path class="c29" d="M1227 1065l12 5 4-5-12-5z"/>
<path class="c26" d="M1239 1070l12 3 4-6-12-2z"/>
<path class="c19" d="M1251 1073l6 1 3-6-5-1z"/>
<path class="c11" d="M1257 1074l5-1 4-6-6 1z"/>
<path class="c5" d="M1262 1073l6-2 3-7-5 3z"/>
<path class="c1" d="M1268 1071l5-4 4-8-6 5z"/>
<path class="c0" d="M1273 1067l5-9 4-8-5 9z"/>
<path class="cb" d="M1278 1058l5-14 3-10-4 16z"/>
<path class="c0" d="M1283 1044l2-12 2-5-1 7z"/>
<path class="c11" d="M1403 1083l3 16 4-5-3-17zM1406 1099l7 16 4-5-7-16z"/>
<path class="c20" d="M1413 1115l7 8 3-6-6-7z"/>
<path class="c30" d="M1420 1123l6 5 4-6-7-5z"/>
<path class="c33" d="M1426 1128l7 5 3-6-6-5z"/>
<path class="c35" d="M1433 1133l59 37 4-6-60-37z"/>
<path class="c34" d="M1492 1170l27 17 26 15 4-6-27-15-26-17z"/>
<path class="c33" d="M1545 1202l14 7 3-6-13-7z"/>
<path class="c30" d="M1152 1040l71 30 4-5-71-30z"/>
<path class="c29" d="M1223 1070l12 5 4-5-12-5z"/>
<path class="c27" d="M1235 1075l12 4 4-6-12-3z"/>
<path class="c20" d="M1247 1079l6 1 4-6-6-1z"/>
<path class="c13" d="M1253 1080l6 0 3-7-5 1z"/>
<path class="c5" d="M1259 1080l5-2 4-7-6 2z"/>
<path class="c2" d="M1264 1078l6-4 3-7-5 4z"/>
<path class="c0" d="M1270 1074l5-8 3-8-5 9z"/>
<path class="cb" d="M1275 1066l4-13 4-9-5 14zM1279 1053l3-15 3-6-2 12z"/>
<path class="c11" d="M1400 1088l2 15 4-4-3-16zM1402 1103l7 17 4-5-7-16z"/>
<path class="c18" d="M1409 1120l7 8 4-5-7-8z"/>
<path class="c28" d="M1416 1128l7 6 3-6-6-5z"/>
<path class="c32" d="M1423 1134l6 4 4-5-7-5z"/>
<path class="c34" d="M1429 1138l7 5 3-6-6-4z"/>
<path class="c35" d="M1436 1143l53 33 3-6-53-33z"/>
<path class="c34" d="M1489 1176l26 17 27 15 3-6-26-15-27-17z"/>
<path class="c33" d="M1542 1208l14 7 3-6-14-7z"/>
<path class="c30" d="M1148 1045l71 30 4-5-71-30z"/>
<path class="c29" d="M1219 1075l12 5 4-5-12-5z"/>
<path class="c27" d="M1231 1080l12 4 4-5-12-4z"/>
<path class="c22" d="M1243 1084l6 1 4-5-6-1z"/>
<path class="c14" d="M1249 1085l6 0 4-5-6 0z"/>
<path class="c6" d="M1255 1085l5-1 4-6-5 2z"/>
<path class="c2" d="M1260 1084l6-3 4-7-6 4z"/>
<path class="c0" d="M1266 1081l5-8 4-7-5 8z"/>
<path class="cb" d="M1271 1073l4-12 4-8-4 13zM1275 1061l4-17 3-6-3 15z"/>
<path class="c11" d="M1396 1093l3 14 3-4-2-15zM1399 1107l7 18 3-5-7-17z"/>
<path class="c17" d="M1406 1125l6 8 4-5-7-8z"/>
<path class="c25" d="M1412 1133l7 6 4-5-7-6z"/>
<path class="c30" d="M1419 1139l7 5 3-6-6-4z"/>
<path class="c32" d="M1426 1144l6 4 4-5-7-5z"/>
<path class="c34" d="M1432 1148l13 9 4-6-13-8z"/>
<path class="c35" d="M1445 1157l53 33 4-6-53-33z"/>
<path class="c34" d="M1498 1190l41 24 3-6-40-24z"/>
<path class="c33" d="M1539 1214l13 6 4-5-14-7z"/>
<path class="m" d="M1148 1045l97-112M1303 865l69-82M1172 1055l42-51 11-14 7-11 12-22 21-51 7-13 6-10 6-5 5-4 5-2 14-3 8-2 12-6 8-6 7-6 10-10 40-50M1195 1065l33-40 9-13 7-11 10-22 14-38 7-18 7-15 7-10 4-4 5-3 15-7 6-3 20-16 6-3 12-4 8-5 7-6 8-9 35-44M1219 1075l23-29 13-22 9-20 13-38 6-17 9-18 6-10 4-5 4-3 16-8 8-5 7-8 18-20 8-8 8-4 13-3 9-5 13-15 30-40M1243 1084l14-21 11-20 7-16 18-53 7-15 6-10 7-7 19-11 10-8 11-13 25-34 10-11 8-5 15-3 8-6 12-14 27-38M1266 1081l9-19M1300 1009l13-26 6-10 7-6 19-9 7-6 14-18 34-48 10-13 5-6 5-4 5-1 11-3 8-6 11-13 25-36M1321 1005l5 10 2 3 2 1M1337 1008l4-9 4-5 16-12 15-16 49-71 13-16 5-5 5-4 12-3 4-2 8-7 9-13 22-36M1348 1015l6 30 2 7 1 2 1 0M1368 1022l3-7 2-5 31-39 43-62 15-21 6-6 5-4 5-2 11-2 4-3 4-5 8-12 20-38M1373 1024l5 39 3 10 1 2 1 1M1395 1031l2-6 4-6 31-43 42-62 15-21 6-7 5-4 5-2 10-3 4-3 4-5 7-11 18-34M1399 1034l3 27 4 17M1418 1047l3-9 5-8 35-50 51-77 9-11 6-6 5-3 10-1 4-4 7-10 18-36M1419 1055l4 12M1433 1079l3-6 7-26 4-8 2-2 4-2 2-2 11-15 24-33 44-69 11-17 4-4 3-1 2 0 5 2 2 0 3-1 3-3 5-9 22-41M1419 1139l39-62 24-43 5-6 7-4 7-10 18-26 41-69 4-4 3-3 3 0 7 2 3-1 2-3 6-9 29-49M1445 1157l77-133 3-4 6-4 5-6 11-17 23-38 6-9 3-3 2-1 8 0 2-1 6-5 43-72M1472 1174l88-155 3-5 5-3 3-3 15-24 5-6 4-3 9-3 5-5 54-90M1498 1190l98-171 4-5 5-3 10-7 7-7 64-106M1525 1206l87-150 7-10 12-14 6-8 72-120M1552 1220l74-127 26-41 81-137M1148 1045l79 34 15 5 11 1 5 0 5-2 3-3 3-4 6-12 4-18M1396 1093l3 16 5 12 5 9 8 8 22 15 65 41 24 14 24 12M1164 1026l59 25 25 9 10 1 8 0 6-2 5-4M1282 1047l5-11 3-14M1411 1076l3 15 3 8 4 7 7 7 102 65 18 10 17 10M1180 1008l49 19 13 5 12 2 10 0 8-1 8-4 11-7M1299 1016l11-12M1418 1049l4 16 3 9 4 6 5 5 50 30 65 43 29 17M1196 990l34 12 11 3 10 1 7 0 7-2 19-9 8-3 7-1 7 0 6 1 5 3 5 4 5 6M1428 1076l5-2 10-5 6-1 8 1 9 4 15 7 21 13 62 44 27 16M1211 972l22 6 7 0 7 0 11-2 21-10 12-4 11-1 6 0 5 2 7 4 7 5 25 22 10 8 10 6 12 7 25 11 25 10 7 2 11-2 7 1 10 5 17 10 35 22 56 41 26 17M1226 955l5-4 10 0 9-2 23-10 11-3 11-2 9 2 7 4 8 5 25 21 11 8 11 7 14 7 30 14 61 24 9 2 10-1 4 0 6 2 6 3 15 9 17 11 53 42 24 17M1240 938l2-6M1248 922l24-9 10-3 9 0 9 2 11 7 25 20 12 8 17 11 18 8 100 41 24 9 11 3 13 0 7 2 19 13 46 39 24 17M1261 893l21-4 7 1 7 2 10 5 23 16 13 8 51 25 90 37 41 16 26 11 6 2 10 1 5 2 5 3 7 5 43 40 13 10M1275 873l10 1 10 4 32 15 48 19 40 18 91 38 30 11 16 7 15 8 22 13 15 7 4 4 14 17 8 8 8 7 11 6M1290 866l21 7 42 8 30 9 15 6 22 11 15 7 81 33 28 9 14 6 18 9 12 9 9 9 18 22 11 9 12 8 23 9M1299 867l1-2M1304 864l16 2 29-1 13 1 16 2 16 4 19 7 29 14 78 31 13 5 18 5 9 3 12 6 8 7 8 9 18 24 5 6 6 5 7 4 8 4 39 17M1309 857l6-1 13 3 14 1 49 0 14 1 13 2 13 4 17 9 10 4 77 27 24 6 7 4 7 6 23 32 5 6 7 5 8 5 16 8 50 22M1322 842l25 7 19 4 17 2 40 4 15 2 9 3 22 9 49 11 28 8 10 5 8 6 7 7 17 20 11 8 49 26 45 19M1335 827l23 7 18 5 52 10 18 4 13 5 18 10 10 4 15 4 29 5 9 3 7 3 18 12 11 6 36 16 57 29 34 15M1348 812l35 10 57 12 14 3 12 4 10 4 24 13 33 13 26 11 10 3 21 3 16 6 21 10 50 28 36 16M1360 797l33 10 61 10 17 4 15 5 71 28 39 13 15 6 25 12 52 30 35 16M1372 783l21 6 17 4 48 6 21 4 40 11 37 12 33 13 39 19 21 11 48 29 17 8 19 9"/>
<path class="r" d="M1300 866l8-2 9-4 8-6 10-11M1304 867l9-3 9-4 17-16M1309 867l18-8 16-15M1313 868l20-10 15-14M1318 868l19-10 15-13M1322 867l20-10 14-12M1327 867l20-10 14-12M1331 867l21-10 13-12M1335 866l21-9 13-12M1340 865l21-8 13-11M1344 865l21-8 13-11M1349 864l21-8 12-10M1353 864l21-8 13-10M1358 863l20-7 13-10M1362 863l21-7 12-10M1366 863l21-7 13-10M1371 862l20-6 13-10M1375 862l6-2 15-4 12-11M1380 862l6-2 14-4 6-4 7-7M1384 862l6-2 15-4 6-4 6-7M1389 862l6-2 14-4 6-4 6-7M1394 862l5-2 15-4 5-4 7-7M1398 863l5-3 15-3 6-5 6-7M1403 863l5-3 14-3 6-5 7-6M1407 863l5-2 15-4 6-4 6-7M1412 863l5-2 14-4 12-11M1416 864l5-2 15-4 12-12M1421 865l5-3 14-4 12-12M1425 865l20-6 12-12M1430 866l19-6 12-12M1435 868l19-7 11-13M1439 869l19-7 5-5 7-8M1444 871l18-7 6-5 6-8M1448 872l18-6 6-5 7-9M1453 874l18-7 5-5 7-9M1457 875l18-6 6-5 6-9M1462 876l18-6 5-5 7-9M1467 877l17-6 6-5 6-9M1471 877l18-5 5-5 7-9M1476 878l17-5 6-5 6-10M1480 879l18-5 5-5 7-10M1485 880l17-6 5-5 7-10M1489 880l18-5 5-6 6-10M1494 881l17-6 5-5 7-10M1499 881l16-5 6-6 6-10M1503 882l17-6 6-6 6-9M1508 883l16-6 6-6 6-10M1512 883l13-4 4-2 6-6 6-9M1517 884l17-6 5-6 6-10M1522 885l16-6 6-6 6-11M1526 885l6-2 8-1 3-2 5-5 6-12M1531 886l5-2 8 0 3-2 5-7 7-12M1536 887l4-2 7 1 3-2 6-6 7-15M1540 888l4-1 7 1 3-2 6-7 8-16M1545 889l9 2 4-2 5-8 9-18M1549 891l8 2 4-2 6-8 10-20M1554 893l6 2 5-2 16-30M1558 896l6 2 4-3 18-32M1562 899l5 1 5-3 18-33M1567 903l4-1 4-4 20-34M1571 906l4-1 4-5 20-36M1576 909l6-7 22-37M1580 912l7-9 21-37M1584 914l29-48M1589 915l28-48M1593 916l29-48M1598 917l28-48M1603 918l28-48M1607 919l28-48M1612 920l28-47M1616 921l28-47M1621 922l27-47M1625 923l28-46M1630 924l27-46M1634 925l28-45M1639 926l27-45M1643 927l27-44M1648 929l27-44M1653 930l25-43M1657 931l25-42M1662 932l24-40M1666 934l24-40M1671 935l23-39M1675 936l23-38M1680 937l22-37M1684 938l22-36M1689 939l21-35M1693 940l21-34M1698 941l20-33M1702 942l20-32M1578 996l13-19 4-3 8-2 4-4 18-27M1584 1000l11-15 11-5 5-4 20-32M1591 1004l8-10 10-6 5-4 23-37M1597 1008l6-6 10-6 4-5 26-41M1603 1012l12-7 5-6 29-46M1609 1017l7-2 8-8 31-51M1615 1024l7-4 6-6 33-55M1621 1031l7-5 5-7 34-57M1627 1038l11-14 36-60M1633 1043l10-15 37-61M1639 1047l47-77M1646 1051l46-79"/>
</g>
<text x="380.8" y="378.4" class="tl">0</text>
<text x="419.7" y="395.8" class="tl">1</text>
<text x="460.6" y="414.2" class="tl">2</text>
<text x="503.6" y="433.4" class="tl">3</text>
<text x="521.8" y="431.2" class="tl">0</text>
<text x="542.1" y="395.7" class="tl">1</text>
<text x="560.5" y="363.7" class="tl">2</text>
<text x="577.3" y="334.6" class="tl">3</text>
<text x="590.5" y="280.1" class="tz">0.10</text>
<text x="588.3" y="290.3" class="tz">0.05</text>
<text x="586.2" y="300.1" class="tz">0.00</text>
<text x="584.2" y="309.5" class="tz">−0.05</text>
<text x="582.2" y="318.6" class="tz">−0.10</text>
<text x="68" y="219" class="ti" textLength="41.5">QFT</text>
<text x="309.5" y="217" class="ti" textLength="47"><tspan class="it">p</tspan> = 1</text>
<text x="556.4" y="218" class="ti" textLength="63"><tspan class="it">p</tspan> = 0.5</text>
<text x="186.1" y="455" class="ti" textLength="61.5"><tspan class="it">p</tspan> = 0.1</text>
<text x="470.8" y="455" class="ti" textLength="47"><tspan class="it">p</tspan> = 0</text>
<text x="53.5" y="188" class="ax" textLength="13">x</text>
<text x="185" y="154" class="ax">t</text>
<text x="206" y="31.5" class="lab" textLength="33"><tspan class="it">δ</tspan>⟨Φ⟩</text>
</svg></body></html>
